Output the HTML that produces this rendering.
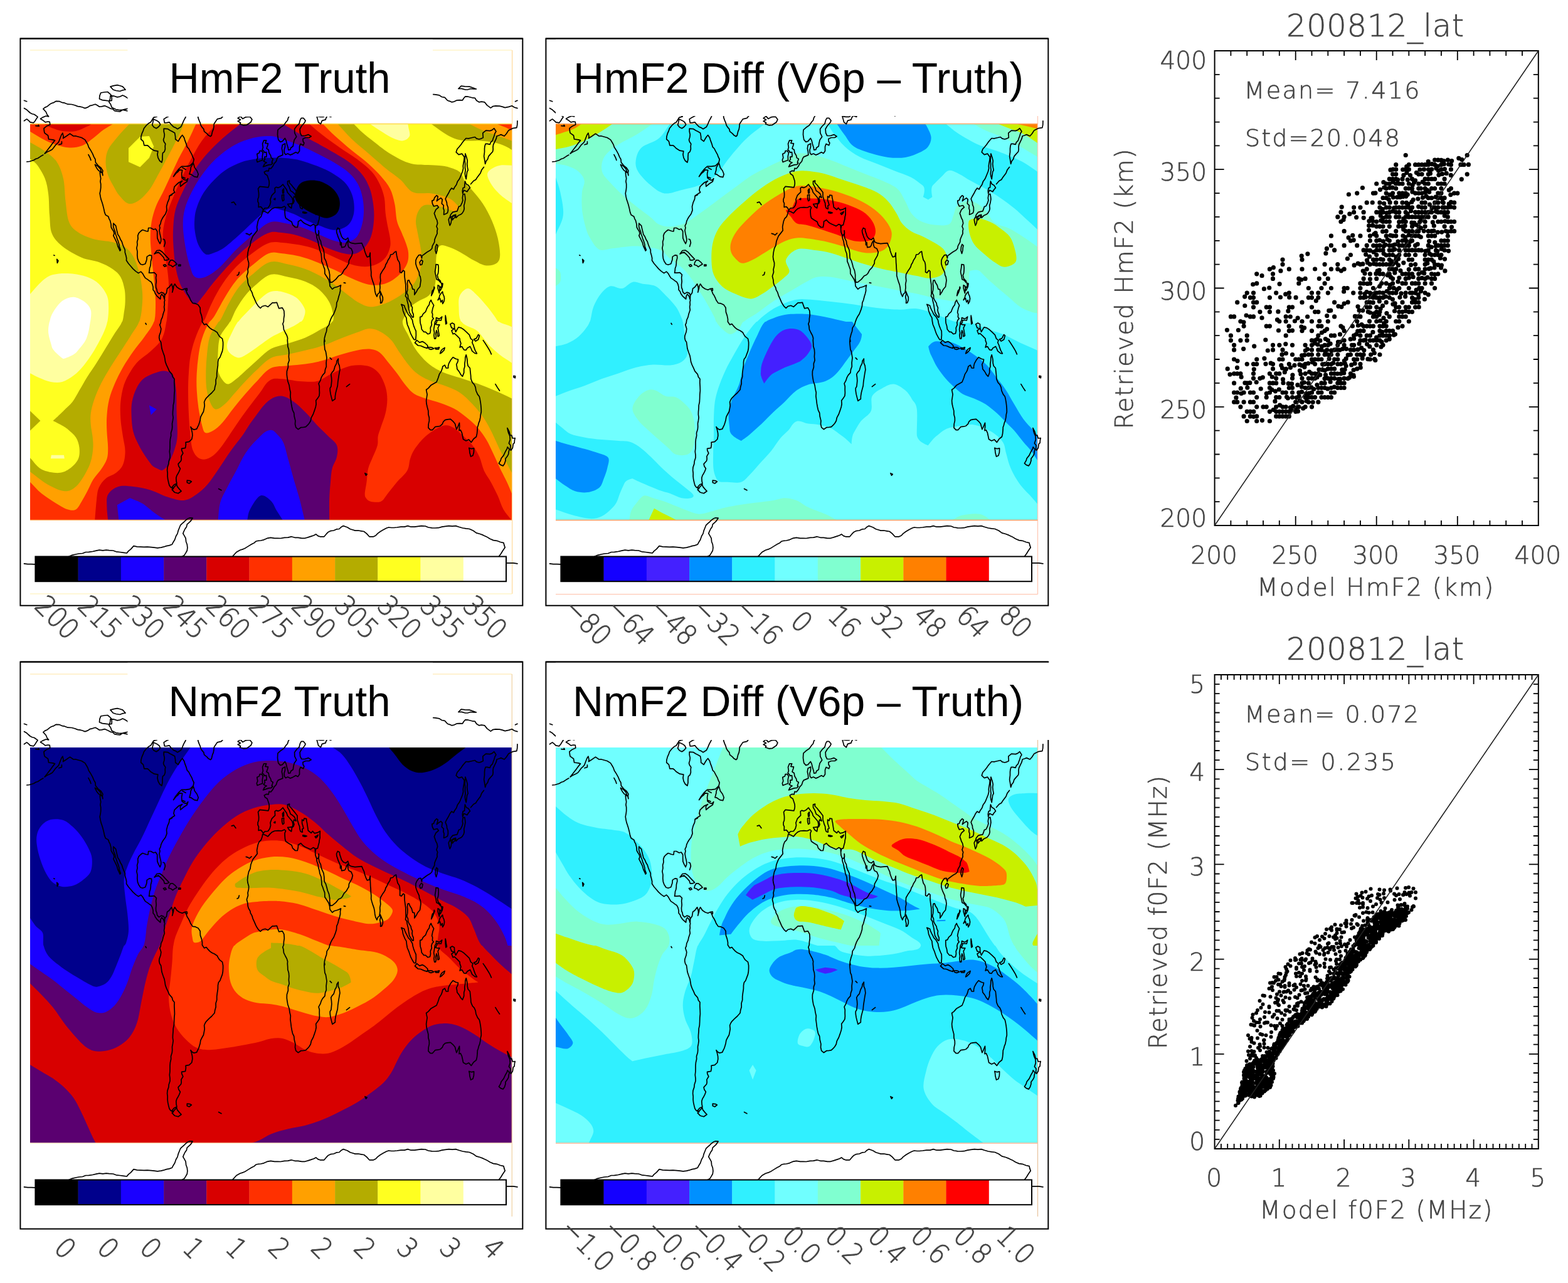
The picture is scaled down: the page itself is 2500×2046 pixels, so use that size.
<!DOCTYPE html>
<html lang="en"><head><meta charset="utf-8"><title>HmF2 / NmF2 retrieval comparison</title>
<style>
html,body{margin:0;padding:0;background:#fff}
body{width:2500px;height:2046px;overflow:hidden}
svg{display:block}
text{white-space:pre}
</style></head><body>
<svg width="2500" height="2046" viewBox="0 0 2500 2046">
<rect width="2500" height="2046" fill="#fff"/>
<g id="panel1">
<clipPath id="clip1"><rect x="48" y="197" width="768.3" height="632.5"/></clipPath>
<g clip-path="url(#clip1)">
<rect x="48" y="197" width="768.3" height="632.5" fill="#ffa000"/>
<clipPath id="q1TL"><rect x="48" y="197" width="384.3" height="317.3"/></clipPath>
<g clip-path="url(#q1TL)">
<rect x="48" y="197" width="384.3" height="317.3" fill="#ffa000"/>
<path d="M35.4 219.8C35.4 219.8 40.7 222.9 48 227.1C55.3 231.4 62.9 234.9 69.9 239.9C76.9 244.9 84.8 249.8 90 257.3C95.2 264.7 98.5 274 101 284.7C103.4 295.3 103.1 309.6 104.6 321.2C106.1 332.7 106.7 345.8 110.1 354C113.4 362.3 118 365.9 124.7 370.5C131.4 375 141.1 378.9 150.3 381.4C159.4 384 171.3 383.9 179.5 386C187.7 388.1 194.1 390.4 199.6 394.2C205 398 208.7 402.4 212.4 408.8C216 415.2 219.2 424.7 221.5 432.6C223.8 440.5 225.1 448.1 226 456.3C227 464.5 227.7 472.3 227 481.9C226.3 491.5 225.6 503.8 221.8 514C218.1 524.2 219.6 528.4 219.6 528.4L11.5 551.3L35.4 219.8Z" fill="#b4ac00"/>
<path d="M36.8 244.3C36.8 244.3 44.3 250.6 48 253.6C51.7 256.7 55 257.6 59 262.7C62.9 267.9 68.7 276.7 71.7 284.7C74.8 292.6 76 300.5 77.2 310.2C78.4 320 78.1 332.7 79 343.1C80 353.4 79.3 364.1 82.7 372.3C86 380.5 91.2 386 99.1 392.4C107 398.8 120.4 406.4 130.2 410.7C139.9 414.9 149.4 414.9 157.6 418C165.8 421 173.7 425 179.5 428.9C185.3 432.9 189.1 436.2 192.3 441.7C195.5 447.2 197.4 455.1 198.7 461.8C199.9 468.5 199.7 475.8 199.6 481.9C199.4 488 198.6 493 197.7 498.3C196.9 503.7 196.6 509.1 194.6 514C192.7 519 191.8 528.4 191.8 528.4L11.5 551.3L36.8 244.3Z" fill="#ffff20"/>
<path d="M38.2 479.9C38.2 479.9 41.9 475.8 48 469.1C54.1 462.4 60.2 454.2 66.3 449C72.3 443.8 76.9 440.2 84.5 438.1C92.1 435.9 102.8 435.6 111.9 436.2C121 436.8 131.7 439 139.3 441.7C146.9 444.4 152.4 447.8 157.6 452.7C162.7 457.5 167.8 464.8 170.4 470.9C172.9 477 173 482 173.1 489.2C173.2 496.4 172.8 505.9 171.1 514C169.4 522.2 169.9 528.6 169.9 528.6L11.5 551.3L38.2 479.9Z" fill="#ffffa0"/>
<path d="M73.9 527.8C73.9 527.8 77.7 519.5 78.9 514C80.1 508.6 81.1 504 84.5 498.3C87.9 492.7 93.7 484.2 99.1 480.1C104.6 475.9 111.3 473.4 117.4 473.7C123.5 474 131.1 478.4 135.7 481.9C140.2 485.4 143.4 489.3 144.8 494.7C146.2 500 144.8 507.6 143.9 514C143 520.4 143.2 528.6 143.2 528.6L73.9 527.8Z" fill="#ffffff"/>
<path d="M216.7 186.2C216.7 186.2 213.6 189.7 206.9 197C200.2 204.3 192.6 211.9 186.8 218.9C181 225.9 175.2 232.3 172.2 239C169.1 245.7 168.5 252.4 168.5 259.1C168.5 265.8 170 272.8 172.2 279.2C174.3 285.6 178.3 292 181.3 297.4C184.4 302.9 186.5 307.5 190.4 312C194.4 316.6 199.9 323.6 205 324.8C210.2 326 216 323 221.5 319.4C227 315.7 233.4 308.7 237.9 302.9C242.5 297.1 244.9 291.7 248.9 284.7C252.8 277.7 257.4 268.8 261.7 260.9C265.9 253 270.5 244.8 274.4 237.2C278.4 229.6 282.2 222 285.4 215.3C288.6 208.6 290.9 203.1 293.6 197C296.4 190.9 299.6 183.7 299.6 183.7L216.7 186.2Z" fill="#b4ac00"/>
<path d="M205 236.3L223.3 218L237.9 217.1L245.2 233.5L237.9 251.8L223.3 266.4L205 258.2Z" fill="#ffff20"/>
<path d="M35.5 202.3C35.5 202.3 41.9 206.1 48 209.8C54.1 213.4 60.2 217.5 66.3 220.7C72.3 223.9 77.5 226.5 84.5 229C91.5 231.4 100.7 234.7 108.3 235.3C115.9 236 123.2 235.3 130.2 232.6C137.2 229.9 144.5 223.2 150.3 218.9C156 214.7 159.7 210.7 164.9 207C170 203.4 175.8 200.3 181.3 197C186.8 193.7 193.8 189.4 193.8 189.4L11.5 160.5L35.5 202.3Z" fill="#ff3000"/>
<path d="M57.4 189.5C57.4 189.5 66.9 195.2 69.9 197C73 198.8 74.2 200.5 79 202.5C83.9 204.5 92.1 207.8 99.1 208.9C106.1 209.9 114.4 210.1 121 208.9C127.7 207.7 134.9 203.5 139.3 201.6C143.7 199.6 144.8 198.5 147.5 197C150.3 195.5 160.3 189.7 160.3 189.7L57.4 189.5Z" fill="#d80000"/>
<path d="M319 183.8C319 183.8 317.1 187.9 312.8 197C308.5 206.1 304.6 215.3 300 224.4C295.4 233.5 290 242.7 285.4 251.8C280.8 260.9 276.9 270 272.6 279.2C268.4 288.3 263.8 298.4 259.8 306.6C255.9 314.8 251.9 320.6 248.9 328.5C245.8 336.4 243.1 345.5 241.6 354C240.1 362.6 239.7 370.8 239.7 379.6C239.7 388.4 240.8 397.9 241.6 407C242.3 416.1 243.4 425.3 244.3 434.4C245.2 443.5 246.4 452.7 247.1 461.8C247.7 470.9 248.2 480.5 248 489.2C247.7 497.9 248.1 506.1 245.4 514C242.7 521.9 243.9 528.6 243.9 528.6L324.9 525.5C324.9 525.5 331.7 517.7 334 514C336.2 510.3 337.9 510.4 342 503.8C346.1 497.2 352.7 484 358.4 474.6C364.2 465.1 369.1 456 376.7 447.2C384.3 438.4 394.9 429 404.1 421.6C413.3 414.3 421.2 405.9 432 403C442.9 400.1 444.2 394.9 444.2 394.9L468 160.5L319 183.8Z" fill="#ff3000"/>
<path d="M355.2 186C355.2 186 353.6 187.9 345.7 197C337.7 206.1 328.9 214.7 321.9 224.4C314.9 234.1 309.1 245.4 303.7 255.4C298.2 265.5 293.6 274.9 289.1 284.7C284.5 294.4 280.2 304.1 276.3 313.9C272.3 323.6 268.1 333.7 265.3 343.1C262.6 352.5 260.4 361.4 259.8 370.5C259.2 379.6 260.6 388.7 261.7 397.9C262.7 407 265 416.1 266.2 425.3C267.4 434.4 268.7 443.5 269 452.7C269.3 461.8 268.7 469.8 268.1 480.1C267.4 490.3 267.2 502.8 265.3 514C263.4 525.2 264.1 528.6 264.1 528.6L315.3 526.3C315.3 526.3 322 516.3 323.2 514C324.4 511.7 324.9 512.8 327.4 507.4C329.9 502.1 333.8 491 338.4 481.9C342.9 472.7 348.4 462.1 354.8 452.7C361.2 443.2 368.5 433.6 376.7 425.3C384.9 416.9 394.9 408.9 404.1 402.4C413.3 396 421.7 389.2 432 386.6C442.4 383.9 444.7 379.3 444.7 379.3L468 160.5L355.2 186Z" fill="#d80000"/>
<path d="M395.4 187.8C395.4 187.8 393.8 189.1 384 197C374.3 204.9 363.9 212.5 354.8 220.7C345.7 229 337.1 237.2 329.2 246.3C321.3 255.4 313.7 265.5 307.3 275.5C300.9 285.6 295.4 296.8 290.9 306.6C286.3 316.3 282.4 324.8 279.9 334C277.5 343.1 276.9 352.2 276.3 361.4C275.7 370.5 275.7 378.1 276.3 388.7C276.9 399.4 278.1 414.6 279.9 425.3C281.7 435.9 283.9 444.4 287.2 452.7C290.6 460.9 296.1 469.1 300 474.6C304 480.1 307.3 485.5 311 485.5C314.6 485.5 317.1 480.4 321.9 474.6C326.8 468.8 332.6 460 340.2 450.8C347.8 441.7 358.4 429.4 367.6 419.8C376.7 410.2 384.2 401.6 395 393.3C405.7 385.1 418 374 432 370.3C446.1 366.6 444.5 362.6 444.5 362.6L468 160.5L395.4 187.8Z" fill="#5a0070"/>
<path d="M446.6 215.7C446.6 215.7 441.4 217.8 432 217.1C422.7 216.4 413.9 217.4 404.1 219.8C394.3 222.3 383.1 226.1 373.1 231.7C363 237.3 352.4 245.7 343.8 253.6C335.3 261.5 328.3 270.4 321.9 279.2C315.5 288 310.1 297.4 305.5 306.6C300.9 315.7 296.8 324.8 294.5 334C292.2 343.1 291.5 350.7 291.8 361.4C292.1 372 294.4 386.9 296.4 397.9C298.3 408.8 301.2 419.8 303.7 427.1C306.1 434.4 307 439.3 311 441.7C314.9 444.1 321 444.1 327.4 441.7C333.8 439.3 341.1 434.4 349.3 427.1C357.5 419.8 367.6 406.7 376.7 397.9C385.8 389.1 394.9 381.5 404.1 374.1C413.3 366.8 420.9 356.9 432 353.9C443.1 350.9 443.9 345.3 443.9 345.3L446.6 215.7Z" fill="#1a00ff"/>
<path d="M446.6 251.1C446.6 251.1 438.3 251.6 432 251.8C425.8 251.9 420.9 251.6 413.2 252.7C405.5 253.8 395 255 385.8 258.2C376.7 261.4 366.7 266.2 358.4 271.9C350.2 277.5 342.6 285.3 336.5 292C330.4 298.7 325.9 305 321.9 312C318 319 314.8 327.3 312.8 334C310.8 340.7 310.4 346.1 310.1 352.2C309.7 358.3 309.9 364.1 311 370.5C312 376.9 313.7 384.8 316.4 390.6C319.2 396.4 323.4 403.1 327.4 405.2C331.4 407.3 335 405.2 340.2 403.4C345.4 401.5 350.8 399.7 358.4 394.2C366.1 388.7 376.7 378.7 385.8 370.5C395 362.3 405.5 351.3 413.2 344.9C420.9 338.5 424.6 333.6 432 332C439.5 330.3 444.1 323.7 444.1 323.7L446.6 251.1Z" fill="#00008c"/>
<path d="M444.2 409.5C444.2 409.5 443 415.1 432 417.6C421.1 420.1 412.4 429.8 404.1 436.2C395.8 442.7 388.6 448.7 382.2 456.3C375.8 463.9 370.6 473.4 365.8 481.9C360.9 490.4 355.8 502.1 353 507.4C350.1 512.8 350 511.8 348.6 514C347.2 516.3 340.5 526.2 340.5 526.2L468 551.3L444.2 409.5Z" fill="#b4ac00"/>
<path d="M444.2 429.6C444.2 429.6 440.8 435.7 432 437.7C423.3 439.7 416.4 447.1 409.6 452.7C402.8 458.2 396.8 464.2 391.3 470.9C385.8 477.6 380.8 485.7 376.7 492.8C372.6 500 370.5 507.2 366.7 514C362.8 520.8 360.4 527.2 360.4 527.2L468 551.3L444.2 429.6Z" fill="#ffff20"/>
<path d="M444 456.7C444 456.7 439.4 462.9 432 465.1C424.7 467.3 419.4 473 413.2 478.2C407.1 483.5 400.6 490.5 395 496.5C389.3 502.5 383.8 507.6 379.3 514C374.8 520.4 369.5 524.9 369.5 524.9L468 551.3L444 456.7Z" fill="#ffffa0"/>
</g>
<clipPath id="q1TR"><rect x="432" y="197" width="385" height="317.3"/></clipPath>
<g clip-path="url(#q1TR)">
<rect x="432" y="197" width="385" height="317.3" fill="#b4ac00"/>
<path d="M553.2 186.7C553.2 186.7 558.6 192.1 563.5 197C568.4 201.9 572.6 206.7 578.1 211.6C583.6 216.5 588.7 220.4 596.4 226.2C604 232 614 240.5 623.9 246.3C633.8 252.1 643.6 258 655.7 260.9C667.8 263.8 686.9 262.7 696.8 263.7C706.7 264.6 709 264.6 715.1 266.4C721.1 268.2 728.7 270.2 733.3 274.6C737.9 279 739.4 288.3 742.4 292.9C745.5 297.4 747 296.7 751.6 302C756.1 307.3 764.4 316.5 769.8 324.8C775.3 333.2 780.5 343.1 784.4 352.2C788.4 361.4 791.4 370.5 793.6 379.6C795.7 388.7 797.5 400.3 797.2 407C796.9 413.7 795.4 417.1 791.8 419.8C788.1 422.5 781.1 424.1 775.3 423.4C769.5 422.8 763.1 419.2 757.1 416.1C751 413.1 745.2 408.7 738.8 405.2C732.4 401.7 724.8 397.4 718.7 395.1C712.6 392.9 706.1 389.5 702.3 391.5C698.5 393.5 697.1 399.9 695.9 407C694.7 414.2 695.4 426.2 695 434.4C694.5 442.6 695 450.2 693.1 456.3C691.3 462.4 688 467.1 684 470.9C680.1 474.7 674.3 476.1 669.4 479.1C664.5 482.2 658.7 485.1 654.8 489.2C650.8 493.3 647.8 499.7 645.7 503.8C643.5 507.9 641.7 510.4 641.8 514C641.9 517.7 636.7 527.7 636.7 527.7L852 551.3L852 238.1L828.8 246.2C828.8 246.2 819.3 240.8 816 239C812.8 237.2 811 235.5 806.4 233.5C801.7 231.5 794.9 228.7 788.1 227.1C781.3 225.6 772.9 224.8 765.3 224.4C757.7 223.9 749.3 225 742.4 224.4C735.6 223.8 730.3 223 724.2 220.7C718.1 218.5 712.2 214.7 705.9 210.7C699.7 206.7 693.1 201.6 686.7 197C680.4 192.4 674.9 188.5 674.9 188.5L553.2 186.7Z" fill="#ffff20"/>
<path d="M576.9 188.9C576.9 188.9 583.6 193.3 589 197C594.5 200.7 599.7 204.3 605.5 208C611.3 211.6 617.7 216.2 623.7 218.9C629.8 221.7 637.1 224.7 642 224.4C646.9 224.1 651.4 220.7 653 217.1C654.5 213.4 651.6 205.8 651.1 202.5C650.7 199.1 650.5 198.8 650.2 197C649.9 195.2 647.8 182.6 647.8 182.6L576.9 188.9Z" fill="#ffffa0"/>
<path d="M830.6 263.7C830.6 263.7 822.3 263.7 816 263.7C809.8 263.7 802.8 262.6 797.2 263.7C791.7 264.7 786 267.5 782.6 270C779.3 272.6 776.8 274.9 777.1 279.2C777.4 283.4 781.1 290.4 784.4 295.6C787.8 300.8 792.7 306 797.2 310.2C801.8 314.5 808.7 318.9 811.8 321.2C815 323.5 814.6 323 816 323.9C817.4 324.8 828.3 331.9 828.3 331.9L830.6 263.7Z" fill="#ffffa0"/>
<path d="M738.4 528.4C738.4 528.4 740.7 520.9 735.9 514C731.1 507.1 731.9 496.4 731.5 489.2C731.1 482 730.9 475.8 733.3 470.9C735.7 466.1 741.5 460 746.1 460C750.7 460 755.5 466.1 760.7 470.9C765.9 475.8 772.6 483.7 777.1 489.2C781.7 494.7 785 499.7 788.1 503.8C791.2 507.9 792.3 511.4 795.6 514C798.9 516.6 804.2 525.8 804.2 525.8L738.4 528.4Z" fill="#ffffa0"/>
<path d="M417.5 435.6C417.5 435.6 423 439.7 432 437.7C441 435.7 450.3 439.8 459.4 441.7C468.5 443.6 478.6 445.7 486.8 449C495 452.4 502.3 456.3 508.7 461.8C515.1 467.3 521.3 474.9 525.1 481.9C528.9 488.9 530.8 498.4 531.5 503.8C532.3 509.1 531.4 511.1 529.5 514C527.6 516.9 526.7 528.4 526.7 528.4L395.5 551.3L417.5 435.6Z" fill="#ffff20"/>
<path d="M417.4 464.8C417.4 464.8 426.2 466.8 432 465.1C437.8 463.3 443.6 463.9 450.3 465.4C457 467 466.2 470 472.2 474.6C478.1 479.1 483.9 487.4 485.9 492.8C487.8 498.3 485.2 503.9 484 507.4C482.9 511 481.1 512.2 478.9 514C476.8 515.8 470 525.6 470 525.6L395.5 551.3L417.4 464.8Z" fill="#ffffa0"/>
<path d="M733.8 189.7C733.8 189.7 739.4 193.3 747 197C754.6 200.7 762.2 204.8 769.8 208C777.4 211.2 785 213.4 792.7 216.2C800.4 218.9 808.2 221.7 816 224.4C823.8 227.1 829.8 229.2 829.8 229.2L852 160.5L733.8 189.7Z" fill="#ffa000"/>
<path d="M776.2 189.7C776.2 189.7 785.1 195.2 789.9 197C794.8 198.8 800.2 200.7 804.5 202.5C808.9 204.3 812.2 206.1 816 208C819.9 209.8 829.2 214.2 829.2 214.2L852 160.5L776.2 189.7Z" fill="#ff3000"/>
<path d="M808.2 189.7L822.8 200.7L852 160.5L808.2 189.7Z" fill="#d80000"/>
<path d="M528 186.3C528 186.3 530.6 189.1 537.9 197C545.2 204.9 551.6 212.8 559.8 220.7C568 228.7 578.1 236.6 587.2 244.5C596.4 252.4 606.1 261.2 614.6 268.2C623.1 275.2 631.1 280.1 638.4 286.5C645.7 292.9 650.2 302.9 658.4 306.6C666.7 310.2 678.2 306.9 687.7 308.4C697.1 309.9 708.2 312.7 715.1 315.7C721.9 318.7 726 323.6 728.7 326.7C731.5 329.7 732.2 332.3 731.5 334C730.7 335.6 729.2 337.5 724.2 336.7C719.2 335.9 709 331.1 701.4 329.4C693.7 327.7 684.2 325.6 678.5 326.7C672.9 327.7 670.2 331.5 667.6 335.8C665 340 663.3 346.4 663 352.2C662.7 358 664.7 364.4 665.7 370.5C666.8 376.6 668.3 382.7 669.4 388.7C670.5 394.8 671.8 400.9 672.1 407C672.4 413.1 672.3 419.5 671.2 425.3C670.2 431.1 668.2 436.5 665.7 441.7C663.3 446.9 661.2 451.4 656.6 456.3C652.1 461.2 645.4 466.4 638.4 470.9C631.4 475.5 622.5 480.7 614.6 483.7C606.7 486.7 598.2 489.5 590.9 489.2C583.6 488.9 577.5 485.5 570.8 481.9C564.1 478.2 556.8 471.8 550.7 467.3C544.6 462.7 541 459.1 534.3 454.5C527.6 449.9 518.4 444.1 510.5 439.9C502.6 435.6 495.3 432 486.8 428.9C478.3 425.9 468.5 423.5 459.4 421.6C450.3 419.7 441 415.6 432 417.6C423 419.6 417.5 415.5 417.5 415.5L395.5 160.5L528 186.3Z" fill="#ffa000"/>
<path d="M503.8 186.7C503.8 186.7 507.5 190.3 514.2 197C520.9 203.7 526.7 210.1 534.3 217.1C541.9 224.1 551 231.7 559.8 239C568.7 246.3 579.3 253.9 587.2 260.9C595.1 267.9 601.5 274.3 607.3 281C613.1 287.7 618.3 293.8 621.9 301.1C625.6 308.4 627.4 316.3 629.2 324.8C631.1 333.4 631.1 344.6 632.9 352.2C634.7 359.8 637.7 364.4 640.2 370.5C642.6 376.6 645.7 383.3 647.5 388.7C649.3 394.2 650.8 398.2 651.1 403.4C651.4 408.5 651.4 414.3 649.3 419.8C647.2 425.3 642.9 431.4 638.4 436.2C633.8 441.1 627.7 446 621.9 449C616.1 452.1 610 453.9 603.7 454.5C597.3 455.1 590.9 454.5 583.6 452.7C576.3 450.8 568 447.2 559.8 443.5C551.6 439.9 543.4 435 534.3 430.7C525.1 426.5 514.5 421.6 505 418C495.6 414.3 486.8 411.1 477.7 408.8C468.5 406.6 457.9 405.2 450.3 404.3C442.7 403.3 437.9 401.4 432 403C426.1 404.6 417.4 402 417.4 402L395.5 160.5L503.8 186.7Z" fill="#ff3000"/>
<path d="M481 187.6C481 187.6 485 190.9 492.3 197C499.6 203.1 506 208.9 514.2 215.3C522.4 221.7 532.4 229 541.6 235.3C550.7 241.7 560.4 247.2 569 253.6C577.5 260 586.6 267 592.7 273.7C598.8 280.4 602.1 286.8 605.5 293.8C608.8 300.8 611.3 308.1 612.8 315.7C614.3 323.3 613.7 331.8 614.6 339.4C615.5 347 617 354.7 618.3 361.4C619.5 368 621.3 374.1 621.9 379.6C622.5 385.1 623.1 389.1 621.9 394.2C620.7 399.4 618.3 406.1 614.6 410.7C611 415.2 605.5 419.2 600 421.6C594.5 424.1 588.4 425.3 581.7 425.3C575 425.3 567.7 424.1 559.8 421.6C551.9 419.2 543.4 414.6 534.3 410.7C525.1 406.7 514.5 401.2 505 397.9C495.6 394.5 486.8 392.4 477.7 390.6C468.5 388.7 457.9 387.6 450.3 386.9C442.7 386.3 437.9 385.1 432 386.6C426.1 388.1 417.4 386.3 417.4 386.3L395.5 160.5L481 187.6Z" fill="#d80000"/>
<path d="M437.7 189.5C437.7 189.5 441.1 191.5 450.3 197C459.4 202.5 468.5 208.3 477.7 213.4C486.8 218.6 495.6 222.9 505 228C514.5 233.2 525.1 239 534.3 244.5C543.4 250 552.5 255.1 559.8 260.9C567.1 266.7 573.2 272.8 578.1 279.2C583 285.6 586.3 292.3 589 299.3C591.8 306.3 593.3 313.9 594.5 321.2C595.7 328.5 596.4 335.8 596.4 343.1C596.4 350.4 595.7 358.3 594.5 365C593.3 371.7 591.8 377.8 589 383.3C586.3 388.7 582.4 394.2 578.1 397.9C573.8 401.5 569 404.3 563.5 405.2C558 406.1 551.9 404.9 545.2 403.4C538.5 401.8 531.5 399.4 523.3 396.1C515.1 392.7 505 386.9 495.9 383.3C486.8 379.6 476.7 376.2 468.5 374.1C460.3 372.1 452.7 371.5 446.6 370.8C440.5 370.2 436.7 369.1 432 370.3C427.3 371.5 417.4 369.8 417.4 369.8L395.5 160.5L437.7 189.5Z" fill="#5a0070"/>
<path d="M417.8 213.5C417.8 213.5 425.7 216.6 432 217.1C438.3 217.5 442.7 219.2 450.3 221.7C457.9 224.1 468.5 227.9 477.7 231.7C486.8 235.5 495.9 239.9 505 244.5C514.2 249 523.9 253.9 532.4 259.1C541 264.3 549.8 269.7 556.2 275.5C562.6 281.3 567.1 287.1 570.8 293.8C574.4 300.5 576.6 308.1 578.1 315.7C579.6 323.3 580.2 331.8 579.9 339.4C579.6 347 578.4 354.7 576.3 361.4C574.1 368 571.4 375.4 567.1 379.6C562.9 383.9 556.8 386.3 550.7 386.9C544.6 387.5 537.6 385.4 530.6 383.3C523.6 381.1 516.6 377.5 508.7 374.1C500.8 370.8 492 366.2 483.1 363.2C474.3 360.2 464.3 357.8 455.7 356.2C447.2 354.7 439.7 351.8 432 353.9C424.3 355.9 417.5 352.4 417.5 352.4L417.8 213.5Z" fill="#1a00ff"/>
<path d="M417.4 251.8C417.4 251.8 425.9 251.9 432 251.8C438.1 251.6 442.7 251.2 450.3 251.8C457.9 252.4 468.5 253.3 477.7 255.4C486.8 257.6 496.5 261.2 505 264.6C513.6 267.9 521.5 271.3 528.8 275.5C536.1 279.8 543.7 285 548.9 290.1C554 295.3 557.2 300.8 559.8 306.6C562.4 312.4 563.8 318.7 564.4 324.8C565 330.9 564.9 337.6 563.5 343.1C562.1 348.6 559.8 353.9 556.2 357.7C552.5 361.5 546.4 364.5 541.6 365.9C536.7 367.3 532.4 367 527 365.9C521.5 364.9 514.8 361.8 508.7 359.5C502.6 357.2 497.1 355.3 490.4 352.2C483.7 349.2 475.2 344.1 468.5 341.3C461.8 338.4 456.3 336.8 450.3 335.2C444.2 333.7 438 330.6 432 332C426 333.3 417.6 329.4 417.6 329.4L417.4 251.8Z" fill="#00008c"/>
<path d="M470.3 310.2C471 305.4 474 297.5 477.7 293.8C481.3 290 486.8 288.5 492.3 287.8C497.7 287 504.4 287.3 510.5 289.2C516.6 291.1 523.9 295.2 528.8 299.3C533.7 303.4 537.6 309 539.7 313.9C541.9 318.7 542.2 323.9 541.6 328.5C541 333 539.4 338.1 536.1 341.3C532.7 344.5 526.7 347.4 521.5 347.7C516.3 348 510.8 345.4 505 343.1C499.3 340.8 492 337.3 486.8 334C481.6 330.6 476.7 327 474 323C471.3 319 469.7 315.1 470.3 310.2Z" fill="#000000"/>
</g>
<clipPath id="q1BL"><rect x="48" y="513" width="384.3" height="318"/></clipPath>
<g clip-path="url(#q1BL)">
<rect x="48" y="513" width="384.3" height="318" fill="#d80000"/>
<path d="M269.1 498.9C269.1 498.9 266.9 503.7 265.3 513C263.7 522.3 262.3 532.5 258 540.4C253.7 548.3 245.8 554.7 239.7 560.5C233.7 566.3 226.7 569.9 221.5 575.1C216.3 580.3 212.7 585.1 208.7 591.5C204.7 597.9 200.5 605.2 197.7 613.4C195 621.7 193.2 631.7 192.3 640.8C191.4 650 191.7 659.1 192.3 668.2C192.9 677.4 194.7 687.1 195.9 695.6C197.1 704.1 199.6 711.7 199.6 719.4C199.6 727 198.4 735.5 195.9 741.3C193.5 747.1 189.5 750.4 185 754.1C180.4 757.7 173.1 759.2 168.5 763.2C164 767.1 160 772 157.6 777.8C155.1 783.6 155 789.2 153.9 797.9C152.9 806.6 152.1 819.3 151.2 830C150.3 840.7 149.9 844.6 149.9 844.6L11.5 867.3L11.5 476.5L269.1 498.9Z" fill="#ff3000"/>
<path d="M253.1 500.6C253.1 500.6 248.4 504.2 245.4 513C242.4 521.8 236.1 528.8 230.6 536.7C225.1 544.7 218.1 552.3 212.4 560.5C206.6 568.7 200.8 577.5 195.9 586C191 594.6 186.8 603.1 183.1 611.6C179.5 620.1 176.1 628.7 174 637.2C171.9 645.7 171 654.2 170.4 662.7C169.7 671.3 170 679.8 170.4 688.3C170.7 696.8 172.2 706.6 172.2 713.9C172.2 721.2 172.2 726.4 170.4 732.1C168.5 737.9 164.9 743.1 161.2 748.6C157.6 754.1 152.1 759.2 148.4 765C144.8 770.8 142.4 777.5 139.3 783.3C136.3 789.1 133.2 794.8 130.2 799.7C127.1 804.6 124.7 810.4 121 812.5C117.4 814.6 112.8 813.7 108.3 812.5C103.7 811.3 100.7 809.4 93.7 805.2C86.7 800.9 73.9 793 66.3 786.9C58.7 780.8 54.1 774.7 48 768.7C41.9 762.6 37.7 758.3 37.7 758.3L11.5 476.5L253.1 500.6Z" fill="#ffa000"/>
<path d="M229.4 500.5C229.4 500.5 224.8 505 221.8 513C218.9 521 213.6 527 208.7 534.9C203.8 542.8 197.7 552 192.3 560.5C186.8 569 181 577.5 175.8 586C170.7 594.6 165.5 603.1 161.2 611.6C157 620.1 153 629.3 150.3 637.2C147.5 645.1 145.7 652.4 144.8 659.1C143.9 665.8 144.3 671.3 144.8 677.4C145.2 683.4 146.9 689.5 147.5 695.6C148.1 701.7 148.9 707.2 148.4 713.9C148 720.6 146.9 728.8 144.8 735.8C142.7 742.8 139.6 749.2 135.7 755.9C131.7 762.6 126.5 771.4 121 776C115.6 780.5 110.4 783.9 102.8 783.3C95.2 782.7 84.5 777.5 75.4 772.3C66.3 767.1 57.1 758.9 48 752.2C38.9 745.5 36.2 743.6 36.2 743.6L11.5 476.5L229.4 500.5Z" fill="#b4ac00"/>
<path d="M202.4 500.6C202.4 500.6 197.3 506.3 194.6 513C192 519.7 187.5 524.3 183.1 531.3C178.8 538.3 173.4 547.1 168.5 555C163.7 562.9 158.8 571.1 153.9 578.7C149 586.4 143.9 593.4 139.3 600.7C134.7 608 130.5 615.9 126.5 622.6C122.6 629.3 119.8 635.4 115.6 640.8C111.3 646.3 105.8 650.6 101 655.4C96.1 660.3 84.5 671 84.5 671C84.5 671 104 680.4 108.3 684.7C112.5 688.9 118 692.6 121 697.4C124.1 702.3 125.9 708.1 126.5 713.9C127.1 719.7 127.1 726.7 124.7 732.1C122.3 737.6 117.1 743.1 111.9 746.7C106.7 750.4 101.3 753.7 93.7 754.1C86 754.4 73.9 752.5 66.3 748.6C58.7 744.6 54.1 736.4 48 730.3C41.9 724.2 37.7 720 37.7 720L11.5 476.5L202.4 500.6Z" fill="#ffff20"/>
<path d="M40.7 648.1L64.4 671L40.7 693.8Z" fill="#b4ac00"/>
<path d="M81.8 725.7L101.9 725.7L102.8 731.2L80.9 731.2Z" fill="#ffffa0"/>
<path d="M175.8 499.2C175.8 499.2 172.4 506.7 171.1 513C169.8 519.3 168.3 523.7 164.9 531.3C161.4 538.9 155.4 550.1 150.3 558.7C145.1 567.2 139.3 575.7 133.8 582.4C128.4 589.1 123.2 594.4 117.4 598.8C111.6 603.2 105.2 607.2 99.1 608.9C93 610.5 87 609.9 80.9 608.9C74.8 607.8 68.1 604.8 62.6 602.5C57.1 600.2 52.9 597.6 48 595.2C43.1 592.7 34.9 588.6 34.9 588.6L11.5 476.5L175.8 499.2Z" fill="#ffffa0"/>
<path d="M80.2 498.4C80.2 498.4 80.2 507 78.9 513C77.5 519 76.6 524.6 77.2 531.3C77.9 538 80.9 545.9 82.7 553.2C84.5 560.5 101 572.3 101 572.3C101 572.3 118 567.2 122.9 560.5C127.7 553.8 134 548.3 137.5 540.4C141 532.5 142.6 522.3 143.9 513C145.2 503.7 147.2 498.8 147.2 498.8L80.2 498.4Z" fill="#ffffff"/>
<path d="M254.4 592.4C248.3 594.1 236.7 598.1 230.6 602.5C224.5 606.9 221.2 612.5 217.8 618.9C214.5 625.3 211.9 633.5 210.5 640.8C209.2 648.1 209.3 654.8 209.6 662.7C209.9 670.7 210.4 680.4 212.4 688.3C214.3 696.2 218.1 703.5 221.5 710.2C224.8 716.9 229.1 723.3 232.4 728.5C235.8 733.7 238.5 737 241.6 741.3C244.6 745.5 258 750.4 258 750.4C258 750.4 265.9 746.7 269 739.4C272 732.1 275.8 724.8 278.1 717.5C280.4 710.2 282.1 705.4 282.7 695.6C283.3 685.9 282.1 671.3 281.7 659.1C281.4 646.9 281.7 632.6 280.8 622.6C279.9 612.5 278.6 603.9 276.3 598.8C274 593.8 270.8 593.5 267.1 592.4C263.5 591.4 260.4 590.8 254.4 592.4Z" fill="#5a0070"/>
<path d="M237.9 646.3L249.8 652.7L240.7 661.8Z" fill="#1a00ff"/>
<path d="M329.2 499.7C329.2 499.7 327.9 504.2 323.2 513C318.5 521.8 314.2 531.3 311 540.4C307.7 549.5 305.3 558.7 303.7 567.8C302 576.9 301.5 586 300.9 595.2C300.3 604.3 300 611.9 300 622.6C300 633.2 300.3 646.9 300.9 659.1C301.5 671.3 302.6 685.9 303.7 695.6C304.7 705.4 305.2 711.7 307.3 717.5C309.4 723.3 312.8 727.9 316.4 730.3C320.1 732.7 324.7 733.4 329.2 732.1C333.8 730.9 339 727.6 343.8 723C348.7 718.4 353 712.4 358.4 704.7C363.9 697.1 370.6 686.2 376.7 677.4C382.8 668.5 388.9 660 395 651.8C401.1 643.6 407.1 635.8 413.2 628C419.4 620.3 423.3 609.8 432 605.4C440.8 601 441.4 594.2 441.4 594.2L468 476.5L329.2 499.7Z" fill="#ff3000"/>
<path d="M339.9 499.6C339.9 499.6 339.1 504.4 334 513C328.8 521.6 324.8 531.3 321.9 540.4C319 549.5 317.8 558.7 316.4 567.8C315.1 576.9 314.2 586 313.7 595.2C313.2 604.3 313.2 613.4 313.7 622.6C314.2 631.7 315.1 640.8 316.4 650C317.8 659.1 320.1 670.7 321.9 677.4C323.7 684 324.4 688.6 327.4 690.1C330.4 691.7 335.6 689.2 340.2 686.5C344.7 683.7 349.3 679.8 354.8 673.7C360.3 667.6 367 657.6 373.1 650C379.1 642.4 385.2 635 391.3 628C397.4 621 402.8 614.8 409.6 608C416.4 601.1 422.8 591.5 432 587.1C441.3 582.8 442.8 577.2 442.8 577.2L468 476.5L339.9 499.6Z" fill="#ffa000"/>
<path d="M356 500.4C356 500.4 353.4 505.2 348.6 513C343.7 520.8 337.8 528.2 334.7 536.7C331.6 545.3 331.2 555 330.1 564.1C329.1 573.3 328.5 582.4 328.3 591.5C328.2 600.7 328.2 610.7 329.2 618.9C330.3 627.1 332.3 635.2 334.7 640.8C337.1 646.5 339.9 652.1 343.8 652.7C347.8 653.3 353.3 648.9 358.4 644.5C363.6 640.1 369.4 632.3 374.9 626.2C380.4 620.1 385.5 614 391.3 608C397.1 601.9 402.8 595.9 409.6 589.7C416.4 583.5 423.3 575.2 432 570.9C440.8 566.6 443.2 561.5 443.2 561.5L468 476.5L356 500.4Z" fill="#b4ac00"/>
<path d="M374.7 500.8C374.7 500.8 371.3 504.8 366.7 513C362 521.2 354.3 528.2 351.1 536.7C347.9 545.3 348.1 555.3 347.5 564.1C346.9 573 346.3 582.7 347.5 589.7C348.7 596.7 352.1 602.3 354.8 606.1C357.5 609.9 360.3 612.8 363.9 612.5C367.6 612.2 371.5 608.4 376.7 604.3C381.9 600.2 388.9 593.4 395 587.9C401.1 582.4 407.1 576.7 413.2 571.4C419.4 566.2 424.9 560.1 432 556.3C439.1 552.5 443.4 547.1 443.4 547.1L468 476.5L374.7 500.8Z" fill="#ffff20"/>
<path d="M386.2 500.1C386.2 500.1 383.2 507.3 379.3 513C375.3 518.7 372.3 525.2 369.4 531.3C366.5 537.3 362.7 544.3 362.1 549.5C361.5 554.7 362.7 558.8 365.8 562.3C368.8 565.8 375.5 570.2 380.4 570.5C385.2 570.8 389.5 567.3 395 564.1C400.4 560.9 407.1 555.7 413.2 551.3C419.4 547 425.5 542 432 538C438.6 534 444 529.6 444 529.6L468 476.5L386.2 500.1Z" fill="#ffffa0"/>
<path d="M441.7 625.5C441.7 625.5 444 629.1 432 636.4C420 643.8 411.8 658.4 404.1 668.2C396.4 678.1 391.9 687.1 385.8 695.6C379.8 704.1 373.7 710.8 367.6 719.4C361.5 727.9 355.4 737.9 349.3 746.7C343.2 755.6 337.1 765.3 331.1 772.3C325 779.3 319.2 784.5 312.8 788.7C306.4 793 300.3 797.3 292.7 797.9C285.1 798.5 276 795.1 267.1 792.4C258.3 789.7 248.9 784.2 239.7 781.4C230.6 778.7 220.9 776.9 212.4 776C203.8 775.1 195.3 773.8 188.6 776C181.9 778.1 175.2 783.3 172.2 788.7C169.1 794.2 170.4 802 170.4 808.8C170.4 815.7 171.6 823 172.2 830C172.8 837.1 173.4 844.6 173.4 844.6L468 867.3L441.7 625.5Z" fill="#5a0070"/>
<path d="M444.1 677.5C444.1 677.5 441.1 685.9 432 685.8C423 685.6 416.4 694.9 409.6 701.1C402.8 707.3 396.8 714.8 391.3 723C385.8 731.2 381.6 741.3 376.7 750.4C371.8 759.5 366.4 769.3 362.1 777.8C357.8 786.3 353.6 792.8 351.1 801.5C348.7 810.2 348.7 820.5 347.5 830C346.3 839.5 345.6 844.5 345.6 844.5L468 867.3L444.1 677.5Z" fill="#1a00ff"/>
<path d="M390.4 844.2C390.4 844.2 392.5 835.9 394.1 830C395.6 824.2 395.1 819.1 398.6 812.5C402.1 805.9 409.5 792.9 415.1 790.6C420.6 788.3 427.4 794.5 432 798.8C436.7 803.1 445.2 805.2 445.2 805.2L468 867.3L390.4 844.2Z" fill="#00008c"/>
<path d="M190.4 838.1L186.8 805.2L206.9 794.2C206.9 794.2 224.5 800.3 230.6 805.2C236.7 810.1 243.1 815.7 248.9 819.8C254.7 823.9 259.8 826.6 265.3 830C270.8 833.4 277.7 837.7 277.7 837.7L190.4 838.1Z" fill="#1a00ff"/>
</g>
<clipPath id="q1BR"><rect x="432" y="513" width="385" height="318"/></clipPath>
<g clip-path="url(#q1BR)">
<rect x="432" y="513" width="385" height="318" fill="#d80000"/>
<path d="M417.9 640.1C417.9 640.1 426.6 639.7 432 636.4C437.4 633.1 444.2 631 450.3 631.7C456.3 632.4 462.4 636.6 468.5 640.8C474.6 645.1 480.7 651.2 486.8 657.3C492.9 663.4 499 671 505 677.4C511.1 683.7 518 690.1 523.3 695.6C528.6 701.1 534.7 704.7 537 710.2C539.3 715.7 538.2 722.4 537 728.5C535.8 734.6 531.4 740.1 529.7 746.7C528 753.4 527.7 760.4 527 768.7C526.2 776.9 525.4 785.8 525.1 796.1C524.8 806.3 525.1 818.7 525.1 830C525.1 841.3 525.1 844.6 525.1 844.6L395.5 867.3L417.9 640.1Z" fill="#5a0070"/>
<path d="M420.2 677.1C420.2 677.1 427.5 685.7 432 685.8C436.5 685.8 439.6 690.3 443 693.8C446.3 697.3 449.3 700.2 452.1 706.6C454.8 713 456.7 722.4 459.4 732.1C462.1 741.9 465.5 754.4 468.5 765C471.6 775.7 474.8 785.2 477.7 796.1C480.5 806.9 483.1 818.7 485.9 830C488.6 841.3 489.3 844.2 489.3 844.2L395.5 867.3L420.2 677.1Z" fill="#1a00ff"/>
<path d="M424.6 786.2C424.6 786.2 427.6 794.7 432 798.8C436.4 802.9 437.9 809.1 441.1 814.3C444.3 819.5 447.8 824.8 451.2 830C454.5 835.3 459 842.3 459 842.3L395.5 867.3L424.6 786.2Z" fill="#00008c"/>
<path d="M417.4 606.3C417.4 606.3 426.6 608.2 432 605.4C437.4 602.6 442.7 603.9 450.3 604.3C457.9 604.7 468.5 607.4 477.7 608C486.8 608.6 497.4 609.5 505 608C512.7 606.4 517.2 601.9 523.3 598.8C529.4 595.8 535.5 592.3 541.6 589.7C547.7 587.1 553.7 584.5 559.8 583.3C565.9 582.1 572.6 581.9 578.1 582.4C583.6 582.9 588.1 583.6 592.7 586C597.3 588.5 601.8 591.8 605.5 597C609.1 602.2 612.6 610.4 614.6 617.1C616.6 623.8 617.4 630.2 617.4 637.2C617.4 644.2 616.3 651.8 614.6 659.1C612.9 666.4 609.3 674.9 607.3 681C605.3 687.1 603.7 690.7 602.7 695.6C601.8 700.5 603.2 704.7 601.8 710.2C600.5 715.7 597 722.4 594.5 728.5C592.1 734.6 588.9 740.1 587.2 746.7C585.5 753.4 585.4 762 584.5 768.7C583.6 775.4 581.9 782.7 581.7 786.9C581.6 791.2 582 792.1 583.6 794.2C585.1 796.4 586.9 798.8 590.9 799.7C594.8 800.6 602.7 801.8 607.3 799.7C611.9 797.6 614 792.1 618.3 786.9C622.5 781.7 627.7 774.7 632.9 768.7C638.1 762.6 645.8 756.5 649.3 750.4C652.8 744.3 652.1 737.6 653.9 732.1C655.7 726.7 656.8 723 660.3 717.5C663.8 712.1 669.7 704.4 674.9 699.3C680.1 694.1 685.5 690 691.3 686.5C697.1 683 704.1 678.9 709.6 678.3C715.1 677.7 719.3 679.9 724.2 682.8C729.1 685.7 733.9 691 738.8 695.6C743.7 700.2 749.1 704.7 753.4 710.2C757.7 715.7 761.3 721.8 764.4 728.5C767.4 735.2 768.6 743.7 771.7 750.4C774.7 757.1 779 762 782.6 768.7C786.3 775.4 790.2 783.3 793.6 790.6C796.9 797.9 799 805.9 802.7 812.5C806.5 819.1 811.6 824.2 816 830C820.5 835.9 824.9 841.6 824.9 841.6L852 476.5L395.5 476.5L417.4 606.3Z" fill="#ff3000"/>
<path d="M417.5 589.2C417.5 589.2 423.7 591.1 432 587.1C440.3 583.2 450.3 584.4 459.4 583.3C468.5 582.2 477.7 581.9 486.8 580.6C495.9 579.2 505 577.5 514.2 575.1C523.3 572.7 532.4 568.7 541.6 566C550.7 563.2 560.7 560.2 569 558.7C577.2 557.1 584.8 556.2 590.9 556.8C597 557.4 600.9 559 605.5 562.3C610 565.7 613.7 571.4 618.3 576.9C622.8 582.4 628 588.8 632.9 595.2C637.7 601.6 642.9 609.8 647.5 615.3C652.1 620.7 655.1 624.7 660.3 628C665.4 631.4 671.5 632.9 678.5 635.4C685.5 637.8 694.7 639.9 702.3 642.7C709.9 645.4 717.5 648.1 724.2 651.8C730.9 655.4 736.4 659.7 742.4 664.6C748.5 669.4 755.2 674.9 760.7 681C766.2 687.1 771.1 694.1 775.3 701.1C779.6 708.1 782.6 715.4 786.3 723C789.9 730.6 793.6 739.1 797.2 746.7C800.9 754.4 805.1 762 808.2 768.7C811.3 775.4 813.4 780.8 816 786.9C818.7 793 823.3 800.3 823.3 800.3L852 476.5L395.5 476.5L417.5 589.2Z" fill="#ffa000"/>
<path d="M417.7 573.9C417.7 573.9 423.6 575 432 570.9C440.4 566.8 450.3 567.1 459.4 565C468.5 563 477.7 560.9 486.8 558.7C495.9 556.4 505 554.4 514.2 551.3C523.3 548.3 532.4 543.9 541.6 540.4C550.7 536.9 561 533.1 569 530.3C576.9 527.6 582.7 524.1 589 524C595.4 523.8 601.5 526.4 607.3 529.4C613.1 532.5 618.6 536.4 623.7 542.2C628.9 548 633.2 556.8 638.4 564.1C643.5 571.4 649.6 580.3 654.8 586C660 591.8 663.9 595.2 669.4 598.8C674.9 602.5 681 605.2 687.7 608C694.4 610.7 702 612.2 709.6 615.3C717.2 618.3 726 621.4 733.3 626.2C740.6 631.1 747.3 638.1 753.4 644.5C759.5 650.9 765 657.6 769.8 664.6C774.7 671.6 778.4 678.3 782.6 686.5C786.9 694.7 791.8 706.3 795.4 713.9C799.1 721.5 801.1 725.4 804.5 732.1C808 738.8 812.2 746.7 816 754.1C819.9 761.4 823.3 767 823.3 767L852 476.5L395.5 476.5L417.7 573.9Z" fill="#b4ac00"/>
<path d="M418.1 560.6C418.1 560.6 423.6 560.8 432 556.3C440.4 551.8 450.3 550.6 459.4 547.7C468.5 544.7 478.3 542.2 486.8 538.6C495.3 534.9 503.4 530 510.5 525.8C517.6 521.5 525.3 519.4 529.5 513C533.7 506.6 541.6 504.8 541.6 504.8L395.5 476.5L418.1 560.6Z" fill="#ffff20"/>
<path d="M419 544.8C419 544.8 426.1 541.6 432 538C437.9 534.4 442.4 532.7 450.3 528.5C458.1 524.4 470.6 520 478.9 513C487.2 506 491.8 505.7 491.8 505.7L395.5 476.5L419 544.8Z" fill="#ffffa0"/>
<path d="M636.1 499.6C636.1 499.6 641.7 505.1 641.8 513C642 520.9 647.5 527.3 651.1 534.9C654.8 542.5 658.4 551 663.9 558.7C669.4 566.3 677 574.8 684 580.6C691 586.4 697.7 589.7 705.9 593.4C714.1 597 724.2 599.4 733.3 602.5C742.4 605.5 751.6 608.3 760.7 611.6C769.8 615 778.9 618.6 788.1 622.6C797.3 626.5 806.7 631.1 816 635.4C825.4 639.6 829.3 641.4 829.3 641.4L852 476.5L636.1 499.6Z" fill="#ffff20"/>
<path d="M723.3 505.6C723.3 505.6 730.4 505.1 735.9 513C741.3 520.9 753.5 521.5 760.7 527.6C767.9 533.7 772.9 543.1 779 549.5C785.1 555.9 791.1 561.1 797.2 566C803.4 570.8 809.8 574.5 816 578.7C822.3 583 828.1 587 828.1 587L829.7 526.4C829.7 526.4 819.3 522.4 816 521.2C812.8 520 809.8 518.9 806.4 517.6C803 516.2 798.6 515.4 795.6 513C792.5 510.6 782.1 505.7 782.1 505.7L723.3 505.6Z" fill="#ffffa0"/>
</g>
</g>
<path d="M48 80H816" stroke="#fff4c8" stroke-width="1.3" fill="none"/><path d="M816.6 80V947" stroke="#ffdca0" stroke-width="1.3" fill="none"/><path d="M48 947H816.3" stroke="#fff4c8" stroke-width="1.3" fill="none"/><path d="M48 197.5H816.3" stroke="#ffd84a" stroke-width="1.3" fill="none"/><path d="M48 829.3H816.3" stroke="#ffb060" stroke-width="1.3" fill="none"/>
<clipPath id="cclip1"><rect x="37.5" y="69" width="789" height="888"/></clipPath>
<g clip-path="url(#cclip1)"><g transform="translate(0 0)" fill="none" stroke="#000" stroke-width="1.7" stroke-linejoin="round" stroke-linecap="round"><path d="M418.7 336.4L422.7 337.5L427.2 339.9L430.8 335.6L433.8 332.9L438.2 331L443.7 330.7L449.1 331L453.5 329L455.6 331L454.1 334.4L454.1 337.9L454.5 343.8L455.6 347.7L460 350.7L465 353.7L466.6 358.6L470.9 362.5L474.2 362.5L475.3 357.6L475.5 353.2L479.7 350.7L482.9 354.2L486.2 356.6L490.6 358.6L495 360.6L499.3 357.6L502.2 359.1L502.6 365L502.9 369.8L504.8 374.9L505.1 379.1L507 384.7L507.9 390.3L509.2 394.6L509.9 399L512 404.5L512.7 411.4L512.9 416.8L514.4 420.3L515.7 424.2L517.7 429.6L517.9 436.5L521.2 441.5L524 446L525.6 451.3L526 456.3L529.9 461.2L532.6 458.8L536.5 457.8L539.6 456.8L543.5 454.8L542.5 459.4L542.6 463.7L541.5 468.4L540.1 472.7L538.7 478.5L536.8 482.9L536.5 488.3L534.6 494.4L532.1 500.7L529.6 504.5L527.7 508.1L526 512.6L524.5 517.9L521.2 522.9L520.6 528.2L519 532.7L517.4 539L516.8 545.1L517.4 551.9L517.9 557.4L519.4 560.7L520.1 564.8L521 570.7L520.1 578.4L520.3 584.5L518.5 589.4L517.9 594.4L514.3 598.4L512.4 601.8L510.7 606.9L508.1 611.7L509.3 616.3L509.2 621.5L509.4 626.6L508.9 631.4L506.5 635L503.7 638.8L504.1 644.5L503.3 648.7L501.3 654.9L499.3 660.5L496.4 665.8L495.2 671.3L492.8 675.3L490.7 677.6L487.5 680.7L483.4 681.5L479.7 681.7L475.3 684.7L471.8 681.7L470.5 676.2L470.9 670.9L469.2 664L468.7 658.5L466.5 654.1L465.2 648.2L464.4 643.7L463.8 638.5L462.9 631.8L463.3 626L462 620.6L461.1 614.5L458.8 607.7L457.8 601.8L457.3 597.6L457.4 591.9L459.4 585.5L459.3 579.9L461.1 574.7L460.4 568.9L460.8 562.7L460.4 557.4L458.8 552.3L458.7 547.7L458.3 542.6L458.6 539.2L457.4 535.2L454.9 530.5L452.4 525.3L451.9 520.1L450.8 516.5L452.3 512.8L452.4 508.1L453.3 502.4L452.8 495.7L450.2 490.8L446.9 491.3L444.7 491.8L442.9 486.9L441.4 482.4L437.1 482.9L434.2 482.9L429.4 487.3L427.2 489.3L422.9 487.3L418.2 488.5L415.2 491.3L411.9 488.3L409.4 484.5L408 481.9L405.3 475.7L403.2 471.1L401.7 466.1L399.3 461.8L398.8 458.7L396.4 454.8L395.3 451.3L394.9 446.4L393.4 440.5L395.5 434.1L395.1 429.8L396.5 423.6L396.6 419.3L395.1 414.1L394.5 409.4L395.3 402.1L396.6 396.1L398.9 391.3L399.9 384.7L401.5 380.5L403.2 376.4L407.6 370.9L410.2 367.5L409.6 361.8L410.4 357.6L411.4 352.7L413 348.7L416.3 345.3L418.1 340.2L418.7 336.4M539.3 572.2L539.3 578.8L541.1 583.1L541.9 589.5L540.9 594.8L539.8 601.8L538.7 609.2L538.2 615.3L536.5 621.5L535.3 626.2L534.4 631.9L534.3 636.3L529.9 639.3L528.6 634.4L527.1 628.4L526.3 623.2L526.2 619.1L527.9 616.2L528.4 611.7L528.8 607.3L528.5 602.2L527.7 596.9L529.4 593.9L532.1 590.9L534 584.4L536.5 579.6L537.1 575.5L539.3 572.2M419.8 334.9L422 332L427.2 331.5L430.1 327.5L431.6 322.1L430.9 318.1L433.3 311.7L435.5 309.4L438.6 306.3L438.2 299.9L440.3 298.4L443.4 299.4L447.6 297.4L451 294L454.1 298.4L457 302.5L458.3 306.8L462.6 311.7L465.9 315.7L467 320.3L466.6 323.1L465.7 325.5L467.7 324.1L469 320.6L467.9 317.2L468.7 313.2L472 315.2L470.9 312.2L469.6 309L466.6 306.3L463.3 304.3L461.1 297.9L458.5 293.5L458.5 289L461.5 288.1L461.3 291.5L464.8 295L467.4 298.4L471.1 302.9L474 306.8L474 313.2L475.3 317.2L476 320.1L477.7 324.1L477.8 327.2L479 331.5L480.8 332.9L482.3 332.9L481.9 328L484 327L482.9 323.1L481.6 319.1L481.6 313.2L484 314.7L484.9 311.2L488.4 311.7L488.8 315.2L489.5 318.1L490.2 323.1L490.9 327.5L491.3 330.5L493.2 332L496.1 334.4L498.5 331.5L501.5 334.9L505.9 333.9L510.3 331.5L510 337.9L510.2 341.8L509.2 345.8L508.8 349.8L507.9 352.7L506.5 358.6L503.7 359.6L502.6 365L503 370.2L504.8 374.9L507 374.9L508.3 371.7L508.1 367.5L508.5 371.1L508.1 374.9L509.1 380.3L511.4 384.7L512.1 389.5L513.5 393.1L516 398.6L516.8 404.5L516.9 409L517.3 411.9L519.6 416.2L521.2 421.7L522.2 426L524.5 431.6L525.7 438.3L525.6 443.9L526.6 450.4L529.9 449.9L532 448.2L535.4 445.4L539.8 440L543.6 438.3L545.7 436L548.5 430.6L552.4 426.7L554 423.6L556.1 420.3L556.4 415.7L557.9 412.9L560.9 407.7L562.3 402L560.1 396.6L556.1 394.6L554.8 390.7L554.6 383.8L552.4 387.2L551.1 391.2L549.6 393.6L544.8 394.6L544.3 391.3L544.1 386.7L542.6 390.7L542.4 385.9L541.1 382.3L539.2 378.2L538.2 374.9L536.9 371.3L536.5 367.5L538.4 363.5L541.3 365L541.7 368.6L543 372.4L544.6 377.3L547.4 380.8L551.3 382.3L554.6 379.3L556.6 385.7L560.5 387.7L566 388.7L571.4 388.2L576.9 387.7L578.7 392.1L580.6 396.1L581.2 399.5L582.4 403L584 407.2L585.4 409.9L588.9 408.9L590.2 403L590.2 409.2L590.5 413.9L590.7 419.3L591.1 423.3L591.3 428.6L591.8 434.1L591.7 439.5L592.9 443.9L594.4 448.9L596.2 453.9L597.2 458.7L597.7 463.7L598.8 468.6L600.9 473L602.5 468.6L604.7 467.1L605.4 463.4L606 458.7L605.7 453.4L606.8 447.9L606.3 442.3L606.6 437.5L609.7 432.1L611.9 429.1L614 425.5L615.1 421.7L616.9 419L618.4 415.3L621.5 410.4L622.8 406L626.1 405.5L629.3 402L631.5 401L632.6 407.9L634.1 414.3L636.5 417.9L637.4 421.7L637.7 427.9L637.6 434.1L639.8 435.1L643.1 431.1L644.9 432.6L645 437.4L645.1 441.5L645.9 447.7L646.8 453.8L646.9 459.5L647 463.7L647.1 468.5L646.4 472.1L648.6 475.3L649.2 479.5L650.8 485.9L651.8 492.8L652.7 498.2L655.6 503.1L657.7 506.1L659.3 505.6L659.1 501.2L657.7 498.2L657 494.4L657.5 490.8L655.6 486.6L655.1 483.4L652.3 479L650.6 475.3L650.5 471.1L648.6 467.1L649.7 462.4L649.9 456.3L649.4 452.2L650.1 447.4L652.1 446.9L653.6 450.8L656.2 454.8L658 461.2L660.6 461.7L661 465.2L660.8 470.1L664.3 464.7L666.1 461.2L669.5 457.3L670.4 451.3L671 447.2L670.2 441.5L668.7 438.6L668.2 434.1L665.4 428.2L663.9 424.2L662.8 420.3L663 414.8L664.7 410.9L667.6 406.9L670.9 406.4L672.4 411.9L673 407.9L676.3 405.5L679.6 403L681.8 401.5L686.2 399L688.7 396.2L689.4 392.1L692.7 386.2L692.9 382.4L694.2 378.8L695.7 375.3L697.1 372.4L696.9 368.4L697.7 365L696 361.1L697.7 356.1L696.7 351.1L694.9 347.7L693.7 343.9L692.3 340.3L694.9 334.4L699.3 330.5L697.1 327.5L691.6 329L689.4 324.6L688.8 320.1L691.6 319.1L692.9 315.1L696 311.7L698.2 313.2L697.5 316.9L696.4 320.6L699.3 318.1L703 315.7L705.2 318.1L704.3 324.6L707.3 327.5L706.9 332.3L708 335.4L707.6 342.3L710.2 341.3L713.5 339.4L714.4 335.8L714.3 330.5L712.6 326.4L712.4 323.1L710.2 317.2L712.4 312.7L715 308.3L717.2 303.8L720 299.9L723.3 301.9L724.7 298.7L727.7 294.5L729.4 289.6L732 286.1L733.5 283.1L735.3 278.7L737.5 273.3L738.6 268.8L738.3 264.6L739.2 259L739.9 255.1L740.3 250.6L736.4 245.1L731.4 246.6L727.2 242.7L728.9 237.7L732 234.3L735.1 230.5L737.5 226.9L739.5 224.5L743 220.5L747 220.8L750.6 220L757.2 218.5L759.7 220.9L763.7 222L766.2 221.4L770.3 219.5L770 215.5L769.8 212.1L774.6 208.1L781.2 208.6L784.6 207.4L787.8 204.7L791 209.6L789 212.7L787.8 217L786.5 220.2L785.1 224.4L782.5 226.8L781.2 230.3L776.9 229.3L774.2 229.4L773 232.7L772.5 236.8L772.5 242.5L771.6 249.1L772.6 254.7L773.6 261.4L775.2 256.8L777.5 254L778.9 249.4L781.2 246.6L785.6 241.7L786.2 238.1L786 234.3L786.6 230.5L788.4 226.9L791.1 221.2L792.1 217L796 215.7L798.7 214.6L804.1 217L807.4 213.2L810.7 208.1L813.8 206.4L817.3 204.7L823.8 203.7L824.7 199.1L824.9 192.8M824.9 172.6L820.2 171.2L816.2 168.7L811.1 170.4L805.2 171.6L800.7 170.1L796.5 169.2L790.2 168.8L785.6 169.7L782.3 172.1L776.6 167.9L772.5 162.8L767.7 162.2L763.7 162.8L759.7 160.2L757.2 156.3L752.7 155.8L746.6 154.2L741.9 153.9L739.3 156.8L737.5 159.8L732.5 159.7L728.8 159.8L724 162.1L720 162.8L717.6 161.6L713.5 160.3L709.1 155.4L704.3 154.5L700.4 151.9L694.5 150.9L689.4 150.4L683.6 149.5L679.6 148.9L679 143.5L678.5 138.1L672.5 136.1L667.6 134.1L662.9 131.5L659.9 129.7L654.3 132.5L650.1 135.6L642.7 136.5L637 139.1L630.1 139.6L623.9 141.1L622.4 145.1L620.6 148.9L616.1 149.5L610.8 149.4L609.5 153.8L607.5 156.8L603.5 156.5L599.8 156.8L594.4 152.9L593.4 156.5L590.7 161.3L591.9 168.4L592.4 175.1L589.8 180.6L588.9 185L588 180L585.6 174.6L580.6 173.6L579.5 168.7L577.6 162.8L579.2 158.4L582.1 153.9L584.1 151.4L581.9 158.1L580.3 164.2L577.6 169.7L572.5 171.6L568.4 171.1L564 169.2L558.3 173.1L554.8 174.9L550.7 176.1L547.4 173.1L542.5 174.5L538.7 177.6L532.8 176.1L529.8 178.5L528.2 181.5L527.7 186.4L522.1 184.5L519.8 188.3L519 190.9L513.5 192.4L511.4 197.8L507.6 194.8L506.4 190.4L505 185.4L510.6 186.3L515.7 186.4L521.2 182.5L520.1 177.6L515.7 173.9L511.4 172.1L508.1 171.6L503.7 170.2L498.2 168.7L495.5 165.8L492.8 162.8L487.3 162.3L484.3 163.7L480.8 166.7L477.4 167.5L473.1 169.2L469.1 172L466.6 175.6L463.3 181.5L461.8 184.2L459.6 187.9L458.4 192L456.3 194.3L452.4 199.8L448 202.7L443 207.2L442.7 210.6L442.5 214.6L443.1 219.1L443.8 222.9L446.9 226.4L450.2 225.4L454.3 220.5L456.1 223.9L457.4 229.4L459.3 235.8L459.8 239.2L462.8 238.7L463.7 235.8L467.2 233.3L467.9 228.4L469.2 222.9L472.7 218L469.8 212.1L469.6 205.7L472.9 201.2L477 197.3L478.6 191.4L480.3 188.4L484 188.4L487.1 192.4L485.4 195.8L481 200.7L478.1 205.7L478.6 212.1L480.8 216.5L486.2 216.5L491.7 214.6L496.1 217.5L492.8 219.5L487.3 219.5L482.9 221.5L483.2 225.4L484.9 227.9L483.6 231.8L479.2 229.4L477.5 233.8L477.5 240.7L474.9 244.6L471.6 242.7L466.6 245.6L462.6 247.1L458.9 245.1L455.6 246.6L453.5 244.2L453 239.2L454.5 234.3L454.5 228.9L450.2 231.3L449.3 236.8L450.4 241.7L450.8 247.1L447.3 248.6L443.6 250.1L441.9 252.5L440.3 257.5L437.1 260.9L435.1 264.9L432 268.8L429 268.3L428.1 272.8L425 272.3L421.3 274.2L422.4 277.2L426.1 279.7L427.7 284.6L429 288.5L429.3 292.5L428.8 295.9L427.7 298.9L423.3 298.4L418.9 297.9L414.1 297.4L411.5 300.9L412.4 306.8L412.6 309.7L412.4 314.2L411.1 317.5L411.1 321.6L412.4 324.1L412.2 330.5L415.4 329.5L417.6 331.5L419.8 334.9M419.6 265.9L424 264.4L428.3 262.9L432.7 262.4L434.7 259.9L433.3 259L435.3 253.5L432.3 251.6L431.6 248.1L429 243.7L428.1 238.7L425 236.8L426.8 231.8L427.4 228.9L422.9 228.4L424.6 223.9L420.7 223.9L418.5 229.4L419.4 235.3L418.1 238.7L421.1 241.7L421.5 243.2L424.6 242.7L425 247.6L424.8 250.1L421.8 250.1L422.4 254L420.2 257L422.9 258.5L425 259.4L421.8 261.4L419.6 265.9M418.5 255.5L415.2 256.5L410.2 258.5L409.3 255L410.8 251.6L409.8 245.6L413.5 243.7L414.1 240.7L417.4 240.7L419.4 243.7L418.3 249.1L418.5 255.5M382.4 197.8L387.9 199.8L393.4 199.3L397.1 196.7L399.9 194.8L401.9 190.4L398.8 186.4L394.5 186.4L391.2 186.9L386.8 189.4L383.5 185.4L379.2 188.4L383.5 190.9L379.2 193.3L383.5 195.8L382.4 197.8M455.6 120.8L459 124.9L462.2 130.7L464.7 132.2L468.7 134.6L471.2 130.5L473.1 125.8L479.7 127.2L477.5 121.3L484.4 119.2L490.6 117.9L485.5 117.1L480.3 115.9L475.3 115.9L470.5 117.1L464.4 119.3L460.9 120.9L455.6 120.8M544.1 162.8L548.5 163.7L552 164.2L557.2 164.7L555.6 162.1L552.9 157.8L553.3 153.7L554 150.4L556.7 147.5L560.5 143L565.5 140.7L571.4 138.1L575.7 136.2L581.3 134.1L575.8 133.2L572.3 134.1L567.6 136.5L562.7 138.1L559 140.9L554 143L550.7 147.4L548.5 150.4L546.3 154.5L544.1 160.3L544.1 162.8M639.2 123.3L643.7 125.7L650.1 128.2L655.5 126.6L661 125.8L654.9 121.8L650.1 118.4L645.4 116.5L641.4 113.4L637.2 116.3L634.8 118.4L639.2 123.3M606.4 464.7L609 471.1L610.3 474.1L610.3 478.5L608.6 482.9L606.6 483.4L606.9 478.9L605.7 473.5L606.8 468.7L606.4 464.7M669.1 418.3L671.9 414.3L674.1 416.3L672.8 421.7L670.2 422.7L669.1 418.3M696 389.7L698 391.6L697.2 395.4L696.9 399.5L695.5 404.5L694 399.5L694.5 393.6L696 389.7M741.9 245.1L744.1 251.6L745.3 256.6L744.7 261.4L745.2 266.2L746.2 271.3L744.7 274.2L744.1 278.7L743.2 285.6L741.9 281.1L741.3 276.8L742.1 271.3L741.5 267.1L741.7 261.4L741.1 256.1L741.4 251.6L741.9 245.1M737.7 308.3L739.7 303.3L744.7 305.8L747.1 302L749.5 299.4L746.9 295.5L743.4 293.5L741.4 289L740.8 294.8L740.6 298.9L738.2 299.9L737.3 304.3L737.7 308.3M717.6 345.3L720 345.8L723.3 343.3L726.6 342.3L727 347.3L730.5 343.8L734.9 341.8L737.1 339.9L739.2 336.4L740.2 332.8L739.7 328L741 323.1L741.9 317.7L741.6 314.2L740.8 309.3L738.2 309.8L737.3 315.7L737.9 319.5L736.8 323.1L734.2 328.5L731.4 329.5L730.3 332.9L728.8 336.9L725.5 337.4L721.8 338.4L718.5 342.3L717.6 345.3M717.6 345.8L719.6 348.7L719.7 351.6L718.9 356.1L717.2 359.6L716.1 355.1L715.2 350.2L716.5 347.3L717.6 345.8M721.1 345.8L724.8 343.8L725.7 346.3L722.9 348.7L721.5 350.7L721.1 345.8M695.1 421.7L698.6 422.2L699.2 426.8L699 431.6L698.6 435.6L697.3 439L698.6 444.4L702.5 448.4L702.5 450.8L699.3 446.9L696 445.4L695.1 440L694 435.7L693.6 433.1L694.7 426.7L695.1 421.7M698.2 478.5L700.4 474.1L701 471.1L703.3 467.8L705.6 465.1L706.3 469L707.8 472.1L708.6 476.1L707.8 480.9L705.8 484.4L705.2 478.5L703 481.9L701.4 475.5L698.2 478.5M698.2 454.8L700.6 456.3L701.1 459.6L701 463.7L702.5 462.7L705.2 457.3L706 452.3L703.9 451.3L704.3 454.8L704.5 458.7L702.5 457.3L700.8 461.8L700.4 467.6L699.3 463.7L698.2 460L698.2 454.8M687.7 471.6L690.5 466.1L691.7 462.2L692.9 459.2L692.3 457.3L691.6 461.4L689.4 463.7L688.5 467L687.7 471.6M639.8 485.4L644.6 487.3L645.4 490.1L647.3 494.3L648.8 497.2L651 501.7L654 504.6L657.5 510.5L658.3 515L659.9 520.4L661.7 524.8L663.2 527.8L663.4 534.5L662.8 541.6L660.2 541.6L657.5 537.2L655.1 532.7L653.4 528L652.1 523.9L649.4 517.5L648.4 512L647.9 506.9L645.7 503.1L644.1 499.4L642.5 495.2L641.8 489.8L639.8 485.4M661.5 546.5L664.7 542.6L668.9 546.1L673.5 544.6L677.6 547L681.8 551L681.3 555.4L676.3 553.9L670.9 551.5L666.5 551L661.5 546.5M682.9 553.5L686.2 553.9L689.4 554.4L691.6 555.9L687.2 557.4L684 556.4L682.9 553.5M693.4 554.9L697.1 554.9L700.4 553.9L699.3 556.9L694.9 556.9L693.4 554.9M701.7 563.8L702.8 560.2L704.7 557.4L709.1 554.4L708 558.4L703.6 562.8L701.7 563.8M669.8 505.6L672.6 504.6L674.6 500.7L678.5 497.2L680 493.2L681.8 489.3L684.2 486.2L685.1 481.9L687.2 478.5L688.6 481.9L691.6 486.9L689.9 491.8L688.6 498.2L689.7 501L689.4 505.6L691.2 508.1L689 510.5L687.8 514.6L688.3 517.9L686.2 522.9L686.5 527.3L685.5 531.7L682 532.7L678.5 529.3L675.7 529.3L672.4 525.3L671.5 519.5L670.2 515.5L669.8 511.3L669.8 505.6M695.5 506.6L700.4 508.6L704.7 505.1L703.2 511L697.1 510.5L696.1 514.4L694 516.9L697.1 517.9L700.8 517.9L698.2 522.9L699.3 529.3L700.4 535.2L698.2 536.7L697.1 530.3L695.8 526.8L694.7 532.7L695.4 536L694.5 540.1L692.7 540.1L691.9 534.6L692.5 530.3L691.6 525.3L692.5 520L693.4 514L695.3 510.7L695.5 506.6M710.2 503.1L711 507.3L711.3 510.5L712.4 515.5L710.8 516.9L710.2 510.5L710.1 506.9L710.2 503.1M717.8 516.9L721.1 515L724.4 516.9L724.7 523.6L726.6 529.3L728.3 526.3L730.9 521.9L735.3 522.9L739.7 525.8L744.1 529.8L748.4 534.2L750.6 540.1L753.9 542.6L752.8 546.5L754.7 550.4L756.1 554.9L757.6 558.9L760.4 563.8L757.2 563.3L752.8 559.9L751.4 556.5L749.5 552.5L745.1 554.9L743 558.4L739.7 557.9L736.4 552.5L733.1 553.9L734.9 547.5L733.3 543.1L733.1 540.1L728.8 535.7L724.4 531.7L722.2 532.7L720 527.3L724 524.3L720 522.9L717.8 516.9M755.6 541.1L759.4 539.6L762.6 533.7L764.4 535.2L762.6 541.6L758.3 544.1L755.6 541.1M770.3 542.6L773.6 547.5L776.8 552.5L779.1 556.3L781.2 559.9L783.4 564.8M789.9 612.6L793.2 618.1L796.5 623M819 599.3L821.6 599.8L821.4 602.8L819 601.8L819 599.3M679.6 621.5L680.2 624.7L681.1 628.9L680.5 633L679.6 638.8L680 643.7L681.1 648.7L682.8 655.1L682.9 661L684.3 665.9L684.4 670.9L683.2 676.1L682.9 682.2L686.2 685.7L689.4 685.7L693.8 680.7L698.2 680.2L702.1 679.2L705.3 676.2L706.9 672.3L709.8 669.7L713.5 668.9L718.3 668.4L722.2 671.8L725.5 675.8L726.7 680.5L727.9 684.7L729.9 680.7L732.5 674.3L732.7 679.7L732 686.6L734.2 685.7L736.4 690.1L737.4 694.8L738.6 700.5L743 702.9L747.3 700.9L751.3 705.4L755 700L759.4 696.5L760.5 691.8L761.1 685.7L761.3 681.1L762.4 678.3L763.3 674.4L764.8 670.9L765.9 665.4L766.3 661L767.3 657L767.2 652.1L766.7 646.2L766.1 641.3L765.2 636.3L764.2 632.3L761.5 628.9L758.9 623L758.1 617.6L756.1 613.1L753.4 610.4L751.7 606.7L750.8 603.8L750.6 599.3L749.9 592.6L749.3 587L746.2 583.5L745.2 579L745.1 574.7L744.5 571L743.2 565.8L741.8 570L741.7 574.7L740.8 580.4L741 584.5L739.7 588.7L739.7 594.4L737.5 600.3L734.5 597.2L733.1 594.4L731.7 592.1L728.8 588.5L728.6 585.7L727.7 581.1L729.9 576.8L730.5 573.2L726.6 572.2L722.2 569.7L718.9 573.7L715.6 579.6L714.5 584.1L714.6 587L711.3 587L709.1 582.1L705.8 584.5L705.2 587.4L703.6 591.9L700.4 596.9L698.6 602.8L696 609.2L691.6 611.7L686.8 614.6L682.9 619.1L679.6 621.5M747.8 714.3L751.7 715.7L755.6 714.8L755.4 721.2L753.9 726.6L750.6 728.1L748.9 721.7L748.6 717.7L747.8 714.3M808.9 682.7L811.8 688.1L813.5 694.5L815.7 694L817.3 699L821.2 698.5L820.4 702.1L820.1 706.4L818.3 707.9L817.3 714.3L814.6 718.2L813.5 716.2L814 710.3L811.4 706.9L813.3 701.4L812.9 695.5L810.9 690.9L810 688.1L808.9 682.7M809.2 712.8L812.2 716.7L811.1 720.2L810.7 724.1L808.9 727.6L805.9 731.5L805.9 734.8L804.4 739.4L802 742.9L798.2 741.4L795.4 738.9L798.1 734.5L799.1 731L803 726.1L804.4 723.2L806.3 719.2L808.3 715.9L809.2 712.8M64.5 189.4L68.1 187.1L73.3 185L77.6 185.9L75.2 183L73.3 178.5L68.9 173.6L71.6 171.4L75.4 169.7L79.4 166.4L82 164.7L85.7 163.6L89.6 161.3L95 161.7L99.5 163.7L103 164.2L108.2 166.2L114.4 166.5L119.1 167.7L124 169.6L127.9 170.2L131.4 171L135.5 172.6L140.2 170.9L143.2 168.7L147.1 167.8L151.9 166.2L154.9 167.8L158.5 170.2L162 169.9L167.2 168.7L172.3 171.1L176 173.1L180 174L182.5 176.6L186.4 177.3L191.2 178L195.6 175.1L202.2 176.6L208.7 178.5L213.9 178.4L217.5 176.6L221.8 177.6L222.2 173.4L222.9 170.2L224.4 165.2L226.2 160.3L229.2 163.9L230.6 168.7L233.9 174.1L239.3 173.6L242 177.2L243.7 180L247.5 183.5L250.2 185.9L244.8 187.4L242.8 190.8L240.4 194.8L236.8 196.8L233.9 199.3L229.5 204.7L228.4 208.1L226.2 213.1L224.9 218L224.7 222L228.4 225.4L229.9 231.8L234.9 231.8L237.2 233.5L240.4 236.8L245.9 240.2L251.8 241.2L251 246.5L252 251.6L254.6 256.5L257.9 259L259 254L258.9 249.9L259.4 244.2L262.1 241.8L263.4 237.7L263.2 232.8L263.8 229.4L261.4 226.1L260.5 222.9L261.8 218.7L262.3 214.6L261.2 209.7L261.2 205.2L267.7 205.7L271.2 208L274.3 209.6L278.6 212.1L279.6 217.6L279.7 222L284.1 225.4L286.6 221L288.5 218L290.7 215.5L293.5 219.6L295 224.4L296.8 229.1L298.3 234.3L300.9 237L302.7 240.7L306 246.6L307.1 249.9L309.2 254L308.1 259L304.8 262.4L302.7 264.4L296.1 265.4L289.6 265.4L285.2 269.3L282.6 272.5L279.7 276.2L276.5 281.6L280.8 276.2L283.4 274.4L286.3 270.8L290.7 271.3L289.6 277.2L290 283.6L292.9 286.1L297.2 287.6L299.8 284.6L298.3 289.5L292.9 293L287.8 297.4L287.4 292L290.7 288.5L285.2 291L280.8 295L278 297.9L276.9 303.3L278.6 306.8L275.4 308.8L270.3 312.2L269.5 317.7L267.1 323.1L265.5 329.5L266 335.4L263.8 341.3L260.1 346.3L258.5 349L256.8 352.7L256 356.7L254.2 360.1L255 363.1L254 367.5L254.8 372.2L255.7 375.9L256.8 381L256.6 384.7L255.1 388.7L252.9 384.7L250.9 379.9L250.7 375.9L250.7 369L248.1 365L244.8 366L240.4 363.5L236.7 363.5L236 369L232.8 368.5L227.3 366.5L224 369L221.2 371.9L219.7 375.9L220 380.9L218.6 385.7L219 390.4L217.9 395.6L219 401.2L218.8 406.9L219.4 412.4L221 416.8L224 421.2L227.3 422.2L231.7 420.8L233.9 414.3L234.3 409.4L238.2 406.9L241.5 407.4L241.8 411.4L240.4 416.8L240.3 420.7L239.8 424.2L238.5 427.7L238.2 431.6L237.6 435.1L241.5 435.1L245.9 434.6L249.4 438L248.6 442.9L249.2 448.9L248.5 454L248.7 458.7L250 461.7L250.7 465.6L253.5 468.6L257.2 466.1L261.2 467.6L262.7 471.1L262.3 477L260.5 472.1L257.9 469.1L256.1 472.1L255.7 477L253.5 475L250.2 472.1L247.4 468L246.3 464.7L244.1 462.2L244.1 457.8L242.8 453L240.8 449.4L238.2 447.9L234.9 445.4L231.7 443.4L229.1 439.2L227.3 436L224.5 433.1L220.7 435.6L216.4 432.6L212 428.6L208.7 424.7L204.8 420.3L201.5 415.3L201.7 411.7L200.9 407.9L199.3 402.5L199.3 398.6L197.3 394.2L195.6 389.7L194.2 385.2L192.3 382.3L190.2 377.3L187.9 374L186.9 369.9L185.6 364.6L184.7 360.1L180.8 356.1L180.6 360.6L181.2 363.5L183.6 369.9L184.4 373.8L185.8 377.3L186.8 380.9L188.4 384.7L189.9 389.8L190.2 393.1L192.3 398.6L191.2 400L189.4 396L188 393.1L186.4 387.2L183.6 381.3L180.8 375.9L182.1 372.4L181.1 368.7L179.2 366L177.3 362.5L177 357.6L175.5 351.7L174 349.1L172.7 345.3L168.3 342.8L166.7 338.6L165.5 332.9L163.9 326.5L162.4 321.7L161.1 318.1L160 313.2L159.2 308.4L160.2 303.3L160.7 299.2L160.7 293.5L159.9 289.3L160.7 284.6L159.8 279.7L159.3 274.7L162.8 275.2L163.9 279.7L163.3 275.6L163.9 272.3L160.7 267.3L156.3 263.9L152.4 259L151.9 254L149.8 250.3L147.6 245.1L144.3 239.2L141.4 234.8L139.9 230.3L138.3 227.5L135.5 222.9L130.1 219.5L124.6 218L120.2 216.8L117 217L111.5 213.1L106 217L100.6 220.5L101 217.1L99.9 212.1L98 215L96.2 219.5L94 225.4L92.3 227.9L89 230.8L85.3 235.8L83.3 238.2L79.8 240.2L74.4 242.7L71.1 245.1L74.9 240.3L77.6 236.8L80.9 232.6L83.1 229.4L87.5 223.9L84.2 222.9L77.6 222L76.5 216L71.1 212.1L70.4 209L70 204.7L74.4 201.2L79.8 198.8L79.2 194.3L76.3 194L72.2 194.8L67.8 191.4L64.5 189.4M161.8 274.2L157.4 272.3L154.4 268.4L152.4 264.9L151.5 262.4L156.3 265.4L159.6 268.8L161.8 274.2M302 277.7L304.9 278.2L309.7 281.6L314.7 282.6L316.2 277.7L314 272.3L310.3 267.3L309.3 263.4L308.1 259.9L306 263.9L304.2 267.1L303.8 271.3L302 277.7M246.1 405L250.2 399.5L254.6 399L259 402L263.4 406.9L267.7 411.4L269.5 413.4L266.3 414.8L262.3 414.8L261.2 410.9L256.8 406L252.4 402L249.2 403.5L246.1 405M269 422.2L269.7 418.6L272.1 414.8L275.4 414.8L279.1 417.8L282.1 421.2L278.6 423.2L275.4 425.7L272.5 423.2L269 422.2M260.5 422.7L263.4 421.7L265.1 424.2L262.3 425.2L260.5 422.7M284.8 422.2L288 422.2L287.8 424.2L284.8 424.2L284.8 422.2M260.1 381.3L262.3 382.3L263.4 387.2L261.6 393.1M90.7 413.4L92.9 415.8L91.4 419.3L90.7 413.4M85.9 406.9L87 407.4M68.9 247.1L64.5 249.6L60.1 252.5L57.3 253.2L53.6 255.5L47 257.5L42.7 258M232.1 515.5L233.2 517.4M297.2 184L295.6 187.5L292.9 192.4L290.8 197.4L288.5 202.2L283 205.7L280 203.6L276.5 202.2L273 198.7L269.9 194.8L266 195.6L262.3 195.8L261.2 189.9L265.4 187.3L269.9 185L270.1 181.5L272.1 177.6L268.3 174.6L264.4 172.6L262.2 170.7L259 167.7L252.4 167.7L249.1 165.9L245.9 165.2L242.5 163.3L239.3 162.8L237 157.7L236 152.9L240.2 151.3L245.9 149.9L250.3 148.9L254.6 149.4L259.2 150.9L263.4 153.9L268.1 157.3L272.1 159.8L275.4 161.5L278.6 164.7L281.4 167.7L284.1 171.1L288.2 174.2L290.7 178.5L294.6 182.1L297.2 184M255.7 198.8L252.8 202.3L249.2 204.7L245.3 202.8L242.6 199.3L243.7 195.4L244.8 189.9L250.2 192.4L253.7 195L255.7 198.8M202.2 173.6L195.6 175.1L190.7 175.6L184.7 174.6L180.6 172.6L178.1 171.1L176.4 166.3L173.8 162.8L175.6 157.4L176 152.9L182 153.2L186.9 154.9L191.3 154.1L195.6 151.9L198.4 153.2L202.2 155.4L205.5 158.7L208.7 162.8L207.9 165.9L208.7 170.2L204.8 172.7L202.2 173.6M178.1 160.3L174.1 161L169.4 160.3L163.3 159.6L158.5 157.8L158.9 152.9L160.7 148L166.4 147L171.6 146.5L175.5 149.8L178.1 152.9L178.3 157.3L178.1 160.3M296.1 106L290 110.6L285.2 113.4L281.1 115.7L277 117.9L272.1 120.8L269.7 124.7L265.5 128.2L260.9 132.9L256.8 136.6L251.2 135.5L245.9 135.6L241.9 133.6L237.1 133.2L238.8 129L239.3 125.8L235.2 122.9L230.6 118.4L235.1 116.2L239.3 113.4L235.7 110.1L232.8 108.5L238.5 106.2L246.1 105.1L252.4 103.6L257.9 104.1L262.7 102.8L269.1 102.3L274.3 103.1L278.8 103.5L284.5 104.3L290.2 105.4L296.1 106M256.8 140.6L251.5 142.2L245.9 145L239.5 144.7L232.8 144.5L226.6 143.3L221.8 140.6L224.7 136.7L228.4 134.1L233.1 135.4L239.3 136.1L245.5 137.9L250.2 138.6L256.8 140.6M200 143L195.4 143.8L191.2 145.5L184.9 144.5L180.3 143L176 138.1L181.5 136.6L186.9 135.6L191.5 136.8L195.6 138.1L200 143M243.7 123.3L239 125.4L232.8 126.7L226.8 125.7L221.8 123.3L222.1 118.9L224 114.4L229.3 114.7L234.9 115.9L238.5 120.1L243.7 123.3M335.5 217.5L331.9 215.4L330 213.1L325.6 209.6L324.8 205.8L322.4 203.2L320.2 199.7L319.1 195.8L317.4 191.9L315.8 187.4L315.5 183.1L314 180L315.7 176L318 172.6L314.4 169.6L312.5 165.2L313 160.7L312.5 155.4L310 152.3L309.2 148L307.5 143.7L304.9 139.6L299.8 138.3L293.9 137.1L288 136.9L283 138.1L279.3 134.1L276.5 131.7L279.4 128.4L283 124.3L286.6 121.9L289.6 118.4L293.2 114.2L296.1 111L301.3 109.5L306.8 108.4L311.4 107L317.6 106.4L325.4 104.9L331.1 104.5L337.6 102.5L342.3 101.8L348.6 101.1L354.8 102.1L360.7 101.1L366.1 101.6L373.3 103.5L379.2 106L383.1 108.7L387.9 110L393.6 110.8L398.8 111L396.9 115.5L394.5 118.4L392.2 122.7L390.1 125.8L389.3 131.3L387.9 135.6L388.3 139.7L389 143L387.5 146.4L385.7 150.4L381.3 155.4L381.9 159.3L383.5 162.8L380.3 166.7L376.8 170.4L374.8 172.6L369.8 173.7L366.1 176.6L362.1 180.3L359.5 182.5L355.9 184.8L352.9 188.4L346.4 189.9L343.1 194.8L341.2 197.7L340.9 202.2L340.2 206.2L338.7 209.6L337.2 216L335.5 217.5M262.7 471.1L265.5 467.1L266.6 460.2L269.9 457.8L273.6 452.8L275.4 458.7L275.4 462.9L274.7 466.1L276.5 459.7L276.8 456.4L278.6 452.8L281.9 457.8L286.3 460.7L290.7 462.2L295 460.2L297.2 464.7L298.6 468.4L300.5 471.1L302.7 475.5L303.8 478.5L307.1 483.4L311.4 483.9L315.8 485.9L319.1 490.8L319.4 497.6L321.3 503.1L322.5 508.9L322.4 513L325.6 517.9L328.9 516.5L330.9 519.1L334.4 522.9L337.6 525.3L342 527.3L346.4 530.3L347.5 532.6L350.1 536.7L354.5 540.1L355.6 545.6L355.6 550L355.3 555.5L354.5 559.9L352.8 564.4L350.8 569.7L348.4 572.7L347.5 577.1L347.4 582.8L346.4 589.5L345.7 595L345.7 600.8L344.1 605.8L344.2 611.7L342.7 617L342 621.5L337.6 626.5L333.3 630.4L328.9 634.8L327 637.7L325.6 641.3L326.2 646.9L325.2 652.6L324.4 656.5L322.4 660L319.9 664.8L319.1 669.9L317.9 674.1L316.9 677.3L315 681.1L313.6 684.2L309.2 685.2L306 683.2L304 680.7L305.4 685.1L306.6 690.6L306.8 694.8L305.7 700.5L301.6 704.4L296.1 705.4L296.4 709.2L295.5 714.3L289.6 715.3L289.8 718.4L291.8 722.7L288.9 727.6L289.2 732.1L288.5 735L284.1 739.9L284.9 743.6L287.4 747.3L285.7 751.6L284.1 754.7L281.9 758.4L280.8 762.1L281.1 767.2L281.9 771L277.6 773L274.3 776.9L276.5 779.4L272.1 776.9L270 774L268.8 769.5L267.6 764.1L267.1 759.6L267.2 754.7L266.6 749.8L267 745.1L268.8 739.9L269.2 735.5L271 730.1L271 725.6L270.3 720.2L270.9 715L271 710.3L271 705.2L271.4 700.5L272.7 694.8L272.5 690.6L274.3 684.8L274.7 680.7L274.5 675.4L275.4 670.9L276.1 665.9L275.4 661L275.5 656.7L276 651.1L276.2 646.1L277.3 641.3L277.6 635.5L277.8 628.9L278.4 623L278.2 616.6L277.8 610.1L278 604.3L275.5 601.2L274.3 596.9L269.9 591.9L268 587.4L265.5 582.1L263.6 577L262.9 572.2L262 567.4L260.1 562.3L258 556.1L257.2 550L256.6 545.8L254.6 542.6L253.7 538.5L254 535.2L256.1 529.3L256.8 524.3L254.8 517.9L256.2 514.9L256.8 510.5L259 505.6L260.1 500.7L262.3 494.3L261.6 489.4L262.3 485.9L262 481.9L262.7 478.5L261.6 476L262.7 471.1M281.7 772.5L277.6 776.9L274.3 780.9L278.6 785.3L284.1 786.8L289.1 783.3L286.3 780.4L282.6 775.9L281.7 772.5M298.3 766.1L302.7 766.6L305.3 768L301.6 771L298.3 769.5L298.3 766.1M348.6 779.4L352.9 781.8M581.9 754.7L585.2 756.2L583.5 758.2L581.9 754.7M296.6 460.2L298.3 460.2L298.3 463.2L296.6 463.2M502.2 340.3L504.8 338.9L507.2 337.4L505.9 340.3L503.7 342.3L502.2 340.3M482.9 337.9L486.2 338.4L489.1 339.4L486.2 340.3L482.9 339.4L482.9 337.9M458.7 325.5L462.2 325.1L465.7 324.6L465.2 327.6L464.6 332L461.1 329.5L458.7 325.5M449.5 311.2L452.6 310.3L452.4 314.1L452.8 319.1L450.8 320.6L449.7 316.7L449.5 311.2M450.4 303.3L452.4 300.9L452.4 307.8L450.8 308.3L450.4 303.3M436.8 317.7L438.8 316.2L438.6 318.6L436.8 317.7M392.3 372.4L395.5 373.4L397.7 374.9L401 371.9M378.1 439L380.3 438L381.3 434.1M369.3 323.1L372.6 322.1L375.9 326.5M548.3 450.8L550.7 451.3M552.4 616.6L557.5 612.6M526.2 570.7L528.6 573.2M517.5 541.6L517.9 544.6M750.6 293.5L755 288.5L758.6 286.5L760.4 283.6L762.5 280.7L765.9 276.2L767.9 271.1L771.4 266.4M821.6 161.8L824.9 160.3M38.3 160.3L42.7 161.8M38.3 192.8L42.7 189.9L46.3 192.9L48.1 194.8L53.6 195.8L56.2 192.5L58 189.4L60.1 186.4L54.7 182.5L50.9 181.5L48.1 180L44.7 177L42.7 175.1L38.3 172.6M730.9 141.5L736.2 141.4L741.9 143L746.1 142.8L750.6 141.5L755.3 141.8L759.4 142L754.1 140L748.4 138.1L741.2 137.8L735.3 137.1L730.9 141.5M540.9 115.9L546.1 117.1L551.8 117.4L558 115.8L562.7 114.4L558.5 113.6L554 111.9L547.3 113.4L540.9 115.9M56.9 200.7L62.3 201.2L61.2 199.3M94 230.8L98.4 229.4L98.4 225.9M141 246.6L143.6 251.6L144.9 255.5M290.7 267.3L296.1 270.3M291.3 282.6L295 284.1M269.9 312.7L274.3 310.7M38.3 898.8L44.2 899.7L49.7 899.6L55.3 899.8L60.1 899.7L65.9 899.4L70.7 899.5L75.8 898.9L82 898.8L88 896.7L92.9 893.8L98.6 891.7L103.8 890.4L109.2 887.8L114.8 885.4L120.5 884L125.7 883L131.5 882.5L136.6 880.5L141.5 880.3L147.6 879.5L153.5 878.1L158.5 877.1L163.9 877.9L169.4 877.1L174 877.6L180.3 878L185.2 879.8L191.2 880.5L197.5 881.3L202.2 882L204.7 878.9L208.7 875.6L213.1 870.6L218.6 871.8L224 872.1L229.5 872.4L234.9 872.1L241 872.7L245.9 873.1L251.2 873.9L256.8 873.1L260.6 872.2L265.5 870.6L269.7 869.9L274.3 868.2L275.8 865.3L278.6 860.8L280.6 855L283 850.9L284.3 845.8L286.3 841L287.6 837.7L290.7 834.6L293.3 832.5L296.1 829.7L299.1 827.3L302.7 825.8L307.1 826.2L303.8 831.2L300.6 834.1L298.3 836.1L297.5 839.9L295 843.5L292.9 847.8L291.8 850.9L293.8 854.1L296.1 858.3L296.6 863.7L298.3 868.2L298.9 873.4L298.3 878L296.1 881.9L293.9 885.4L288 888.7L283 890.4L277.7 892.3L273.4 894.2L267.7 895.3L264.4 896.2L261.2 897.8L267.1 897.9L273.4 899.2L278.6 900.2L284.7 899.2L289.4 898.6L294.9 897.8L300.5 897.8L305.1 898.2L311 897.3L316.5 897.7L322.4 897.8L328 898L334.3 897.5L339.8 897.8L347.2 897.2L352.9 895.3L356.5 893.4L361.7 890.4L366.8 889.7L370.4 887.9L373.1 884.8L377 880.5L382.7 877.2L387.9 875.6L391.4 873.9L396.6 870.6L401.3 867.7L405.4 865.7L407.9 863.3L411.9 862.3L415.8 862L420.7 860.8L425.9 858.4L431.6 857.3L437.8 858.3L442.5 858.3L447.4 858.5L453.5 857.3L459.1 857.1L464.4 855.8L470.1 857.3L475.3 857.3L481.3 858.4L486.2 858.3L491.1 856.9L497.2 854.9L500.5 853.8L503.7 851.9L506.9 854.6L510.3 855.8L516.8 855.8L520.2 851.7L523.4 848.4L527.3 846.6L532.1 846L536.5 843.9L540.9 843.5L544.1 840.4L547.4 838.6L550.7 839.8L554 841L558.4 843.7L562.7 845L566.2 846.1L571.4 846L575.8 846.8L580.2 847.5L584.5 850.9L588.9 855.8L595.5 855.8L599.1 854L602 850.9L606.2 847.8L610.8 845L616 842.3L619.5 841L624.1 841.5L628.2 841.5L632.9 841L639.2 840.1L645 840.1L650.1 838.6L655.3 840.2L661 840.1L666.5 839.3L671.9 838.6L678.1 839L682.9 841L688.7 841.8L693.8 842L699 841.7L704.7 840.1L709.9 839.3L715.6 838.6L721.2 839.1L726.6 838.6L731.5 840.2L737.5 842L742.8 842.9L748.4 843.5L754.5 846.3L759.4 849.9L765.4 851.5L770.3 853.4L775.7 855.9L781.2 859.3L786.7 861.6L792.1 862.3L797.9 864.5L803 865.7L803.8 869.1L805.2 873.1L801.6 878.2L798.7 883L794.6 888.4L789.9 892.8L794.3 897.8L797.9 898.2L803 897.8L809.2 897.9L814 897.8L818.6 897.9L824.9 898.8"/></g></g>
<rect x="56.4" y="887.5" width="750.6" height="39.7" fill="#fff"/>
<rect x="56.4" y="887.5" width="68.5" height="39.7" fill="#000000"/>
<rect x="124.6" y="887.5" width="68.5" height="39.7" fill="#00008c"/>
<rect x="192.9" y="887.5" width="68.5" height="39.7" fill="#1a00ff"/>
<rect x="261.1" y="887.5" width="68.5" height="39.7" fill="#5a0070"/>
<rect x="329.3" y="887.5" width="68.5" height="39.7" fill="#d80000"/>
<rect x="397.6" y="887.5" width="68.5" height="39.7" fill="#ff3000"/>
<rect x="465.8" y="887.5" width="68.5" height="39.7" fill="#ffa000"/>
<rect x="534.1" y="887.5" width="68.5" height="39.7" fill="#b4ac00"/>
<rect x="602.3" y="887.5" width="68.5" height="39.7" fill="#ffff20"/>
<rect x="670.5" y="887.5" width="68.5" height="39.7" fill="#ffffa0"/>
<rect x="738.8" y="887.5" width="68.5" height="39.7" fill="#ffffff"/>
<rect x="56.4" y="887.5" width="750.6" height="39.7" fill="none" stroke="#000" stroke-width="2"/>
<rect x="32.4" y="61.5" width="800.9" height="904.2" fill="none" stroke="#000" stroke-width="2"/>
<rect x="203.4" y="62.5" width="486.6" height="123.5" fill="#fff"/>
<path d="M32.4 61.5H833.3" stroke="#000" stroke-width="2" fill="none"/>
<text x="269.5" y="148.3" style="font-family:'Liberation Sans',sans-serif;font-size:69px" textLength="353" lengthAdjust="spacingAndGlyphs" fill="#000">HmF2 Truth</text>
<text transform="translate(91.5 984) rotate(45) scale(1.0 1.12)" style="font-family:'DejaVu Sans','Liberation Sans',sans-serif;font-weight:200;font-size:40px" text-anchor="middle" dy="0.36em" fill="#444444" stroke="#444444" stroke-width="0.7">200</text>
<text transform="translate(159.8 984) rotate(45) scale(1.0 1.12)" style="font-family:'DejaVu Sans','Liberation Sans',sans-serif;font-weight:200;font-size:40px" text-anchor="middle" dy="0.36em" fill="#444444" stroke="#444444" stroke-width="0.7">215</text>
<text transform="translate(228 984) rotate(45) scale(1.0 1.12)" style="font-family:'DejaVu Sans','Liberation Sans',sans-serif;font-weight:200;font-size:40px" text-anchor="middle" dy="0.36em" fill="#444444" stroke="#444444" stroke-width="0.7">230</text>
<text transform="translate(296.2 984) rotate(45) scale(1.0 1.12)" style="font-family:'DejaVu Sans','Liberation Sans',sans-serif;font-weight:200;font-size:40px" text-anchor="middle" dy="0.36em" fill="#444444" stroke="#444444" stroke-width="0.7">245</text>
<text transform="translate(364.5 984) rotate(45) scale(1.0 1.12)" style="font-family:'DejaVu Sans','Liberation Sans',sans-serif;font-weight:200;font-size:40px" text-anchor="middle" dy="0.36em" fill="#444444" stroke="#444444" stroke-width="0.7">260</text>
<text transform="translate(432.7 984) rotate(45) scale(1.0 1.12)" style="font-family:'DejaVu Sans','Liberation Sans',sans-serif;font-weight:200;font-size:40px" text-anchor="middle" dy="0.36em" fill="#444444" stroke="#444444" stroke-width="0.7">275</text>
<text transform="translate(500.9 984) rotate(45) scale(1.0 1.12)" style="font-family:'DejaVu Sans','Liberation Sans',sans-serif;font-weight:200;font-size:40px" text-anchor="middle" dy="0.36em" fill="#444444" stroke="#444444" stroke-width="0.7">290</text>
<text transform="translate(569.2 984) rotate(45) scale(1.0 1.12)" style="font-family:'DejaVu Sans','Liberation Sans',sans-serif;font-weight:200;font-size:40px" text-anchor="middle" dy="0.36em" fill="#444444" stroke="#444444" stroke-width="0.7">305</text>
<text transform="translate(637.4 984) rotate(45) scale(1.0 1.12)" style="font-family:'DejaVu Sans','Liberation Sans',sans-serif;font-weight:200;font-size:40px" text-anchor="middle" dy="0.36em" fill="#444444" stroke="#444444" stroke-width="0.7">320</text>
<text transform="translate(705.6 984) rotate(45) scale(1.0 1.12)" style="font-family:'DejaVu Sans','Liberation Sans',sans-serif;font-weight:200;font-size:40px" text-anchor="middle" dy="0.36em" fill="#444444" stroke="#444444" stroke-width="0.7">335</text>
<text transform="translate(773.9 984) rotate(45) scale(1.0 1.12)" style="font-family:'DejaVu Sans','Liberation Sans',sans-serif;font-weight:200;font-size:40px" text-anchor="middle" dy="0.36em" fill="#444444" stroke="#444444" stroke-width="0.7">350</text>
</g>
<g id="panel2">
<clipPath id="clip2"><rect x="886" y="197" width="768.3" height="632.5"/></clipPath>
<g clip-path="url(#clip2)">
<rect x="886" y="197" width="768.3" height="632.5" fill="#70ffff"/>
<clipPath id="q2TL"><rect x="886" y="197" width="384.3" height="317.3"/></clipPath>
<g clip-path="url(#q2TL)">
<rect x="886" y="197" width="384.3" height="317.3" fill="#70ffff"/>
<path d="M871.7 258.1C871.7 258.1 879.9 259.7 886 260.9C892.1 262.1 898.2 262.4 904.3 264.6C910.3 266.7 918 269.7 922.5 273.7C927.1 277.7 930.7 282.8 931.7 288.3C932.6 293.8 928.6 299 928 306.6C927.4 314.2 927.1 324.8 928 334C928.9 343.1 931.3 353.7 933.5 361.4C935.6 369 937.1 373.5 940.8 379.6C944.4 385.7 949.3 395.1 955.4 397.9C961.5 400.6 967.6 397 977.3 396.1C987 395.1 1001.7 392.1 1013.8 392.4C1026 392.7 1041.2 394.5 1050.4 397.9C1059.5 401.2 1061.3 406.5 1068.6 412.5C1076 418.5 1085.9 424.4 1094.4 434C1102.8 443.7 1111.9 458.9 1119.2 470.6C1126.5 482.2 1134.2 496.5 1138 503.8C1141.8 511 1140.2 510.8 1142 514C1143.9 517.2 1147.4 527.6 1147.4 527.6L1172.9 522.1C1172.9 522.1 1179.2 520 1185.1 514C1191 508 1198 505.8 1206.1 500.1C1214.2 494.5 1223 487 1233.7 480.1C1244.4 473.1 1257.9 465.6 1270 458.5C1282.2 451.4 1282.6 451.1 1282.6 451.1L1283.2 238.4C1283.2 238.4 1276.9 243.5 1270 244.7C1263.2 245.9 1258.9 250 1251.2 253.6C1243.5 257.2 1233 261.8 1223.8 266.4C1214.7 271 1205.6 275.2 1196.4 281C1187.3 286.8 1178.2 294.4 1169.1 301.1C1159.9 307.8 1150.8 314.5 1141.7 321.2C1132.5 327.9 1122.5 335.5 1114.3 341.3C1106.1 347 1100 352.5 1092.4 355.9C1084.7 359.2 1075.6 361 1068.6 361.4C1061.6 361.7 1055.5 360.1 1050.4 357.7C1045.2 355.3 1043.7 351.6 1037.6 346.7C1031.5 341.9 1021.4 334.6 1013.8 328.5C1006.2 322.4 998.6 316.3 991.9 310.2C985.2 304.1 979 298 973.7 292C968.3 285.9 961.8 280.4 960 273.7C958.1 267 959.2 258.5 962.7 251.8C966.2 245.1 972.4 239.6 981 233.5C989.5 227.4 1003.8 221.3 1013.8 215.3C1023.9 209.2 1032.1 203.1 1041.2 197C1050.4 190.9 1053.4 188.9 1053.4 188.9L849.5 160.5L871.7 258.1Z" fill="#80ffd0"/>
<path d="M989.5 188.9C989.5 188.9 984.6 192.1 977.3 197C970 201.9 963 207 955.4 211.6C947.8 216.2 939.6 220.7 931.7 224.4C923.7 228 915.5 231.2 907.9 233.5C900.3 235.8 893.3 236.6 886 238.1C878.7 239.6 871.7 241.1 871.7 241.1L849.5 160.5L989.5 188.9Z" fill="#c8f000"/>
<path d="M940.4 189.3C940.4 189.3 932.9 194 928 197C923.1 200 920.4 203.1 913.4 206.1C906.4 209.2 895.1 212.2 886 215.3C876.9 218.3 872.1 219.9 872.1 219.9L849.5 160.5L940.4 189.3Z" fill="#ff8000"/>
<path d="M1077.5 185.4C1077.5 185.4 1074.7 189.1 1068.6 197C1062.5 204.9 1058 214.3 1050.4 220.7C1042.7 227.1 1029 229.6 1023 235.3C1016.9 241.1 1014.7 249 1013.8 255.4C1012.9 261.8 1013.5 267 1017.5 273.7C1021.4 280.4 1030.6 289.8 1037.6 295.6C1044.6 301.4 1051.3 307.2 1059.5 308.4C1067.7 309.6 1077.7 305 1086.9 302.9C1096 300.8 1105.1 299.6 1114.3 295.6C1123.4 291.7 1134.1 285.9 1141.7 279.2C1149.3 272.5 1153.8 263 1159.9 255.4C1166 247.8 1172.1 240.2 1178.2 233.5C1184.3 226.8 1189.4 221.3 1196.4 215.3C1203.4 209.2 1212.3 203.1 1220.2 197C1228.1 190.9 1231.8 188.1 1231.8 188.1L1077.5 185.4Z" fill="#30f0ff"/>
<path d="M878.7 268.9C878.7 268.9 883.6 274.9 886 282.8C888.4 290.7 891.3 296.5 893.3 306.6C895.3 316.6 899.1 331.8 897.9 343.1C896.7 354.4 890 363.8 886 374.1C882 384.5 878.7 387.8 878.7 387.8L878.7 268.9Z" fill="#30f0ff"/>
<path d="M875.7 416.8C875.7 416.8 883.6 424.7 886 427.1C888.4 429.5 892.1 430.7 893.3 434.4C894.5 438.1 894.5 445.4 893.3 449C892.1 452.7 888.4 453.9 886 456.3C883.6 458.7 875.7 466.6 875.7 466.6L875.7 416.8Z" fill="#80ffd0"/>
<path d="M936.8 528.2C936.8 528.2 937.2 522 940.2 514C943.3 506.1 943.1 497 946.3 489.2C949.4 481.4 954.5 472.7 959 467.3C963.6 461.8 968.2 457.5 973.7 456.3C979.1 455.1 986.1 461 991.9 460C997.7 458.9 1002.9 451.1 1008.4 449.9C1013.8 448.7 1018.7 451.6 1024.8 452.7C1030.9 453.7 1038.8 453.3 1044.9 456.3C1051 459.4 1055.8 465.4 1061.3 470.9C1066.8 476.4 1073.5 483.1 1077.7 489.2C1082 495.3 1085.1 503.3 1086.9 507.4C1088.7 511.6 1088.2 511.8 1088.7 514C1089.2 516.2 1092.6 528.1 1092.6 528.1L936.8 528.2Z" fill="#30f0ff"/>
<path d="M1283.8 268.1C1283.8 268.1 1279.8 271.3 1270 273C1260.3 274.7 1251.3 278.4 1242.1 282.8C1232.9 287.2 1223.8 292.9 1214.7 299.3C1205.6 305.7 1195.8 313.9 1187.3 321.2C1178.8 328.5 1170.6 335.8 1163.6 343.1C1156.6 350.4 1149.9 357.4 1145.3 365C1140.7 372.6 1138 380.2 1136.2 388.7C1134.4 397.3 1134.1 407.9 1134.4 416.1C1134.7 424.4 1135.3 431.4 1138 438.1C1140.7 444.7 1145.6 451.4 1150.8 456.3C1156 461.2 1161.4 463.9 1169.1 467.3C1176.7 470.6 1188.8 476.1 1196.4 476.4C1204.1 476.7 1208.6 472.4 1214.7 469.1C1220.8 465.7 1227.2 460.6 1233 456.3C1238.8 452.1 1245.1 447.5 1249.4 443.5C1253.7 439.6 1257.9 437.4 1258.5 432.6C1259.1 427.7 1251.1 420.1 1253.1 414.3C1255 408.6 1262.7 400.9 1270 398.1C1277.3 395.2 1280.6 388 1280.6 388L1283.8 268.1Z" fill="#c8f000"/>
<path d="M1283.2 290.6C1283.2 290.6 1280.1 294.5 1270 296.9C1260 299.3 1251.3 305 1242.1 310.2C1232.9 315.5 1222.9 322.1 1214.7 328.5C1206.5 334.9 1199.5 341.9 1192.8 348.6C1186.1 355.3 1179.1 362.3 1174.5 368.7C1170 375 1166.9 381.4 1165.4 386.9C1163.9 392.4 1164.2 397.3 1165.4 401.5C1166.6 405.8 1169.7 409.4 1172.7 412.5C1175.7 415.5 1179.1 419.5 1183.7 419.8C1188.2 420.1 1194.3 417.1 1200.1 414.3C1205.9 411.6 1212.3 407 1218.4 403.4C1224.4 399.7 1230.5 395.7 1236.6 392.4C1242.7 389.1 1249.3 385.4 1254.9 383.3C1260.5 381.1 1264.9 380.1 1270 379.6C1275.2 379.1 1284.2 376.2 1284.2 376.2L1283.2 290.6Z" fill="#ff8000"/>
<path d="M1277.5 306.2C1277.5 306.2 1274.4 316.1 1270 318.8C1265.7 321.5 1265 329.3 1262.2 332.1C1259.4 335 1253.4 333.7 1253.1 335.8C1252.8 337.9 1257.5 341.6 1260.4 344.9C1263.2 348.3 1265.8 353.5 1270 355.9C1274.3 358.3 1279.7 366.8 1279.7 366.8L1277.5 306.2Z" fill="#ff0000"/>
<path d="M1195 523.5C1195 523.5 1200.6 519.8 1206.1 514C1211.7 508.2 1218.3 502.8 1224.4 498.3C1230.5 493.9 1235.2 490.8 1242.8 487.4C1250.4 483.9 1260.5 479.2 1270 477.7C1279.5 476.1 1283.8 472.8 1283.8 472.8L1306 551.3L1195 523.5Z" fill="#30f0ff"/>
<path d="M1207 521.3C1207 521.3 1216.5 517.4 1220 514C1223.5 510.7 1227.8 509.5 1233 507.4C1238.2 505.4 1245.1 503.1 1251.2 502C1257.4 500.8 1263.8 500.7 1270 500.5C1276.3 500.4 1284.6 499.4 1284.6 499.4L1306 551.3L1207 521.3Z" fill="#0090ff"/>
</g>
<clipPath id="q2TR"><rect x="1270" y="197" width="385" height="317.3"/></clipPath>
<g clip-path="url(#q2TR)">
<rect x="1270" y="197" width="385" height="317.3" fill="#70ffff"/>
<path d="M1255.5 243.3C1255.5 243.3 1261 246.3 1270 244.7C1279 243.1 1288.3 245.4 1297.4 247.2C1306.5 249 1315.7 252.2 1324.8 255.4C1333.9 258.6 1343 262.7 1352.2 266.4C1361.3 270 1370.4 273.7 1379.6 277.4C1388.7 281 1398.4 284.4 1407 288.3C1415.5 292.3 1424.6 295.6 1430.7 301.1C1436.8 306.6 1439.8 314.8 1443.5 321.2C1447.1 327.6 1448.7 334.3 1452.6 339.4C1456.6 344.6 1461.1 349 1467.2 352.2C1473.3 355.4 1481.5 357.7 1489.1 358.6C1496.7 359.5 1507.7 360.3 1512.9 357.7C1518.1 355.1 1518.1 348 1520.2 343.1C1522.3 338.2 1522.6 332.1 1525.7 328.5C1528.7 324.8 1533.6 322.1 1538.4 321.2C1543.3 320.3 1549.4 320.6 1554.9 323C1560.4 325.4 1566.2 330.5 1571.3 335.8C1576.4 341.1 1579.4 350.2 1585.6 355C1591.7 359.7 1600.7 360.3 1608.4 364.1C1616 367.9 1623.8 372.9 1631.4 377.8C1639 382.7 1646.5 388.3 1654 393.5C1661.6 398.7 1666 401.8 1666 401.8L1668.4 502.5C1668.4 502.5 1657 500.2 1654 499.6C1651.1 499 1649.6 499.4 1645.1 497.8C1640.6 496.1 1632.9 493.5 1626.8 489.5C1620.7 485.6 1614.5 479.2 1608.4 474C1602.3 468.9 1595.5 463.1 1590.1 458.5C1584.8 453.9 1581 450.7 1576.4 446.5C1571.9 442.2 1567.3 437.3 1562.7 432.8C1558.2 428.2 1547 431.8 1547 431.8C1547 431.8 1545.5 431.2 1545.2 437.3C1544.9 443.5 1545.2 449.6 1544.3 455.8C1543.4 461.9 1542.8 469.9 1539.7 474C1536.7 478.1 1531.4 479.7 1526 480.4C1520.7 481.2 1514.6 479.7 1507.8 478.6C1500.9 477.5 1492.4 475.7 1484.8 474C1477.1 472.4 1470.3 470.3 1461.9 468.5C1453.5 466.8 1443.5 465.4 1434.4 463.6C1425.2 461.9 1416.1 460 1407 458.1C1397.8 456.3 1388.7 454.5 1379.6 452.7C1370.4 450.8 1361.3 449 1352.2 447.2C1343 445.4 1333.2 442.6 1324.8 441.7C1316.4 440.8 1308.3 440.7 1302 441.9C1295.6 443.1 1291.8 446.2 1286.4 449C1281.1 451.8 1275.5 455.3 1270 458.5C1264.5 461.7 1257.4 465.8 1257.4 465.8L1255.5 243.3Z" fill="#80ffd0"/>
<path d="M1255.4 273.1C1255.4 273.1 1264 274 1270 273C1276 271.9 1280.7 272.1 1288.3 272.8C1295.9 273.5 1306.5 275.1 1315.7 277.4C1324.8 279.6 1333.9 283.4 1343 286.5C1352.2 289.5 1361.3 292.3 1370.4 295.6C1379.6 299 1390.2 302.3 1397.8 306.6C1405.4 310.8 1410.9 315.7 1416.1 321.2C1421.3 326.7 1425.2 333.7 1428.9 339.4C1432.5 345.2 1434 351 1438 355.9C1442 360.7 1447.1 365.2 1452.6 368.7C1458.1 372.2 1465.5 374.3 1470.9 376.9C1476.2 379.5 1479.4 381 1484.8 384.2C1490.1 387.4 1499.1 391.9 1503.2 396.2C1507.3 400.5 1508.8 404.6 1509.6 409.9C1510.4 415.3 1509.6 423.2 1507.8 428.2C1505.9 433.2 1503.2 437.5 1498.6 440.1C1494 442.6 1486.3 443.7 1480.2 443.7C1474.1 443.7 1469.6 441.6 1461.9 440.1C1454.3 438.5 1443.5 436.3 1434.4 434.4C1425.2 432.5 1416.1 431.1 1407 428.9C1397.8 426.8 1388.7 424.4 1379.6 421.6C1370.4 418.9 1361.3 415.5 1352.2 412.5C1343 409.4 1333.9 405.6 1324.8 403.4C1315.7 401.1 1306.5 399.7 1297.4 398.8C1288.3 397.9 1278.5 394.8 1270 398.1C1261.5 401.3 1255.4 397.7 1255.4 397.7L1255.4 273.1Z" fill="#c8f000"/>
<path d="M1255.4 297.2C1255.4 297.2 1264.1 298.3 1270 296.9C1275.9 295.5 1280.7 295.8 1288.3 296.5C1295.9 297.2 1306.5 299.1 1315.7 301.1C1324.8 303.1 1333.9 305.4 1343 308.4C1352.2 311.4 1361.9 315.1 1370.4 319.4C1379 323.6 1387.2 328.5 1394.2 334C1401.2 339.4 1407.9 346.1 1412.4 352.2C1417 358.3 1420.7 364.4 1421.6 370.5C1422.5 376.6 1420.4 383.9 1417.9 388.7C1415.5 393.6 1411.8 397.3 1407 399.7C1402.1 402.1 1394.8 403.1 1388.7 403.4C1382.6 403.7 1378 403.4 1370.4 401.5C1362.8 399.7 1352.2 395.1 1343 392.4C1333.9 389.7 1324.8 387.1 1315.7 385.1C1306.5 383.1 1295.9 381.4 1288.3 380.5C1280.7 379.6 1276.1 379 1270 379.6C1263.9 380.2 1255.4 378.9 1255.4 378.9L1255.4 297.2Z" fill="#ff8000"/>
<path d="M1255.4 320C1255.4 320 1262.2 323.7 1270 318.8C1277.8 313.9 1288.3 316.5 1297.4 316.6C1306.5 316.7 1315.7 317.7 1324.8 319.4C1333.9 321 1343.7 323.6 1352.2 326.7C1360.7 329.7 1369.5 333.4 1375.9 337.6C1382.3 341.9 1387.2 347 1390.5 352.2C1393.9 357.4 1396 363.8 1396 368.7C1396 373.5 1393.9 378.7 1390.5 381.4C1387.2 384.2 1381.4 384.8 1375.9 385.1C1370.4 385.4 1364.7 385.1 1357.7 383.3C1350.7 381.4 1342.4 377.2 1333.9 374.1C1325.4 371.1 1314.7 367.6 1306.5 365C1298.3 362.4 1290.7 360.1 1284.6 358.6C1278.5 357.1 1274.3 358.3 1270 355.9C1265.7 353.4 1255.6 353.2 1255.6 353.2L1255.4 320Z" fill="#ff0000"/>
<path d="M1544.3 355C1543.7 358.9 1544.6 367.4 1546.1 373.2C1547.6 379 1549.9 384.8 1553.4 389.8C1556.9 394.9 1561.9 398.8 1567.3 403.5C1572.7 408.3 1580.2 414.5 1585.6 418.1C1590.9 421.8 1594.7 424.7 1599.3 425.5C1603.8 426.2 1609.4 424.5 1613 422.7C1616.5 420.9 1619.6 418.9 1620.4 414.5C1621.2 410.1 1619.4 402.4 1617.7 396.2C1616 390.1 1614 383.1 1610.2 377.8C1606.4 372.4 1599.6 367.9 1594.7 364.1C1589.8 360.3 1586.4 357.5 1581 355C1575.6 352.4 1567.4 349.5 1562.2 348.6C1556.9 347.7 1552.4 348.4 1549.4 349.5C1546.4 350.5 1544.8 351 1544.3 355Z" fill="#c8f000"/>
<path d="M1311.6 184.6C1311.6 184.6 1316.3 192.1 1319.3 197C1322.3 201.9 1323.9 205.5 1328.4 211.6C1333 217.7 1339.7 227.1 1346.7 233.5C1353.7 239.9 1361.9 245.4 1370.4 250C1379 254.5 1388.7 257.3 1397.8 260.9C1407 264.6 1416.1 268.2 1425.2 271.9C1434.4 275.5 1445 278.9 1452.6 282.8C1460.2 286.8 1464.8 291.4 1470.9 295.6C1477 299.9 1471.8 313.9 1471.8 313.9C1471.8 313.9 1480 318.4 1480 318.4C1480 318.4 1486.4 313.9 1486.4 313.9C1486.4 313.9 1483.1 299.9 1487.3 295.6C1491.6 291.4 1495.8 286.8 1500.1 282.8C1504.4 278.9 1508 272.8 1512.9 271.9C1517.7 271 1523.5 274.6 1529.3 277.4C1535.1 280.1 1540.6 284.4 1547.6 288.3C1554.6 292.3 1563.4 296.5 1571.3 301.1C1579.2 305.7 1587.4 310.5 1595.1 315.7C1602.7 320.9 1610.3 326.7 1617 332.1C1623.7 337.6 1629.1 342.9 1635.2 348.6C1641.4 354.2 1647.8 360.1 1654 365.9C1660.3 371.7 1664.8 375.8 1664.8 375.8L1666.1 281.9C1666.1 281.9 1660.3 278 1654 273.7C1647.8 269.4 1641.4 264.6 1635.2 260.9C1629.1 257.3 1624.6 255.1 1617 251.8C1609.4 248.4 1598.7 244.2 1589.6 240.8C1580.4 237.5 1569.8 234.7 1562.2 231.7C1554.6 228.7 1550 225.9 1543.9 222.6C1537.8 219.2 1531.7 215.9 1525.7 211.6C1519.6 207.3 1513.5 201.9 1507.4 197C1501.3 192.1 1496 187.9 1496 187.9L1311.6 184.6Z" fill="#30f0ff"/>
<path d="M1325.5 185C1325.5 185 1329.7 190.9 1333.9 197C1338.2 203.1 1342.1 209.2 1346.7 215.3C1351.3 221.3 1354.3 228.7 1361.3 233.5C1368.3 238.4 1379.6 241.6 1388.7 244.5C1397.8 247.4 1407 249.8 1416.1 250.9C1425.2 251.9 1435 252.2 1443.5 250.9C1452 249.5 1461.1 245.5 1467.2 242.7C1473.3 239.8 1477.1 237.5 1480 233.5C1482.9 229.6 1484.9 224.1 1484.6 218.9C1484.3 213.7 1479.9 206.1 1478.2 202.5C1476.5 198.8 1475.7 198.8 1474.5 197C1473.3 195.2 1466.4 184.8 1466.4 184.8L1325.5 185Z" fill="#0090ff"/>
<path d="M1538.4 189.7C1538.4 189.7 1544.5 193.3 1551.2 197C1557.9 200.7 1563.4 204.3 1571.3 208C1579.2 211.6 1589.6 214.7 1598.7 218.9C1607.8 223.2 1616.9 228.3 1626.1 233.5C1635.3 238.7 1644.7 244.5 1654 250C1663.4 255.4 1666.6 257.4 1666.6 257.4L1690 160.5L1538.4 189.7Z" fill="#80ffd0"/>
<path d="M1576 189.7C1576 189.7 1583.5 194.6 1589.6 197C1595.7 199.4 1600.8 201.6 1607.8 204.3C1614.8 207 1623.9 209.5 1631.6 213.4C1639.3 217.4 1646.6 223.2 1654 228C1661.5 232.9 1666.3 236 1666.3 236L1690 160.5L1576 189.7Z" fill="#c8f000"/>
<path d="M1602.6 189.7C1602.6 189.7 1610.9 195.8 1617 197C1623.1 198.2 1629.1 199.3 1635.2 200.7C1641.4 202 1647.8 203.7 1654 205.2C1660.3 206.7 1668.2 208.7 1668.2 208.7L1690 160.5L1602.6 189.7Z" fill="#ff8000"/>
<path d="M1255.4 477.4C1255.4 477.4 1261 479.1 1270 477.7C1279 476.2 1288.3 477.7 1297.4 478.2C1306.5 478.8 1314.1 479.7 1324.8 481C1335.4 482.2 1349.1 483.9 1361.3 485.5C1373.5 487.2 1385.7 489.6 1397.8 491C1410 492.4 1423.7 493.5 1434.4 493.7C1445 494 1452.8 491.2 1461.9 492.3C1471.1 493.4 1478.6 496.5 1489.3 500.1C1500 503.8 1513.3 510.8 1526 514C1538.7 517.2 1539.7 521.3 1539.7 521.3L1233.5 551.3L1255.4 477.4Z" fill="#30f0ff"/>
<path d="M1255.4 500.1C1255.4 500.1 1263.9 500.7 1270 500.5C1276.1 500.4 1280.7 500.2 1288.3 501.1C1295.9 501.9 1304.8 503.5 1315.7 505.6C1326.5 507.8 1340.6 511.2 1353.1 514C1365.6 516.8 1367.3 521.3 1367.3 521.3L1233.5 551.3L1255.4 500.1Z" fill="#0090ff"/>
</g>
<clipPath id="q2BL"><rect x="886" y="513" width="384.3" height="318"/></clipPath>
<g clip-path="url(#q2BL)">
<rect x="886" y="513" width="384.3" height="318" fill="#70ffff"/>
<path d="M947.2 500.1C947.2 500.1 941.5 509.8 940.2 513C939 516.2 938.3 518.2 935.3 522.1C932.4 526.1 927.7 532.5 922.5 536.7C917.3 541 910.3 545.1 904.3 547.7C898.2 550.3 892.1 550.7 886 552.3C879.9 553.8 871.8 555.8 871.8 555.8L872.4 637.1C872.4 637.1 879.9 634.1 886 631.7C892.1 629.3 896.7 627.1 904.3 624.4C911.9 621.7 922.5 618.6 931.7 615.3C940.8 611.9 949.9 607.7 959 604.3C968.2 601 977.3 598.2 986.4 595.2C995.6 592.1 1004.7 588.3 1013.8 586C1023 583.8 1032.1 582.1 1041.2 581.5C1050.4 580.9 1061 583.2 1068.6 582.4C1076.2 581.6 1082.3 580 1086.9 576.9C1091.4 573.9 1095.1 570.2 1096 564.1C1096.9 558 1093.6 548.9 1092.4 540.4C1091.1 531.9 1090.5 522 1088.7 513C1086.9 504 1086.8 498.5 1086.8 498.5L947.2 500.1Z" fill="#30f0ff"/>
<path d="M1008.4 651.8C1008.4 645.7 1013.5 638.4 1017.5 633.5C1021.4 628.7 1027.5 624.4 1032.1 622.6C1036.7 620.7 1040 621 1044.9 622.6C1049.7 624.1 1055.8 629.9 1061.3 631.7C1066.8 633.5 1072.9 631.7 1077.7 633.5C1082.6 635.4 1086.6 639 1090.5 642.7C1094.5 646.3 1098.7 650.3 1101.5 655.4C1104.2 660.6 1105.9 667 1107 673.7C1108 680.4 1108.2 688.9 1107.9 695.6C1107.6 702.3 1107.1 709 1105.1 713.9C1103.2 718.7 1100.6 723 1096 724.8C1091.4 726.7 1082.9 726.7 1077.7 724.8C1072.6 723 1069.5 717.8 1065 713.9C1060.4 709.9 1055.8 706 1050.4 701.1C1044.9 696.2 1037.6 689.8 1032.1 684.7C1026.6 679.5 1021.4 675.5 1017.5 670C1013.5 664.6 1008.4 657.9 1008.4 651.8Z" fill="#80ffd0"/>
<path d="M1132.9 501.6C1132.9 501.6 1139.7 509 1142 513C1144.4 517 1147 520.6 1150.8 524C1154.6 527.3 1160.3 532.9 1164.9 532.9C1169.4 532.9 1174.8 527.3 1178.2 524C1181.6 520.6 1182.1 516.1 1185.1 513C1188.2 509.9 1192.9 500.7 1192.9 500.7L1132.9 501.6Z" fill="#80ffd0"/>
<path d="M874.8 664.3C874.8 664.3 882.3 670.7 886 673.7C889.7 676.7 893 679.8 897 682.8C900.9 685.9 904 689.5 909.7 692C915.5 694.4 923.4 695.9 931.7 697.4C939.9 699 949.9 700.2 959 701.1C968.2 702 978.8 702.3 986.4 702.9C994 703.5 998.9 702.9 1004.7 704.7C1010.5 706.6 1015.7 709.9 1021.1 713.9C1026.6 717.8 1032.1 723.3 1037.6 728.5C1043 733.7 1048.2 739.4 1054 744.9C1059.8 750.4 1066.2 756.2 1072.3 761.4C1078.4 766.5 1085.1 771.4 1090.5 776C1096 780.5 1103.3 785.7 1105.1 788.7C1107 791.8 1104.5 793.3 1101.5 794.2C1098.4 795.1 1092.4 795.4 1086.9 794.2C1081.4 793 1074.7 789.1 1068.6 786.9C1062.5 784.8 1057 783.9 1050.4 781.4C1043.7 779 1035.7 775.4 1028.4 772.3C1021.1 769.3 1008.4 763.2 1008.4 763.2C1008.4 763.2 998 765 995.6 770.5C993.1 776 990.4 781.7 988.3 786.9C986.1 792.1 985.2 797.3 982.8 801.5C980.4 805.8 977.6 808.8 973.7 812.5C969.7 816.1 964.5 821 959 823.4C953.6 825.9 948.4 827.4 940.8 827.1C933.2 826.8 922.5 824.1 913.4 821.6C904.3 819.2 895.1 815.5 886 812.5C876.9 809.4 872.1 807.9 872.1 807.9L874.8 664.3Z" fill="#30f0ff"/>
<path d="M872 698.7C872 698.7 879.9 701.1 886 702.9C892.1 704.7 896.7 706.3 904.3 708.4C911.9 710.5 923.1 713.3 931.7 715.7C940.2 718.1 949 720.6 955.4 723C961.8 725.4 967.9 726.4 970 730.3C972.1 734.3 969.4 741.3 968.2 746.7C967 752.2 964.8 758 962.7 763.2C960.6 768.4 959.7 774.1 955.4 777.8C951.1 781.4 943.5 784.2 937.1 785.1C930.7 786 923.1 785.1 917 783.3C911 781.4 905.8 777.5 900.6 774.1C895.4 770.8 890.9 766.8 886 763.2C881.1 759.5 874.3 754.4 874.3 754.4L872 698.7Z" fill="#0090ff"/>
<path d="M1215.2 501.5C1215.2 501.5 1213.1 505.7 1206.1 513C1199.1 520.3 1193.2 528.2 1187.3 536.7C1181.4 545.3 1176.1 555 1170.9 564.1C1165.7 573.3 1160.5 582.4 1156.3 591.5C1152 600.7 1148.1 610.7 1145.3 618.9C1142.6 627.1 1141.1 632.6 1139.8 640.8C1138.6 649 1138.3 659.1 1138 668.2C1137.7 677.4 1138.2 686.5 1138 695.6C1137.9 704.7 1137.1 713.9 1137.1 723C1137.1 732.1 1136.6 743.1 1138 750.4C1139.4 757.7 1141.7 763.8 1145.3 766.8C1149 769.9 1153.8 768.4 1159.9 768.7C1166 769 1175.7 770.8 1181.8 768.7C1187.9 766.5 1191.6 760.7 1196.4 755.9C1201.3 751 1205.6 745.5 1211.1 739.4C1216.5 733.4 1223.8 726.1 1229.3 719.4C1234.8 712.7 1239.4 704.7 1243.9 699.3C1248.5 693.8 1252.4 691 1256.7 686.5C1261.1 681.9 1263.8 673.9 1270 671.9C1276.3 669.8 1279.9 661.1 1279.9 661.1L1306 476.5L1215.2 501.5Z" fill="#30f0ff"/>
<path d="M1227.3 500.3C1227.3 500.3 1226.1 507.2 1220 513C1213.9 518.8 1211.3 527.3 1207.4 534.9C1203.5 542.5 1200.1 550.1 1196.4 558.7C1192.8 567.2 1188.5 576.9 1185.5 586C1182.4 595.2 1181.2 604.9 1178.2 613.4C1175.1 622 1170 629.6 1167.2 637.2C1164.5 644.8 1162.4 650.9 1161.7 659.1C1161.1 667.3 1163 677.4 1163.6 686.5C1164.2 695.6 1181.8 702.9 1181.8 702.9C1181.8 702.9 1190.4 697.4 1196.4 692C1202.5 686.5 1208.6 681.3 1214.7 675.5C1220.8 669.7 1226.9 663 1233 657.3C1239.1 651.5 1245.1 646.6 1251.2 640.8C1257.4 635 1262.9 627.6 1270 622.6C1277.2 617.5 1280.5 612.4 1280.5 612.4L1306 476.5L1227.3 500.3Z" fill="#0090ff"/>
<path d="M1284.6 524.2C1284.6 524.2 1276.1 526.4 1270 524.9C1263.9 523.4 1256.8 523.8 1251.2 525.8C1245.7 527.8 1241.2 531.3 1236.6 536.7C1232.1 542.2 1227.5 551.3 1223.8 558.7C1220.2 566 1216.5 574.5 1214.7 580.6C1212.9 586.7 1213.5 590.3 1212.9 595.2C1212.3 600 1218.4 611.6 1218.4 611.6C1218.4 611.6 1226.9 598.2 1233 595.2C1239.1 592.1 1245.1 588.8 1251.2 586C1257.4 583.3 1263.9 581.5 1270 578.7C1276.2 576 1283.7 573.5 1283.7 573.5L1284.6 524.2Z" fill="#4420ff"/>
<path d="M999.6 844.2C999.6 844.2 1001.7 835.3 1002.9 830C1004.1 824.8 1004.7 818.8 1006.5 814.3C1008.4 809.9 1010.5 807.3 1013.8 803.4C1017.2 799.4 1022 792.1 1026.6 790.6C1031.2 789.1 1035.7 792.7 1041.2 794.2C1046.7 795.7 1053.4 797.6 1059.5 799.7C1065.6 801.8 1071.7 804.6 1077.7 807C1083.8 809.4 1089.9 812.2 1096 814.3C1102.1 816.4 1108.2 819.5 1114.3 819.8C1120.4 820.1 1126.4 817.7 1132.5 816.1C1138.6 814.6 1143.2 812.5 1150.8 810.7C1158.4 808.8 1169.1 806.7 1178.2 805.2C1187.3 803.7 1196.4 802.7 1205.6 801.5C1214.7 800.3 1225.4 799.1 1233 797.9C1240.6 796.7 1245.1 794.2 1251.2 794.2C1257.4 794.2 1264.1 795.6 1270 797.9C1276 800.2 1284.4 800.7 1284.4 800.7L1306 867.3L999.6 844.2Z" fill="#80ffd0"/>
<path d="M1030.3 838.1L1043 810.7C1043 810.7 1052.8 816.4 1059.5 819.8C1066.2 823.2 1072.9 826.6 1079.6 830C1086.3 833.4 1092.6 837.3 1092.6 837.3L1030.3 838.1Z" fill="#c8f000"/>
</g>
<clipPath id="q2BR"><rect x="1270" y="513" width="385" height="318"/></clipPath>
<g clip-path="url(#q2BR)">
<rect x="1270" y="513" width="385" height="318" fill="#70ffff"/>
<path d="M1511.5 505.7C1511.5 505.7 1517 510.7 1526 513C1535 515.3 1546 514.8 1553.6 516.7C1561.2 518.5 1564.3 521.2 1571.9 524C1579.5 526.7 1590.1 529.3 1599.3 533.1C1608.4 536.9 1617.7 542.5 1626.8 546.8C1636 551 1645 554.7 1654 558.7C1663.1 562.6 1667.4 564.5 1667.4 564.5L1663.7 814.3C1663.7 814.3 1657.3 807 1654 803.4C1650.8 799.7 1649 797.6 1644.4 792.4C1639.7 787.2 1631.6 779.9 1626.1 772.3C1620.6 764.7 1615.1 755 1611.5 746.7C1607.8 738.5 1606.3 730 1604.2 723C1602.1 716 1602.7 710.5 1598.7 704.7C1594.8 699 1588.1 692.9 1580.4 688.3C1572.8 683.7 1562.2 678.7 1553.1 677.4C1543.9 676 1533.3 678.9 1525.7 680.1C1518.1 681.3 1512.9 682.1 1507.4 684.7C1501.9 687.2 1497.7 692 1492.8 695.6C1487.9 699.3 1480 710.2 1480 710.2C1480 710.2 1461.7 705.4 1461.7 692C1461.7 678.6 1463 660.9 1461.7 651.8C1460.5 642.7 1457.5 642 1454.4 637.2C1451.4 632.3 1448.4 626.7 1443.5 622.6C1438.6 618.5 1431.3 613.1 1425.2 612.5C1419.1 611.9 1412.7 615.7 1407 618.9C1401.2 622.1 1393.6 625.6 1390.5 631.7C1387.5 637.8 1391.7 648.7 1388.7 655.4C1385.7 662.1 1376.8 666.1 1372.3 671.9C1367.7 677.7 1365 684 1361.3 690.1C1357.7 696.2 1357.7 708.4 1357.7 708.4C1357.7 708.4 1349.1 699.9 1343 695.6C1337 691.4 1330.9 685.9 1324.8 682.8C1318.7 679.8 1312.6 678.6 1306.5 677.4C1300.4 676.1 1294.3 676.4 1288.3 675.5C1282.2 674.6 1275.9 669.9 1270 671.9C1264.1 673.8 1255.7 669 1255.7 669L1233.5 476.5L1511.5 505.7Z" fill="#30f0ff"/>
<path d="M1256.9 629.1C1256.9 629.1 1264.4 626.5 1270 622.6C1275.6 618.6 1280.7 615.9 1288.3 613.4C1295.9 611 1308 611 1315.7 608C1323.3 604.9 1327.8 601.3 1333.9 595.2C1340 589.1 1346.4 579 1352.2 571.4C1358 563.8 1363.1 556.8 1368.6 549.5C1374.1 542.2 1374.1 533.1 1374.1 533.1L1353.1 505.7L1233.5 476.5L1256.9 629.1Z" fill="#0090ff"/>
<path d="M1257.4 517.5C1257.4 517.5 1265.9 523.9 1270 524.9C1274.1 525.9 1277 527.2 1281 531.3C1284.9 535.4 1292.5 544 1293.7 549.5C1295 555 1291 559.9 1288.3 564.1C1285.5 568.4 1280.3 572.7 1277.3 575.1C1274.3 577.5 1272.5 577.6 1270 578.7C1267.5 579.8 1256.9 585.3 1256.9 585.3L1257.4 517.5Z" fill="#4420ff"/>
<path d="M1480.2 552.4C1480.2 552.4 1486.5 543.6 1494.1 544.2C1501.7 544.8 1508.5 543.5 1516.9 546.1C1525.3 548.6 1535.1 554 1544.3 559.7C1553.4 565.5 1564.2 573.4 1571.9 580.8C1579.5 588.1 1584.8 596.9 1590.1 603.8C1595.5 610.6 1599.3 615.2 1603.8 622C1608.3 628.8 1612.3 636.8 1617 644.5C1621.6 652.2 1626.7 661.5 1631.6 668.2C1636.4 674.9 1642.4 680.4 1646.2 684.7C1649.9 688.9 1651.4 690.7 1654 693.8C1656.7 696.8 1663.6 704.9 1663.6 704.9L1662.1 746.1C1662.1 746.1 1657.3 738.8 1654 734C1650.8 729.1 1648.1 724.2 1644.4 719.4C1640.6 714.5 1636.1 710.2 1631.6 704.7C1627 699.3 1621.5 691.7 1617 686.5C1612.4 681.3 1608.8 678.3 1604.2 673.7C1599.6 669.1 1595.1 664 1589.6 659.1C1584.1 654.2 1577.3 648.4 1571.3 644.5C1565.3 640.6 1559.6 638.4 1553.6 635.7C1547.6 633 1540.5 631.5 1535.2 628.4C1529.8 625.4 1526 621.6 1521.5 617.5C1516.9 613.3 1512.3 609.1 1507.8 603.8C1503.2 598.4 1497.9 591.4 1494.1 585.3C1490.2 579.2 1487.9 573.1 1484.8 567.1C1481.7 561 1480.2 552.4 1480.2 552.4Z" fill="#0090ff"/>
<path d="M1257.5 790.4C1257.5 790.4 1263.4 795.3 1270 797.9C1276.6 800.4 1280.7 805.2 1288.3 808.8C1295.9 812.5 1307.7 816.3 1315.7 819.8C1323.6 823.3 1329 826.6 1335.7 830C1342.4 833.4 1348.8 837.3 1348.8 837.3L1233.5 867.3L1257.5 790.4Z" fill="#80ffd0"/>
<path d="M1503.3 837.3C1503.3 837.3 1510.4 832.8 1516.5 830C1522.6 827.2 1527.2 823.3 1534.8 821.6C1542.4 819.9 1554.6 818.4 1562.2 819.8C1569.8 821.2 1574.4 826.6 1580.4 830C1586.5 833.4 1593.2 837.3 1593.2 837.3L1503.3 837.3Z" fill="#80ffd0"/>
</g>
</g>
<path d="M1654.5 185V947.7" stroke="#ffc8b4" stroke-width="1.3" fill="none"/><path d="M886 947.7H1654.5" stroke="#ffc8b4" stroke-width="1.3" fill="none"/><path d="M886 197.5H1654.3" stroke="#ffa868" stroke-width="1.3" fill="none"/><path d="M886 829.5H1654.3" stroke="#ff9a60" stroke-width="1.3" fill="none"/>
<clipPath id="cclip2"><rect x="875.5" y="69" width="789" height="888"/></clipPath>
<g clip-path="url(#cclip2)"><g transform="translate(838 0)" fill="none" stroke="#000" stroke-width="1.7" stroke-linejoin="round" stroke-linecap="round"><path d="M418.7 336.4L422.7 337.5L427.2 339.9L430.8 335.6L433.8 332.9L438.2 331L443.7 330.7L449.1 331L453.5 329L455.6 331L454.1 334.4L454.1 337.9L454.5 343.8L455.6 347.7L460 350.7L465 353.7L466.6 358.6L470.9 362.5L474.2 362.5L475.3 357.6L475.5 353.2L479.7 350.7L482.9 354.2L486.2 356.6L490.6 358.6L495 360.6L499.3 357.6L502.2 359.1L502.6 365L502.9 369.8L504.8 374.9L505.1 379.1L507 384.7L507.9 390.3L509.2 394.6L509.9 399L512 404.5L512.7 411.4L512.9 416.8L514.4 420.3L515.7 424.2L517.7 429.6L517.9 436.5L521.2 441.5L524 446L525.6 451.3L526 456.3L529.9 461.2L532.6 458.8L536.5 457.8L539.6 456.8L543.5 454.8L542.5 459.4L542.6 463.7L541.5 468.4L540.1 472.7L538.7 478.5L536.8 482.9L536.5 488.3L534.6 494.4L532.1 500.7L529.6 504.5L527.7 508.1L526 512.6L524.5 517.9L521.2 522.9L520.6 528.2L519 532.7L517.4 539L516.8 545.1L517.4 551.9L517.9 557.4L519.4 560.7L520.1 564.8L521 570.7L520.1 578.4L520.3 584.5L518.5 589.4L517.9 594.4L514.3 598.4L512.4 601.8L510.7 606.9L508.1 611.7L509.3 616.3L509.2 621.5L509.4 626.6L508.9 631.4L506.5 635L503.7 638.8L504.1 644.5L503.3 648.7L501.3 654.9L499.3 660.5L496.4 665.8L495.2 671.3L492.8 675.3L490.7 677.6L487.5 680.7L483.4 681.5L479.7 681.7L475.3 684.7L471.8 681.7L470.5 676.2L470.9 670.9L469.2 664L468.7 658.5L466.5 654.1L465.2 648.2L464.4 643.7L463.8 638.5L462.9 631.8L463.3 626L462 620.6L461.1 614.5L458.8 607.7L457.8 601.8L457.3 597.6L457.4 591.9L459.4 585.5L459.3 579.9L461.1 574.7L460.4 568.9L460.8 562.7L460.4 557.4L458.8 552.3L458.7 547.7L458.3 542.6L458.6 539.2L457.4 535.2L454.9 530.5L452.4 525.3L451.9 520.1L450.8 516.5L452.3 512.8L452.4 508.1L453.3 502.4L452.8 495.7L450.2 490.8L446.9 491.3L444.7 491.8L442.9 486.9L441.4 482.4L437.1 482.9L434.2 482.9L429.4 487.3L427.2 489.3L422.9 487.3L418.2 488.5L415.2 491.3L411.9 488.3L409.4 484.5L408 481.9L405.3 475.7L403.2 471.1L401.7 466.1L399.3 461.8L398.8 458.7L396.4 454.8L395.3 451.3L394.9 446.4L393.4 440.5L395.5 434.1L395.1 429.8L396.5 423.6L396.6 419.3L395.1 414.1L394.5 409.4L395.3 402.1L396.6 396.1L398.9 391.3L399.9 384.7L401.5 380.5L403.2 376.4L407.6 370.9L410.2 367.5L409.6 361.8L410.4 357.6L411.4 352.7L413 348.7L416.3 345.3L418.1 340.2L418.7 336.4M539.3 572.2L539.3 578.8L541.1 583.1L541.9 589.5L540.9 594.8L539.8 601.8L538.7 609.2L538.2 615.3L536.5 621.5L535.3 626.2L534.4 631.9L534.3 636.3L529.9 639.3L528.6 634.4L527.1 628.4L526.3 623.2L526.2 619.1L527.9 616.2L528.4 611.7L528.8 607.3L528.5 602.2L527.7 596.9L529.4 593.9L532.1 590.9L534 584.4L536.5 579.6L537.1 575.5L539.3 572.2M419.8 334.9L422 332L427.2 331.5L430.1 327.5L431.6 322.1L430.9 318.1L433.3 311.7L435.5 309.4L438.6 306.3L438.2 299.9L440.3 298.4L443.4 299.4L447.6 297.4L451 294L454.1 298.4L457 302.5L458.3 306.8L462.6 311.7L465.9 315.7L467 320.3L466.6 323.1L465.7 325.5L467.7 324.1L469 320.6L467.9 317.2L468.7 313.2L472 315.2L470.9 312.2L469.6 309L466.6 306.3L463.3 304.3L461.1 297.9L458.5 293.5L458.5 289L461.5 288.1L461.3 291.5L464.8 295L467.4 298.4L471.1 302.9L474 306.8L474 313.2L475.3 317.2L476 320.1L477.7 324.1L477.8 327.2L479 331.5L480.8 332.9L482.3 332.9L481.9 328L484 327L482.9 323.1L481.6 319.1L481.6 313.2L484 314.7L484.9 311.2L488.4 311.7L488.8 315.2L489.5 318.1L490.2 323.1L490.9 327.5L491.3 330.5L493.2 332L496.1 334.4L498.5 331.5L501.5 334.9L505.9 333.9L510.3 331.5L510 337.9L510.2 341.8L509.2 345.8L508.8 349.8L507.9 352.7L506.5 358.6L503.7 359.6L502.6 365L503 370.2L504.8 374.9L507 374.9L508.3 371.7L508.1 367.5L508.5 371.1L508.1 374.9L509.1 380.3L511.4 384.7L512.1 389.5L513.5 393.1L516 398.6L516.8 404.5L516.9 409L517.3 411.9L519.6 416.2L521.2 421.7L522.2 426L524.5 431.6L525.7 438.3L525.6 443.9L526.6 450.4L529.9 449.9L532 448.2L535.4 445.4L539.8 440L543.6 438.3L545.7 436L548.5 430.6L552.4 426.7L554 423.6L556.1 420.3L556.4 415.7L557.9 412.9L560.9 407.7L562.3 402L560.1 396.6L556.1 394.6L554.8 390.7L554.6 383.8L552.4 387.2L551.1 391.2L549.6 393.6L544.8 394.6L544.3 391.3L544.1 386.7L542.6 390.7L542.4 385.9L541.1 382.3L539.2 378.2L538.2 374.9L536.9 371.3L536.5 367.5L538.4 363.5L541.3 365L541.7 368.6L543 372.4L544.6 377.3L547.4 380.8L551.3 382.3L554.6 379.3L556.6 385.7L560.5 387.7L566 388.7L571.4 388.2L576.9 387.7L578.7 392.1L580.6 396.1L581.2 399.5L582.4 403L584 407.2L585.4 409.9L588.9 408.9L590.2 403L590.2 409.2L590.5 413.9L590.7 419.3L591.1 423.3L591.3 428.6L591.8 434.1L591.7 439.5L592.9 443.9L594.4 448.9L596.2 453.9L597.2 458.7L597.7 463.7L598.8 468.6L600.9 473L602.5 468.6L604.7 467.1L605.4 463.4L606 458.7L605.7 453.4L606.8 447.9L606.3 442.3L606.6 437.5L609.7 432.1L611.9 429.1L614 425.5L615.1 421.7L616.9 419L618.4 415.3L621.5 410.4L622.8 406L626.1 405.5L629.3 402L631.5 401L632.6 407.9L634.1 414.3L636.5 417.9L637.4 421.7L637.7 427.9L637.6 434.1L639.8 435.1L643.1 431.1L644.9 432.6L645 437.4L645.1 441.5L645.9 447.7L646.8 453.8L646.9 459.5L647 463.7L647.1 468.5L646.4 472.1L648.6 475.3L649.2 479.5L650.8 485.9L651.8 492.8L652.7 498.2L655.6 503.1L657.7 506.1L659.3 505.6L659.1 501.2L657.7 498.2L657 494.4L657.5 490.8L655.6 486.6L655.1 483.4L652.3 479L650.6 475.3L650.5 471.1L648.6 467.1L649.7 462.4L649.9 456.3L649.4 452.2L650.1 447.4L652.1 446.9L653.6 450.8L656.2 454.8L658 461.2L660.6 461.7L661 465.2L660.8 470.1L664.3 464.7L666.1 461.2L669.5 457.3L670.4 451.3L671 447.2L670.2 441.5L668.7 438.6L668.2 434.1L665.4 428.2L663.9 424.2L662.8 420.3L663 414.8L664.7 410.9L667.6 406.9L670.9 406.4L672.4 411.9L673 407.9L676.3 405.5L679.6 403L681.8 401.5L686.2 399L688.7 396.2L689.4 392.1L692.7 386.2L692.9 382.4L694.2 378.8L695.7 375.3L697.1 372.4L696.9 368.4L697.7 365L696 361.1L697.7 356.1L696.7 351.1L694.9 347.7L693.7 343.9L692.3 340.3L694.9 334.4L699.3 330.5L697.1 327.5L691.6 329L689.4 324.6L688.8 320.1L691.6 319.1L692.9 315.1L696 311.7L698.2 313.2L697.5 316.9L696.4 320.6L699.3 318.1L703 315.7L705.2 318.1L704.3 324.6L707.3 327.5L706.9 332.3L708 335.4L707.6 342.3L710.2 341.3L713.5 339.4L714.4 335.8L714.3 330.5L712.6 326.4L712.4 323.1L710.2 317.2L712.4 312.7L715 308.3L717.2 303.8L720 299.9L723.3 301.9L724.7 298.7L727.7 294.5L729.4 289.6L732 286.1L733.5 283.1L735.3 278.7L737.5 273.3L738.6 268.8L738.3 264.6L739.2 259L739.9 255.1L740.3 250.6L736.4 245.1L731.4 246.6L727.2 242.7L728.9 237.7L732 234.3L735.1 230.5L737.5 226.9L739.5 224.5L743 220.5L747 220.8L750.6 220L757.2 218.5L759.7 220.9L763.7 222L766.2 221.4L770.3 219.5L770 215.5L769.8 212.1L774.6 208.1L781.2 208.6L784.6 207.4L787.8 204.7L791 209.6L789 212.7L787.8 217L786.5 220.2L785.1 224.4L782.5 226.8L781.2 230.3L776.9 229.3L774.2 229.4L773 232.7L772.5 236.8L772.5 242.5L771.6 249.1L772.6 254.7L773.6 261.4L775.2 256.8L777.5 254L778.9 249.4L781.2 246.6L785.6 241.7L786.2 238.1L786 234.3L786.6 230.5L788.4 226.9L791.1 221.2L792.1 217L796 215.7L798.7 214.6L804.1 217L807.4 213.2L810.7 208.1L813.8 206.4L817.3 204.7L823.8 203.7L824.7 199.1L824.9 192.8M824.9 172.6L820.2 171.2L816.2 168.7L811.1 170.4L805.2 171.6L800.7 170.1L796.5 169.2L790.2 168.8L785.6 169.7L782.3 172.1L776.6 167.9L772.5 162.8L767.7 162.2L763.7 162.8L759.7 160.2L757.2 156.3L752.7 155.8L746.6 154.2L741.9 153.9L739.3 156.8L737.5 159.8L732.5 159.7L728.8 159.8L724 162.1L720 162.8L717.6 161.6L713.5 160.3L709.1 155.4L704.3 154.5L700.4 151.9L694.5 150.9L689.4 150.4L683.6 149.5L679.6 148.9L679 143.5L678.5 138.1L672.5 136.1L667.6 134.1L662.9 131.5L659.9 129.7L654.3 132.5L650.1 135.6L642.7 136.5L637 139.1L630.1 139.6L623.9 141.1L622.4 145.1L620.6 148.9L616.1 149.5L610.8 149.4L609.5 153.8L607.5 156.8L603.5 156.5L599.8 156.8L594.4 152.9L593.4 156.5L590.7 161.3L591.9 168.4L592.4 175.1L589.8 180.6L588.9 185L588 180L585.6 174.6L580.6 173.6L579.5 168.7L577.6 162.8L579.2 158.4L582.1 153.9L584.1 151.4L581.9 158.1L580.3 164.2L577.6 169.7L572.5 171.6L568.4 171.1L564 169.2L558.3 173.1L554.8 174.9L550.7 176.1L547.4 173.1L542.5 174.5L538.7 177.6L532.8 176.1L529.8 178.5L528.2 181.5L527.7 186.4L522.1 184.5L519.8 188.3L519 190.9L513.5 192.4L511.4 197.8L507.6 194.8L506.4 190.4L505 185.4L510.6 186.3L515.7 186.4L521.2 182.5L520.1 177.6L515.7 173.9L511.4 172.1L508.1 171.6L503.7 170.2L498.2 168.7L495.5 165.8L492.8 162.8L487.3 162.3L484.3 163.7L480.8 166.7L477.4 167.5L473.1 169.2L469.1 172L466.6 175.6L463.3 181.5L461.8 184.2L459.6 187.9L458.4 192L456.3 194.3L452.4 199.8L448 202.7L443 207.2L442.7 210.6L442.5 214.6L443.1 219.1L443.8 222.9L446.9 226.4L450.2 225.4L454.3 220.5L456.1 223.9L457.4 229.4L459.3 235.8L459.8 239.2L462.8 238.7L463.7 235.8L467.2 233.3L467.9 228.4L469.2 222.9L472.7 218L469.8 212.1L469.6 205.7L472.9 201.2L477 197.3L478.6 191.4L480.3 188.4L484 188.4L487.1 192.4L485.4 195.8L481 200.7L478.1 205.7L478.6 212.1L480.8 216.5L486.2 216.5L491.7 214.6L496.1 217.5L492.8 219.5L487.3 219.5L482.9 221.5L483.2 225.4L484.9 227.9L483.6 231.8L479.2 229.4L477.5 233.8L477.5 240.7L474.9 244.6L471.6 242.7L466.6 245.6L462.6 247.1L458.9 245.1L455.6 246.6L453.5 244.2L453 239.2L454.5 234.3L454.5 228.9L450.2 231.3L449.3 236.8L450.4 241.7L450.8 247.1L447.3 248.6L443.6 250.1L441.9 252.5L440.3 257.5L437.1 260.9L435.1 264.9L432 268.8L429 268.3L428.1 272.8L425 272.3L421.3 274.2L422.4 277.2L426.1 279.7L427.7 284.6L429 288.5L429.3 292.5L428.8 295.9L427.7 298.9L423.3 298.4L418.9 297.9L414.1 297.4L411.5 300.9L412.4 306.8L412.6 309.7L412.4 314.2L411.1 317.5L411.1 321.6L412.4 324.1L412.2 330.5L415.4 329.5L417.6 331.5L419.8 334.9M419.6 265.9L424 264.4L428.3 262.9L432.7 262.4L434.7 259.9L433.3 259L435.3 253.5L432.3 251.6L431.6 248.1L429 243.7L428.1 238.7L425 236.8L426.8 231.8L427.4 228.9L422.9 228.4L424.6 223.9L420.7 223.9L418.5 229.4L419.4 235.3L418.1 238.7L421.1 241.7L421.5 243.2L424.6 242.7L425 247.6L424.8 250.1L421.8 250.1L422.4 254L420.2 257L422.9 258.5L425 259.4L421.8 261.4L419.6 265.9M418.5 255.5L415.2 256.5L410.2 258.5L409.3 255L410.8 251.6L409.8 245.6L413.5 243.7L414.1 240.7L417.4 240.7L419.4 243.7L418.3 249.1L418.5 255.5M382.4 197.8L387.9 199.8L393.4 199.3L397.1 196.7L399.9 194.8L401.9 190.4L398.8 186.4L394.5 186.4L391.2 186.9L386.8 189.4L383.5 185.4L379.2 188.4L383.5 190.9L379.2 193.3L383.5 195.8L382.4 197.8M455.6 120.8L459 124.9L462.2 130.7L464.7 132.2L468.7 134.6L471.2 130.5L473.1 125.8L479.7 127.2L477.5 121.3L484.4 119.2L490.6 117.9L485.5 117.1L480.3 115.9L475.3 115.9L470.5 117.1L464.4 119.3L460.9 120.9L455.6 120.8M544.1 162.8L548.5 163.7L552 164.2L557.2 164.7L555.6 162.1L552.9 157.8L553.3 153.7L554 150.4L556.7 147.5L560.5 143L565.5 140.7L571.4 138.1L575.7 136.2L581.3 134.1L575.8 133.2L572.3 134.1L567.6 136.5L562.7 138.1L559 140.9L554 143L550.7 147.4L548.5 150.4L546.3 154.5L544.1 160.3L544.1 162.8M639.2 123.3L643.7 125.7L650.1 128.2L655.5 126.6L661 125.8L654.9 121.8L650.1 118.4L645.4 116.5L641.4 113.4L637.2 116.3L634.8 118.4L639.2 123.3M606.4 464.7L609 471.1L610.3 474.1L610.3 478.5L608.6 482.9L606.6 483.4L606.9 478.9L605.7 473.5L606.8 468.7L606.4 464.7M669.1 418.3L671.9 414.3L674.1 416.3L672.8 421.7L670.2 422.7L669.1 418.3M696 389.7L698 391.6L697.2 395.4L696.9 399.5L695.5 404.5L694 399.5L694.5 393.6L696 389.7M741.9 245.1L744.1 251.6L745.3 256.6L744.7 261.4L745.2 266.2L746.2 271.3L744.7 274.2L744.1 278.7L743.2 285.6L741.9 281.1L741.3 276.8L742.1 271.3L741.5 267.1L741.7 261.4L741.1 256.1L741.4 251.6L741.9 245.1M737.7 308.3L739.7 303.3L744.7 305.8L747.1 302L749.5 299.4L746.9 295.5L743.4 293.5L741.4 289L740.8 294.8L740.6 298.9L738.2 299.9L737.3 304.3L737.7 308.3M717.6 345.3L720 345.8L723.3 343.3L726.6 342.3L727 347.3L730.5 343.8L734.9 341.8L737.1 339.9L739.2 336.4L740.2 332.8L739.7 328L741 323.1L741.9 317.7L741.6 314.2L740.8 309.3L738.2 309.8L737.3 315.7L737.9 319.5L736.8 323.1L734.2 328.5L731.4 329.5L730.3 332.9L728.8 336.9L725.5 337.4L721.8 338.4L718.5 342.3L717.6 345.3M717.6 345.8L719.6 348.7L719.7 351.6L718.9 356.1L717.2 359.6L716.1 355.1L715.2 350.2L716.5 347.3L717.6 345.8M721.1 345.8L724.8 343.8L725.7 346.3L722.9 348.7L721.5 350.7L721.1 345.8M695.1 421.7L698.6 422.2L699.2 426.8L699 431.6L698.6 435.6L697.3 439L698.6 444.4L702.5 448.4L702.5 450.8L699.3 446.9L696 445.4L695.1 440L694 435.7L693.6 433.1L694.7 426.7L695.1 421.7M698.2 478.5L700.4 474.1L701 471.1L703.3 467.8L705.6 465.1L706.3 469L707.8 472.1L708.6 476.1L707.8 480.9L705.8 484.4L705.2 478.5L703 481.9L701.4 475.5L698.2 478.5M698.2 454.8L700.6 456.3L701.1 459.6L701 463.7L702.5 462.7L705.2 457.3L706 452.3L703.9 451.3L704.3 454.8L704.5 458.7L702.5 457.3L700.8 461.8L700.4 467.6L699.3 463.7L698.2 460L698.2 454.8M687.7 471.6L690.5 466.1L691.7 462.2L692.9 459.2L692.3 457.3L691.6 461.4L689.4 463.7L688.5 467L687.7 471.6M639.8 485.4L644.6 487.3L645.4 490.1L647.3 494.3L648.8 497.2L651 501.7L654 504.6L657.5 510.5L658.3 515L659.9 520.4L661.7 524.8L663.2 527.8L663.4 534.5L662.8 541.6L660.2 541.6L657.5 537.2L655.1 532.7L653.4 528L652.1 523.9L649.4 517.5L648.4 512L647.9 506.9L645.7 503.1L644.1 499.4L642.5 495.2L641.8 489.8L639.8 485.4M661.5 546.5L664.7 542.6L668.9 546.1L673.5 544.6L677.6 547L681.8 551L681.3 555.4L676.3 553.9L670.9 551.5L666.5 551L661.5 546.5M682.9 553.5L686.2 553.9L689.4 554.4L691.6 555.9L687.2 557.4L684 556.4L682.9 553.5M693.4 554.9L697.1 554.9L700.4 553.9L699.3 556.9L694.9 556.9L693.4 554.9M701.7 563.8L702.8 560.2L704.7 557.4L709.1 554.4L708 558.4L703.6 562.8L701.7 563.8M669.8 505.6L672.6 504.6L674.6 500.7L678.5 497.2L680 493.2L681.8 489.3L684.2 486.2L685.1 481.9L687.2 478.5L688.6 481.9L691.6 486.9L689.9 491.8L688.6 498.2L689.7 501L689.4 505.6L691.2 508.1L689 510.5L687.8 514.6L688.3 517.9L686.2 522.9L686.5 527.3L685.5 531.7L682 532.7L678.5 529.3L675.7 529.3L672.4 525.3L671.5 519.5L670.2 515.5L669.8 511.3L669.8 505.6M695.5 506.6L700.4 508.6L704.7 505.1L703.2 511L697.1 510.5L696.1 514.4L694 516.9L697.1 517.9L700.8 517.9L698.2 522.9L699.3 529.3L700.4 535.2L698.2 536.7L697.1 530.3L695.8 526.8L694.7 532.7L695.4 536L694.5 540.1L692.7 540.1L691.9 534.6L692.5 530.3L691.6 525.3L692.5 520L693.4 514L695.3 510.7L695.5 506.6M710.2 503.1L711 507.3L711.3 510.5L712.4 515.5L710.8 516.9L710.2 510.5L710.1 506.9L710.2 503.1M717.8 516.9L721.1 515L724.4 516.9L724.7 523.6L726.6 529.3L728.3 526.3L730.9 521.9L735.3 522.9L739.7 525.8L744.1 529.8L748.4 534.2L750.6 540.1L753.9 542.6L752.8 546.5L754.7 550.4L756.1 554.9L757.6 558.9L760.4 563.8L757.2 563.3L752.8 559.9L751.4 556.5L749.5 552.5L745.1 554.9L743 558.4L739.7 557.9L736.4 552.5L733.1 553.9L734.9 547.5L733.3 543.1L733.1 540.1L728.8 535.7L724.4 531.7L722.2 532.7L720 527.3L724 524.3L720 522.9L717.8 516.9M755.6 541.1L759.4 539.6L762.6 533.7L764.4 535.2L762.6 541.6L758.3 544.1L755.6 541.1M770.3 542.6L773.6 547.5L776.8 552.5L779.1 556.3L781.2 559.9L783.4 564.8M789.9 612.6L793.2 618.1L796.5 623M819 599.3L821.6 599.8L821.4 602.8L819 601.8L819 599.3M679.6 621.5L680.2 624.7L681.1 628.9L680.5 633L679.6 638.8L680 643.7L681.1 648.7L682.8 655.1L682.9 661L684.3 665.9L684.4 670.9L683.2 676.1L682.9 682.2L686.2 685.7L689.4 685.7L693.8 680.7L698.2 680.2L702.1 679.2L705.3 676.2L706.9 672.3L709.8 669.7L713.5 668.9L718.3 668.4L722.2 671.8L725.5 675.8L726.7 680.5L727.9 684.7L729.9 680.7L732.5 674.3L732.7 679.7L732 686.6L734.2 685.7L736.4 690.1L737.4 694.8L738.6 700.5L743 702.9L747.3 700.9L751.3 705.4L755 700L759.4 696.5L760.5 691.8L761.1 685.7L761.3 681.1L762.4 678.3L763.3 674.4L764.8 670.9L765.9 665.4L766.3 661L767.3 657L767.2 652.1L766.7 646.2L766.1 641.3L765.2 636.3L764.2 632.3L761.5 628.9L758.9 623L758.1 617.6L756.1 613.1L753.4 610.4L751.7 606.7L750.8 603.8L750.6 599.3L749.9 592.6L749.3 587L746.2 583.5L745.2 579L745.1 574.7L744.5 571L743.2 565.8L741.8 570L741.7 574.7L740.8 580.4L741 584.5L739.7 588.7L739.7 594.4L737.5 600.3L734.5 597.2L733.1 594.4L731.7 592.1L728.8 588.5L728.6 585.7L727.7 581.1L729.9 576.8L730.5 573.2L726.6 572.2L722.2 569.7L718.9 573.7L715.6 579.6L714.5 584.1L714.6 587L711.3 587L709.1 582.1L705.8 584.5L705.2 587.4L703.6 591.9L700.4 596.9L698.6 602.8L696 609.2L691.6 611.7L686.8 614.6L682.9 619.1L679.6 621.5M747.8 714.3L751.7 715.7L755.6 714.8L755.4 721.2L753.9 726.6L750.6 728.1L748.9 721.7L748.6 717.7L747.8 714.3M808.9 682.7L811.8 688.1L813.5 694.5L815.7 694L817.3 699L821.2 698.5L820.4 702.1L820.1 706.4L818.3 707.9L817.3 714.3L814.6 718.2L813.5 716.2L814 710.3L811.4 706.9L813.3 701.4L812.9 695.5L810.9 690.9L810 688.1L808.9 682.7M809.2 712.8L812.2 716.7L811.1 720.2L810.7 724.1L808.9 727.6L805.9 731.5L805.9 734.8L804.4 739.4L802 742.9L798.2 741.4L795.4 738.9L798.1 734.5L799.1 731L803 726.1L804.4 723.2L806.3 719.2L808.3 715.9L809.2 712.8M64.5 189.4L68.1 187.1L73.3 185L77.6 185.9L75.2 183L73.3 178.5L68.9 173.6L71.6 171.4L75.4 169.7L79.4 166.4L82 164.7L85.7 163.6L89.6 161.3L95 161.7L99.5 163.7L103 164.2L108.2 166.2L114.4 166.5L119.1 167.7L124 169.6L127.9 170.2L131.4 171L135.5 172.6L140.2 170.9L143.2 168.7L147.1 167.8L151.9 166.2L154.9 167.8L158.5 170.2L162 169.9L167.2 168.7L172.3 171.1L176 173.1L180 174L182.5 176.6L186.4 177.3L191.2 178L195.6 175.1L202.2 176.6L208.7 178.5L213.9 178.4L217.5 176.6L221.8 177.6L222.2 173.4L222.9 170.2L224.4 165.2L226.2 160.3L229.2 163.9L230.6 168.7L233.9 174.1L239.3 173.6L242 177.2L243.7 180L247.5 183.5L250.2 185.9L244.8 187.4L242.8 190.8L240.4 194.8L236.8 196.8L233.9 199.3L229.5 204.7L228.4 208.1L226.2 213.1L224.9 218L224.7 222L228.4 225.4L229.9 231.8L234.9 231.8L237.2 233.5L240.4 236.8L245.9 240.2L251.8 241.2L251 246.5L252 251.6L254.6 256.5L257.9 259L259 254L258.9 249.9L259.4 244.2L262.1 241.8L263.4 237.7L263.2 232.8L263.8 229.4L261.4 226.1L260.5 222.9L261.8 218.7L262.3 214.6L261.2 209.7L261.2 205.2L267.7 205.7L271.2 208L274.3 209.6L278.6 212.1L279.6 217.6L279.7 222L284.1 225.4L286.6 221L288.5 218L290.7 215.5L293.5 219.6L295 224.4L296.8 229.1L298.3 234.3L300.9 237L302.7 240.7L306 246.6L307.1 249.9L309.2 254L308.1 259L304.8 262.4L302.7 264.4L296.1 265.4L289.6 265.4L285.2 269.3L282.6 272.5L279.7 276.2L276.5 281.6L280.8 276.2L283.4 274.4L286.3 270.8L290.7 271.3L289.6 277.2L290 283.6L292.9 286.1L297.2 287.6L299.8 284.6L298.3 289.5L292.9 293L287.8 297.4L287.4 292L290.7 288.5L285.2 291L280.8 295L278 297.9L276.9 303.3L278.6 306.8L275.4 308.8L270.3 312.2L269.5 317.7L267.1 323.1L265.5 329.5L266 335.4L263.8 341.3L260.1 346.3L258.5 349L256.8 352.7L256 356.7L254.2 360.1L255 363.1L254 367.5L254.8 372.2L255.7 375.9L256.8 381L256.6 384.7L255.1 388.7L252.9 384.7L250.9 379.9L250.7 375.9L250.7 369L248.1 365L244.8 366L240.4 363.5L236.7 363.5L236 369L232.8 368.5L227.3 366.5L224 369L221.2 371.9L219.7 375.9L220 380.9L218.6 385.7L219 390.4L217.9 395.6L219 401.2L218.8 406.9L219.4 412.4L221 416.8L224 421.2L227.3 422.2L231.7 420.8L233.9 414.3L234.3 409.4L238.2 406.9L241.5 407.4L241.8 411.4L240.4 416.8L240.3 420.7L239.8 424.2L238.5 427.7L238.2 431.6L237.6 435.1L241.5 435.1L245.9 434.6L249.4 438L248.6 442.9L249.2 448.9L248.5 454L248.7 458.7L250 461.7L250.7 465.6L253.5 468.6L257.2 466.1L261.2 467.6L262.7 471.1L262.3 477L260.5 472.1L257.9 469.1L256.1 472.1L255.7 477L253.5 475L250.2 472.1L247.4 468L246.3 464.7L244.1 462.2L244.1 457.8L242.8 453L240.8 449.4L238.2 447.9L234.9 445.4L231.7 443.4L229.1 439.2L227.3 436L224.5 433.1L220.7 435.6L216.4 432.6L212 428.6L208.7 424.7L204.8 420.3L201.5 415.3L201.7 411.7L200.9 407.9L199.3 402.5L199.3 398.6L197.3 394.2L195.6 389.7L194.2 385.2L192.3 382.3L190.2 377.3L187.9 374L186.9 369.9L185.6 364.6L184.7 360.1L180.8 356.1L180.6 360.6L181.2 363.5L183.6 369.9L184.4 373.8L185.8 377.3L186.8 380.9L188.4 384.7L189.9 389.8L190.2 393.1L192.3 398.6L191.2 400L189.4 396L188 393.1L186.4 387.2L183.6 381.3L180.8 375.9L182.1 372.4L181.1 368.7L179.2 366L177.3 362.5L177 357.6L175.5 351.7L174 349.1L172.7 345.3L168.3 342.8L166.7 338.6L165.5 332.9L163.9 326.5L162.4 321.7L161.1 318.1L160 313.2L159.2 308.4L160.2 303.3L160.7 299.2L160.7 293.5L159.9 289.3L160.7 284.6L159.8 279.7L159.3 274.7L162.8 275.2L163.9 279.7L163.3 275.6L163.9 272.3L160.7 267.3L156.3 263.9L152.4 259L151.9 254L149.8 250.3L147.6 245.1L144.3 239.2L141.4 234.8L139.9 230.3L138.3 227.5L135.5 222.9L130.1 219.5L124.6 218L120.2 216.8L117 217L111.5 213.1L106 217L100.6 220.5L101 217.1L99.9 212.1L98 215L96.2 219.5L94 225.4L92.3 227.9L89 230.8L85.3 235.8L83.3 238.2L79.8 240.2L74.4 242.7L71.1 245.1L74.9 240.3L77.6 236.8L80.9 232.6L83.1 229.4L87.5 223.9L84.2 222.9L77.6 222L76.5 216L71.1 212.1L70.4 209L70 204.7L74.4 201.2L79.8 198.8L79.2 194.3L76.3 194L72.2 194.8L67.8 191.4L64.5 189.4M161.8 274.2L157.4 272.3L154.4 268.4L152.4 264.9L151.5 262.4L156.3 265.4L159.6 268.8L161.8 274.2M302 277.7L304.9 278.2L309.7 281.6L314.7 282.6L316.2 277.7L314 272.3L310.3 267.3L309.3 263.4L308.1 259.9L306 263.9L304.2 267.1L303.8 271.3L302 277.7M246.1 405L250.2 399.5L254.6 399L259 402L263.4 406.9L267.7 411.4L269.5 413.4L266.3 414.8L262.3 414.8L261.2 410.9L256.8 406L252.4 402L249.2 403.5L246.1 405M269 422.2L269.7 418.6L272.1 414.8L275.4 414.8L279.1 417.8L282.1 421.2L278.6 423.2L275.4 425.7L272.5 423.2L269 422.2M260.5 422.7L263.4 421.7L265.1 424.2L262.3 425.2L260.5 422.7M284.8 422.2L288 422.2L287.8 424.2L284.8 424.2L284.8 422.2M260.1 381.3L262.3 382.3L263.4 387.2L261.6 393.1M90.7 413.4L92.9 415.8L91.4 419.3L90.7 413.4M85.9 406.9L87 407.4M68.9 247.1L64.5 249.6L60.1 252.5L57.3 253.2L53.6 255.5L47 257.5L42.7 258M232.1 515.5L233.2 517.4M297.2 184L295.6 187.5L292.9 192.4L290.8 197.4L288.5 202.2L283 205.7L280 203.6L276.5 202.2L273 198.7L269.9 194.8L266 195.6L262.3 195.8L261.2 189.9L265.4 187.3L269.9 185L270.1 181.5L272.1 177.6L268.3 174.6L264.4 172.6L262.2 170.7L259 167.7L252.4 167.7L249.1 165.9L245.9 165.2L242.5 163.3L239.3 162.8L237 157.7L236 152.9L240.2 151.3L245.9 149.9L250.3 148.9L254.6 149.4L259.2 150.9L263.4 153.9L268.1 157.3L272.1 159.8L275.4 161.5L278.6 164.7L281.4 167.7L284.1 171.1L288.2 174.2L290.7 178.5L294.6 182.1L297.2 184M255.7 198.8L252.8 202.3L249.2 204.7L245.3 202.8L242.6 199.3L243.7 195.4L244.8 189.9L250.2 192.4L253.7 195L255.7 198.8M202.2 173.6L195.6 175.1L190.7 175.6L184.7 174.6L180.6 172.6L178.1 171.1L176.4 166.3L173.8 162.8L175.6 157.4L176 152.9L182 153.2L186.9 154.9L191.3 154.1L195.6 151.9L198.4 153.2L202.2 155.4L205.5 158.7L208.7 162.8L207.9 165.9L208.7 170.2L204.8 172.7L202.2 173.6M178.1 160.3L174.1 161L169.4 160.3L163.3 159.6L158.5 157.8L158.9 152.9L160.7 148L166.4 147L171.6 146.5L175.5 149.8L178.1 152.9L178.3 157.3L178.1 160.3M296.1 106L290 110.6L285.2 113.4L281.1 115.7L277 117.9L272.1 120.8L269.7 124.7L265.5 128.2L260.9 132.9L256.8 136.6L251.2 135.5L245.9 135.6L241.9 133.6L237.1 133.2L238.8 129L239.3 125.8L235.2 122.9L230.6 118.4L235.1 116.2L239.3 113.4L235.7 110.1L232.8 108.5L238.5 106.2L246.1 105.1L252.4 103.6L257.9 104.1L262.7 102.8L269.1 102.3L274.3 103.1L278.8 103.5L284.5 104.3L290.2 105.4L296.1 106M256.8 140.6L251.5 142.2L245.9 145L239.5 144.7L232.8 144.5L226.6 143.3L221.8 140.6L224.7 136.7L228.4 134.1L233.1 135.4L239.3 136.1L245.5 137.9L250.2 138.6L256.8 140.6M200 143L195.4 143.8L191.2 145.5L184.9 144.5L180.3 143L176 138.1L181.5 136.6L186.9 135.6L191.5 136.8L195.6 138.1L200 143M243.7 123.3L239 125.4L232.8 126.7L226.8 125.7L221.8 123.3L222.1 118.9L224 114.4L229.3 114.7L234.9 115.9L238.5 120.1L243.7 123.3M335.5 217.5L331.9 215.4L330 213.1L325.6 209.6L324.8 205.8L322.4 203.2L320.2 199.7L319.1 195.8L317.4 191.9L315.8 187.4L315.5 183.1L314 180L315.7 176L318 172.6L314.4 169.6L312.5 165.2L313 160.7L312.5 155.4L310 152.3L309.2 148L307.5 143.7L304.9 139.6L299.8 138.3L293.9 137.1L288 136.9L283 138.1L279.3 134.1L276.5 131.7L279.4 128.4L283 124.3L286.6 121.9L289.6 118.4L293.2 114.2L296.1 111L301.3 109.5L306.8 108.4L311.4 107L317.6 106.4L325.4 104.9L331.1 104.5L337.6 102.5L342.3 101.8L348.6 101.1L354.8 102.1L360.7 101.1L366.1 101.6L373.3 103.5L379.2 106L383.1 108.7L387.9 110L393.6 110.8L398.8 111L396.9 115.5L394.5 118.4L392.2 122.7L390.1 125.8L389.3 131.3L387.9 135.6L388.3 139.7L389 143L387.5 146.4L385.7 150.4L381.3 155.4L381.9 159.3L383.5 162.8L380.3 166.7L376.8 170.4L374.8 172.6L369.8 173.7L366.1 176.6L362.1 180.3L359.5 182.5L355.9 184.8L352.9 188.4L346.4 189.9L343.1 194.8L341.2 197.7L340.9 202.2L340.2 206.2L338.7 209.6L337.2 216L335.5 217.5M262.7 471.1L265.5 467.1L266.6 460.2L269.9 457.8L273.6 452.8L275.4 458.7L275.4 462.9L274.7 466.1L276.5 459.7L276.8 456.4L278.6 452.8L281.9 457.8L286.3 460.7L290.7 462.2L295 460.2L297.2 464.7L298.6 468.4L300.5 471.1L302.7 475.5L303.8 478.5L307.1 483.4L311.4 483.9L315.8 485.9L319.1 490.8L319.4 497.6L321.3 503.1L322.5 508.9L322.4 513L325.6 517.9L328.9 516.5L330.9 519.1L334.4 522.9L337.6 525.3L342 527.3L346.4 530.3L347.5 532.6L350.1 536.7L354.5 540.1L355.6 545.6L355.6 550L355.3 555.5L354.5 559.9L352.8 564.4L350.8 569.7L348.4 572.7L347.5 577.1L347.4 582.8L346.4 589.5L345.7 595L345.7 600.8L344.1 605.8L344.2 611.7L342.7 617L342 621.5L337.6 626.5L333.3 630.4L328.9 634.8L327 637.7L325.6 641.3L326.2 646.9L325.2 652.6L324.4 656.5L322.4 660L319.9 664.8L319.1 669.9L317.9 674.1L316.9 677.3L315 681.1L313.6 684.2L309.2 685.2L306 683.2L304 680.7L305.4 685.1L306.6 690.6L306.8 694.8L305.7 700.5L301.6 704.4L296.1 705.4L296.4 709.2L295.5 714.3L289.6 715.3L289.8 718.4L291.8 722.7L288.9 727.6L289.2 732.1L288.5 735L284.1 739.9L284.9 743.6L287.4 747.3L285.7 751.6L284.1 754.7L281.9 758.4L280.8 762.1L281.1 767.2L281.9 771L277.6 773L274.3 776.9L276.5 779.4L272.1 776.9L270 774L268.8 769.5L267.6 764.1L267.1 759.6L267.2 754.7L266.6 749.8L267 745.1L268.8 739.9L269.2 735.5L271 730.1L271 725.6L270.3 720.2L270.9 715L271 710.3L271 705.2L271.4 700.5L272.7 694.8L272.5 690.6L274.3 684.8L274.7 680.7L274.5 675.4L275.4 670.9L276.1 665.9L275.4 661L275.5 656.7L276 651.1L276.2 646.1L277.3 641.3L277.6 635.5L277.8 628.9L278.4 623L278.2 616.6L277.8 610.1L278 604.3L275.5 601.2L274.3 596.9L269.9 591.9L268 587.4L265.5 582.1L263.6 577L262.9 572.2L262 567.4L260.1 562.3L258 556.1L257.2 550L256.6 545.8L254.6 542.6L253.7 538.5L254 535.2L256.1 529.3L256.8 524.3L254.8 517.9L256.2 514.9L256.8 510.5L259 505.6L260.1 500.7L262.3 494.3L261.6 489.4L262.3 485.9L262 481.9L262.7 478.5L261.6 476L262.7 471.1M281.7 772.5L277.6 776.9L274.3 780.9L278.6 785.3L284.1 786.8L289.1 783.3L286.3 780.4L282.6 775.9L281.7 772.5M298.3 766.1L302.7 766.6L305.3 768L301.6 771L298.3 769.5L298.3 766.1M348.6 779.4L352.9 781.8M581.9 754.7L585.2 756.2L583.5 758.2L581.9 754.7M296.6 460.2L298.3 460.2L298.3 463.2L296.6 463.2M502.2 340.3L504.8 338.9L507.2 337.4L505.9 340.3L503.7 342.3L502.2 340.3M482.9 337.9L486.2 338.4L489.1 339.4L486.2 340.3L482.9 339.4L482.9 337.9M458.7 325.5L462.2 325.1L465.7 324.6L465.2 327.6L464.6 332L461.1 329.5L458.7 325.5M449.5 311.2L452.6 310.3L452.4 314.1L452.8 319.1L450.8 320.6L449.7 316.7L449.5 311.2M450.4 303.3L452.4 300.9L452.4 307.8L450.8 308.3L450.4 303.3M436.8 317.7L438.8 316.2L438.6 318.6L436.8 317.7M392.3 372.4L395.5 373.4L397.7 374.9L401 371.9M378.1 439L380.3 438L381.3 434.1M369.3 323.1L372.6 322.1L375.9 326.5M548.3 450.8L550.7 451.3M552.4 616.6L557.5 612.6M526.2 570.7L528.6 573.2M517.5 541.6L517.9 544.6M750.6 293.5L755 288.5L758.6 286.5L760.4 283.6L762.5 280.7L765.9 276.2L767.9 271.1L771.4 266.4M821.6 161.8L824.9 160.3M38.3 160.3L42.7 161.8M38.3 192.8L42.7 189.9L46.3 192.9L48.1 194.8L53.6 195.8L56.2 192.5L58 189.4L60.1 186.4L54.7 182.5L50.9 181.5L48.1 180L44.7 177L42.7 175.1L38.3 172.6M730.9 141.5L736.2 141.4L741.9 143L746.1 142.8L750.6 141.5L755.3 141.8L759.4 142L754.1 140L748.4 138.1L741.2 137.8L735.3 137.1L730.9 141.5M540.9 115.9L546.1 117.1L551.8 117.4L558 115.8L562.7 114.4L558.5 113.6L554 111.9L547.3 113.4L540.9 115.9M56.9 200.7L62.3 201.2L61.2 199.3M94 230.8L98.4 229.4L98.4 225.9M141 246.6L143.6 251.6L144.9 255.5M290.7 267.3L296.1 270.3M291.3 282.6L295 284.1M269.9 312.7L274.3 310.7M38.3 898.8L44.2 899.7L49.7 899.6L55.3 899.8L60.1 899.7L65.9 899.4L70.7 899.5L75.8 898.9L82 898.8L88 896.7L92.9 893.8L98.6 891.7L103.8 890.4L109.2 887.8L114.8 885.4L120.5 884L125.7 883L131.5 882.5L136.6 880.5L141.5 880.3L147.6 879.5L153.5 878.1L158.5 877.1L163.9 877.9L169.4 877.1L174 877.6L180.3 878L185.2 879.8L191.2 880.5L197.5 881.3L202.2 882L204.7 878.9L208.7 875.6L213.1 870.6L218.6 871.8L224 872.1L229.5 872.4L234.9 872.1L241 872.7L245.9 873.1L251.2 873.9L256.8 873.1L260.6 872.2L265.5 870.6L269.7 869.9L274.3 868.2L275.8 865.3L278.6 860.8L280.6 855L283 850.9L284.3 845.8L286.3 841L287.6 837.7L290.7 834.6L293.3 832.5L296.1 829.7L299.1 827.3L302.7 825.8L307.1 826.2L303.8 831.2L300.6 834.1L298.3 836.1L297.5 839.9L295 843.5L292.9 847.8L291.8 850.9L293.8 854.1L296.1 858.3L296.6 863.7L298.3 868.2L298.9 873.4L298.3 878L296.1 881.9L293.9 885.4L288 888.7L283 890.4L277.7 892.3L273.4 894.2L267.7 895.3L264.4 896.2L261.2 897.8L267.1 897.9L273.4 899.2L278.6 900.2L284.7 899.2L289.4 898.6L294.9 897.8L300.5 897.8L305.1 898.2L311 897.3L316.5 897.7L322.4 897.8L328 898L334.3 897.5L339.8 897.8L347.2 897.2L352.9 895.3L356.5 893.4L361.7 890.4L366.8 889.7L370.4 887.9L373.1 884.8L377 880.5L382.7 877.2L387.9 875.6L391.4 873.9L396.6 870.6L401.3 867.7L405.4 865.7L407.9 863.3L411.9 862.3L415.8 862L420.7 860.8L425.9 858.4L431.6 857.3L437.8 858.3L442.5 858.3L447.4 858.5L453.5 857.3L459.1 857.1L464.4 855.8L470.1 857.3L475.3 857.3L481.3 858.4L486.2 858.3L491.1 856.9L497.2 854.9L500.5 853.8L503.7 851.9L506.9 854.6L510.3 855.8L516.8 855.8L520.2 851.7L523.4 848.4L527.3 846.6L532.1 846L536.5 843.9L540.9 843.5L544.1 840.4L547.4 838.6L550.7 839.8L554 841L558.4 843.7L562.7 845L566.2 846.1L571.4 846L575.8 846.8L580.2 847.5L584.5 850.9L588.9 855.8L595.5 855.8L599.1 854L602 850.9L606.2 847.8L610.8 845L616 842.3L619.5 841L624.1 841.5L628.2 841.5L632.9 841L639.2 840.1L645 840.1L650.1 838.6L655.3 840.2L661 840.1L666.5 839.3L671.9 838.6L678.1 839L682.9 841L688.7 841.8L693.8 842L699 841.7L704.7 840.1L709.9 839.3L715.6 838.6L721.2 839.1L726.6 838.6L731.5 840.2L737.5 842L742.8 842.9L748.4 843.5L754.5 846.3L759.4 849.9L765.4 851.5L770.3 853.4L775.7 855.9L781.2 859.3L786.7 861.6L792.1 862.3L797.9 864.5L803 865.7L803.8 869.1L805.2 873.1L801.6 878.2L798.7 883L794.6 888.4L789.9 892.8L794.3 897.8L797.9 898.2L803 897.8L809.2 897.9L814 897.8L818.6 897.9L824.9 898.8"/></g></g>
<rect x="894.4" y="887.5" width="750.6" height="39.7" fill="#fff"/>
<rect x="894.4" y="887.5" width="68.5" height="39.7" fill="#000000"/>
<rect x="962.6" y="887.5" width="68.5" height="39.7" fill="#1400ff"/>
<rect x="1030.9" y="887.5" width="68.5" height="39.7" fill="#4420ff"/>
<rect x="1099.1" y="887.5" width="68.5" height="39.7" fill="#0090ff"/>
<rect x="1167.3" y="887.5" width="68.5" height="39.7" fill="#30f0ff"/>
<rect x="1235.6" y="887.5" width="68.5" height="39.7" fill="#70ffff"/>
<rect x="1303.8" y="887.5" width="68.5" height="39.7" fill="#80ffd0"/>
<rect x="1372.1" y="887.5" width="68.5" height="39.7" fill="#c8f000"/>
<rect x="1440.3" y="887.5" width="68.5" height="39.7" fill="#ff8000"/>
<rect x="1508.5" y="887.5" width="68.5" height="39.7" fill="#ff0000"/>
<rect x="1576.8" y="887.5" width="68.5" height="39.7" fill="#ffffff"/>
<rect x="894.4" y="887.5" width="750.6" height="39.7" fill="none" stroke="#000" stroke-width="2"/>
<rect x="870.4" y="61.5" width="800.9" height="904.2" fill="none" stroke="#000" stroke-width="2"/>
<rect x="886" y="62.5" width="784" height="122.5" fill="#fff"/>
<path d="M870.4 61.5H1671.3" stroke="#000" stroke-width="2" fill="none"/>
<text x="914" y="148.3" style="font-family:'Liberation Sans',sans-serif;font-size:69px" textLength="718" lengthAdjust="spacingAndGlyphs" fill="#000">HmF2 Diff (V6p – Truth)</text>
<text transform="translate(937.5 991) rotate(45) scale(1.0 1.12)" style="font-family:'DejaVu Sans','Liberation Sans',sans-serif;font-weight:200;font-size:40px" text-anchor="middle" dy="0.36em" fill="#444444" stroke="#444444" stroke-width="0.7">−80</text>
<text transform="translate(1005.8 991) rotate(45) scale(1.0 1.12)" style="font-family:'DejaVu Sans','Liberation Sans',sans-serif;font-weight:200;font-size:40px" text-anchor="middle" dy="0.36em" fill="#444444" stroke="#444444" stroke-width="0.7">−64</text>
<text transform="translate(1074 991) rotate(45) scale(1.0 1.12)" style="font-family:'DejaVu Sans','Liberation Sans',sans-serif;font-weight:200;font-size:40px" text-anchor="middle" dy="0.36em" fill="#444444" stroke="#444444" stroke-width="0.7">−48</text>
<text transform="translate(1142.2 991) rotate(45) scale(1.0 1.12)" style="font-family:'DejaVu Sans','Liberation Sans',sans-serif;font-weight:200;font-size:40px" text-anchor="middle" dy="0.36em" fill="#444444" stroke="#444444" stroke-width="0.7">−32</text>
<text transform="translate(1210.5 991) rotate(45) scale(1.0 1.12)" style="font-family:'DejaVu Sans','Liberation Sans',sans-serif;font-weight:200;font-size:40px" text-anchor="middle" dy="0.36em" fill="#444444" stroke="#444444" stroke-width="0.7">−16</text>
<text transform="translate(1278.7 991) rotate(45) scale(1.0 1.12)" style="font-family:'DejaVu Sans','Liberation Sans',sans-serif;font-weight:200;font-size:40px" text-anchor="middle" dy="0.36em" fill="#444444" stroke="#444444" stroke-width="0.7">0</text>
<text transform="translate(1346.9 991) rotate(45) scale(1.0 1.12)" style="font-family:'DejaVu Sans','Liberation Sans',sans-serif;font-weight:200;font-size:40px" text-anchor="middle" dy="0.36em" fill="#444444" stroke="#444444" stroke-width="0.7">16</text>
<text transform="translate(1415.2 991) rotate(45) scale(1.0 1.12)" style="font-family:'DejaVu Sans','Liberation Sans',sans-serif;font-weight:200;font-size:40px" text-anchor="middle" dy="0.36em" fill="#444444" stroke="#444444" stroke-width="0.7">32</text>
<text transform="translate(1483.4 991) rotate(45) scale(1.0 1.12)" style="font-family:'DejaVu Sans','Liberation Sans',sans-serif;font-weight:200;font-size:40px" text-anchor="middle" dy="0.36em" fill="#444444" stroke="#444444" stroke-width="0.7">48</text>
<text transform="translate(1551.6 991) rotate(45) scale(1.0 1.12)" style="font-family:'DejaVu Sans','Liberation Sans',sans-serif;font-weight:200;font-size:40px" text-anchor="middle" dy="0.36em" fill="#444444" stroke="#444444" stroke-width="0.7">64</text>
<text transform="translate(1619.9 991) rotate(45) scale(1.0 1.12)" style="font-family:'DejaVu Sans','Liberation Sans',sans-serif;font-weight:200;font-size:40px" text-anchor="middle" dy="0.36em" fill="#444444" stroke="#444444" stroke-width="0.7">80</text>
</g>
<g id="panel3">
<clipPath id="clip3"><rect x="48" y="1192" width="768.3" height="631"/></clipPath>
<g clip-path="url(#clip3)">
<rect x="48" y="1192" width="768.3" height="631" fill="#d80000"/>
<clipPath id="q3TL"><rect x="48" y="1192" width="384.3" height="317.3"/></clipPath>
<g clip-path="url(#q3TL)">
<rect x="48" y="1192" width="384.3" height="317.3" fill="#00008c"/>
<path d="M59 1330.8C60.2 1325.3 62.6 1320.1 66.3 1316.2C69.9 1312.2 75.1 1308.4 80.9 1307C86.7 1305.7 94.9 1305.8 101 1308C107 1310.1 112.5 1315.4 117.4 1319.8C122.3 1324.2 126.2 1329 130.2 1334.4C134.1 1339.9 138.4 1346.9 141.1 1352.7C143.9 1358.5 146 1363 146.6 1369.1C147.2 1375.2 146.9 1383.7 144.8 1389.2C142.7 1394.7 138.4 1398.2 133.8 1402C129.3 1405.8 123.2 1410.1 117.4 1412.1C111.6 1414 104.6 1414.6 99.1 1413.9C93.7 1413.1 88.8 1411 84.5 1407.5C80.3 1404 76.9 1399 73.6 1392.9C70.2 1386.8 66.9 1378.3 64.4 1371C62 1363.7 59.9 1355.7 59 1349C58 1342.4 57.7 1336.3 59 1330.8Z" fill="#1a00ff"/>
<path d="M39.5 1452.2C39.5 1452.2 45 1459.8 48 1464.1C51 1468.4 53.8 1472.9 57.1 1476.9C60.5 1480.8 66 1482.5 68.1 1487.8C70.2 1493.2 67.8 1502.2 69.5 1509C71.3 1515.9 70.6 1523.6 70.6 1523.6L11.5 1546.3L39.5 1452.2Z" fill="#1a00ff"/>
<path d="M312 1180C312 1180 307.9 1185.9 303.7 1192C299.4 1198.1 295.4 1203.6 290.9 1210.3C286.3 1217 280.8 1224.6 276.3 1232.2C271.7 1239.8 267.7 1247.4 263.5 1255.9C259.2 1264.4 255 1274.2 250.7 1283.3C246.4 1292.4 242.2 1301.6 237.9 1310.7C233.7 1319.8 229.4 1329.6 225.1 1338.1C220.9 1346.6 216 1354.5 212.4 1361.8C208.7 1369.1 205.7 1375.2 203.2 1381.9C200.8 1388.6 198.4 1394.1 197.7 1402C197.1 1409.9 198.7 1420.3 199.6 1429.4C200.5 1438.5 202.3 1447.7 203.2 1456.8C204.1 1465.9 205.4 1476.6 205 1484.2C204.7 1491.8 202.6 1498.3 201.4 1502.4C200.2 1506.6 198.8 1506.7 197.7 1509C196.7 1511.3 190.6 1521.8 190.6 1521.8L468 1546.3L468 1155.5L312 1180Z" fill="#1a00ff"/>
<path d="M446.6 1211.6C446.6 1211.6 441.4 1213 432 1213C422.7 1213 413.3 1213.5 404.1 1215.7C394.9 1218 385.8 1221.5 376.7 1226.7C367.6 1231.9 357.8 1238.9 349.3 1246.8C340.8 1254.7 333.2 1264.4 325.6 1274.2C318 1283.9 310.4 1294.9 303.7 1305.2C297 1315.6 291.2 1325.9 285.4 1336.3C279.6 1346.6 273.5 1357.9 269 1367.3C264.4 1376.7 261.7 1384.1 258 1392.9C254.4 1401.7 250.1 1411.1 247.1 1420.3C244 1429.4 241.9 1438.5 239.7 1447.7C237.6 1456.8 236.1 1464.8 234.3 1475.1C232.4 1485.3 232.8 1498.3 228.8 1509C224.8 1519.8 226.5 1523.4 226.5 1523.4L468 1546.3L446.6 1211.6Z" fill="#5a0070"/>
<path d="M446.4 1280.5C446.4 1280.5 441.5 1282.4 432 1283.3C422.6 1284.2 413.3 1285.7 404.1 1288.8C394.9 1291.8 385.8 1295.8 376.7 1301.6C367.6 1307.4 357.8 1315.6 349.3 1323.5C340.8 1331.4 332.6 1340.5 325.6 1349C318.6 1357.6 312.8 1365.8 307.3 1374.6C301.8 1383.4 297.3 1392.9 292.7 1402C288.1 1411.1 283.6 1420.3 279.9 1429.4C276.3 1438.5 273.8 1447.7 270.8 1456.8C267.7 1465.9 264.4 1475.5 261.7 1484.2C258.9 1492.9 257.5 1501 254.4 1509C251.2 1517 250.2 1523 250.2 1523L468 1546.3L446.4 1280.5Z" fill="#d80000"/>
<path d="M446.4 1337.7C446.4 1337.7 441.5 1339.7 432 1340.3C422.6 1340.8 413.3 1342.4 404.1 1345.4C394.9 1348.4 384.9 1353.3 376.7 1358.2C368.5 1363 362.1 1367.9 354.8 1374.6C347.5 1381.3 339.6 1390.1 332.9 1398.4C326.2 1406.6 320.1 1415.7 314.6 1423.9C309.1 1432.1 304.3 1439.7 300 1447.7C295.7 1455.6 292.4 1463.8 289.1 1471.4C285.7 1479 282.1 1487 279.9 1493.3C277.8 1499.6 277.1 1503.7 276.3 1509C275.5 1514.3 273 1523.2 273 1523.2L468 1546.3L446.4 1337.7Z" fill="#ff3000"/>
<path d="M446.3 1363.1C446.3 1363.1 441.5 1365.5 432 1366.4C422.5 1367.3 413.3 1369.3 404.1 1372.8C394.9 1376.3 384.3 1382.5 376.7 1387.4C369.1 1392.3 364.5 1396.2 358.4 1402C352.4 1407.8 346.3 1414.8 340.2 1422.1C334.1 1429.4 327.1 1437.9 321.9 1445.8C316.7 1453.7 311.9 1463.2 309.1 1469.6C306.4 1476 305.8 1479.3 305.5 1484.2C305.2 1489.1 306.7 1493.9 307.3 1498.8C307.9 1503.7 311 1503.4 311 1503.4C311 1503.4 318.3 1503.7 321.9 1498.8C325.6 1493.9 328.3 1489.7 332.9 1484.2C337.4 1478.7 343.5 1471.4 349.3 1465.9C355.1 1460.4 361.5 1455.3 367.6 1451.3C373.7 1447.4 379.8 1444.3 385.8 1442.2C391.9 1440.1 396.4 1439.4 404.1 1438.5C411.8 1437.6 422.7 1436.8 432 1436.7C441.4 1436.6 446.6 1435.8 446.6 1435.8L446.3 1363.1Z" fill="#ffa000"/>
<path d="M446.5 1385C446.5 1385 439.6 1386.7 432 1387C424.5 1387.4 416.4 1388.3 409.6 1390.1C402.8 1392 397.4 1395.6 391.3 1398.4C385.2 1401.1 374.9 1409.3 374.9 1409.3C374.9 1409.3 373.1 1415.5 378.5 1415.7C384 1415.9 389.2 1416.3 395 1416.3C400.8 1416.3 407.1 1415.8 413.2 1415.7C419.4 1415.6 425.8 1415.4 432 1415.7C438.3 1416 446.6 1415.7 446.6 1415.7L446.5 1385Z" fill="#b4ac00"/>
<path d="M361.6 1518.1C361.6 1518.1 369.9 1513.5 373.1 1509C376.2 1504.6 380.7 1502.3 385.8 1498.8C391 1495.3 398 1490.3 404.1 1487.8C410.2 1485.4 417.7 1485.1 422.4 1484.2C427 1483.3 428.8 1482.7 432 1482.4C435.3 1482.1 446.4 1479.6 446.4 1479.6L468 1546.3L361.6 1518.1Z" fill="#ffa000"/>
</g>
<clipPath id="q3TR"><rect x="432" y="1192" width="385" height="317.3"/></clipPath>
<g clip-path="url(#q3TR)">
<rect x="432" y="1192" width="385" height="317.3" fill="#00008c"/>
<path d="M610.7 1180.8C610.7 1180.8 617 1188.3 620.1 1192C623.1 1195.7 625.6 1198.4 629.2 1203C632.9 1207.5 637.4 1215 642 1219.4C646.6 1223.8 651.4 1227.3 656.6 1229.4C661.8 1231.6 667.3 1232.5 673.1 1232.2C678.8 1231.9 685.2 1230 691.3 1227.6C697.4 1225.2 703.5 1221.7 709.6 1217.6C715.7 1213.5 722.4 1207.2 727.8 1203C733.3 1198.7 737.6 1195.7 742.4 1192C747.3 1188.3 754.1 1183.2 754.1 1183.2L610.7 1180.8Z" fill="#000000"/>
<path d="M518.9 1183.2C518.9 1183.2 525.7 1188.3 530.6 1192C535.5 1195.7 540.4 1197.8 545.2 1203C550.1 1208.1 555 1215.4 559.8 1223C564.7 1230.7 569.9 1240.1 574.4 1248.6C579 1257.1 583 1265.4 587.2 1274.2C591.5 1283 595.4 1292.7 600 1301.6C604.6 1310.4 609.1 1319.2 614.6 1327.1C620.1 1335 626.2 1342.4 632.9 1349C639.6 1355.7 647.2 1361.8 654.8 1367.3C662.4 1372.8 670 1377.7 678.5 1381.9C687.1 1386.2 696.8 1389.5 705.9 1392.9C715.1 1396.2 724.2 1398.4 733.3 1402C742.4 1405.7 751.6 1409.9 760.7 1414.8C769.8 1419.7 778.9 1425.4 788.1 1431.2C797.3 1437 806.7 1443.4 816 1449.5C825.4 1455.6 828.3 1457.5 828.3 1457.5L852 1546.3L395.5 1546.3L395.5 1155.5L518.9 1183.2Z" fill="#1a00ff"/>
<path d="M417.5 1211.5C417.5 1211.5 422.8 1213 432 1213C441.2 1213 450.3 1213.8 459.4 1215.7C468.5 1217.7 478.3 1220.6 486.8 1224.9C495.3 1229.1 503.2 1234.6 510.5 1241.3C517.8 1248 524.5 1256.8 530.6 1265C536.7 1273.3 541.9 1282.1 547 1290.6C552.2 1299.1 556.5 1307.7 561.7 1316.2C566.8 1324.7 571.7 1333.8 578.1 1341.7C584.5 1349.7 592.4 1357.3 600 1363.7C607.6 1370 615.2 1374.9 623.7 1380.1C632.3 1385.3 642 1390.1 651.1 1394.7C660.3 1399.3 669.4 1403.5 678.5 1407.5C687.7 1411.4 696.8 1415.1 705.9 1418.4C715.1 1421.8 724.2 1423.9 733.3 1427.6C742.4 1431.2 753.1 1435.8 760.7 1440.4C768.3 1444.9 773.5 1449.5 779 1455C784.4 1460.4 789.3 1466.8 793.6 1473.2C797.8 1479.6 801.8 1487.3 804.5 1493.3C807.3 1499.3 808.2 1503.8 810 1509C811.8 1514.3 814.8 1522.8 814.8 1522.8L395.5 1546.3L417.5 1211.5Z" fill="#5a0070"/>
<path d="M417.4 1283.3C417.4 1283.3 424.7 1284 432 1283.3C439.3 1282.6 446.3 1281.5 453.9 1283.3C461.5 1285.1 469.7 1289.7 477.7 1294.3C485.6 1298.8 493.8 1304.6 501.4 1310.7C509 1316.8 516 1324.4 523.3 1330.8C530.6 1337.2 537.6 1343 545.2 1349C552.8 1355.1 560.4 1361.8 569 1367.3C577.5 1372.8 587.2 1377.4 596.4 1381.9C605.5 1386.5 614.6 1390.4 623.7 1394.7C632.9 1399 642 1402.9 651.1 1407.5C660.3 1412.1 669.4 1417.2 678.5 1422.1C687.7 1427 697.7 1432.4 705.9 1436.7C714.1 1441 721.1 1443.4 727.8 1447.7C734.5 1451.9 741.5 1456.8 746.1 1462.3C750.7 1467.7 752.5 1474.4 755.2 1480.5C758 1486.6 760.3 1494 762.5 1498.8C764.8 1503.5 766.5 1505.8 768.9 1509C771.4 1512.2 776.7 1521.4 776.7 1521.4L395.5 1546.3L417.4 1283.3Z" fill="#d80000"/>
<path d="M417.4 1339.3C417.4 1339.3 424.7 1340.7 432 1340.3C439.3 1339.9 446.3 1340.3 453.9 1341.7C461.5 1343.2 469.1 1345.7 477.7 1349C486.2 1352.4 495.9 1357.6 505 1361.8C514.2 1366.1 523.3 1370.7 532.4 1374.6C541.6 1378.6 550.7 1381.9 559.8 1385.6C569 1389.2 578.1 1392.6 587.2 1396.5C596.4 1400.5 605.5 1405.1 614.6 1409.3C623.7 1413.6 633.5 1417.8 642 1422.1C650.5 1426.4 658.7 1430.6 665.7 1434.9C672.7 1439.1 679.1 1443.4 684 1447.7C688.9 1451.9 692.2 1455.6 695 1460.4C697.7 1465.3 699.8 1471.4 700.4 1476.9C701.1 1482.4 699.1 1488 698.6 1493.3C698.2 1498.7 695.9 1504.1 697.7 1509C699.5 1513.9 696.9 1523.6 696.9 1523.6L395.5 1546.3L417.4 1339.3Z" fill="#ff3000"/>
<path d="M417.4 1365.9C417.4 1365.9 422.9 1367.3 432 1366.4C441.1 1365.5 450.3 1365.9 459.4 1367.3C468.5 1368.7 477.7 1371.6 486.8 1374.6C495.9 1377.7 505 1381.6 514.2 1385.6C523.3 1389.5 532.4 1394.1 541.6 1398.4C550.7 1402.6 560.4 1406.9 569 1411.1C577.5 1415.4 585.7 1419.7 592.7 1423.9C599.7 1428.2 605.8 1432.7 611 1436.7C616.1 1440.7 621.3 1444.6 623.7 1447.7C626.2 1450.7 626.5 1451.9 625.6 1455C624.7 1458 621.9 1463.2 618.3 1465.9C614.6 1468.7 608.8 1470.2 603.7 1471.4C598.5 1472.6 594.5 1473.8 587.2 1473.2C579.9 1472.6 569 1469.9 559.8 1467.7C550.7 1465.6 541.6 1463.2 532.4 1460.4C523.3 1457.7 514.2 1454.4 505 1451.3C495.9 1448.3 486.8 1444.5 477.7 1442.2C468.5 1439.9 457.9 1438.5 450.3 1437.6C442.7 1436.7 438.1 1436.7 432 1436.7C425.9 1436.8 417.4 1436 417.4 1436L417.4 1365.9Z" fill="#ffa000"/>
<path d="M417.4 1386.4C417.4 1386.4 422.9 1387.4 432 1387C441.1 1386.6 450.3 1387.3 459.4 1388.3C468.5 1389.3 477.7 1390.3 486.8 1392.9C495.9 1395.5 505.7 1399.9 514.2 1403.8C522.7 1407.8 531.2 1413 537.9 1416.6C544.6 1420.3 548.9 1422.7 554.4 1425.7C559.8 1428.8 559.8 1429.4 559.8 1429.4C559.8 1429.4 556.8 1432.4 550.7 1433.1C544.6 1433.7 540 1435.5 532.4 1434.9C524.8 1434.3 514.2 1431.5 505 1429.4C495.9 1427.3 486.8 1424.1 477.7 1422.1C468.5 1420.1 457.9 1418.6 450.3 1417.5C442.7 1416.5 438.1 1416 432 1415.7C425.9 1415.4 417.5 1414.2 417.5 1414.2L417.4 1386.4Z" fill="#b4ac00"/>
<path d="M417.4 1482.4C417.4 1482.4 425.9 1482.9 432 1482.4C438.1 1481.8 442.7 1481.1 450.3 1482.4C457.9 1483.6 468.5 1486.6 477.7 1489.7C486.8 1492.7 496.7 1497.4 505 1500.6C513.4 1503.8 520 1507.1 527.9 1509C535.7 1511 541.6 1516.3 541.6 1516.3L395.5 1546.3L417.4 1482.4Z" fill="#ffa000"/>
<path d="M417.4 1502.6C417.4 1502.6 425.9 1503.1 432 1503.4C438.1 1503.7 442.7 1503.3 450.3 1504.3C457.9 1505.2 468.9 1506.1 477.7 1509C486.5 1511.9 492 1516.3 492 1516.3L395.5 1546.3L417.4 1502.6Z" fill="#b4ac00"/>
</g>
<clipPath id="q3BL"><rect x="48" y="1508" width="384.3" height="318"/></clipPath>
<g clip-path="url(#q3BL)">
<rect x="48" y="1508" width="384.3" height="318" fill="#d80000"/>
<path d="M37.7 1557.9C37.7 1557.9 41.9 1562.2 48 1568.3C54.1 1574.4 60.2 1580.1 66.3 1586.5C72.3 1592.9 78.4 1599 84.5 1606.6C90.6 1614.2 96.7 1624.3 102.8 1632.2C108.9 1640.1 115.6 1648 121 1654.1C126.5 1660.2 130.8 1665 135.7 1668.7C140.5 1672.4 145.1 1674.8 150.3 1676C155.4 1677.2 160.9 1676.9 166.7 1676C172.5 1675.1 179.2 1673.3 185 1670.5C190.7 1667.8 196.8 1663.8 201.4 1659.6C206 1655.3 209.3 1650.4 212.4 1645C215.4 1639.5 217.5 1634.3 219.7 1626.7C221.8 1619.1 223.3 1608.4 225.1 1599.3C227 1590.2 228.5 1581 230.6 1571.9C232.7 1562.8 235.2 1552.7 237.9 1544.5C240.7 1536.3 244.3 1528.7 247.1 1522.6C249.8 1516.5 252.4 1513.1 254.4 1508C256.3 1502.9 260.9 1494.9 260.9 1494.9L11.5 1471.5L37.7 1557.9Z" fill="#5a0070"/>
<path d="M36 1528.8C36 1528.8 41.9 1533 48 1537.2C54.1 1541.5 60.2 1545.7 66.3 1550C72.3 1554.3 78.4 1558.2 84.5 1562.8C90.6 1567.3 96.7 1572.5 102.8 1577.4C108.9 1582.3 115 1587.1 121 1592C127.1 1596.9 133.8 1602.8 139.3 1606.6C144.8 1610.4 149 1613.6 153.9 1614.8C158.8 1616 163.7 1615.9 168.5 1613.9C173.4 1611.9 178.9 1607.5 183.1 1603C187.4 1598.4 190.7 1592.6 194.1 1586.5C197.4 1580.4 200.5 1573.4 203.2 1566.4C206 1559.4 207.8 1551.8 210.5 1544.5C213.3 1537.2 216.6 1528.7 219.7 1522.6C222.7 1516.5 226.8 1513.4 228.8 1508C230.8 1502.6 236.5 1495.6 236.5 1495.6L11.5 1471.5L36 1528.8Z" fill="#1a00ff"/>
<path d="M63.4 1494.8C63.4 1494.8 68 1502.1 69.5 1508C71.1 1513.9 73.2 1519.3 77.2 1524.4C81.2 1529.6 87.9 1534.5 93.7 1539C99.4 1543.6 105.8 1547.9 111.9 1551.8C118 1555.8 125 1559.7 130.2 1562.8C135.4 1565.8 139 1568.3 143 1570.1C146.9 1571.9 149.7 1574 153.9 1573.7C158.2 1573.4 164.6 1571 168.5 1568.3C172.5 1565.5 174.9 1561.9 177.7 1557.3C180.4 1552.7 182.5 1546.7 185 1540.9C187.4 1535.1 190.1 1528.1 192.3 1522.6C194.4 1517.1 195.6 1512.7 197.7 1508C199.9 1503.3 202.9 1494.3 202.9 1494.3L63.4 1494.8Z" fill="#00008c"/>
<path d="M35.5 1690.4C35.5 1690.4 41.9 1694.3 48 1697.9C54.1 1701.6 60.2 1705.2 66.3 1708.9C72.3 1712.5 78.4 1715.6 84.5 1719.8C90.6 1724.1 97.3 1729.3 102.8 1734.4C108.3 1739.6 113.1 1744.8 117.4 1750.9C121.7 1757 124.7 1763.7 128.4 1771C132 1778.3 136 1787.4 139.3 1794.7C142.7 1802 146 1809.7 148.4 1814.8C150.9 1819.8 152.1 1821.6 153.9 1825C155.7 1828.4 160.8 1837.9 160.8 1837.9L11.5 1862.3L35.5 1690.4Z" fill="#5a0070"/>
<path d="M381.2 1832.3C381.2 1832.3 388.9 1827.2 395 1825C401.1 1822.8 407.1 1821.2 413.2 1818.4C419.4 1815.7 425.5 1811.1 432 1808.4C438.6 1805.7 444.9 1801.5 444.9 1801.5L468 1862.3L381.2 1832.3Z" fill="#5a0070"/>
<path d="M277.2 1493.4C277.2 1493.4 277.6 1498.9 276.3 1508C274.9 1517.1 275.2 1526.3 274.4 1535.4C273.7 1544.5 272.6 1553.7 271.7 1562.8C270.8 1571.9 268.8 1581 269 1590.2C269.1 1599.3 270.5 1609.4 272.6 1617.6C274.7 1625.8 277.8 1632.8 281.7 1639.5C285.7 1646.2 291.2 1652.6 296.4 1657.7C301.5 1662.9 307 1667.8 312.8 1670.5C318.6 1673.3 323.4 1674 331.1 1674.2C338.7 1674.3 349.3 1672.7 358.4 1671.4C367.6 1670.2 376.7 1668.5 385.8 1666.9C395 1665.2 405.5 1663.2 413.2 1661.4C420.9 1659.6 425.6 1657.2 432 1656.3C438.5 1655.4 446.1 1652.5 446.1 1652.5L468 1471.5L277.2 1493.4Z" fill="#ff3000"/>
<path d="M377.9 1494.2C377.9 1494.2 376.8 1502.7 373.1 1508C369.3 1513.3 368 1520.2 366.7 1526.3C365.3 1532.3 364.7 1537.8 364.8 1544.5C365 1551.2 365.6 1560 367.6 1566.4C369.6 1572.8 372.8 1578.3 376.7 1582.9C380.7 1587.4 385.8 1591.1 391.3 1593.8C396.8 1596.6 402.8 1598.1 409.6 1599.3C416.4 1600.6 424.6 1600.3 432 1601.3C439.5 1602.4 446.6 1602.6 446.6 1602.6L468 1471.5L377.9 1494.2Z" fill="#ffa000"/>
<path d="M444.8 1504.5C444.8 1504.5 435.3 1509.8 432 1511.7C428.8 1513.5 425.8 1514.7 422.4 1517.1C418.9 1519.6 413.7 1522.9 411.4 1526.3C409.1 1529.6 408.7 1533.6 408.7 1537.2C408.7 1540.9 409.1 1544.8 411.4 1548.2C413.7 1551.5 418.9 1554.7 422.4 1557.3C425.8 1560 428.5 1562.3 432 1564.1C435.6 1565.8 444 1572.4 444 1572.4L444.8 1504.5Z" fill="#b4ac00"/>
</g>
<clipPath id="q3BR"><rect x="432" y="1508" width="385" height="318"/></clipPath>
<g clip-path="url(#q3BR)">
<rect x="432" y="1508" width="385" height="318" fill="#d80000"/>
<path d="M417.4 1656.6C417.4 1656.6 426 1657.1 432 1656.3C438 1655.4 444.2 1654.8 450.3 1655.9C456.3 1657.1 462.4 1660.2 468.5 1663.2C474.6 1666.3 480.7 1671.4 486.8 1674.2C492.9 1676.9 499 1678.7 505 1679.7C511.1 1680.6 517.2 1680.9 523.3 1679.7C529.4 1678.4 535.5 1675.4 541.6 1672.4C547.7 1669.3 553.7 1665.4 559.8 1661.4C565.9 1657.4 572 1652.9 578.1 1648.6C584.2 1644.4 590.3 1640.4 596.4 1635.8C602.4 1631.3 608.5 1626.1 614.6 1621.2C620.7 1616.4 626.8 1611.2 632.9 1606.6C639 1602 645.1 1597.8 651.1 1593.8C657.2 1589.9 663.3 1585.9 669.4 1582.9C675.5 1579.8 681.6 1577.4 687.7 1575.6C693.7 1573.7 698.3 1573 705.9 1571.9C713.5 1570.9 724.2 1570.1 733.3 1569.2C742.4 1568.3 762.5 1566.4 762.5 1566.4C762.5 1566.4 757.7 1564 751.6 1559.1C745.5 1554.3 739.4 1550 733.3 1544.5C727.2 1539 721 1532.3 715.1 1526.3C709.1 1520.2 700.6 1515.9 697.7 1508C694.8 1500.1 687.6 1497.4 687.6 1497.4L395.5 1471.5L417.4 1656.6Z" fill="#ff3000"/>
<path d="M417.6 1598.6C417.6 1598.6 425.9 1600.5 432 1601.3C438.1 1602.2 444.2 1603.3 450.3 1604.8C456.3 1606.3 462.4 1608.4 468.5 1610.3C474.6 1612.1 480.7 1614.1 486.8 1615.7C492.9 1617.4 499 1619.2 505 1620.3C511.1 1621.4 517.2 1622.6 523.3 1622.1C529.4 1621.7 535.5 1619.5 541.6 1617.6C547.7 1615.6 553.7 1613 559.8 1610.3C565.9 1607.5 572 1604.5 578.1 1601.1C584.2 1597.8 590.3 1594.4 596.4 1590.2C602.4 1585.9 609.4 1580.1 614.6 1575.6C619.8 1571 624.2 1567.3 627.4 1562.8C630.6 1558.2 633.5 1552.7 633.8 1548.2C634.1 1543.6 632.4 1539.3 629.2 1535.4C626 1531.4 620.1 1527.3 614.6 1524.4C609.1 1521.5 604 1519.7 596.4 1518C588.7 1516.4 578.1 1515.8 569 1514.4C559.8 1513 548.4 1510.9 541.6 1509.8C534.7 1508.8 532.3 1509.1 527.9 1508C523.4 1506.9 513.4 1500.7 513.4 1500.7L395.5 1471.5L417.6 1598.6Z" fill="#ffa000"/>
<path d="M418.1 1559.5C418.1 1559.5 426.3 1561.2 432 1564.1C437.7 1566.9 444.2 1568 450.3 1570.1C456.3 1572.2 462.4 1574.7 468.5 1576.5C474.6 1578.3 480.7 1579.8 486.8 1581C492.9 1582.3 499 1583.8 505 1583.8C511.1 1583.8 517.2 1582.4 523.3 1581C529.4 1579.7 535.5 1577.4 541.6 1575.6C547.7 1573.7 559.8 1566.4 559.8 1566.4C559.8 1566.4 558.6 1553.7 552.5 1550C546.4 1546.3 540.7 1542.7 534.3 1539C527.9 1535.4 520.6 1531.7 514.2 1528.1C507.8 1524.4 502 1520.5 495.9 1517.1C489.8 1513.8 484.1 1510.1 477.7 1508C471.2 1505.9 464.6 1500.7 464.6 1500.7L395.5 1471.5L418.1 1559.5Z" fill="#b4ac00"/>
<path d="M418 1812.6C418 1812.6 423.2 1812 432 1808.4C440.8 1804.8 450.3 1802.5 459.4 1800.2C468.5 1797.9 477.7 1797.1 486.8 1794.7C495.9 1792.3 505 1789.2 514.2 1785.6C523.3 1781.9 532.4 1777.4 541.6 1772.8C550.7 1768.2 560.4 1763.4 569 1758.2C577.5 1753 585.7 1746.9 592.7 1741.7C599.7 1736.6 605.8 1732.3 611 1727.1C616.1 1722 620.1 1716.5 623.7 1710.7C627.4 1704.9 629.8 1698.2 632.9 1692.4C635.9 1686.7 638.4 1681.5 642 1676C645.7 1670.5 650.2 1664.4 654.8 1659.6C659.4 1654.7 663.9 1650.7 669.4 1646.8C674.9 1642.8 681.6 1638.3 687.7 1635.8C693.7 1633.4 699.8 1632.5 705.9 1632.2C712 1631.9 718.1 1632.5 724.2 1634C730.3 1635.5 736.4 1638.3 742.4 1641.3C748.5 1644.4 754.6 1648.3 760.7 1652.3C766.8 1656.2 772.9 1661.1 779 1665C785.1 1669 791.1 1672.5 797.2 1676C803.4 1679.5 809.8 1682.7 816 1686C822.3 1689.4 828.9 1692.9 828.9 1692.9L852 1862.3L395.5 1862.3L418 1812.6Z" fill="#5a0070"/>
<path d="M758.9 1497.3C758.9 1497.3 764.9 1502.7 768.9 1508C773 1513.3 777.9 1517.7 782.6 1522.6C787.3 1527.5 791.7 1532 797.2 1537.2C802.8 1542.4 809.8 1548.2 816 1553.7C822.3 1559.1 827 1563.3 827 1563.3L852 1471.5L758.9 1497.3Z" fill="#5a0070"/>
<path d="M810 1500.7L822.8 1519L852 1471.5L810 1500.7Z" fill="#1a00ff"/>
</g>
</g>
<path d="M48 1075H816" stroke="#ffeec0" stroke-width="1.3" fill="none"/><path d="M816.3 1075V1940" stroke="#f0d4a8" stroke-width="1.3" fill="none"/><path d="M48 1823H816.3" stroke="#fff0c8" stroke-width="1.3" fill="none"/>
<clipPath id="cclip3"><rect x="37.5" y="1063" width="789" height="888"/></clipPath>
<g clip-path="url(#cclip3)"><g transform="translate(0 994)" fill="none" stroke="#000" stroke-width="1.7" stroke-linejoin="round" stroke-linecap="round"><path d="M418.7 336.4L422.7 337.5L427.2 339.9L430.8 335.6L433.8 332.9L438.2 331L443.7 330.7L449.1 331L453.5 329L455.6 331L454.1 334.4L454.1 337.9L454.5 343.8L455.6 347.7L460 350.7L465 353.7L466.6 358.6L470.9 362.5L474.2 362.5L475.3 357.6L475.5 353.2L479.7 350.7L482.9 354.2L486.2 356.6L490.6 358.6L495 360.6L499.3 357.6L502.2 359.1L502.6 365L502.9 369.8L504.8 374.9L505.1 379.1L507 384.7L507.9 390.3L509.2 394.6L509.9 399L512 404.5L512.7 411.4L512.9 416.8L514.4 420.3L515.7 424.2L517.7 429.6L517.9 436.5L521.2 441.5L524 446L525.6 451.3L526 456.3L529.9 461.2L532.6 458.8L536.5 457.8L539.6 456.8L543.5 454.8L542.5 459.4L542.6 463.7L541.5 468.4L540.1 472.7L538.7 478.5L536.8 482.9L536.5 488.3L534.6 494.4L532.1 500.7L529.6 504.5L527.7 508.1L526 512.6L524.5 517.9L521.2 522.9L520.6 528.2L519 532.7L517.4 539L516.8 545.1L517.4 551.9L517.9 557.4L519.4 560.7L520.1 564.8L521 570.7L520.1 578.4L520.3 584.5L518.5 589.4L517.9 594.4L514.3 598.4L512.4 601.8L510.7 606.9L508.1 611.7L509.3 616.3L509.2 621.5L509.4 626.6L508.9 631.4L506.5 635L503.7 638.8L504.1 644.5L503.3 648.7L501.3 654.9L499.3 660.5L496.4 665.8L495.2 671.3L492.8 675.3L490.7 677.6L487.5 680.7L483.4 681.5L479.7 681.7L475.3 684.7L471.8 681.7L470.5 676.2L470.9 670.9L469.2 664L468.7 658.5L466.5 654.1L465.2 648.2L464.4 643.7L463.8 638.5L462.9 631.8L463.3 626L462 620.6L461.1 614.5L458.8 607.7L457.8 601.8L457.3 597.6L457.4 591.9L459.4 585.5L459.3 579.9L461.1 574.7L460.4 568.9L460.8 562.7L460.4 557.4L458.8 552.3L458.7 547.7L458.3 542.6L458.6 539.2L457.4 535.2L454.9 530.5L452.4 525.3L451.9 520.1L450.8 516.5L452.3 512.8L452.4 508.1L453.3 502.4L452.8 495.7L450.2 490.8L446.9 491.3L444.7 491.8L442.9 486.9L441.4 482.4L437.1 482.9L434.2 482.9L429.4 487.3L427.2 489.3L422.9 487.3L418.2 488.5L415.2 491.3L411.9 488.3L409.4 484.5L408 481.9L405.3 475.7L403.2 471.1L401.7 466.1L399.3 461.8L398.8 458.7L396.4 454.8L395.3 451.3L394.9 446.4L393.4 440.5L395.5 434.1L395.1 429.8L396.5 423.6L396.6 419.3L395.1 414.1L394.5 409.4L395.3 402.1L396.6 396.1L398.9 391.3L399.9 384.7L401.5 380.5L403.2 376.4L407.6 370.9L410.2 367.5L409.6 361.8L410.4 357.6L411.4 352.7L413 348.7L416.3 345.3L418.1 340.2L418.7 336.4M539.3 572.2L539.3 578.8L541.1 583.1L541.9 589.5L540.9 594.8L539.8 601.8L538.7 609.2L538.2 615.3L536.5 621.5L535.3 626.2L534.4 631.9L534.3 636.3L529.9 639.3L528.6 634.4L527.1 628.4L526.3 623.2L526.2 619.1L527.9 616.2L528.4 611.7L528.8 607.3L528.5 602.2L527.7 596.9L529.4 593.9L532.1 590.9L534 584.4L536.5 579.6L537.1 575.5L539.3 572.2M419.8 334.9L422 332L427.2 331.5L430.1 327.5L431.6 322.1L430.9 318.1L433.3 311.7L435.5 309.4L438.6 306.3L438.2 299.9L440.3 298.4L443.4 299.4L447.6 297.4L451 294L454.1 298.4L457 302.5L458.3 306.8L462.6 311.7L465.9 315.7L467 320.3L466.6 323.1L465.7 325.5L467.7 324.1L469 320.6L467.9 317.2L468.7 313.2L472 315.2L470.9 312.2L469.6 309L466.6 306.3L463.3 304.3L461.1 297.9L458.5 293.5L458.5 289L461.5 288.1L461.3 291.5L464.8 295L467.4 298.4L471.1 302.9L474 306.8L474 313.2L475.3 317.2L476 320.1L477.7 324.1L477.8 327.2L479 331.5L480.8 332.9L482.3 332.9L481.9 328L484 327L482.9 323.1L481.6 319.1L481.6 313.2L484 314.7L484.9 311.2L488.4 311.7L488.8 315.2L489.5 318.1L490.2 323.1L490.9 327.5L491.3 330.5L493.2 332L496.1 334.4L498.5 331.5L501.5 334.9L505.9 333.9L510.3 331.5L510 337.9L510.2 341.8L509.2 345.8L508.8 349.8L507.9 352.7L506.5 358.6L503.7 359.6L502.6 365L503 370.2L504.8 374.9L507 374.9L508.3 371.7L508.1 367.5L508.5 371.1L508.1 374.9L509.1 380.3L511.4 384.7L512.1 389.5L513.5 393.1L516 398.6L516.8 404.5L516.9 409L517.3 411.9L519.6 416.2L521.2 421.7L522.2 426L524.5 431.6L525.7 438.3L525.6 443.9L526.6 450.4L529.9 449.9L532 448.2L535.4 445.4L539.8 440L543.6 438.3L545.7 436L548.5 430.6L552.4 426.7L554 423.6L556.1 420.3L556.4 415.7L557.9 412.9L560.9 407.7L562.3 402L560.1 396.6L556.1 394.6L554.8 390.7L554.6 383.8L552.4 387.2L551.1 391.2L549.6 393.6L544.8 394.6L544.3 391.3L544.1 386.7L542.6 390.7L542.4 385.9L541.1 382.3L539.2 378.2L538.2 374.9L536.9 371.3L536.5 367.5L538.4 363.5L541.3 365L541.7 368.6L543 372.4L544.6 377.3L547.4 380.8L551.3 382.3L554.6 379.3L556.6 385.7L560.5 387.7L566 388.7L571.4 388.2L576.9 387.7L578.7 392.1L580.6 396.1L581.2 399.5L582.4 403L584 407.2L585.4 409.9L588.9 408.9L590.2 403L590.2 409.2L590.5 413.9L590.7 419.3L591.1 423.3L591.3 428.6L591.8 434.1L591.7 439.5L592.9 443.9L594.4 448.9L596.2 453.9L597.2 458.7L597.7 463.7L598.8 468.6L600.9 473L602.5 468.6L604.7 467.1L605.4 463.4L606 458.7L605.7 453.4L606.8 447.9L606.3 442.3L606.6 437.5L609.7 432.1L611.9 429.1L614 425.5L615.1 421.7L616.9 419L618.4 415.3L621.5 410.4L622.8 406L626.1 405.5L629.3 402L631.5 401L632.6 407.9L634.1 414.3L636.5 417.9L637.4 421.7L637.7 427.9L637.6 434.1L639.8 435.1L643.1 431.1L644.9 432.6L645 437.4L645.1 441.5L645.9 447.7L646.8 453.8L646.9 459.5L647 463.7L647.1 468.5L646.4 472.1L648.6 475.3L649.2 479.5L650.8 485.9L651.8 492.8L652.7 498.2L655.6 503.1L657.7 506.1L659.3 505.6L659.1 501.2L657.7 498.2L657 494.4L657.5 490.8L655.6 486.6L655.1 483.4L652.3 479L650.6 475.3L650.5 471.1L648.6 467.1L649.7 462.4L649.9 456.3L649.4 452.2L650.1 447.4L652.1 446.9L653.6 450.8L656.2 454.8L658 461.2L660.6 461.7L661 465.2L660.8 470.1L664.3 464.7L666.1 461.2L669.5 457.3L670.4 451.3L671 447.2L670.2 441.5L668.7 438.6L668.2 434.1L665.4 428.2L663.9 424.2L662.8 420.3L663 414.8L664.7 410.9L667.6 406.9L670.9 406.4L672.4 411.9L673 407.9L676.3 405.5L679.6 403L681.8 401.5L686.2 399L688.7 396.2L689.4 392.1L692.7 386.2L692.9 382.4L694.2 378.8L695.7 375.3L697.1 372.4L696.9 368.4L697.7 365L696 361.1L697.7 356.1L696.7 351.1L694.9 347.7L693.7 343.9L692.3 340.3L694.9 334.4L699.3 330.5L697.1 327.5L691.6 329L689.4 324.6L688.8 320.1L691.6 319.1L692.9 315.1L696 311.7L698.2 313.2L697.5 316.9L696.4 320.6L699.3 318.1L703 315.7L705.2 318.1L704.3 324.6L707.3 327.5L706.9 332.3L708 335.4L707.6 342.3L710.2 341.3L713.5 339.4L714.4 335.8L714.3 330.5L712.6 326.4L712.4 323.1L710.2 317.2L712.4 312.7L715 308.3L717.2 303.8L720 299.9L723.3 301.9L724.7 298.7L727.7 294.5L729.4 289.6L732 286.1L733.5 283.1L735.3 278.7L737.5 273.3L738.6 268.8L738.3 264.6L739.2 259L739.9 255.1L740.3 250.6L736.4 245.1L731.4 246.6L727.2 242.7L728.9 237.7L732 234.3L735.1 230.5L737.5 226.9L739.5 224.5L743 220.5L747 220.8L750.6 220L757.2 218.5L759.7 220.9L763.7 222L766.2 221.4L770.3 219.5L770 215.5L769.8 212.1L774.6 208.1L781.2 208.6L784.6 207.4L787.8 204.7L791 209.6L789 212.7L787.8 217L786.5 220.2L785.1 224.4L782.5 226.8L781.2 230.3L776.9 229.3L774.2 229.4L773 232.7L772.5 236.8L772.5 242.5L771.6 249.1L772.6 254.7L773.6 261.4L775.2 256.8L777.5 254L778.9 249.4L781.2 246.6L785.6 241.7L786.2 238.1L786 234.3L786.6 230.5L788.4 226.9L791.1 221.2L792.1 217L796 215.7L798.7 214.6L804.1 217L807.4 213.2L810.7 208.1L813.8 206.4L817.3 204.7L823.8 203.7L824.7 199.1L824.9 192.8M824.9 172.6L820.2 171.2L816.2 168.7L811.1 170.4L805.2 171.6L800.7 170.1L796.5 169.2L790.2 168.8L785.6 169.7L782.3 172.1L776.6 167.9L772.5 162.8L767.7 162.2L763.7 162.8L759.7 160.2L757.2 156.3L752.7 155.8L746.6 154.2L741.9 153.9L739.3 156.8L737.5 159.8L732.5 159.7L728.8 159.8L724 162.1L720 162.8L717.6 161.6L713.5 160.3L709.1 155.4L704.3 154.5L700.4 151.9L694.5 150.9L689.4 150.4L683.6 149.5L679.6 148.9L679 143.5L678.5 138.1L672.5 136.1L667.6 134.1L662.9 131.5L659.9 129.7L654.3 132.5L650.1 135.6L642.7 136.5L637 139.1L630.1 139.6L623.9 141.1L622.4 145.1L620.6 148.9L616.1 149.5L610.8 149.4L609.5 153.8L607.5 156.8L603.5 156.5L599.8 156.8L594.4 152.9L593.4 156.5L590.7 161.3L591.9 168.4L592.4 175.1L589.8 180.6L588.9 185L588 180L585.6 174.6L580.6 173.6L579.5 168.7L577.6 162.8L579.2 158.4L582.1 153.9L584.1 151.4L581.9 158.1L580.3 164.2L577.6 169.7L572.5 171.6L568.4 171.1L564 169.2L558.3 173.1L554.8 174.9L550.7 176.1L547.4 173.1L542.5 174.5L538.7 177.6L532.8 176.1L529.8 178.5L528.2 181.5L527.7 186.4L522.1 184.5L519.8 188.3L519 190.9L513.5 192.4L511.4 197.8L507.6 194.8L506.4 190.4L505 185.4L510.6 186.3L515.7 186.4L521.2 182.5L520.1 177.6L515.7 173.9L511.4 172.1L508.1 171.6L503.7 170.2L498.2 168.7L495.5 165.8L492.8 162.8L487.3 162.3L484.3 163.7L480.8 166.7L477.4 167.5L473.1 169.2L469.1 172L466.6 175.6L463.3 181.5L461.8 184.2L459.6 187.9L458.4 192L456.3 194.3L452.4 199.8L448 202.7L443 207.2L442.7 210.6L442.5 214.6L443.1 219.1L443.8 222.9L446.9 226.4L450.2 225.4L454.3 220.5L456.1 223.9L457.4 229.4L459.3 235.8L459.8 239.2L462.8 238.7L463.7 235.8L467.2 233.3L467.9 228.4L469.2 222.9L472.7 218L469.8 212.1L469.6 205.7L472.9 201.2L477 197.3L478.6 191.4L480.3 188.4L484 188.4L487.1 192.4L485.4 195.8L481 200.7L478.1 205.7L478.6 212.1L480.8 216.5L486.2 216.5L491.7 214.6L496.1 217.5L492.8 219.5L487.3 219.5L482.9 221.5L483.2 225.4L484.9 227.9L483.6 231.8L479.2 229.4L477.5 233.8L477.5 240.7L474.9 244.6L471.6 242.7L466.6 245.6L462.6 247.1L458.9 245.1L455.6 246.6L453.5 244.2L453 239.2L454.5 234.3L454.5 228.9L450.2 231.3L449.3 236.8L450.4 241.7L450.8 247.1L447.3 248.6L443.6 250.1L441.9 252.5L440.3 257.5L437.1 260.9L435.1 264.9L432 268.8L429 268.3L428.1 272.8L425 272.3L421.3 274.2L422.4 277.2L426.1 279.7L427.7 284.6L429 288.5L429.3 292.5L428.8 295.9L427.7 298.9L423.3 298.4L418.9 297.9L414.1 297.4L411.5 300.9L412.4 306.8L412.6 309.7L412.4 314.2L411.1 317.5L411.1 321.6L412.4 324.1L412.2 330.5L415.4 329.5L417.6 331.5L419.8 334.9M419.6 265.9L424 264.4L428.3 262.9L432.7 262.4L434.7 259.9L433.3 259L435.3 253.5L432.3 251.6L431.6 248.1L429 243.7L428.1 238.7L425 236.8L426.8 231.8L427.4 228.9L422.9 228.4L424.6 223.9L420.7 223.9L418.5 229.4L419.4 235.3L418.1 238.7L421.1 241.7L421.5 243.2L424.6 242.7L425 247.6L424.8 250.1L421.8 250.1L422.4 254L420.2 257L422.9 258.5L425 259.4L421.8 261.4L419.6 265.9M418.5 255.5L415.2 256.5L410.2 258.5L409.3 255L410.8 251.6L409.8 245.6L413.5 243.7L414.1 240.7L417.4 240.7L419.4 243.7L418.3 249.1L418.5 255.5M382.4 197.8L387.9 199.8L393.4 199.3L397.1 196.7L399.9 194.8L401.9 190.4L398.8 186.4L394.5 186.4L391.2 186.9L386.8 189.4L383.5 185.4L379.2 188.4L383.5 190.9L379.2 193.3L383.5 195.8L382.4 197.8M455.6 120.8L459 124.9L462.2 130.7L464.7 132.2L468.7 134.6L471.2 130.5L473.1 125.8L479.7 127.2L477.5 121.3L484.4 119.2L490.6 117.9L485.5 117.1L480.3 115.9L475.3 115.9L470.5 117.1L464.4 119.3L460.9 120.9L455.6 120.8M544.1 162.8L548.5 163.7L552 164.2L557.2 164.7L555.6 162.1L552.9 157.8L553.3 153.7L554 150.4L556.7 147.5L560.5 143L565.5 140.7L571.4 138.1L575.7 136.2L581.3 134.1L575.8 133.2L572.3 134.1L567.6 136.5L562.7 138.1L559 140.9L554 143L550.7 147.4L548.5 150.4L546.3 154.5L544.1 160.3L544.1 162.8M639.2 123.3L643.7 125.7L650.1 128.2L655.5 126.6L661 125.8L654.9 121.8L650.1 118.4L645.4 116.5L641.4 113.4L637.2 116.3L634.8 118.4L639.2 123.3M606.4 464.7L609 471.1L610.3 474.1L610.3 478.5L608.6 482.9L606.6 483.4L606.9 478.9L605.7 473.5L606.8 468.7L606.4 464.7M669.1 418.3L671.9 414.3L674.1 416.3L672.8 421.7L670.2 422.7L669.1 418.3M696 389.7L698 391.6L697.2 395.4L696.9 399.5L695.5 404.5L694 399.5L694.5 393.6L696 389.7M741.9 245.1L744.1 251.6L745.3 256.6L744.7 261.4L745.2 266.2L746.2 271.3L744.7 274.2L744.1 278.7L743.2 285.6L741.9 281.1L741.3 276.8L742.1 271.3L741.5 267.1L741.7 261.4L741.1 256.1L741.4 251.6L741.9 245.1M737.7 308.3L739.7 303.3L744.7 305.8L747.1 302L749.5 299.4L746.9 295.5L743.4 293.5L741.4 289L740.8 294.8L740.6 298.9L738.2 299.9L737.3 304.3L737.7 308.3M717.6 345.3L720 345.8L723.3 343.3L726.6 342.3L727 347.3L730.5 343.8L734.9 341.8L737.1 339.9L739.2 336.4L740.2 332.8L739.7 328L741 323.1L741.9 317.7L741.6 314.2L740.8 309.3L738.2 309.8L737.3 315.7L737.9 319.5L736.8 323.1L734.2 328.5L731.4 329.5L730.3 332.9L728.8 336.9L725.5 337.4L721.8 338.4L718.5 342.3L717.6 345.3M717.6 345.8L719.6 348.7L719.7 351.6L718.9 356.1L717.2 359.6L716.1 355.1L715.2 350.2L716.5 347.3L717.6 345.8M721.1 345.8L724.8 343.8L725.7 346.3L722.9 348.7L721.5 350.7L721.1 345.8M695.1 421.7L698.6 422.2L699.2 426.8L699 431.6L698.6 435.6L697.3 439L698.6 444.4L702.5 448.4L702.5 450.8L699.3 446.9L696 445.4L695.1 440L694 435.7L693.6 433.1L694.7 426.7L695.1 421.7M698.2 478.5L700.4 474.1L701 471.1L703.3 467.8L705.6 465.1L706.3 469L707.8 472.1L708.6 476.1L707.8 480.9L705.8 484.4L705.2 478.5L703 481.9L701.4 475.5L698.2 478.5M698.2 454.8L700.6 456.3L701.1 459.6L701 463.7L702.5 462.7L705.2 457.3L706 452.3L703.9 451.3L704.3 454.8L704.5 458.7L702.5 457.3L700.8 461.8L700.4 467.6L699.3 463.7L698.2 460L698.2 454.8M687.7 471.6L690.5 466.1L691.7 462.2L692.9 459.2L692.3 457.3L691.6 461.4L689.4 463.7L688.5 467L687.7 471.6M639.8 485.4L644.6 487.3L645.4 490.1L647.3 494.3L648.8 497.2L651 501.7L654 504.6L657.5 510.5L658.3 515L659.9 520.4L661.7 524.8L663.2 527.8L663.4 534.5L662.8 541.6L660.2 541.6L657.5 537.2L655.1 532.7L653.4 528L652.1 523.9L649.4 517.5L648.4 512L647.9 506.9L645.7 503.1L644.1 499.4L642.5 495.2L641.8 489.8L639.8 485.4M661.5 546.5L664.7 542.6L668.9 546.1L673.5 544.6L677.6 547L681.8 551L681.3 555.4L676.3 553.9L670.9 551.5L666.5 551L661.5 546.5M682.9 553.5L686.2 553.9L689.4 554.4L691.6 555.9L687.2 557.4L684 556.4L682.9 553.5M693.4 554.9L697.1 554.9L700.4 553.9L699.3 556.9L694.9 556.9L693.4 554.9M701.7 563.8L702.8 560.2L704.7 557.4L709.1 554.4L708 558.4L703.6 562.8L701.7 563.8M669.8 505.6L672.6 504.6L674.6 500.7L678.5 497.2L680 493.2L681.8 489.3L684.2 486.2L685.1 481.9L687.2 478.5L688.6 481.9L691.6 486.9L689.9 491.8L688.6 498.2L689.7 501L689.4 505.6L691.2 508.1L689 510.5L687.8 514.6L688.3 517.9L686.2 522.9L686.5 527.3L685.5 531.7L682 532.7L678.5 529.3L675.7 529.3L672.4 525.3L671.5 519.5L670.2 515.5L669.8 511.3L669.8 505.6M695.5 506.6L700.4 508.6L704.7 505.1L703.2 511L697.1 510.5L696.1 514.4L694 516.9L697.1 517.9L700.8 517.9L698.2 522.9L699.3 529.3L700.4 535.2L698.2 536.7L697.1 530.3L695.8 526.8L694.7 532.7L695.4 536L694.5 540.1L692.7 540.1L691.9 534.6L692.5 530.3L691.6 525.3L692.5 520L693.4 514L695.3 510.7L695.5 506.6M710.2 503.1L711 507.3L711.3 510.5L712.4 515.5L710.8 516.9L710.2 510.5L710.1 506.9L710.2 503.1M717.8 516.9L721.1 515L724.4 516.9L724.7 523.6L726.6 529.3L728.3 526.3L730.9 521.9L735.3 522.9L739.7 525.8L744.1 529.8L748.4 534.2L750.6 540.1L753.9 542.6L752.8 546.5L754.7 550.4L756.1 554.9L757.6 558.9L760.4 563.8L757.2 563.3L752.8 559.9L751.4 556.5L749.5 552.5L745.1 554.9L743 558.4L739.7 557.9L736.4 552.5L733.1 553.9L734.9 547.5L733.3 543.1L733.1 540.1L728.8 535.7L724.4 531.7L722.2 532.7L720 527.3L724 524.3L720 522.9L717.8 516.9M755.6 541.1L759.4 539.6L762.6 533.7L764.4 535.2L762.6 541.6L758.3 544.1L755.6 541.1M770.3 542.6L773.6 547.5L776.8 552.5L779.1 556.3L781.2 559.9L783.4 564.8M789.9 612.6L793.2 618.1L796.5 623M819 599.3L821.6 599.8L821.4 602.8L819 601.8L819 599.3M679.6 621.5L680.2 624.7L681.1 628.9L680.5 633L679.6 638.8L680 643.7L681.1 648.7L682.8 655.1L682.9 661L684.3 665.9L684.4 670.9L683.2 676.1L682.9 682.2L686.2 685.7L689.4 685.7L693.8 680.7L698.2 680.2L702.1 679.2L705.3 676.2L706.9 672.3L709.8 669.7L713.5 668.9L718.3 668.4L722.2 671.8L725.5 675.8L726.7 680.5L727.9 684.7L729.9 680.7L732.5 674.3L732.7 679.7L732 686.6L734.2 685.7L736.4 690.1L737.4 694.8L738.6 700.5L743 702.9L747.3 700.9L751.3 705.4L755 700L759.4 696.5L760.5 691.8L761.1 685.7L761.3 681.1L762.4 678.3L763.3 674.4L764.8 670.9L765.9 665.4L766.3 661L767.3 657L767.2 652.1L766.7 646.2L766.1 641.3L765.2 636.3L764.2 632.3L761.5 628.9L758.9 623L758.1 617.6L756.1 613.1L753.4 610.4L751.7 606.7L750.8 603.8L750.6 599.3L749.9 592.6L749.3 587L746.2 583.5L745.2 579L745.1 574.7L744.5 571L743.2 565.8L741.8 570L741.7 574.7L740.8 580.4L741 584.5L739.7 588.7L739.7 594.4L737.5 600.3L734.5 597.2L733.1 594.4L731.7 592.1L728.8 588.5L728.6 585.7L727.7 581.1L729.9 576.8L730.5 573.2L726.6 572.2L722.2 569.7L718.9 573.7L715.6 579.6L714.5 584.1L714.6 587L711.3 587L709.1 582.1L705.8 584.5L705.2 587.4L703.6 591.9L700.4 596.9L698.6 602.8L696 609.2L691.6 611.7L686.8 614.6L682.9 619.1L679.6 621.5M747.8 714.3L751.7 715.7L755.6 714.8L755.4 721.2L753.9 726.6L750.6 728.1L748.9 721.7L748.6 717.7L747.8 714.3M808.9 682.7L811.8 688.1L813.5 694.5L815.7 694L817.3 699L821.2 698.5L820.4 702.1L820.1 706.4L818.3 707.9L817.3 714.3L814.6 718.2L813.5 716.2L814 710.3L811.4 706.9L813.3 701.4L812.9 695.5L810.9 690.9L810 688.1L808.9 682.7M809.2 712.8L812.2 716.7L811.1 720.2L810.7 724.1L808.9 727.6L805.9 731.5L805.9 734.8L804.4 739.4L802 742.9L798.2 741.4L795.4 738.9L798.1 734.5L799.1 731L803 726.1L804.4 723.2L806.3 719.2L808.3 715.9L809.2 712.8M64.5 189.4L68.1 187.1L73.3 185L77.6 185.9L75.2 183L73.3 178.5L68.9 173.6L71.6 171.4L75.4 169.7L79.4 166.4L82 164.7L85.7 163.6L89.6 161.3L95 161.7L99.5 163.7L103 164.2L108.2 166.2L114.4 166.5L119.1 167.7L124 169.6L127.9 170.2L131.4 171L135.5 172.6L140.2 170.9L143.2 168.7L147.1 167.8L151.9 166.2L154.9 167.8L158.5 170.2L162 169.9L167.2 168.7L172.3 171.1L176 173.1L180 174L182.5 176.6L186.4 177.3L191.2 178L195.6 175.1L202.2 176.6L208.7 178.5L213.9 178.4L217.5 176.6L221.8 177.6L222.2 173.4L222.9 170.2L224.4 165.2L226.2 160.3L229.2 163.9L230.6 168.7L233.9 174.1L239.3 173.6L242 177.2L243.7 180L247.5 183.5L250.2 185.9L244.8 187.4L242.8 190.8L240.4 194.8L236.8 196.8L233.9 199.3L229.5 204.7L228.4 208.1L226.2 213.1L224.9 218L224.7 222L228.4 225.4L229.9 231.8L234.9 231.8L237.2 233.5L240.4 236.8L245.9 240.2L251.8 241.2L251 246.5L252 251.6L254.6 256.5L257.9 259L259 254L258.9 249.9L259.4 244.2L262.1 241.8L263.4 237.7L263.2 232.8L263.8 229.4L261.4 226.1L260.5 222.9L261.8 218.7L262.3 214.6L261.2 209.7L261.2 205.2L267.7 205.7L271.2 208L274.3 209.6L278.6 212.1L279.6 217.6L279.7 222L284.1 225.4L286.6 221L288.5 218L290.7 215.5L293.5 219.6L295 224.4L296.8 229.1L298.3 234.3L300.9 237L302.7 240.7L306 246.6L307.1 249.9L309.2 254L308.1 259L304.8 262.4L302.7 264.4L296.1 265.4L289.6 265.4L285.2 269.3L282.6 272.5L279.7 276.2L276.5 281.6L280.8 276.2L283.4 274.4L286.3 270.8L290.7 271.3L289.6 277.2L290 283.6L292.9 286.1L297.2 287.6L299.8 284.6L298.3 289.5L292.9 293L287.8 297.4L287.4 292L290.7 288.5L285.2 291L280.8 295L278 297.9L276.9 303.3L278.6 306.8L275.4 308.8L270.3 312.2L269.5 317.7L267.1 323.1L265.5 329.5L266 335.4L263.8 341.3L260.1 346.3L258.5 349L256.8 352.7L256 356.7L254.2 360.1L255 363.1L254 367.5L254.8 372.2L255.7 375.9L256.8 381L256.6 384.7L255.1 388.7L252.9 384.7L250.9 379.9L250.7 375.9L250.7 369L248.1 365L244.8 366L240.4 363.5L236.7 363.5L236 369L232.8 368.5L227.3 366.5L224 369L221.2 371.9L219.7 375.9L220 380.9L218.6 385.7L219 390.4L217.9 395.6L219 401.2L218.8 406.9L219.4 412.4L221 416.8L224 421.2L227.3 422.2L231.7 420.8L233.9 414.3L234.3 409.4L238.2 406.9L241.5 407.4L241.8 411.4L240.4 416.8L240.3 420.7L239.8 424.2L238.5 427.7L238.2 431.6L237.6 435.1L241.5 435.1L245.9 434.6L249.4 438L248.6 442.9L249.2 448.9L248.5 454L248.7 458.7L250 461.7L250.7 465.6L253.5 468.6L257.2 466.1L261.2 467.6L262.7 471.1L262.3 477L260.5 472.1L257.9 469.1L256.1 472.1L255.7 477L253.5 475L250.2 472.1L247.4 468L246.3 464.7L244.1 462.2L244.1 457.8L242.8 453L240.8 449.4L238.2 447.9L234.9 445.4L231.7 443.4L229.1 439.2L227.3 436L224.5 433.1L220.7 435.6L216.4 432.6L212 428.6L208.7 424.7L204.8 420.3L201.5 415.3L201.7 411.7L200.9 407.9L199.3 402.5L199.3 398.6L197.3 394.2L195.6 389.7L194.2 385.2L192.3 382.3L190.2 377.3L187.9 374L186.9 369.9L185.6 364.6L184.7 360.1L180.8 356.1L180.6 360.6L181.2 363.5L183.6 369.9L184.4 373.8L185.8 377.3L186.8 380.9L188.4 384.7L189.9 389.8L190.2 393.1L192.3 398.6L191.2 400L189.4 396L188 393.1L186.4 387.2L183.6 381.3L180.8 375.9L182.1 372.4L181.1 368.7L179.2 366L177.3 362.5L177 357.6L175.5 351.7L174 349.1L172.7 345.3L168.3 342.8L166.7 338.6L165.5 332.9L163.9 326.5L162.4 321.7L161.1 318.1L160 313.2L159.2 308.4L160.2 303.3L160.7 299.2L160.7 293.5L159.9 289.3L160.7 284.6L159.8 279.7L159.3 274.7L162.8 275.2L163.9 279.7L163.3 275.6L163.9 272.3L160.7 267.3L156.3 263.9L152.4 259L151.9 254L149.8 250.3L147.6 245.1L144.3 239.2L141.4 234.8L139.9 230.3L138.3 227.5L135.5 222.9L130.1 219.5L124.6 218L120.2 216.8L117 217L111.5 213.1L106 217L100.6 220.5L101 217.1L99.9 212.1L98 215L96.2 219.5L94 225.4L92.3 227.9L89 230.8L85.3 235.8L83.3 238.2L79.8 240.2L74.4 242.7L71.1 245.1L74.9 240.3L77.6 236.8L80.9 232.6L83.1 229.4L87.5 223.9L84.2 222.9L77.6 222L76.5 216L71.1 212.1L70.4 209L70 204.7L74.4 201.2L79.8 198.8L79.2 194.3L76.3 194L72.2 194.8L67.8 191.4L64.5 189.4M161.8 274.2L157.4 272.3L154.4 268.4L152.4 264.9L151.5 262.4L156.3 265.4L159.6 268.8L161.8 274.2M302 277.7L304.9 278.2L309.7 281.6L314.7 282.6L316.2 277.7L314 272.3L310.3 267.3L309.3 263.4L308.1 259.9L306 263.9L304.2 267.1L303.8 271.3L302 277.7M246.1 405L250.2 399.5L254.6 399L259 402L263.4 406.9L267.7 411.4L269.5 413.4L266.3 414.8L262.3 414.8L261.2 410.9L256.8 406L252.4 402L249.2 403.5L246.1 405M269 422.2L269.7 418.6L272.1 414.8L275.4 414.8L279.1 417.8L282.1 421.2L278.6 423.2L275.4 425.7L272.5 423.2L269 422.2M260.5 422.7L263.4 421.7L265.1 424.2L262.3 425.2L260.5 422.7M284.8 422.2L288 422.2L287.8 424.2L284.8 424.2L284.8 422.2M260.1 381.3L262.3 382.3L263.4 387.2L261.6 393.1M90.7 413.4L92.9 415.8L91.4 419.3L90.7 413.4M85.9 406.9L87 407.4M68.9 247.1L64.5 249.6L60.1 252.5L57.3 253.2L53.6 255.5L47 257.5L42.7 258M232.1 515.5L233.2 517.4M297.2 184L295.6 187.5L292.9 192.4L290.8 197.4L288.5 202.2L283 205.7L280 203.6L276.5 202.2L273 198.7L269.9 194.8L266 195.6L262.3 195.8L261.2 189.9L265.4 187.3L269.9 185L270.1 181.5L272.1 177.6L268.3 174.6L264.4 172.6L262.2 170.7L259 167.7L252.4 167.7L249.1 165.9L245.9 165.2L242.5 163.3L239.3 162.8L237 157.7L236 152.9L240.2 151.3L245.9 149.9L250.3 148.9L254.6 149.4L259.2 150.9L263.4 153.9L268.1 157.3L272.1 159.8L275.4 161.5L278.6 164.7L281.4 167.7L284.1 171.1L288.2 174.2L290.7 178.5L294.6 182.1L297.2 184M255.7 198.8L252.8 202.3L249.2 204.7L245.3 202.8L242.6 199.3L243.7 195.4L244.8 189.9L250.2 192.4L253.7 195L255.7 198.8M202.2 173.6L195.6 175.1L190.7 175.6L184.7 174.6L180.6 172.6L178.1 171.1L176.4 166.3L173.8 162.8L175.6 157.4L176 152.9L182 153.2L186.9 154.9L191.3 154.1L195.6 151.9L198.4 153.2L202.2 155.4L205.5 158.7L208.7 162.8L207.9 165.9L208.7 170.2L204.8 172.7L202.2 173.6M178.1 160.3L174.1 161L169.4 160.3L163.3 159.6L158.5 157.8L158.9 152.9L160.7 148L166.4 147L171.6 146.5L175.5 149.8L178.1 152.9L178.3 157.3L178.1 160.3M296.1 106L290 110.6L285.2 113.4L281.1 115.7L277 117.9L272.1 120.8L269.7 124.7L265.5 128.2L260.9 132.9L256.8 136.6L251.2 135.5L245.9 135.6L241.9 133.6L237.1 133.2L238.8 129L239.3 125.8L235.2 122.9L230.6 118.4L235.1 116.2L239.3 113.4L235.7 110.1L232.8 108.5L238.5 106.2L246.1 105.1L252.4 103.6L257.9 104.1L262.7 102.8L269.1 102.3L274.3 103.1L278.8 103.5L284.5 104.3L290.2 105.4L296.1 106M256.8 140.6L251.5 142.2L245.9 145L239.5 144.7L232.8 144.5L226.6 143.3L221.8 140.6L224.7 136.7L228.4 134.1L233.1 135.4L239.3 136.1L245.5 137.9L250.2 138.6L256.8 140.6M200 143L195.4 143.8L191.2 145.5L184.9 144.5L180.3 143L176 138.1L181.5 136.6L186.9 135.6L191.5 136.8L195.6 138.1L200 143M243.7 123.3L239 125.4L232.8 126.7L226.8 125.7L221.8 123.3L222.1 118.9L224 114.4L229.3 114.7L234.9 115.9L238.5 120.1L243.7 123.3M335.5 217.5L331.9 215.4L330 213.1L325.6 209.6L324.8 205.8L322.4 203.2L320.2 199.7L319.1 195.8L317.4 191.9L315.8 187.4L315.5 183.1L314 180L315.7 176L318 172.6L314.4 169.6L312.5 165.2L313 160.7L312.5 155.4L310 152.3L309.2 148L307.5 143.7L304.9 139.6L299.8 138.3L293.9 137.1L288 136.9L283 138.1L279.3 134.1L276.5 131.7L279.4 128.4L283 124.3L286.6 121.9L289.6 118.4L293.2 114.2L296.1 111L301.3 109.5L306.8 108.4L311.4 107L317.6 106.4L325.4 104.9L331.1 104.5L337.6 102.5L342.3 101.8L348.6 101.1L354.8 102.1L360.7 101.1L366.1 101.6L373.3 103.5L379.2 106L383.1 108.7L387.9 110L393.6 110.8L398.8 111L396.9 115.5L394.5 118.4L392.2 122.7L390.1 125.8L389.3 131.3L387.9 135.6L388.3 139.7L389 143L387.5 146.4L385.7 150.4L381.3 155.4L381.9 159.3L383.5 162.8L380.3 166.7L376.8 170.4L374.8 172.6L369.8 173.7L366.1 176.6L362.1 180.3L359.5 182.5L355.9 184.8L352.9 188.4L346.4 189.9L343.1 194.8L341.2 197.7L340.9 202.2L340.2 206.2L338.7 209.6L337.2 216L335.5 217.5M262.7 471.1L265.5 467.1L266.6 460.2L269.9 457.8L273.6 452.8L275.4 458.7L275.4 462.9L274.7 466.1L276.5 459.7L276.8 456.4L278.6 452.8L281.9 457.8L286.3 460.7L290.7 462.2L295 460.2L297.2 464.7L298.6 468.4L300.5 471.1L302.7 475.5L303.8 478.5L307.1 483.4L311.4 483.9L315.8 485.9L319.1 490.8L319.4 497.6L321.3 503.1L322.5 508.9L322.4 513L325.6 517.9L328.9 516.5L330.9 519.1L334.4 522.9L337.6 525.3L342 527.3L346.4 530.3L347.5 532.6L350.1 536.7L354.5 540.1L355.6 545.6L355.6 550L355.3 555.5L354.5 559.9L352.8 564.4L350.8 569.7L348.4 572.7L347.5 577.1L347.4 582.8L346.4 589.5L345.7 595L345.7 600.8L344.1 605.8L344.2 611.7L342.7 617L342 621.5L337.6 626.5L333.3 630.4L328.9 634.8L327 637.7L325.6 641.3L326.2 646.9L325.2 652.6L324.4 656.5L322.4 660L319.9 664.8L319.1 669.9L317.9 674.1L316.9 677.3L315 681.1L313.6 684.2L309.2 685.2L306 683.2L304 680.7L305.4 685.1L306.6 690.6L306.8 694.8L305.7 700.5L301.6 704.4L296.1 705.4L296.4 709.2L295.5 714.3L289.6 715.3L289.8 718.4L291.8 722.7L288.9 727.6L289.2 732.1L288.5 735L284.1 739.9L284.9 743.6L287.4 747.3L285.7 751.6L284.1 754.7L281.9 758.4L280.8 762.1L281.1 767.2L281.9 771L277.6 773L274.3 776.9L276.5 779.4L272.1 776.9L270 774L268.8 769.5L267.6 764.1L267.1 759.6L267.2 754.7L266.6 749.8L267 745.1L268.8 739.9L269.2 735.5L271 730.1L271 725.6L270.3 720.2L270.9 715L271 710.3L271 705.2L271.4 700.5L272.7 694.8L272.5 690.6L274.3 684.8L274.7 680.7L274.5 675.4L275.4 670.9L276.1 665.9L275.4 661L275.5 656.7L276 651.1L276.2 646.1L277.3 641.3L277.6 635.5L277.8 628.9L278.4 623L278.2 616.6L277.8 610.1L278 604.3L275.5 601.2L274.3 596.9L269.9 591.9L268 587.4L265.5 582.1L263.6 577L262.9 572.2L262 567.4L260.1 562.3L258 556.1L257.2 550L256.6 545.8L254.6 542.6L253.7 538.5L254 535.2L256.1 529.3L256.8 524.3L254.8 517.9L256.2 514.9L256.8 510.5L259 505.6L260.1 500.7L262.3 494.3L261.6 489.4L262.3 485.9L262 481.9L262.7 478.5L261.6 476L262.7 471.1M281.7 772.5L277.6 776.9L274.3 780.9L278.6 785.3L284.1 786.8L289.1 783.3L286.3 780.4L282.6 775.9L281.7 772.5M298.3 766.1L302.7 766.6L305.3 768L301.6 771L298.3 769.5L298.3 766.1M348.6 779.4L352.9 781.8M581.9 754.7L585.2 756.2L583.5 758.2L581.9 754.7M296.6 460.2L298.3 460.2L298.3 463.2L296.6 463.2M502.2 340.3L504.8 338.9L507.2 337.4L505.9 340.3L503.7 342.3L502.2 340.3M482.9 337.9L486.2 338.4L489.1 339.4L486.2 340.3L482.9 339.4L482.9 337.9M458.7 325.5L462.2 325.1L465.7 324.6L465.2 327.6L464.6 332L461.1 329.5L458.7 325.5M449.5 311.2L452.6 310.3L452.4 314.1L452.8 319.1L450.8 320.6L449.7 316.7L449.5 311.2M450.4 303.3L452.4 300.9L452.4 307.8L450.8 308.3L450.4 303.3M436.8 317.7L438.8 316.2L438.6 318.6L436.8 317.7M392.3 372.4L395.5 373.4L397.7 374.9L401 371.9M378.1 439L380.3 438L381.3 434.1M369.3 323.1L372.6 322.1L375.9 326.5M548.3 450.8L550.7 451.3M552.4 616.6L557.5 612.6M526.2 570.7L528.6 573.2M517.5 541.6L517.9 544.6M750.6 293.5L755 288.5L758.6 286.5L760.4 283.6L762.5 280.7L765.9 276.2L767.9 271.1L771.4 266.4M821.6 161.8L824.9 160.3M38.3 160.3L42.7 161.8M38.3 192.8L42.7 189.9L46.3 192.9L48.1 194.8L53.6 195.8L56.2 192.5L58 189.4L60.1 186.4L54.7 182.5L50.9 181.5L48.1 180L44.7 177L42.7 175.1L38.3 172.6M730.9 141.5L736.2 141.4L741.9 143L746.1 142.8L750.6 141.5L755.3 141.8L759.4 142L754.1 140L748.4 138.1L741.2 137.8L735.3 137.1L730.9 141.5M540.9 115.9L546.1 117.1L551.8 117.4L558 115.8L562.7 114.4L558.5 113.6L554 111.9L547.3 113.4L540.9 115.9M56.9 200.7L62.3 201.2L61.2 199.3M94 230.8L98.4 229.4L98.4 225.9M141 246.6L143.6 251.6L144.9 255.5M290.7 267.3L296.1 270.3M291.3 282.6L295 284.1M269.9 312.7L274.3 310.7M38.3 898.8L44.2 899.7L49.7 899.6L55.3 899.8L60.1 899.7L65.9 899.4L70.7 899.5L75.8 898.9L82 898.8L88 896.7L92.9 893.8L98.6 891.7L103.8 890.4L109.2 887.8L114.8 885.4L120.5 884L125.7 883L131.5 882.5L136.6 880.5L141.5 880.3L147.6 879.5L153.5 878.1L158.5 877.1L163.9 877.9L169.4 877.1L174 877.6L180.3 878L185.2 879.8L191.2 880.5L197.5 881.3L202.2 882L204.7 878.9L208.7 875.6L213.1 870.6L218.6 871.8L224 872.1L229.5 872.4L234.9 872.1L241 872.7L245.9 873.1L251.2 873.9L256.8 873.1L260.6 872.2L265.5 870.6L269.7 869.9L274.3 868.2L275.8 865.3L278.6 860.8L280.6 855L283 850.9L284.3 845.8L286.3 841L287.6 837.7L290.7 834.6L293.3 832.5L296.1 829.7L299.1 827.3L302.7 825.8L307.1 826.2L303.8 831.2L300.6 834.1L298.3 836.1L297.5 839.9L295 843.5L292.9 847.8L291.8 850.9L293.8 854.1L296.1 858.3L296.6 863.7L298.3 868.2L298.9 873.4L298.3 878L296.1 881.9L293.9 885.4L288 888.7L283 890.4L277.7 892.3L273.4 894.2L267.7 895.3L264.4 896.2L261.2 897.8L267.1 897.9L273.4 899.2L278.6 900.2L284.7 899.2L289.4 898.6L294.9 897.8L300.5 897.8L305.1 898.2L311 897.3L316.5 897.7L322.4 897.8L328 898L334.3 897.5L339.8 897.8L347.2 897.2L352.9 895.3L356.5 893.4L361.7 890.4L366.8 889.7L370.4 887.9L373.1 884.8L377 880.5L382.7 877.2L387.9 875.6L391.4 873.9L396.6 870.6L401.3 867.7L405.4 865.7L407.9 863.3L411.9 862.3L415.8 862L420.7 860.8L425.9 858.4L431.6 857.3L437.8 858.3L442.5 858.3L447.4 858.5L453.5 857.3L459.1 857.1L464.4 855.8L470.1 857.3L475.3 857.3L481.3 858.4L486.2 858.3L491.1 856.9L497.2 854.9L500.5 853.8L503.7 851.9L506.9 854.6L510.3 855.8L516.8 855.8L520.2 851.7L523.4 848.4L527.3 846.6L532.1 846L536.5 843.9L540.9 843.5L544.1 840.4L547.4 838.6L550.7 839.8L554 841L558.4 843.7L562.7 845L566.2 846.1L571.4 846L575.8 846.8L580.2 847.5L584.5 850.9L588.9 855.8L595.5 855.8L599.1 854L602 850.9L606.2 847.8L610.8 845L616 842.3L619.5 841L624.1 841.5L628.2 841.5L632.9 841L639.2 840.1L645 840.1L650.1 838.6L655.3 840.2L661 840.1L666.5 839.3L671.9 838.6L678.1 839L682.9 841L688.7 841.8L693.8 842L699 841.7L704.7 840.1L709.9 839.3L715.6 838.6L721.2 839.1L726.6 838.6L731.5 840.2L737.5 842L742.8 842.9L748.4 843.5L754.5 846.3L759.4 849.9L765.4 851.5L770.3 853.4L775.7 855.9L781.2 859.3L786.7 861.6L792.1 862.3L797.9 864.5L803 865.7L803.8 869.1L805.2 873.1L801.6 878.2L798.7 883L794.6 888.4L789.9 892.8L794.3 897.8L797.9 898.2L803 897.8L809.2 897.9L814 897.8L818.6 897.9L824.9 898.8"/></g></g>
<rect x="56.4" y="1881.5" width="750.6" height="39.7" fill="#fff"/>
<rect x="56.4" y="1881.5" width="68.5" height="39.7" fill="#000000"/>
<rect x="124.6" y="1881.5" width="68.5" height="39.7" fill="#00008c"/>
<rect x="192.9" y="1881.5" width="68.5" height="39.7" fill="#1a00ff"/>
<rect x="261.1" y="1881.5" width="68.5" height="39.7" fill="#5a0070"/>
<rect x="329.3" y="1881.5" width="68.5" height="39.7" fill="#d80000"/>
<rect x="397.6" y="1881.5" width="68.5" height="39.7" fill="#ff3000"/>
<rect x="465.8" y="1881.5" width="68.5" height="39.7" fill="#ffa000"/>
<rect x="534.1" y="1881.5" width="68.5" height="39.7" fill="#b4ac00"/>
<rect x="602.3" y="1881.5" width="68.5" height="39.7" fill="#ffff20"/>
<rect x="670.5" y="1881.5" width="68.5" height="39.7" fill="#ffffa0"/>
<rect x="738.8" y="1881.5" width="68.5" height="39.7" fill="#ffffff"/>
<rect x="56.4" y="1881.5" width="750.6" height="39.7" fill="none" stroke="#000" stroke-width="2"/>
<rect x="32.4" y="1055.5" width="800.9" height="904.2" fill="none" stroke="#000" stroke-width="2"/>
<rect x="203.4" y="1056.5" width="486.6" height="123.5" fill="#fff"/>
<path d="M32.4 1055.5H833.3" stroke="#000" stroke-width="2" fill="none"/>
<text x="268.5" y="1142.3" style="font-family:'Liberation Sans',sans-serif;font-size:69px" textLength="354" lengthAdjust="spacingAndGlyphs" fill="#000">NmF2 Truth</text>
<text transform="translate(104.5 1990) rotate(45) scale(1.0 1.12)" style="font-family:'DejaVu Sans','Liberation Sans',sans-serif;font-weight:200;font-size:40px" text-anchor="middle" dy="0.36em" fill="#444444" stroke="#444444" stroke-width="0.7">0</text>
<text transform="translate(172.8 1990) rotate(45) scale(1.0 1.12)" style="font-family:'DejaVu Sans','Liberation Sans',sans-serif;font-weight:200;font-size:40px" text-anchor="middle" dy="0.36em" fill="#444444" stroke="#444444" stroke-width="0.7">0</text>
<text transform="translate(241 1990) rotate(45) scale(1.0 1.12)" style="font-family:'DejaVu Sans','Liberation Sans',sans-serif;font-weight:200;font-size:40px" text-anchor="middle" dy="0.36em" fill="#444444" stroke="#444444" stroke-width="0.7">0</text>
<text transform="translate(309.2 1990) rotate(45) scale(1.0 1.12)" style="font-family:'DejaVu Sans','Liberation Sans',sans-serif;font-weight:200;font-size:40px" text-anchor="middle" dy="0.36em" fill="#444444" stroke="#444444" stroke-width="0.7">1</text>
<text transform="translate(377.5 1990) rotate(45) scale(1.0 1.12)" style="font-family:'DejaVu Sans','Liberation Sans',sans-serif;font-weight:200;font-size:40px" text-anchor="middle" dy="0.36em" fill="#444444" stroke="#444444" stroke-width="0.7">1</text>
<text transform="translate(445.7 1990) rotate(45) scale(1.0 1.12)" style="font-family:'DejaVu Sans','Liberation Sans',sans-serif;font-weight:200;font-size:40px" text-anchor="middle" dy="0.36em" fill="#444444" stroke="#444444" stroke-width="0.7">2</text>
<text transform="translate(513.9 1990) rotate(45) scale(1.0 1.12)" style="font-family:'DejaVu Sans','Liberation Sans',sans-serif;font-weight:200;font-size:40px" text-anchor="middle" dy="0.36em" fill="#444444" stroke="#444444" stroke-width="0.7">2</text>
<text transform="translate(582.2 1990) rotate(45) scale(1.0 1.12)" style="font-family:'DejaVu Sans','Liberation Sans',sans-serif;font-weight:200;font-size:40px" text-anchor="middle" dy="0.36em" fill="#444444" stroke="#444444" stroke-width="0.7">2</text>
<text transform="translate(650.4 1990) rotate(45) scale(1.0 1.12)" style="font-family:'DejaVu Sans','Liberation Sans',sans-serif;font-weight:200;font-size:40px" text-anchor="middle" dy="0.36em" fill="#444444" stroke="#444444" stroke-width="0.7">3</text>
<text transform="translate(718.6 1990) rotate(45) scale(1.0 1.12)" style="font-family:'DejaVu Sans','Liberation Sans',sans-serif;font-weight:200;font-size:40px" text-anchor="middle" dy="0.36em" fill="#444444" stroke="#444444" stroke-width="0.7">3</text>
<text transform="translate(786.9 1990) rotate(45) scale(1.0 1.12)" style="font-family:'DejaVu Sans','Liberation Sans',sans-serif;font-weight:200;font-size:40px" text-anchor="middle" dy="0.36em" fill="#444444" stroke="#444444" stroke-width="0.7">4</text>
</g>
<g id="panel4">
<clipPath id="clip4"><rect x="886" y="1192" width="768.3" height="631"/></clipPath>
<g clip-path="url(#clip4)">
<rect x="886" y="1192" width="768.3" height="631" fill="#30f0ff"/>
<clipPath id="q4TL"><rect x="886" y="1192" width="384.3" height="317.3"/></clipPath>
<g clip-path="url(#q4TL)">
<rect x="886" y="1192" width="384.3" height="317.3" fill="#70ffff"/>
<path d="M874.9 1276.6C874.9 1276.6 879.9 1280.9 886 1286C892.1 1291.2 898.2 1297.2 904.3 1301.6C910.3 1306 914.9 1309.5 922.5 1312.5C930.1 1315.6 940.8 1318 949.9 1319.8C959 1321.7 969.7 1322.3 977.3 1323.5C984.9 1324.7 990.1 1324.7 995.6 1327.1C1001 1329.6 1005.3 1333.8 1010.2 1338.1C1015 1342.4 1020.5 1347.2 1024.8 1352.7C1029 1358.2 1033.3 1364.3 1035.7 1371C1038.2 1377.7 1039.1 1386.2 1039.4 1392.9C1039.7 1399.6 1039.4 1405.4 1037.6 1411.1C1035.7 1416.9 1033 1423.3 1028.4 1427.6C1023.9 1431.8 1017.2 1434.3 1010.2 1436.7C1003.2 1439.1 995 1441.6 986.4 1442.2C977.9 1442.8 966.7 1442.2 959 1440.4C951.4 1438.5 946.9 1435.5 940.8 1431.2C934.7 1427 928 1420.6 922.5 1414.8C917 1409 912.2 1402.6 907.9 1396.5C903.7 1390.4 900.6 1384.5 897 1378.3C893.3 1372 889.7 1365.5 886 1359.1C882.3 1352.7 878.7 1346.4 878.7 1346.4L874.9 1276.6Z" fill="#30f0ff"/>
<path d="M1158 1178.4C1158 1178.4 1155.1 1185.9 1152.6 1192C1150.2 1198.1 1148.1 1203.3 1145.3 1210.3C1142.6 1217.3 1139.5 1225.5 1136.2 1234C1132.8 1242.5 1128.6 1252.6 1125.2 1261.4C1121.9 1270.2 1118.8 1278.4 1116.1 1287C1113.4 1295.5 1110.9 1304 1108.8 1312.5C1106.7 1321 1104.5 1329.3 1103.3 1338.1C1102.1 1346.9 1101.5 1357 1101.5 1365.5C1101.5 1374 1101.8 1382.2 1103.3 1389.2C1104.8 1396.2 1107.6 1402.6 1110.6 1407.5C1113.7 1412.4 1117.9 1416.3 1121.6 1418.4C1125.2 1420.6 1128.6 1421.2 1132.5 1420.3C1136.5 1419.4 1140.7 1416.6 1145.3 1413C1149.9 1409.3 1154.4 1403.2 1159.9 1398.4C1165.4 1393.5 1172.1 1388.3 1178.2 1383.7C1184.3 1379.2 1190.4 1374.6 1196.4 1371C1202.5 1367.3 1208.6 1364.3 1214.7 1361.8C1220.8 1359.4 1226.9 1357.6 1233 1356.4C1239.1 1355.1 1245.1 1354.6 1251.2 1354.2C1257.4 1353.7 1263.8 1353.5 1270 1353.6C1276.3 1353.7 1284.6 1353.2 1284.6 1353.2L1306 1155.5L1158 1178.4Z" fill="#80ffd0"/>
<path d="M1284.4 1264.1C1284.4 1264.1 1276.4 1266 1270 1266.9C1263.7 1267.7 1257.4 1268.7 1251.2 1270.5C1245.1 1272.4 1239.1 1274.8 1233 1277.8C1226.9 1280.9 1220.8 1284.5 1214.7 1288.8C1208.6 1293 1201.6 1298.5 1196.4 1303.4C1191.3 1308.3 1187.9 1313.1 1183.7 1318C1179.4 1322.9 1176.4 1330.8 1176.4 1330.8L1180 1350C1180 1350 1190.4 1345.1 1196.4 1343.6C1202.5 1342 1208.6 1340.2 1214.7 1339C1220.8 1337.8 1226.9 1337 1233 1336.3C1239.1 1335.6 1245.1 1335.2 1251.2 1334.8C1257.4 1334.4 1263.8 1333.5 1270 1334.1C1276.3 1334.6 1284.6 1333.5 1284.6 1333.5L1284.4 1264.1Z" fill="#c8f000"/>
<path d="M876.6 1404.5C876.6 1404.5 881.1 1409.9 886 1415.7C890.9 1421.5 895.1 1427.1 900.6 1433.1C906.1 1439 912.2 1445.8 918.9 1451.3C925.6 1456.8 933.5 1462.1 940.8 1465.9C948.1 1469.7 955.1 1472.9 962.7 1474.1C970.3 1475.4 977.9 1474 986.4 1473.2C995 1472.5 1004.7 1469.6 1013.8 1469.6C1023 1469.6 1033.6 1471.4 1041.2 1473.2C1048.8 1475.1 1055.2 1477.2 1059.5 1480.5C1063.7 1483.9 1065.7 1488.6 1066.8 1493.3C1067.9 1498.1 1067.6 1504.1 1065.9 1509C1064.2 1514 1065 1523.6 1065 1523.6L849.5 1546.3L876.6 1404.5Z" fill="#80ffd0"/>
<path d="M872.2 1483.9C872.2 1483.9 879.9 1486.6 886 1488.7C892.1 1490.9 896.7 1492.6 904.3 1495.1C911.9 1497.7 924 1502 931.7 1504.3C939.3 1506.6 943.9 1507.1 949.9 1509C955.9 1510.9 964.1 1516.3 964.1 1516.3L849.5 1546.3L872.2 1483.9Z" fill="#c8f000"/>
<path d="M1284.6 1365.9C1284.6 1365.9 1276.3 1367.1 1270 1367.3C1263.7 1367.5 1257.4 1368.2 1251.2 1369.1C1245.1 1370 1239.1 1371 1233 1372.8C1226.9 1374.6 1220.8 1377 1214.7 1380.1C1208.6 1383.1 1202.5 1386.8 1196.4 1391.1C1190.4 1395.3 1184.3 1399.9 1178.2 1405.7C1172.1 1411.4 1165.4 1418.7 1159.9 1425.7C1154.4 1432.7 1149.9 1440.1 1145.3 1447.7C1140.7 1455.3 1136.5 1463.8 1132.5 1471.4C1128.6 1479 1124.9 1487 1121.6 1493.3C1118.2 1499.6 1114.7 1503.4 1112.4 1509C1110.2 1514.7 1105.1 1521.6 1105.1 1521.6L1306 1546.3L1284.6 1365.9Z" fill="#30f0ff"/>
<path d="M1284.6 1379.3C1284.6 1379.3 1276.3 1380.3 1270 1380.5C1263.8 1380.6 1257.4 1381.1 1251.2 1381.9C1245.1 1382.8 1239.1 1383.4 1233 1385.6C1226.9 1387.7 1220.8 1390.7 1214.7 1394.7C1208.6 1398.7 1202.5 1403.8 1196.4 1409.3C1190.4 1414.8 1183.7 1421.2 1178.2 1427.6C1172.7 1434 1167.8 1440.7 1163.6 1447.7C1159.3 1454.7 1156.3 1462.3 1152.6 1469.6C1149 1476.9 1147.1 1491.5 1147.1 1491.5L1165.4 1489.7C1165.4 1489.7 1173.3 1478.7 1178.2 1473.2C1183.1 1467.7 1187.3 1462 1192.8 1456.8C1198.3 1451.6 1205 1446.1 1211.1 1442.2C1217.1 1438.2 1222.6 1435.5 1229.3 1433.1C1236 1430.6 1244.4 1428.8 1251.2 1427.6C1258 1426.4 1263.7 1425.9 1270 1425.7C1276.3 1425.5 1284.6 1424.3 1284.6 1424.3L1284.6 1379.3Z" fill="#0090ff"/>
<path d="M1284.6 1391.3C1284.6 1391.3 1276.3 1391.9 1270 1392C1263.8 1392 1257.4 1392.1 1251.2 1392.9C1245.1 1393.6 1238.4 1394.7 1233 1396.5C1227.5 1398.4 1223.2 1401.4 1218.4 1403.8C1213.5 1406.3 1208.6 1408.7 1203.8 1411.1C1198.9 1413.6 1189.1 1427.6 1189.1 1427.6L1200.1 1434.9C1200.1 1434.9 1208.6 1430.6 1214.7 1427.6C1220.8 1424.5 1226.9 1420.5 1233 1418.4C1239.1 1416.4 1245.1 1415.9 1251.2 1415.2C1257.4 1414.5 1263.8 1414.3 1270 1414.2C1276.3 1414.2 1284.6 1413.5 1284.6 1413.5L1284.6 1391.3Z" fill="#4420ff"/>
<path d="M1284.6 1433.5C1284.6 1433.5 1276.3 1434.8 1270 1434.9C1263.7 1435 1257.4 1435.5 1251.2 1436.7C1245.1 1437.9 1239.1 1439.4 1233 1442.2C1226.9 1444.9 1220.2 1448.6 1214.7 1453.1C1209.2 1457.7 1203.4 1464.4 1200.1 1469.6C1196.7 1474.7 1194.6 1479.6 1194.6 1484.2C1194.6 1488.7 1196.7 1494.2 1200.1 1497C1203.4 1499.7 1209.2 1500 1214.7 1500.6C1220.2 1501.2 1226.9 1500.8 1233 1500.6C1239.1 1500.5 1245.1 1500 1251.2 1499.7C1257.4 1499.4 1263.8 1498.1 1270 1498.8C1276.3 1499.5 1284.6 1498.1 1284.6 1498.1L1284.6 1433.5Z" fill="#70ffff"/>
<path d="M1284.2 1441.5C1284.2 1441.5 1276.5 1444.4 1270 1444.9C1263.6 1445.5 1256.5 1447.5 1251.2 1449.5C1246 1451.5 1242.1 1453.7 1238.4 1456.8C1234.8 1459.8 1230.2 1464.7 1229.3 1467.7C1228.4 1470.8 1229.3 1472.9 1233 1475.1C1236.6 1477.2 1245.1 1479 1251.2 1480.5C1257.4 1482.1 1263.9 1482.6 1270 1484.2C1276.2 1485.8 1284.4 1487 1284.4 1487L1284.2 1441.5Z" fill="#80ffd0"/>
<path d="M1277.5 1434.7C1277.5 1434.7 1271.4 1446.5 1270 1447.3C1268.7 1448.1 1268.4 1449.1 1267.7 1451.3C1267 1453.5 1265.4 1457.7 1265.8 1460.4C1266.2 1463.2 1267.7 1466.2 1270 1467.7C1272.4 1469.3 1277.3 1480.4 1277.3 1480.4L1277.5 1434.7Z" fill="#c8f000"/>
</g>
<clipPath id="q4TR"><rect x="1270" y="1192" width="385" height="317.3"/></clipPath>
<g clip-path="url(#q4TR)">
<rect x="1270" y="1192" width="385" height="317.3" fill="#80ffd0"/>
<path d="M1394.8 1181.7C1394.8 1181.7 1398.4 1185.3 1405.1 1192C1411.8 1198.7 1418.8 1206 1425.2 1212.1C1431.6 1218.2 1437.4 1223 1443.5 1228.5C1449.6 1234 1455.7 1240.4 1461.7 1245C1467.8 1249.5 1473.9 1252.3 1480 1255.9C1486.1 1259.6 1492.2 1262.9 1498.3 1266.9C1504.4 1270.8 1510.4 1275.4 1516.5 1279.7C1522.6 1283.9 1528.7 1288.2 1534.8 1292.4C1540.9 1296.7 1547 1301.6 1553.1 1305.2C1559.1 1308.9 1565.2 1311.3 1571.3 1314.4C1577.4 1317.4 1583.5 1320.1 1589.6 1323.5C1595.7 1326.8 1601.8 1330.2 1607.8 1334.4C1613.9 1338.7 1620 1343.6 1626.1 1349C1632.2 1354.5 1639.7 1362.1 1644.4 1367.3C1649 1372.5 1650.8 1375.8 1654 1380.1C1657.3 1384.4 1662.9 1391.7 1662.9 1391.7L1690 1155.5L1394.8 1181.7Z" fill="#70ffff"/>
<path d="M1668.6 1265C1668.6 1265 1660.3 1265 1654 1265C1647.8 1265 1641.4 1264.7 1635.2 1265C1629.1 1265.4 1621.5 1265.4 1617 1266.9C1612.4 1268.4 1608.8 1270.8 1607.8 1274.2C1606.9 1277.5 1609.1 1282.4 1611.5 1287C1613.9 1291.5 1618.5 1296.7 1622.4 1301.6C1626.4 1306.4 1631.3 1311.9 1635.2 1316.2C1639.2 1320.4 1643.1 1324.4 1646.2 1327.1C1649.3 1329.9 1651.4 1330.8 1654 1332.6C1656.7 1334.4 1666 1341 1666 1341L1668.6 1265Z" fill="#30f0ff"/>
<path d="M1255.4 1352.9C1255.4 1352.9 1263.9 1353.6 1270 1353.6C1276.1 1353.7 1280.7 1353.8 1288.3 1354.5C1295.9 1355.3 1306.5 1356.4 1315.7 1358.2C1324.8 1360 1333.9 1362.4 1343 1365.5C1352.2 1368.5 1361.3 1372.5 1370.4 1376.4C1379.6 1380.4 1388.7 1385 1397.8 1389.2C1407 1393.5 1416.1 1398.1 1425.2 1402C1434.4 1406 1443.5 1409.6 1452.6 1413C1461.7 1416.3 1470.9 1419.1 1480 1422.1C1489.1 1425.1 1498.3 1428.5 1507.4 1431.2C1516.5 1434 1525.7 1436.4 1534.8 1438.5C1543.9 1440.7 1554.4 1442.2 1562.2 1444C1569.9 1445.8 1574.8 1445.7 1581.4 1449.5C1587.9 1453.3 1596.4 1459.6 1601.3 1467C1606.1 1474.5 1607.7 1487.2 1610.4 1494.2C1613.1 1501.2 1614.9 1504.2 1617.5 1509C1620.1 1513.8 1623.9 1522.2 1623.9 1522.2L1400.4 1517.1L1403.9 1488.7C1403.9 1488.7 1403.9 1486.9 1397.8 1483.3C1391.7 1479.6 1387.2 1476.1 1379.6 1472.3C1372 1468.5 1361.3 1463.8 1352.2 1460.4C1343 1457.1 1333.9 1454.5 1324.8 1452.2C1315.7 1449.9 1306.5 1448 1297.4 1446.7C1288.3 1445.5 1279.1 1444.1 1270 1444.9C1260.9 1445.7 1255.4 1444 1255.4 1444L1255.4 1352.9Z" fill="#70ffff"/>
<path d="M1255.4 1366.8C1255.4 1366.8 1260.9 1367.6 1270 1367.3C1279.1 1367 1288.3 1367.3 1297.4 1368.2C1306.5 1369.1 1315.7 1370.5 1324.8 1372.8C1333.9 1375.1 1343 1378.6 1352.2 1381.9C1361.3 1385.3 1370.4 1389.2 1379.6 1392.9C1388.7 1396.5 1397.8 1400.5 1407 1403.8C1416.1 1407.2 1425.2 1409.6 1434.4 1413C1443.5 1416.3 1452.6 1420.3 1461.7 1423.9C1470.9 1427.6 1480 1431.2 1489.1 1434.9C1498.3 1438.5 1508.9 1443.1 1516.5 1445.8C1524.1 1448.6 1529.6 1449.8 1534.8 1451.3C1540 1452.8 1543.4 1452.3 1547.6 1455C1551.7 1457.6 1554.6 1460.2 1559.6 1467C1564.6 1473.9 1573.2 1489.1 1577.7 1496.1C1582.2 1503.1 1583.8 1504.7 1586.8 1509C1589.9 1513.3 1595.2 1521 1595.2 1521L1478.7 1519.1C1478.7 1519.1 1466.7 1516 1468.1 1509C1469.6 1502 1458.2 1498.7 1452.6 1494.2C1447 1489.8 1442 1486.2 1434.4 1482.4C1426.7 1478.6 1416.1 1475.1 1407 1471.4C1397.8 1467.7 1388.7 1463.9 1379.6 1460.4C1370.4 1456.9 1361.3 1453.4 1352.2 1450.4C1343 1447.4 1333.9 1444.5 1324.8 1442.2C1315.7 1439.9 1306.5 1437.9 1297.4 1436.7C1288.3 1435.5 1279.1 1434.7 1270 1434.9C1260.9 1435 1255.4 1433.9 1255.4 1433.9L1255.4 1366.8Z" fill="#30f0ff"/>
<path d="M1255.4 1380.2C1255.4 1380.2 1260.9 1380.7 1270 1380.5C1279.1 1380.2 1288.3 1380.2 1297.4 1381C1306.5 1381.9 1315.7 1383.3 1324.8 1385.6C1333.9 1387.9 1343 1391.4 1352.2 1394.7C1361.3 1398.1 1370.4 1401.7 1379.6 1405.7C1388.7 1409.6 1397.8 1414.2 1407 1418.4C1416.1 1422.7 1426.7 1427.3 1434.4 1431.2C1442 1435.2 1446.5 1438.5 1452.6 1442.2C1458.7 1445.8 1467.2 1449.5 1467.2 1449.5C1467.2 1449.5 1452.6 1452.2 1443.5 1452.2C1434.4 1452.2 1425.2 1452.8 1416.1 1452.2C1407 1451.6 1397.8 1450.2 1388.7 1448.6C1379.6 1446.9 1368.9 1444.2 1361.3 1442.2C1353.7 1440.2 1349.1 1438.5 1343 1436.7C1337 1434.9 1332.4 1432.9 1324.8 1431.2C1317.2 1429.6 1306.5 1427.6 1297.4 1426.7C1288.3 1425.7 1279.1 1425.5 1270 1425.7C1260.9 1426 1255.4 1425.3 1255.4 1425.3L1255.4 1380.2Z" fill="#0090ff"/>
<path d="M1255.4 1391.5C1255.4 1391.5 1260.9 1392 1270 1392C1279.1 1391.9 1288.3 1391.8 1297.4 1392.9C1306.5 1393.9 1315.7 1395.9 1324.8 1398.4C1333.9 1400.8 1343.7 1403.8 1352.2 1407.5C1360.7 1411.1 1368 1416 1375.9 1420.3C1383.8 1424.5 1399.7 1429.4 1399.7 1429.4C1399.7 1429.4 1394.8 1432.7 1388.7 1433.1C1382.6 1433.4 1378 1434.9 1370.4 1434C1362.8 1433.1 1350.7 1429.9 1343 1427.6C1335.4 1425.3 1332.4 1422.3 1324.8 1420.3C1317.2 1418.2 1306.5 1416.2 1297.4 1415.2C1288.3 1414.2 1279.1 1414.2 1270 1414.2C1260.9 1414.3 1255.4 1413.8 1255.4 1413.8L1255.4 1391.5Z" fill="#4420ff"/>
<path d="M1493.7 1467.4L1507.4 1466.8L1507.4 1468.7L1493.7 1469.2Z" fill="#0090ff"/>
<path d="M1256.1 1479.7C1256.1 1479.7 1257.6 1481 1270 1484.2C1282.4 1487.4 1294.3 1492.6 1306.5 1496.1C1318.7 1499.5 1333.9 1502.8 1343 1505C1352.2 1507.2 1355.2 1507.7 1361.3 1509C1367.4 1510.4 1375.6 1516.3 1375.6 1516.3L1233.5 1546.3L1256.1 1479.7Z" fill="#70ffff"/>
<path d="M1255.9 1495C1255.9 1495 1257.5 1497.4 1270 1498.8C1282.5 1500.1 1296.5 1507 1306.5 1508.7C1316.6 1510.4 1322.8 1506.4 1330.3 1509C1337.7 1511.7 1344.9 1516.3 1344.9 1516.3L1233.5 1546.3L1255.9 1495Z" fill="#30f0ff"/>
<path d="M1255.4 1267.8C1255.4 1267.8 1260.9 1268.1 1270 1266.9C1279.1 1265.7 1288.3 1265 1297.4 1265C1306.5 1265 1315.7 1265.7 1324.8 1266.9C1333.9 1268.1 1343 1270.8 1352.2 1272.4C1361.3 1273.9 1370.4 1275.1 1379.6 1276C1388.7 1276.9 1397.8 1276.9 1407 1277.8C1416.1 1278.7 1425.2 1279.4 1434.4 1281.5C1443.5 1283.6 1452.6 1287.6 1461.7 1290.6C1470.9 1293.7 1480 1296.4 1489.1 1299.7C1498.3 1303.1 1507.4 1307 1516.5 1310.7C1525.7 1314.4 1534.8 1317.7 1543.9 1321.7C1553.1 1325.6 1562.2 1330.2 1571.3 1334.4C1580.4 1338.7 1591.1 1343 1598.7 1347.2C1606.3 1351.5 1611.5 1355.4 1617 1360C1622.4 1364.6 1627.3 1369.7 1631.6 1374.6C1635.8 1379.5 1639.2 1383.7 1642.5 1389.2C1645.9 1394.7 1649.7 1402.6 1651.7 1407.5C1653.6 1412.4 1653.2 1414.8 1654 1418.4C1654.8 1422.1 1661.3 1432.7 1661.3 1432.7L1660.8 1443.1L1635.2 1445.8C1635.2 1445.8 1626.1 1441 1617 1438.5C1607.8 1436.1 1598.7 1433.4 1589.6 1431.2C1580.4 1429.1 1571.3 1427.6 1562.2 1425.7C1553.1 1423.9 1543.9 1422.4 1534.8 1420.3C1525.7 1418.1 1516.5 1415.7 1507.4 1413C1498.3 1410.2 1489.1 1406.9 1480 1403.8C1470.9 1400.8 1461.7 1398.1 1452.6 1394.7C1443.5 1391.4 1434.4 1387.4 1425.2 1383.7C1416.1 1380.1 1405.4 1376.1 1397.8 1372.8C1390.2 1369.4 1385.7 1366.5 1379.6 1363.7C1373.5 1360.8 1366.8 1357 1361.3 1355.4C1355.8 1353.9 1351.3 1355 1346.7 1354.5C1342.1 1354.1 1339.1 1353.9 1333.9 1352.7C1328.7 1351.5 1321.7 1349.4 1315.7 1347.2C1309.6 1345.1 1305 1342.1 1297.4 1339.9C1289.8 1337.7 1279.3 1334.9 1270 1334.1C1260.7 1333.3 1255.7 1331 1255.7 1331L1255.4 1267.8Z" fill="#c8f000"/>
<path d="M1332.1 1308.9C1334.2 1306.9 1344.3 1306.6 1352.2 1306.1C1360.1 1305.7 1370.4 1306 1379.6 1306.1C1388.7 1306.3 1397.8 1306.3 1407 1307C1416.1 1307.8 1425.2 1308.9 1434.4 1310.7C1443.5 1312.5 1452.6 1315 1461.7 1318C1470.9 1321 1480 1325 1489.1 1329C1498.3 1332.9 1507.4 1337.8 1516.5 1341.7C1525.7 1345.7 1534.8 1348.7 1543.9 1352.7C1553.1 1356.7 1563.7 1361.5 1571.3 1365.5C1578.9 1369.4 1584.4 1372.8 1589.6 1376.4C1594.8 1380.1 1599.8 1384.1 1602.4 1387.4C1604.9 1390.7 1605.1 1392.9 1605.1 1396.5C1605.1 1400.2 1604.9 1406.7 1602.4 1409.3C1599.8 1411.9 1596.3 1411.4 1589.6 1412.1C1582.9 1412.7 1571.3 1413.4 1562.2 1413C1553.1 1412.5 1543.9 1410.8 1534.8 1409.3C1525.7 1407.8 1516.5 1406.3 1507.4 1403.8C1498.3 1401.4 1489.1 1398.1 1480 1394.7C1470.9 1391.4 1461.7 1387.4 1452.6 1383.7C1443.5 1380.1 1434.4 1376.7 1425.2 1372.8C1416.1 1368.8 1406.7 1364.6 1397.8 1360C1389 1355.4 1379.9 1350.6 1372.3 1345.4C1364.7 1340.2 1357.7 1333.5 1352.2 1329C1346.7 1324.4 1342.7 1321.4 1339.4 1318C1336 1314.7 1330 1310.9 1332.1 1308.9Z" fill="#ff8000"/>
<path d="M1421.6 1349C1421.3 1346.6 1427 1343.7 1430.7 1341.7C1434.4 1339.8 1438.3 1337.8 1443.5 1337.2C1448.7 1336.6 1455.7 1337 1461.7 1338.1C1467.8 1339.2 1473.9 1341.4 1480 1343.6C1486.1 1345.7 1492.2 1348.1 1498.3 1350.9C1504.4 1353.6 1511.1 1357.3 1516.5 1360C1522 1362.7 1527.2 1364.9 1531.1 1367.3C1535.1 1369.7 1537.2 1372.2 1540.3 1374.6C1543.3 1377 1545.7 1390.1 1545.7 1390.1C1545.7 1390.1 1540.9 1392.3 1534.8 1392C1528.7 1391.7 1522.6 1391.8 1516.5 1391.1C1510.4 1390.3 1504.4 1389.2 1498.3 1387.4C1492.2 1385.6 1486.1 1382.5 1480 1380.1C1473.9 1377.7 1467.8 1375.2 1461.7 1372.8C1455.7 1370.4 1448.4 1368.2 1443.5 1365.5C1438.6 1362.7 1436.2 1359.1 1432.5 1356.4C1428.9 1353.6 1421.9 1351.5 1421.6 1349Z" fill="#ff0000"/>
<path d="M1255.4 1447.1C1255.4 1447.1 1262 1451.8 1270 1447.3C1278 1442.8 1288.3 1446.1 1297.4 1447.7C1306.5 1449.2 1315.7 1453.7 1324.8 1456.8C1333.9 1459.8 1346 1468.8 1346 1468.8L1340.7 1482.4C1340.7 1482.4 1324.8 1479 1315.7 1476.9C1306.5 1474.7 1295.9 1472 1288.3 1470.5C1280.7 1469 1275.1 1471.2 1270 1467.7C1264.9 1464.3 1255.6 1465.6 1255.6 1465.6L1255.4 1447.1Z" fill="#c8f000"/>
<path d="M1651.6 1523.2C1651.6 1523.2 1648.5 1511 1648 1509C1647.5 1507.1 1645.5 1506.6 1646.6 1503.2C1647.6 1499.8 1651.5 1493.6 1654 1488.7C1656.5 1483.9 1661.3 1475.8 1661.3 1475.8L1690 1546.3L1651.6 1523.2Z" fill="#c8f000"/>
</g>
<clipPath id="q4BL"><rect x="886" y="1508" width="384.3" height="318"/></clipPath>
<g clip-path="url(#q4BL)">
<rect x="886" y="1508" width="384.3" height="318" fill="#30f0ff"/>
<path d="M1115.7 1493.8C1115.7 1493.8 1115.4 1500.4 1112.4 1508C1109.5 1515.6 1108.8 1523.5 1107 1531.7C1105.1 1540 1103.9 1549.1 1101.5 1557.3C1099.1 1565.5 1094.5 1573.4 1092.4 1581C1090.2 1588.7 1088.7 1595.7 1088.7 1603C1088.7 1610.3 1090.2 1617.6 1092.4 1624.9C1094.5 1632.2 1099.8 1639.8 1101.5 1646.8C1103.2 1653.8 1104.8 1662 1102.4 1666.9C1100 1671.7 1094 1673.6 1086.9 1676C1079.7 1678.4 1068.6 1679.7 1059.5 1681.5C1050.4 1683.3 1041.2 1685.1 1032.1 1687C1023 1688.8 1008.4 1692.4 1008.4 1692.4C1008.4 1692.4 1001.7 1687.6 995.6 1681.5C989.5 1675.4 983.4 1669.3 977.3 1663.2C971.2 1657.1 965.7 1651.4 959 1645C952.4 1638.6 944.7 1631.6 937.1 1624.9C929.5 1618.2 921.9 1612.2 913.4 1604.8C904.9 1597.3 895.1 1588.4 886 1580.1C876.9 1571.9 875.1 1570.4 875.1 1570.4L849.5 1471.5L1115.7 1493.8Z" fill="#70ffff"/>
<path d="M1074.2 1496C1074.2 1496 1067.8 1502.4 1065.9 1508C1064 1513.6 1058.7 1517.1 1055.8 1522.6C1052.9 1528.1 1050.7 1534.2 1048.5 1540.9C1046.4 1547.6 1044.6 1555.5 1043 1562.8C1041.5 1570.1 1041.2 1577.7 1039.4 1584.7C1037.6 1591.7 1035.1 1599.3 1032.1 1604.8C1029 1610.3 1025.7 1614.4 1021.1 1617.6C1016.6 1620.8 1010.5 1624 1004.7 1624C998.9 1624 994 1621.7 986.4 1617.6C978.8 1613.5 968.2 1605.1 959 1599.3C949.9 1593.5 940.8 1588 931.7 1582.9C922.5 1577.7 911.9 1572.5 904.3 1568.3C896.7 1564 892.1 1561 886 1557.3C879.9 1553.7 873.5 1549.8 873.5 1549.8L849.5 1471.5L1074.2 1496Z" fill="#80ffd0"/>
<path d="M874 1527C874 1527 879.9 1531.1 886 1535.4C892.1 1539.7 896.7 1543.6 904.3 1548.2C911.9 1552.7 922.5 1558.2 931.7 1562.8C940.8 1567.3 951.4 1572.4 959 1575.6C966.7 1578.8 971.8 1580.7 977.3 1582C982.8 1583.2 987.4 1584.2 991.9 1582.9C996.5 1581.5 1001.7 1577.1 1004.7 1573.7C1007.7 1570.4 1009.3 1567.3 1010.2 1562.8C1011.1 1558.2 1012 1551.8 1010.2 1546.3C1008.4 1540.9 1003.2 1534.2 999.2 1529.9C995.3 1525.7 992.2 1523.5 986.4 1520.8C980.7 1518 970.6 1515.6 964.5 1513.5C958.4 1511.3 954.9 1509.6 949.9 1508C945 1506.4 936.2 1500.7 936.2 1500.7L849.5 1471.5L874 1527Z" fill="#c8f000"/>
<path d="M877.5 1611.2C877.5 1611.2 883 1618.8 886 1623C889 1627.3 891.8 1631.3 895.1 1635.8C898.5 1640.4 903 1645.9 906.1 1650.4C909.1 1655 913.7 1659.6 913.4 1663.2C913.1 1666.9 908.8 1671.3 904.3 1672.4C899.7 1673.4 892.1 1670.5 886 1669.6C879.9 1668.7 871.6 1667.4 871.6 1667.4L877.5 1611.2Z" fill="#0090ff"/>
<path d="M1283.3 1508.2C1283.3 1508.2 1273.5 1513.7 1270 1514.4C1266.5 1515.1 1265 1517 1260.4 1519C1255.7 1520.9 1247 1523.2 1242.1 1526.3C1237.2 1529.3 1233.7 1533.6 1231.1 1537.2C1228.6 1540.9 1226.3 1544.5 1226.6 1548.2C1226.9 1551.8 1229.5 1556.1 1233 1559.1C1236.5 1562.2 1242.7 1564.5 1247.6 1566.4C1252.4 1568.4 1258.4 1569.9 1262.2 1571C1265.9 1572.1 1267.4 1572.3 1270 1572.8C1272.7 1573.4 1284.3 1576.1 1284.3 1576.1L1283.3 1508.2Z" fill="#0090ff"/>
<path d="M872.7 1753.1C872.7 1753.1 879.9 1756.4 886 1759.1C892.1 1761.8 897.6 1764.1 904.3 1767.3C911 1770.5 920.1 1774.3 926.2 1778.3C932.3 1782.2 937.4 1786.8 940.8 1791.1C944.1 1795.3 946.3 1799.3 946.3 1803.8C946.3 1808.4 942.3 1814.9 940.8 1818.4C939.3 1822 938.3 1822.8 937.1 1825C935.9 1827.2 930 1837.8 930 1837.8L849.5 1862.3L872.7 1753.1Z" fill="#70ffff"/>
<path d="M1200.1 1697.9L1205.6 1707.1L1200.1 1721.7L1194.6 1707.1Z" fill="#70ffff"/>
</g>
<clipPath id="q4BR"><rect x="1270" y="1508" width="385" height="318"/></clipPath>
<g clip-path="url(#q4BR)">
<rect x="1270" y="1508" width="385" height="318" fill="#30f0ff"/>
<path d="M1255.4 1513.7C1255.4 1513.7 1264 1515.6 1270 1514.4C1276 1513.2 1280.7 1513.9 1288.3 1515.3C1295.9 1516.7 1306.5 1519.6 1315.7 1522.6C1324.8 1525.7 1333.9 1530.5 1343 1533.6C1352.2 1536.6 1361.3 1539.2 1370.4 1540.9C1379.6 1542.5 1388.7 1543.3 1397.8 1543.6C1407 1543.9 1416.1 1543.3 1425.2 1542.7C1434.4 1542.1 1443.5 1540.9 1452.6 1540C1461.7 1539 1470.9 1538 1480 1537.2C1489.1 1536.5 1498.3 1536.3 1507.4 1535.4C1516.5 1534.5 1527.2 1532.5 1534.8 1531.7C1542.4 1531 1547 1530.2 1553.1 1530.8C1559.1 1531.4 1565.2 1533.1 1571.3 1535.4C1577.4 1537.7 1583.5 1540.9 1589.6 1544.5C1595.7 1548.2 1601.8 1552.7 1607.8 1557.3C1613.9 1561.9 1620 1566.4 1626.1 1571.9C1632.2 1577.4 1639.7 1585.3 1644.4 1590.2C1649 1595 1650.8 1597.5 1654 1601.1C1657.3 1604.8 1663.7 1612.1 1663.7 1612.1L1665 1669.2C1665 1669.2 1660.3 1665 1654 1659.6C1647.8 1654.1 1641.4 1648.3 1635.2 1643.1C1629.1 1638 1623.1 1633.1 1617 1628.5C1610.9 1624 1604.8 1619.7 1598.7 1615.7C1592.6 1611.8 1586.5 1608.1 1580.4 1604.8C1574.4 1601.4 1568.3 1598.1 1562.2 1595.7C1556.1 1593.2 1550 1591.5 1543.9 1590.2C1537.8 1588.8 1531.7 1588 1525.7 1587.4C1519.6 1586.8 1513.5 1586.4 1507.4 1586.5C1501.3 1586.7 1495.2 1587.1 1489.1 1588.4C1483.1 1589.6 1477 1591.7 1470.9 1593.8C1464.8 1596 1458.7 1598.7 1452.6 1601.1C1446.5 1603.6 1440.4 1606.5 1434.4 1608.4C1428.3 1610.4 1422.2 1612.1 1416.1 1613C1410 1613.9 1403.9 1614.1 1397.8 1613.9C1391.7 1613.8 1385.7 1613.3 1379.6 1612.1C1373.5 1610.9 1367.4 1609 1361.3 1606.6C1355.2 1604.2 1349.1 1600.5 1343 1597.5C1337 1594.4 1330.9 1591.1 1324.8 1588.4C1318.7 1585.6 1312.6 1583 1306.5 1581C1300.4 1579.1 1294.3 1577.9 1288.3 1576.5C1282.2 1575.1 1276.1 1574.1 1270 1572.8C1263.9 1571.5 1255.7 1570 1255.7 1570L1255.4 1513.7Z" fill="#0090ff"/>
<path d="M1300.1 1546.3L1315.7 1542.7L1330.3 1544.5L1335.7 1546.7L1324.8 1550.9L1315.7 1552.7L1304.7 1549.6Z" fill="#4420ff"/>
<path d="M1318.8 1499C1318.8 1499 1325.2 1506.2 1330.3 1508C1335.4 1509.8 1334.8 1515.3 1343 1518C1351.3 1520.8 1367.4 1523.7 1379.6 1524.4C1391.7 1525.2 1405.4 1523.8 1416.1 1522.6C1426.7 1521.4 1434.8 1519.6 1443.5 1517.1C1452.2 1514.7 1466.4 1516.6 1468.1 1508C1469.9 1499.4 1481.8 1500.7 1481.8 1500.7L1318.8 1499Z" fill="#70ffff"/>
<path d="M1578.5 1496C1578.5 1496 1583.8 1503.7 1586.8 1508C1589.8 1512.3 1591.3 1515.6 1595.8 1520.8C1600.3 1526 1607.8 1533.6 1613.9 1539C1619.9 1544.5 1625.2 1548.8 1631.9 1553.7C1638.6 1558.5 1646.7 1563.4 1654 1568.3C1661.4 1573.1 1666.2 1576.3 1666.2 1576.3L1690 1471.5L1578.5 1496Z" fill="#70ffff"/>
<path d="M1610 1495.5C1610 1495.5 1615.8 1504.9 1617.5 1508C1619.2 1511.1 1619.1 1512 1623 1517.1C1626.9 1522.3 1635.9 1533.4 1641.1 1539C1646.2 1544.7 1649.7 1547 1654 1550.9C1658.4 1554.9 1664.8 1560.8 1664.8 1560.8L1690 1471.5L1610 1495.5Z" fill="#80ffd0"/>
<path d="M1648 1500.7L1660.8 1515.3L1690 1471.5L1648 1500.7Z" fill="#c8f000"/>
<path d="M1472.7 1736.3C1471.2 1727.7 1474.5 1717.1 1476.4 1708.9C1478.2 1700.7 1480.6 1693.7 1483.7 1687C1486.7 1680.3 1490.1 1673.6 1494.6 1668.7C1499.2 1663.8 1505.3 1659.6 1511.1 1657.7C1516.8 1655.9 1523.2 1656.8 1529.3 1657.7C1535.4 1658.7 1541.5 1660.5 1547.6 1663.2C1553.7 1666 1559.7 1669.6 1565.8 1674.2C1571.9 1678.7 1578.6 1685.4 1584.1 1690.6C1589.6 1695.8 1593.2 1700.1 1598.7 1705.2C1604.2 1710.4 1610.9 1716.8 1617 1721.7C1623.1 1726.5 1629.1 1730.2 1635.2 1734.4C1641.4 1738.7 1647.8 1743 1654 1747.2C1660.3 1751.5 1666.1 1755.4 1666.1 1755.4L1690 1862.3L1583.2 1833.6C1583.2 1833.6 1574.4 1827.2 1571.3 1825C1568.3 1822.8 1566.1 1821.4 1562.2 1818.4C1558.2 1815.5 1553.1 1811.7 1547.6 1807.5C1542.1 1803.2 1536 1798.1 1529.3 1792.9C1522.6 1787.7 1514.7 1781.9 1507.4 1776.4C1500.1 1771 1491.3 1766.7 1485.5 1760C1479.7 1753.3 1474.2 1744.8 1472.7 1736.3Z" fill="#70ffff"/>
<path d="M1271.8 1663.2C1271.2 1660 1273 1652.4 1275.5 1648.6C1277.9 1644.8 1282.5 1641 1286.4 1640.4C1290.4 1639.8 1297.4 1642.1 1299.2 1645C1301 1647.9 1298.9 1653.8 1297.4 1657.7C1295.9 1661.7 1293.1 1667 1290.1 1668.7C1287 1670.4 1282.2 1668.7 1279.1 1667.8C1276.1 1666.9 1272.4 1666.4 1271.8 1663.2Z" fill="#70ffff"/>
</g>
</g>
<path d="M1654.5 1180V1940" stroke="#e8c4a0" stroke-width="1.3" fill="none"/><path d="M886 1823H1654.3" stroke="#ffb494" stroke-width="1.3" fill="none"/>
<clipPath id="cclip4"><rect x="875.5" y="1063" width="789" height="888"/></clipPath>
<g clip-path="url(#cclip4)"><g transform="translate(838 994)" fill="none" stroke="#000" stroke-width="1.7" stroke-linejoin="round" stroke-linecap="round"><path d="M418.7 336.4L422.7 337.5L427.2 339.9L430.8 335.6L433.8 332.9L438.2 331L443.7 330.7L449.1 331L453.5 329L455.6 331L454.1 334.4L454.1 337.9L454.5 343.8L455.6 347.7L460 350.7L465 353.7L466.6 358.6L470.9 362.5L474.2 362.5L475.3 357.6L475.5 353.2L479.7 350.7L482.9 354.2L486.2 356.6L490.6 358.6L495 360.6L499.3 357.6L502.2 359.1L502.6 365L502.9 369.8L504.8 374.9L505.1 379.1L507 384.7L507.9 390.3L509.2 394.6L509.9 399L512 404.5L512.7 411.4L512.9 416.8L514.4 420.3L515.7 424.2L517.7 429.6L517.9 436.5L521.2 441.5L524 446L525.6 451.3L526 456.3L529.9 461.2L532.6 458.8L536.5 457.8L539.6 456.8L543.5 454.8L542.5 459.4L542.6 463.7L541.5 468.4L540.1 472.7L538.7 478.5L536.8 482.9L536.5 488.3L534.6 494.4L532.1 500.7L529.6 504.5L527.7 508.1L526 512.6L524.5 517.9L521.2 522.9L520.6 528.2L519 532.7L517.4 539L516.8 545.1L517.4 551.9L517.9 557.4L519.4 560.7L520.1 564.8L521 570.7L520.1 578.4L520.3 584.5L518.5 589.4L517.9 594.4L514.3 598.4L512.4 601.8L510.7 606.9L508.1 611.7L509.3 616.3L509.2 621.5L509.4 626.6L508.9 631.4L506.5 635L503.7 638.8L504.1 644.5L503.3 648.7L501.3 654.9L499.3 660.5L496.4 665.8L495.2 671.3L492.8 675.3L490.7 677.6L487.5 680.7L483.4 681.5L479.7 681.7L475.3 684.7L471.8 681.7L470.5 676.2L470.9 670.9L469.2 664L468.7 658.5L466.5 654.1L465.2 648.2L464.4 643.7L463.8 638.5L462.9 631.8L463.3 626L462 620.6L461.1 614.5L458.8 607.7L457.8 601.8L457.3 597.6L457.4 591.9L459.4 585.5L459.3 579.9L461.1 574.7L460.4 568.9L460.8 562.7L460.4 557.4L458.8 552.3L458.7 547.7L458.3 542.6L458.6 539.2L457.4 535.2L454.9 530.5L452.4 525.3L451.9 520.1L450.8 516.5L452.3 512.8L452.4 508.1L453.3 502.4L452.8 495.7L450.2 490.8L446.9 491.3L444.7 491.8L442.9 486.9L441.4 482.4L437.1 482.9L434.2 482.9L429.4 487.3L427.2 489.3L422.9 487.3L418.2 488.5L415.2 491.3L411.9 488.3L409.4 484.5L408 481.9L405.3 475.7L403.2 471.1L401.7 466.1L399.3 461.8L398.8 458.7L396.4 454.8L395.3 451.3L394.9 446.4L393.4 440.5L395.5 434.1L395.1 429.8L396.5 423.6L396.6 419.3L395.1 414.1L394.5 409.4L395.3 402.1L396.6 396.1L398.9 391.3L399.9 384.7L401.5 380.5L403.2 376.4L407.6 370.9L410.2 367.5L409.6 361.8L410.4 357.6L411.4 352.7L413 348.7L416.3 345.3L418.1 340.2L418.7 336.4M539.3 572.2L539.3 578.8L541.1 583.1L541.9 589.5L540.9 594.8L539.8 601.8L538.7 609.2L538.2 615.3L536.5 621.5L535.3 626.2L534.4 631.9L534.3 636.3L529.9 639.3L528.6 634.4L527.1 628.4L526.3 623.2L526.2 619.1L527.9 616.2L528.4 611.7L528.8 607.3L528.5 602.2L527.7 596.9L529.4 593.9L532.1 590.9L534 584.4L536.5 579.6L537.1 575.5L539.3 572.2M419.8 334.9L422 332L427.2 331.5L430.1 327.5L431.6 322.1L430.9 318.1L433.3 311.7L435.5 309.4L438.6 306.3L438.2 299.9L440.3 298.4L443.4 299.4L447.6 297.4L451 294L454.1 298.4L457 302.5L458.3 306.8L462.6 311.7L465.9 315.7L467 320.3L466.6 323.1L465.7 325.5L467.7 324.1L469 320.6L467.9 317.2L468.7 313.2L472 315.2L470.9 312.2L469.6 309L466.6 306.3L463.3 304.3L461.1 297.9L458.5 293.5L458.5 289L461.5 288.1L461.3 291.5L464.8 295L467.4 298.4L471.1 302.9L474 306.8L474 313.2L475.3 317.2L476 320.1L477.7 324.1L477.8 327.2L479 331.5L480.8 332.9L482.3 332.9L481.9 328L484 327L482.9 323.1L481.6 319.1L481.6 313.2L484 314.7L484.9 311.2L488.4 311.7L488.8 315.2L489.5 318.1L490.2 323.1L490.9 327.5L491.3 330.5L493.2 332L496.1 334.4L498.5 331.5L501.5 334.9L505.9 333.9L510.3 331.5L510 337.9L510.2 341.8L509.2 345.8L508.8 349.8L507.9 352.7L506.5 358.6L503.7 359.6L502.6 365L503 370.2L504.8 374.9L507 374.9L508.3 371.7L508.1 367.5L508.5 371.1L508.1 374.9L509.1 380.3L511.4 384.7L512.1 389.5L513.5 393.1L516 398.6L516.8 404.5L516.9 409L517.3 411.9L519.6 416.2L521.2 421.7L522.2 426L524.5 431.6L525.7 438.3L525.6 443.9L526.6 450.4L529.9 449.9L532 448.2L535.4 445.4L539.8 440L543.6 438.3L545.7 436L548.5 430.6L552.4 426.7L554 423.6L556.1 420.3L556.4 415.7L557.9 412.9L560.9 407.7L562.3 402L560.1 396.6L556.1 394.6L554.8 390.7L554.6 383.8L552.4 387.2L551.1 391.2L549.6 393.6L544.8 394.6L544.3 391.3L544.1 386.7L542.6 390.7L542.4 385.9L541.1 382.3L539.2 378.2L538.2 374.9L536.9 371.3L536.5 367.5L538.4 363.5L541.3 365L541.7 368.6L543 372.4L544.6 377.3L547.4 380.8L551.3 382.3L554.6 379.3L556.6 385.7L560.5 387.7L566 388.7L571.4 388.2L576.9 387.7L578.7 392.1L580.6 396.1L581.2 399.5L582.4 403L584 407.2L585.4 409.9L588.9 408.9L590.2 403L590.2 409.2L590.5 413.9L590.7 419.3L591.1 423.3L591.3 428.6L591.8 434.1L591.7 439.5L592.9 443.9L594.4 448.9L596.2 453.9L597.2 458.7L597.7 463.7L598.8 468.6L600.9 473L602.5 468.6L604.7 467.1L605.4 463.4L606 458.7L605.7 453.4L606.8 447.9L606.3 442.3L606.6 437.5L609.7 432.1L611.9 429.1L614 425.5L615.1 421.7L616.9 419L618.4 415.3L621.5 410.4L622.8 406L626.1 405.5L629.3 402L631.5 401L632.6 407.9L634.1 414.3L636.5 417.9L637.4 421.7L637.7 427.9L637.6 434.1L639.8 435.1L643.1 431.1L644.9 432.6L645 437.4L645.1 441.5L645.9 447.7L646.8 453.8L646.9 459.5L647 463.7L647.1 468.5L646.4 472.1L648.6 475.3L649.2 479.5L650.8 485.9L651.8 492.8L652.7 498.2L655.6 503.1L657.7 506.1L659.3 505.6L659.1 501.2L657.7 498.2L657 494.4L657.5 490.8L655.6 486.6L655.1 483.4L652.3 479L650.6 475.3L650.5 471.1L648.6 467.1L649.7 462.4L649.9 456.3L649.4 452.2L650.1 447.4L652.1 446.9L653.6 450.8L656.2 454.8L658 461.2L660.6 461.7L661 465.2L660.8 470.1L664.3 464.7L666.1 461.2L669.5 457.3L670.4 451.3L671 447.2L670.2 441.5L668.7 438.6L668.2 434.1L665.4 428.2L663.9 424.2L662.8 420.3L663 414.8L664.7 410.9L667.6 406.9L670.9 406.4L672.4 411.9L673 407.9L676.3 405.5L679.6 403L681.8 401.5L686.2 399L688.7 396.2L689.4 392.1L692.7 386.2L692.9 382.4L694.2 378.8L695.7 375.3L697.1 372.4L696.9 368.4L697.7 365L696 361.1L697.7 356.1L696.7 351.1L694.9 347.7L693.7 343.9L692.3 340.3L694.9 334.4L699.3 330.5L697.1 327.5L691.6 329L689.4 324.6L688.8 320.1L691.6 319.1L692.9 315.1L696 311.7L698.2 313.2L697.5 316.9L696.4 320.6L699.3 318.1L703 315.7L705.2 318.1L704.3 324.6L707.3 327.5L706.9 332.3L708 335.4L707.6 342.3L710.2 341.3L713.5 339.4L714.4 335.8L714.3 330.5L712.6 326.4L712.4 323.1L710.2 317.2L712.4 312.7L715 308.3L717.2 303.8L720 299.9L723.3 301.9L724.7 298.7L727.7 294.5L729.4 289.6L732 286.1L733.5 283.1L735.3 278.7L737.5 273.3L738.6 268.8L738.3 264.6L739.2 259L739.9 255.1L740.3 250.6L736.4 245.1L731.4 246.6L727.2 242.7L728.9 237.7L732 234.3L735.1 230.5L737.5 226.9L739.5 224.5L743 220.5L747 220.8L750.6 220L757.2 218.5L759.7 220.9L763.7 222L766.2 221.4L770.3 219.5L770 215.5L769.8 212.1L774.6 208.1L781.2 208.6L784.6 207.4L787.8 204.7L791 209.6L789 212.7L787.8 217L786.5 220.2L785.1 224.4L782.5 226.8L781.2 230.3L776.9 229.3L774.2 229.4L773 232.7L772.5 236.8L772.5 242.5L771.6 249.1L772.6 254.7L773.6 261.4L775.2 256.8L777.5 254L778.9 249.4L781.2 246.6L785.6 241.7L786.2 238.1L786 234.3L786.6 230.5L788.4 226.9L791.1 221.2L792.1 217L796 215.7L798.7 214.6L804.1 217L807.4 213.2L810.7 208.1L813.8 206.4L817.3 204.7L823.8 203.7L824.7 199.1L824.9 192.8M824.9 172.6L820.2 171.2L816.2 168.7L811.1 170.4L805.2 171.6L800.7 170.1L796.5 169.2L790.2 168.8L785.6 169.7L782.3 172.1L776.6 167.9L772.5 162.8L767.7 162.2L763.7 162.8L759.7 160.2L757.2 156.3L752.7 155.8L746.6 154.2L741.9 153.9L739.3 156.8L737.5 159.8L732.5 159.7L728.8 159.8L724 162.1L720 162.8L717.6 161.6L713.5 160.3L709.1 155.4L704.3 154.5L700.4 151.9L694.5 150.9L689.4 150.4L683.6 149.5L679.6 148.9L679 143.5L678.5 138.1L672.5 136.1L667.6 134.1L662.9 131.5L659.9 129.7L654.3 132.5L650.1 135.6L642.7 136.5L637 139.1L630.1 139.6L623.9 141.1L622.4 145.1L620.6 148.9L616.1 149.5L610.8 149.4L609.5 153.8L607.5 156.8L603.5 156.5L599.8 156.8L594.4 152.9L593.4 156.5L590.7 161.3L591.9 168.4L592.4 175.1L589.8 180.6L588.9 185L588 180L585.6 174.6L580.6 173.6L579.5 168.7L577.6 162.8L579.2 158.4L582.1 153.9L584.1 151.4L581.9 158.1L580.3 164.2L577.6 169.7L572.5 171.6L568.4 171.1L564 169.2L558.3 173.1L554.8 174.9L550.7 176.1L547.4 173.1L542.5 174.5L538.7 177.6L532.8 176.1L529.8 178.5L528.2 181.5L527.7 186.4L522.1 184.5L519.8 188.3L519 190.9L513.5 192.4L511.4 197.8L507.6 194.8L506.4 190.4L505 185.4L510.6 186.3L515.7 186.4L521.2 182.5L520.1 177.6L515.7 173.9L511.4 172.1L508.1 171.6L503.7 170.2L498.2 168.7L495.5 165.8L492.8 162.8L487.3 162.3L484.3 163.7L480.8 166.7L477.4 167.5L473.1 169.2L469.1 172L466.6 175.6L463.3 181.5L461.8 184.2L459.6 187.9L458.4 192L456.3 194.3L452.4 199.8L448 202.7L443 207.2L442.7 210.6L442.5 214.6L443.1 219.1L443.8 222.9L446.9 226.4L450.2 225.4L454.3 220.5L456.1 223.9L457.4 229.4L459.3 235.8L459.8 239.2L462.8 238.7L463.7 235.8L467.2 233.3L467.9 228.4L469.2 222.9L472.7 218L469.8 212.1L469.6 205.7L472.9 201.2L477 197.3L478.6 191.4L480.3 188.4L484 188.4L487.1 192.4L485.4 195.8L481 200.7L478.1 205.7L478.6 212.1L480.8 216.5L486.2 216.5L491.7 214.6L496.1 217.5L492.8 219.5L487.3 219.5L482.9 221.5L483.2 225.4L484.9 227.9L483.6 231.8L479.2 229.4L477.5 233.8L477.5 240.7L474.9 244.6L471.6 242.7L466.6 245.6L462.6 247.1L458.9 245.1L455.6 246.6L453.5 244.2L453 239.2L454.5 234.3L454.5 228.9L450.2 231.3L449.3 236.8L450.4 241.7L450.8 247.1L447.3 248.6L443.6 250.1L441.9 252.5L440.3 257.5L437.1 260.9L435.1 264.9L432 268.8L429 268.3L428.1 272.8L425 272.3L421.3 274.2L422.4 277.2L426.1 279.7L427.7 284.6L429 288.5L429.3 292.5L428.8 295.9L427.7 298.9L423.3 298.4L418.9 297.9L414.1 297.4L411.5 300.9L412.4 306.8L412.6 309.7L412.4 314.2L411.1 317.5L411.1 321.6L412.4 324.1L412.2 330.5L415.4 329.5L417.6 331.5L419.8 334.9M419.6 265.9L424 264.4L428.3 262.9L432.7 262.4L434.7 259.9L433.3 259L435.3 253.5L432.3 251.6L431.6 248.1L429 243.7L428.1 238.7L425 236.8L426.8 231.8L427.4 228.9L422.9 228.4L424.6 223.9L420.7 223.9L418.5 229.4L419.4 235.3L418.1 238.7L421.1 241.7L421.5 243.2L424.6 242.7L425 247.6L424.8 250.1L421.8 250.1L422.4 254L420.2 257L422.9 258.5L425 259.4L421.8 261.4L419.6 265.9M418.5 255.5L415.2 256.5L410.2 258.5L409.3 255L410.8 251.6L409.8 245.6L413.5 243.7L414.1 240.7L417.4 240.7L419.4 243.7L418.3 249.1L418.5 255.5M382.4 197.8L387.9 199.8L393.4 199.3L397.1 196.7L399.9 194.8L401.9 190.4L398.8 186.4L394.5 186.4L391.2 186.9L386.8 189.4L383.5 185.4L379.2 188.4L383.5 190.9L379.2 193.3L383.5 195.8L382.4 197.8M455.6 120.8L459 124.9L462.2 130.7L464.7 132.2L468.7 134.6L471.2 130.5L473.1 125.8L479.7 127.2L477.5 121.3L484.4 119.2L490.6 117.9L485.5 117.1L480.3 115.9L475.3 115.9L470.5 117.1L464.4 119.3L460.9 120.9L455.6 120.8M544.1 162.8L548.5 163.7L552 164.2L557.2 164.7L555.6 162.1L552.9 157.8L553.3 153.7L554 150.4L556.7 147.5L560.5 143L565.5 140.7L571.4 138.1L575.7 136.2L581.3 134.1L575.8 133.2L572.3 134.1L567.6 136.5L562.7 138.1L559 140.9L554 143L550.7 147.4L548.5 150.4L546.3 154.5L544.1 160.3L544.1 162.8M639.2 123.3L643.7 125.7L650.1 128.2L655.5 126.6L661 125.8L654.9 121.8L650.1 118.4L645.4 116.5L641.4 113.4L637.2 116.3L634.8 118.4L639.2 123.3M606.4 464.7L609 471.1L610.3 474.1L610.3 478.5L608.6 482.9L606.6 483.4L606.9 478.9L605.7 473.5L606.8 468.7L606.4 464.7M669.1 418.3L671.9 414.3L674.1 416.3L672.8 421.7L670.2 422.7L669.1 418.3M696 389.7L698 391.6L697.2 395.4L696.9 399.5L695.5 404.5L694 399.5L694.5 393.6L696 389.7M741.9 245.1L744.1 251.6L745.3 256.6L744.7 261.4L745.2 266.2L746.2 271.3L744.7 274.2L744.1 278.7L743.2 285.6L741.9 281.1L741.3 276.8L742.1 271.3L741.5 267.1L741.7 261.4L741.1 256.1L741.4 251.6L741.9 245.1M737.7 308.3L739.7 303.3L744.7 305.8L747.1 302L749.5 299.4L746.9 295.5L743.4 293.5L741.4 289L740.8 294.8L740.6 298.9L738.2 299.9L737.3 304.3L737.7 308.3M717.6 345.3L720 345.8L723.3 343.3L726.6 342.3L727 347.3L730.5 343.8L734.9 341.8L737.1 339.9L739.2 336.4L740.2 332.8L739.7 328L741 323.1L741.9 317.7L741.6 314.2L740.8 309.3L738.2 309.8L737.3 315.7L737.9 319.5L736.8 323.1L734.2 328.5L731.4 329.5L730.3 332.9L728.8 336.9L725.5 337.4L721.8 338.4L718.5 342.3L717.6 345.3M717.6 345.8L719.6 348.7L719.7 351.6L718.9 356.1L717.2 359.6L716.1 355.1L715.2 350.2L716.5 347.3L717.6 345.8M721.1 345.8L724.8 343.8L725.7 346.3L722.9 348.7L721.5 350.7L721.1 345.8M695.1 421.7L698.6 422.2L699.2 426.8L699 431.6L698.6 435.6L697.3 439L698.6 444.4L702.5 448.4L702.5 450.8L699.3 446.9L696 445.4L695.1 440L694 435.7L693.6 433.1L694.7 426.7L695.1 421.7M698.2 478.5L700.4 474.1L701 471.1L703.3 467.8L705.6 465.1L706.3 469L707.8 472.1L708.6 476.1L707.8 480.9L705.8 484.4L705.2 478.5L703 481.9L701.4 475.5L698.2 478.5M698.2 454.8L700.6 456.3L701.1 459.6L701 463.7L702.5 462.7L705.2 457.3L706 452.3L703.9 451.3L704.3 454.8L704.5 458.7L702.5 457.3L700.8 461.8L700.4 467.6L699.3 463.7L698.2 460L698.2 454.8M687.7 471.6L690.5 466.1L691.7 462.2L692.9 459.2L692.3 457.3L691.6 461.4L689.4 463.7L688.5 467L687.7 471.6M639.8 485.4L644.6 487.3L645.4 490.1L647.3 494.3L648.8 497.2L651 501.7L654 504.6L657.5 510.5L658.3 515L659.9 520.4L661.7 524.8L663.2 527.8L663.4 534.5L662.8 541.6L660.2 541.6L657.5 537.2L655.1 532.7L653.4 528L652.1 523.9L649.4 517.5L648.4 512L647.9 506.9L645.7 503.1L644.1 499.4L642.5 495.2L641.8 489.8L639.8 485.4M661.5 546.5L664.7 542.6L668.9 546.1L673.5 544.6L677.6 547L681.8 551L681.3 555.4L676.3 553.9L670.9 551.5L666.5 551L661.5 546.5M682.9 553.5L686.2 553.9L689.4 554.4L691.6 555.9L687.2 557.4L684 556.4L682.9 553.5M693.4 554.9L697.1 554.9L700.4 553.9L699.3 556.9L694.9 556.9L693.4 554.9M701.7 563.8L702.8 560.2L704.7 557.4L709.1 554.4L708 558.4L703.6 562.8L701.7 563.8M669.8 505.6L672.6 504.6L674.6 500.7L678.5 497.2L680 493.2L681.8 489.3L684.2 486.2L685.1 481.9L687.2 478.5L688.6 481.9L691.6 486.9L689.9 491.8L688.6 498.2L689.7 501L689.4 505.6L691.2 508.1L689 510.5L687.8 514.6L688.3 517.9L686.2 522.9L686.5 527.3L685.5 531.7L682 532.7L678.5 529.3L675.7 529.3L672.4 525.3L671.5 519.5L670.2 515.5L669.8 511.3L669.8 505.6M695.5 506.6L700.4 508.6L704.7 505.1L703.2 511L697.1 510.5L696.1 514.4L694 516.9L697.1 517.9L700.8 517.9L698.2 522.9L699.3 529.3L700.4 535.2L698.2 536.7L697.1 530.3L695.8 526.8L694.7 532.7L695.4 536L694.5 540.1L692.7 540.1L691.9 534.6L692.5 530.3L691.6 525.3L692.5 520L693.4 514L695.3 510.7L695.5 506.6M710.2 503.1L711 507.3L711.3 510.5L712.4 515.5L710.8 516.9L710.2 510.5L710.1 506.9L710.2 503.1M717.8 516.9L721.1 515L724.4 516.9L724.7 523.6L726.6 529.3L728.3 526.3L730.9 521.9L735.3 522.9L739.7 525.8L744.1 529.8L748.4 534.2L750.6 540.1L753.9 542.6L752.8 546.5L754.7 550.4L756.1 554.9L757.6 558.9L760.4 563.8L757.2 563.3L752.8 559.9L751.4 556.5L749.5 552.5L745.1 554.9L743 558.4L739.7 557.9L736.4 552.5L733.1 553.9L734.9 547.5L733.3 543.1L733.1 540.1L728.8 535.7L724.4 531.7L722.2 532.7L720 527.3L724 524.3L720 522.9L717.8 516.9M755.6 541.1L759.4 539.6L762.6 533.7L764.4 535.2L762.6 541.6L758.3 544.1L755.6 541.1M770.3 542.6L773.6 547.5L776.8 552.5L779.1 556.3L781.2 559.9L783.4 564.8M789.9 612.6L793.2 618.1L796.5 623M819 599.3L821.6 599.8L821.4 602.8L819 601.8L819 599.3M679.6 621.5L680.2 624.7L681.1 628.9L680.5 633L679.6 638.8L680 643.7L681.1 648.7L682.8 655.1L682.9 661L684.3 665.9L684.4 670.9L683.2 676.1L682.9 682.2L686.2 685.7L689.4 685.7L693.8 680.7L698.2 680.2L702.1 679.2L705.3 676.2L706.9 672.3L709.8 669.7L713.5 668.9L718.3 668.4L722.2 671.8L725.5 675.8L726.7 680.5L727.9 684.7L729.9 680.7L732.5 674.3L732.7 679.7L732 686.6L734.2 685.7L736.4 690.1L737.4 694.8L738.6 700.5L743 702.9L747.3 700.9L751.3 705.4L755 700L759.4 696.5L760.5 691.8L761.1 685.7L761.3 681.1L762.4 678.3L763.3 674.4L764.8 670.9L765.9 665.4L766.3 661L767.3 657L767.2 652.1L766.7 646.2L766.1 641.3L765.2 636.3L764.2 632.3L761.5 628.9L758.9 623L758.1 617.6L756.1 613.1L753.4 610.4L751.7 606.7L750.8 603.8L750.6 599.3L749.9 592.6L749.3 587L746.2 583.5L745.2 579L745.1 574.7L744.5 571L743.2 565.8L741.8 570L741.7 574.7L740.8 580.4L741 584.5L739.7 588.7L739.7 594.4L737.5 600.3L734.5 597.2L733.1 594.4L731.7 592.1L728.8 588.5L728.6 585.7L727.7 581.1L729.9 576.8L730.5 573.2L726.6 572.2L722.2 569.7L718.9 573.7L715.6 579.6L714.5 584.1L714.6 587L711.3 587L709.1 582.1L705.8 584.5L705.2 587.4L703.6 591.9L700.4 596.9L698.6 602.8L696 609.2L691.6 611.7L686.8 614.6L682.9 619.1L679.6 621.5M747.8 714.3L751.7 715.7L755.6 714.8L755.4 721.2L753.9 726.6L750.6 728.1L748.9 721.7L748.6 717.7L747.8 714.3M808.9 682.7L811.8 688.1L813.5 694.5L815.7 694L817.3 699L821.2 698.5L820.4 702.1L820.1 706.4L818.3 707.9L817.3 714.3L814.6 718.2L813.5 716.2L814 710.3L811.4 706.9L813.3 701.4L812.9 695.5L810.9 690.9L810 688.1L808.9 682.7M809.2 712.8L812.2 716.7L811.1 720.2L810.7 724.1L808.9 727.6L805.9 731.5L805.9 734.8L804.4 739.4L802 742.9L798.2 741.4L795.4 738.9L798.1 734.5L799.1 731L803 726.1L804.4 723.2L806.3 719.2L808.3 715.9L809.2 712.8M64.5 189.4L68.1 187.1L73.3 185L77.6 185.9L75.2 183L73.3 178.5L68.9 173.6L71.6 171.4L75.4 169.7L79.4 166.4L82 164.7L85.7 163.6L89.6 161.3L95 161.7L99.5 163.7L103 164.2L108.2 166.2L114.4 166.5L119.1 167.7L124 169.6L127.9 170.2L131.4 171L135.5 172.6L140.2 170.9L143.2 168.7L147.1 167.8L151.9 166.2L154.9 167.8L158.5 170.2L162 169.9L167.2 168.7L172.3 171.1L176 173.1L180 174L182.5 176.6L186.4 177.3L191.2 178L195.6 175.1L202.2 176.6L208.7 178.5L213.9 178.4L217.5 176.6L221.8 177.6L222.2 173.4L222.9 170.2L224.4 165.2L226.2 160.3L229.2 163.9L230.6 168.7L233.9 174.1L239.3 173.6L242 177.2L243.7 180L247.5 183.5L250.2 185.9L244.8 187.4L242.8 190.8L240.4 194.8L236.8 196.8L233.9 199.3L229.5 204.7L228.4 208.1L226.2 213.1L224.9 218L224.7 222L228.4 225.4L229.9 231.8L234.9 231.8L237.2 233.5L240.4 236.8L245.9 240.2L251.8 241.2L251 246.5L252 251.6L254.6 256.5L257.9 259L259 254L258.9 249.9L259.4 244.2L262.1 241.8L263.4 237.7L263.2 232.8L263.8 229.4L261.4 226.1L260.5 222.9L261.8 218.7L262.3 214.6L261.2 209.7L261.2 205.2L267.7 205.7L271.2 208L274.3 209.6L278.6 212.1L279.6 217.6L279.7 222L284.1 225.4L286.6 221L288.5 218L290.7 215.5L293.5 219.6L295 224.4L296.8 229.1L298.3 234.3L300.9 237L302.7 240.7L306 246.6L307.1 249.9L309.2 254L308.1 259L304.8 262.4L302.7 264.4L296.1 265.4L289.6 265.4L285.2 269.3L282.6 272.5L279.7 276.2L276.5 281.6L280.8 276.2L283.4 274.4L286.3 270.8L290.7 271.3L289.6 277.2L290 283.6L292.9 286.1L297.2 287.6L299.8 284.6L298.3 289.5L292.9 293L287.8 297.4L287.4 292L290.7 288.5L285.2 291L280.8 295L278 297.9L276.9 303.3L278.6 306.8L275.4 308.8L270.3 312.2L269.5 317.7L267.1 323.1L265.5 329.5L266 335.4L263.8 341.3L260.1 346.3L258.5 349L256.8 352.7L256 356.7L254.2 360.1L255 363.1L254 367.5L254.8 372.2L255.7 375.9L256.8 381L256.6 384.7L255.1 388.7L252.9 384.7L250.9 379.9L250.7 375.9L250.7 369L248.1 365L244.8 366L240.4 363.5L236.7 363.5L236 369L232.8 368.5L227.3 366.5L224 369L221.2 371.9L219.7 375.9L220 380.9L218.6 385.7L219 390.4L217.9 395.6L219 401.2L218.8 406.9L219.4 412.4L221 416.8L224 421.2L227.3 422.2L231.7 420.8L233.9 414.3L234.3 409.4L238.2 406.9L241.5 407.4L241.8 411.4L240.4 416.8L240.3 420.7L239.8 424.2L238.5 427.7L238.2 431.6L237.6 435.1L241.5 435.1L245.9 434.6L249.4 438L248.6 442.9L249.2 448.9L248.5 454L248.7 458.7L250 461.7L250.7 465.6L253.5 468.6L257.2 466.1L261.2 467.6L262.7 471.1L262.3 477L260.5 472.1L257.9 469.1L256.1 472.1L255.7 477L253.5 475L250.2 472.1L247.4 468L246.3 464.7L244.1 462.2L244.1 457.8L242.8 453L240.8 449.4L238.2 447.9L234.9 445.4L231.7 443.4L229.1 439.2L227.3 436L224.5 433.1L220.7 435.6L216.4 432.6L212 428.6L208.7 424.7L204.8 420.3L201.5 415.3L201.7 411.7L200.9 407.9L199.3 402.5L199.3 398.6L197.3 394.2L195.6 389.7L194.2 385.2L192.3 382.3L190.2 377.3L187.9 374L186.9 369.9L185.6 364.6L184.7 360.1L180.8 356.1L180.6 360.6L181.2 363.5L183.6 369.9L184.4 373.8L185.8 377.3L186.8 380.9L188.4 384.7L189.9 389.8L190.2 393.1L192.3 398.6L191.2 400L189.4 396L188 393.1L186.4 387.2L183.6 381.3L180.8 375.9L182.1 372.4L181.1 368.7L179.2 366L177.3 362.5L177 357.6L175.5 351.7L174 349.1L172.7 345.3L168.3 342.8L166.7 338.6L165.5 332.9L163.9 326.5L162.4 321.7L161.1 318.1L160 313.2L159.2 308.4L160.2 303.3L160.7 299.2L160.7 293.5L159.9 289.3L160.7 284.6L159.8 279.7L159.3 274.7L162.8 275.2L163.9 279.7L163.3 275.6L163.9 272.3L160.7 267.3L156.3 263.9L152.4 259L151.9 254L149.8 250.3L147.6 245.1L144.3 239.2L141.4 234.8L139.9 230.3L138.3 227.5L135.5 222.9L130.1 219.5L124.6 218L120.2 216.8L117 217L111.5 213.1L106 217L100.6 220.5L101 217.1L99.9 212.1L98 215L96.2 219.5L94 225.4L92.3 227.9L89 230.8L85.3 235.8L83.3 238.2L79.8 240.2L74.4 242.7L71.1 245.1L74.9 240.3L77.6 236.8L80.9 232.6L83.1 229.4L87.5 223.9L84.2 222.9L77.6 222L76.5 216L71.1 212.1L70.4 209L70 204.7L74.4 201.2L79.8 198.8L79.2 194.3L76.3 194L72.2 194.8L67.8 191.4L64.5 189.4M161.8 274.2L157.4 272.3L154.4 268.4L152.4 264.9L151.5 262.4L156.3 265.4L159.6 268.8L161.8 274.2M302 277.7L304.9 278.2L309.7 281.6L314.7 282.6L316.2 277.7L314 272.3L310.3 267.3L309.3 263.4L308.1 259.9L306 263.9L304.2 267.1L303.8 271.3L302 277.7M246.1 405L250.2 399.5L254.6 399L259 402L263.4 406.9L267.7 411.4L269.5 413.4L266.3 414.8L262.3 414.8L261.2 410.9L256.8 406L252.4 402L249.2 403.5L246.1 405M269 422.2L269.7 418.6L272.1 414.8L275.4 414.8L279.1 417.8L282.1 421.2L278.6 423.2L275.4 425.7L272.5 423.2L269 422.2M260.5 422.7L263.4 421.7L265.1 424.2L262.3 425.2L260.5 422.7M284.8 422.2L288 422.2L287.8 424.2L284.8 424.2L284.8 422.2M260.1 381.3L262.3 382.3L263.4 387.2L261.6 393.1M90.7 413.4L92.9 415.8L91.4 419.3L90.7 413.4M85.9 406.9L87 407.4M68.9 247.1L64.5 249.6L60.1 252.5L57.3 253.2L53.6 255.5L47 257.5L42.7 258M232.1 515.5L233.2 517.4M297.2 184L295.6 187.5L292.9 192.4L290.8 197.4L288.5 202.2L283 205.7L280 203.6L276.5 202.2L273 198.7L269.9 194.8L266 195.6L262.3 195.8L261.2 189.9L265.4 187.3L269.9 185L270.1 181.5L272.1 177.6L268.3 174.6L264.4 172.6L262.2 170.7L259 167.7L252.4 167.7L249.1 165.9L245.9 165.2L242.5 163.3L239.3 162.8L237 157.7L236 152.9L240.2 151.3L245.9 149.9L250.3 148.9L254.6 149.4L259.2 150.9L263.4 153.9L268.1 157.3L272.1 159.8L275.4 161.5L278.6 164.7L281.4 167.7L284.1 171.1L288.2 174.2L290.7 178.5L294.6 182.1L297.2 184M255.7 198.8L252.8 202.3L249.2 204.7L245.3 202.8L242.6 199.3L243.7 195.4L244.8 189.9L250.2 192.4L253.7 195L255.7 198.8M202.2 173.6L195.6 175.1L190.7 175.6L184.7 174.6L180.6 172.6L178.1 171.1L176.4 166.3L173.8 162.8L175.6 157.4L176 152.9L182 153.2L186.9 154.9L191.3 154.1L195.6 151.9L198.4 153.2L202.2 155.4L205.5 158.7L208.7 162.8L207.9 165.9L208.7 170.2L204.8 172.7L202.2 173.6M178.1 160.3L174.1 161L169.4 160.3L163.3 159.6L158.5 157.8L158.9 152.9L160.7 148L166.4 147L171.6 146.5L175.5 149.8L178.1 152.9L178.3 157.3L178.1 160.3M296.1 106L290 110.6L285.2 113.4L281.1 115.7L277 117.9L272.1 120.8L269.7 124.7L265.5 128.2L260.9 132.9L256.8 136.6L251.2 135.5L245.9 135.6L241.9 133.6L237.1 133.2L238.8 129L239.3 125.8L235.2 122.9L230.6 118.4L235.1 116.2L239.3 113.4L235.7 110.1L232.8 108.5L238.5 106.2L246.1 105.1L252.4 103.6L257.9 104.1L262.7 102.8L269.1 102.3L274.3 103.1L278.8 103.5L284.5 104.3L290.2 105.4L296.1 106M256.8 140.6L251.5 142.2L245.9 145L239.5 144.7L232.8 144.5L226.6 143.3L221.8 140.6L224.7 136.7L228.4 134.1L233.1 135.4L239.3 136.1L245.5 137.9L250.2 138.6L256.8 140.6M200 143L195.4 143.8L191.2 145.5L184.9 144.5L180.3 143L176 138.1L181.5 136.6L186.9 135.6L191.5 136.8L195.6 138.1L200 143M243.7 123.3L239 125.4L232.8 126.7L226.8 125.7L221.8 123.3L222.1 118.9L224 114.4L229.3 114.7L234.9 115.9L238.5 120.1L243.7 123.3M335.5 217.5L331.9 215.4L330 213.1L325.6 209.6L324.8 205.8L322.4 203.2L320.2 199.7L319.1 195.8L317.4 191.9L315.8 187.4L315.5 183.1L314 180L315.7 176L318 172.6L314.4 169.6L312.5 165.2L313 160.7L312.5 155.4L310 152.3L309.2 148L307.5 143.7L304.9 139.6L299.8 138.3L293.9 137.1L288 136.9L283 138.1L279.3 134.1L276.5 131.7L279.4 128.4L283 124.3L286.6 121.9L289.6 118.4L293.2 114.2L296.1 111L301.3 109.5L306.8 108.4L311.4 107L317.6 106.4L325.4 104.9L331.1 104.5L337.6 102.5L342.3 101.8L348.6 101.1L354.8 102.1L360.7 101.1L366.1 101.6L373.3 103.5L379.2 106L383.1 108.7L387.9 110L393.6 110.8L398.8 111L396.9 115.5L394.5 118.4L392.2 122.7L390.1 125.8L389.3 131.3L387.9 135.6L388.3 139.7L389 143L387.5 146.4L385.7 150.4L381.3 155.4L381.9 159.3L383.5 162.8L380.3 166.7L376.8 170.4L374.8 172.6L369.8 173.7L366.1 176.6L362.1 180.3L359.5 182.5L355.9 184.8L352.9 188.4L346.4 189.9L343.1 194.8L341.2 197.7L340.9 202.2L340.2 206.2L338.7 209.6L337.2 216L335.5 217.5M262.7 471.1L265.5 467.1L266.6 460.2L269.9 457.8L273.6 452.8L275.4 458.7L275.4 462.9L274.7 466.1L276.5 459.7L276.8 456.4L278.6 452.8L281.9 457.8L286.3 460.7L290.7 462.2L295 460.2L297.2 464.7L298.6 468.4L300.5 471.1L302.7 475.5L303.8 478.5L307.1 483.4L311.4 483.9L315.8 485.9L319.1 490.8L319.4 497.6L321.3 503.1L322.5 508.9L322.4 513L325.6 517.9L328.9 516.5L330.9 519.1L334.4 522.9L337.6 525.3L342 527.3L346.4 530.3L347.5 532.6L350.1 536.7L354.5 540.1L355.6 545.6L355.6 550L355.3 555.5L354.5 559.9L352.8 564.4L350.8 569.7L348.4 572.7L347.5 577.1L347.4 582.8L346.4 589.5L345.7 595L345.7 600.8L344.1 605.8L344.2 611.7L342.7 617L342 621.5L337.6 626.5L333.3 630.4L328.9 634.8L327 637.7L325.6 641.3L326.2 646.9L325.2 652.6L324.4 656.5L322.4 660L319.9 664.8L319.1 669.9L317.9 674.1L316.9 677.3L315 681.1L313.6 684.2L309.2 685.2L306 683.2L304 680.7L305.4 685.1L306.6 690.6L306.8 694.8L305.7 700.5L301.6 704.4L296.1 705.4L296.4 709.2L295.5 714.3L289.6 715.3L289.8 718.4L291.8 722.7L288.9 727.6L289.2 732.1L288.5 735L284.1 739.9L284.9 743.6L287.4 747.3L285.7 751.6L284.1 754.7L281.9 758.4L280.8 762.1L281.1 767.2L281.9 771L277.6 773L274.3 776.9L276.5 779.4L272.1 776.9L270 774L268.8 769.5L267.6 764.1L267.1 759.6L267.2 754.7L266.6 749.8L267 745.1L268.8 739.9L269.2 735.5L271 730.1L271 725.6L270.3 720.2L270.9 715L271 710.3L271 705.2L271.4 700.5L272.7 694.8L272.5 690.6L274.3 684.8L274.7 680.7L274.5 675.4L275.4 670.9L276.1 665.9L275.4 661L275.5 656.7L276 651.1L276.2 646.1L277.3 641.3L277.6 635.5L277.8 628.9L278.4 623L278.2 616.6L277.8 610.1L278 604.3L275.5 601.2L274.3 596.9L269.9 591.9L268 587.4L265.5 582.1L263.6 577L262.9 572.2L262 567.4L260.1 562.3L258 556.1L257.2 550L256.6 545.8L254.6 542.6L253.7 538.5L254 535.2L256.1 529.3L256.8 524.3L254.8 517.9L256.2 514.9L256.8 510.5L259 505.6L260.1 500.7L262.3 494.3L261.6 489.4L262.3 485.9L262 481.9L262.7 478.5L261.6 476L262.7 471.1M281.7 772.5L277.6 776.9L274.3 780.9L278.6 785.3L284.1 786.8L289.1 783.3L286.3 780.4L282.6 775.9L281.7 772.5M298.3 766.1L302.7 766.6L305.3 768L301.6 771L298.3 769.5L298.3 766.1M348.6 779.4L352.9 781.8M581.9 754.7L585.2 756.2L583.5 758.2L581.9 754.7M296.6 460.2L298.3 460.2L298.3 463.2L296.6 463.2M502.2 340.3L504.8 338.9L507.2 337.4L505.9 340.3L503.7 342.3L502.2 340.3M482.9 337.9L486.2 338.4L489.1 339.4L486.2 340.3L482.9 339.4L482.9 337.9M458.7 325.5L462.2 325.1L465.7 324.6L465.2 327.6L464.6 332L461.1 329.5L458.7 325.5M449.5 311.2L452.6 310.3L452.4 314.1L452.8 319.1L450.8 320.6L449.7 316.7L449.5 311.2M450.4 303.3L452.4 300.9L452.4 307.8L450.8 308.3L450.4 303.3M436.8 317.7L438.8 316.2L438.6 318.6L436.8 317.7M392.3 372.4L395.5 373.4L397.7 374.9L401 371.9M378.1 439L380.3 438L381.3 434.1M369.3 323.1L372.6 322.1L375.9 326.5M548.3 450.8L550.7 451.3M552.4 616.6L557.5 612.6M526.2 570.7L528.6 573.2M517.5 541.6L517.9 544.6M750.6 293.5L755 288.5L758.6 286.5L760.4 283.6L762.5 280.7L765.9 276.2L767.9 271.1L771.4 266.4M821.6 161.8L824.9 160.3M38.3 160.3L42.7 161.8M38.3 192.8L42.7 189.9L46.3 192.9L48.1 194.8L53.6 195.8L56.2 192.5L58 189.4L60.1 186.4L54.7 182.5L50.9 181.5L48.1 180L44.7 177L42.7 175.1L38.3 172.6M730.9 141.5L736.2 141.4L741.9 143L746.1 142.8L750.6 141.5L755.3 141.8L759.4 142L754.1 140L748.4 138.1L741.2 137.8L735.3 137.1L730.9 141.5M540.9 115.9L546.1 117.1L551.8 117.4L558 115.8L562.7 114.4L558.5 113.6L554 111.9L547.3 113.4L540.9 115.9M56.9 200.7L62.3 201.2L61.2 199.3M94 230.8L98.4 229.4L98.4 225.9M141 246.6L143.6 251.6L144.9 255.5M290.7 267.3L296.1 270.3M291.3 282.6L295 284.1M269.9 312.7L274.3 310.7M38.3 898.8L44.2 899.7L49.7 899.6L55.3 899.8L60.1 899.7L65.9 899.4L70.7 899.5L75.8 898.9L82 898.8L88 896.7L92.9 893.8L98.6 891.7L103.8 890.4L109.2 887.8L114.8 885.4L120.5 884L125.7 883L131.5 882.5L136.6 880.5L141.5 880.3L147.6 879.5L153.5 878.1L158.5 877.1L163.9 877.9L169.4 877.1L174 877.6L180.3 878L185.2 879.8L191.2 880.5L197.5 881.3L202.2 882L204.7 878.9L208.7 875.6L213.1 870.6L218.6 871.8L224 872.1L229.5 872.4L234.9 872.1L241 872.7L245.9 873.1L251.2 873.9L256.8 873.1L260.6 872.2L265.5 870.6L269.7 869.9L274.3 868.2L275.8 865.3L278.6 860.8L280.6 855L283 850.9L284.3 845.8L286.3 841L287.6 837.7L290.7 834.6L293.3 832.5L296.1 829.7L299.1 827.3L302.7 825.8L307.1 826.2L303.8 831.2L300.6 834.1L298.3 836.1L297.5 839.9L295 843.5L292.9 847.8L291.8 850.9L293.8 854.1L296.1 858.3L296.6 863.7L298.3 868.2L298.9 873.4L298.3 878L296.1 881.9L293.9 885.4L288 888.7L283 890.4L277.7 892.3L273.4 894.2L267.7 895.3L264.4 896.2L261.2 897.8L267.1 897.9L273.4 899.2L278.6 900.2L284.7 899.2L289.4 898.6L294.9 897.8L300.5 897.8L305.1 898.2L311 897.3L316.5 897.7L322.4 897.8L328 898L334.3 897.5L339.8 897.8L347.2 897.2L352.9 895.3L356.5 893.4L361.7 890.4L366.8 889.7L370.4 887.9L373.1 884.8L377 880.5L382.7 877.2L387.9 875.6L391.4 873.9L396.6 870.6L401.3 867.7L405.4 865.7L407.9 863.3L411.9 862.3L415.8 862L420.7 860.8L425.9 858.4L431.6 857.3L437.8 858.3L442.5 858.3L447.4 858.5L453.5 857.3L459.1 857.1L464.4 855.8L470.1 857.3L475.3 857.3L481.3 858.4L486.2 858.3L491.1 856.9L497.2 854.9L500.5 853.8L503.7 851.9L506.9 854.6L510.3 855.8L516.8 855.8L520.2 851.7L523.4 848.4L527.3 846.6L532.1 846L536.5 843.9L540.9 843.5L544.1 840.4L547.4 838.6L550.7 839.8L554 841L558.4 843.7L562.7 845L566.2 846.1L571.4 846L575.8 846.8L580.2 847.5L584.5 850.9L588.9 855.8L595.5 855.8L599.1 854L602 850.9L606.2 847.8L610.8 845L616 842.3L619.5 841L624.1 841.5L628.2 841.5L632.9 841L639.2 840.1L645 840.1L650.1 838.6L655.3 840.2L661 840.1L666.5 839.3L671.9 838.6L678.1 839L682.9 841L688.7 841.8L693.8 842L699 841.7L704.7 840.1L709.9 839.3L715.6 838.6L721.2 839.1L726.6 838.6L731.5 840.2L737.5 842L742.8 842.9L748.4 843.5L754.5 846.3L759.4 849.9L765.4 851.5L770.3 853.4L775.7 855.9L781.2 859.3L786.7 861.6L792.1 862.3L797.9 864.5L803 865.7L803.8 869.1L805.2 873.1L801.6 878.2L798.7 883L794.6 888.4L789.9 892.8L794.3 897.8L797.9 898.2L803 897.8L809.2 897.9L814 897.8L818.6 897.9L824.9 898.8"/></g></g>
<rect x="894.4" y="1881.5" width="750.6" height="39.7" fill="#fff"/>
<rect x="894.4" y="1881.5" width="68.5" height="39.7" fill="#000000"/>
<rect x="962.6" y="1881.5" width="68.5" height="39.7" fill="#1400ff"/>
<rect x="1030.9" y="1881.5" width="68.5" height="39.7" fill="#4420ff"/>
<rect x="1099.1" y="1881.5" width="68.5" height="39.7" fill="#0090ff"/>
<rect x="1167.3" y="1881.5" width="68.5" height="39.7" fill="#30f0ff"/>
<rect x="1235.6" y="1881.5" width="68.5" height="39.7" fill="#70ffff"/>
<rect x="1303.8" y="1881.5" width="68.5" height="39.7" fill="#80ffd0"/>
<rect x="1372.1" y="1881.5" width="68.5" height="39.7" fill="#c8f000"/>
<rect x="1440.3" y="1881.5" width="68.5" height="39.7" fill="#ff8000"/>
<rect x="1508.5" y="1881.5" width="68.5" height="39.7" fill="#ff0000"/>
<rect x="1576.8" y="1881.5" width="68.5" height="39.7" fill="#ffffff"/>
<rect x="894.4" y="1881.5" width="750.6" height="39.7" fill="none" stroke="#000" stroke-width="2"/>
<rect x="870.4" y="1055.5" width="800.9" height="904.2" fill="none" stroke="#000" stroke-width="2"/>
<rect x="886" y="1056.5" width="788" height="123.5" fill="#fff"/>
<path d="M870.4 1055.5H1671.3" stroke="#000" stroke-width="2" fill="none"/>
<text x="913" y="1142.3" style="font-family:'Liberation Sans',sans-serif;font-size:69px" textLength="719" lengthAdjust="spacingAndGlyphs" fill="#000">NmF2 Diff (V6p – Truth)</text>
<text transform="translate(937.5 1985) rotate(45) scale(1.0 1.12)" style="font-family:'DejaVu Sans','Liberation Sans',sans-serif;font-weight:200;font-size:40px" text-anchor="middle" dy="0.36em" fill="#444444" stroke="#444444" stroke-width="0.7">−1.0</text>
<text transform="translate(1005.8 1985) rotate(45) scale(1.0 1.12)" style="font-family:'DejaVu Sans','Liberation Sans',sans-serif;font-weight:200;font-size:40px" text-anchor="middle" dy="0.36em" fill="#444444" stroke="#444444" stroke-width="0.7">−0.8</text>
<text transform="translate(1074 1985) rotate(45) scale(1.0 1.12)" style="font-family:'DejaVu Sans','Liberation Sans',sans-serif;font-weight:200;font-size:40px" text-anchor="middle" dy="0.36em" fill="#444444" stroke="#444444" stroke-width="0.7">−0.6</text>
<text transform="translate(1142.2 1985) rotate(45) scale(1.0 1.12)" style="font-family:'DejaVu Sans','Liberation Sans',sans-serif;font-weight:200;font-size:40px" text-anchor="middle" dy="0.36em" fill="#444444" stroke="#444444" stroke-width="0.7">−0.4</text>
<text transform="translate(1210.5 1985) rotate(45) scale(1.0 1.12)" style="font-family:'DejaVu Sans','Liberation Sans',sans-serif;font-weight:200;font-size:40px" text-anchor="middle" dy="0.36em" fill="#444444" stroke="#444444" stroke-width="0.7">−0.2</text>
<text transform="translate(1278.7 1985) rotate(45) scale(1.0 1.12)" style="font-family:'DejaVu Sans','Liberation Sans',sans-serif;font-weight:200;font-size:40px" text-anchor="middle" dy="0.36em" fill="#444444" stroke="#444444" stroke-width="0.7">0.0</text>
<text transform="translate(1346.9 1985) rotate(45) scale(1.0 1.12)" style="font-family:'DejaVu Sans','Liberation Sans',sans-serif;font-weight:200;font-size:40px" text-anchor="middle" dy="0.36em" fill="#444444" stroke="#444444" stroke-width="0.7">0.2</text>
<text transform="translate(1415.2 1985) rotate(45) scale(1.0 1.12)" style="font-family:'DejaVu Sans','Liberation Sans',sans-serif;font-weight:200;font-size:40px" text-anchor="middle" dy="0.36em" fill="#444444" stroke="#444444" stroke-width="0.7">0.4</text>
<text transform="translate(1483.4 1985) rotate(45) scale(1.0 1.12)" style="font-family:'DejaVu Sans','Liberation Sans',sans-serif;font-weight:200;font-size:40px" text-anchor="middle" dy="0.36em" fill="#444444" stroke="#444444" stroke-width="0.7">0.6</text>
<text transform="translate(1551.6 1985) rotate(45) scale(1.0 1.12)" style="font-family:'DejaVu Sans','Liberation Sans',sans-serif;font-weight:200;font-size:40px" text-anchor="middle" dy="0.36em" fill="#444444" stroke="#444444" stroke-width="0.7">0.8</text>
<text transform="translate(1619.9 1985) rotate(45) scale(1.0 1.12)" style="font-family:'DejaVu Sans','Liberation Sans',sans-serif;font-weight:200;font-size:40px" text-anchor="middle" dy="0.36em" fill="#444444" stroke="#444444" stroke-width="0.7">1.0</text>
</g>
<g id="scatter1">
<text x="2192.6" y="57.6" style="font-family:'DejaVu Sans','Liberation Sans',sans-serif;font-weight:200;font-size:49.5px" text-anchor="middle" fill="#444444" stroke="#444444" stroke-width="0.6" textLength="283" lengthAdjust="spacing">200812_lat</text>
<g fill="#000"><path d="M2261.8 277.8h0M2189.5 308.1h0M2212.4 438.8h0M2225.7 376.2h0M2246.3 293h0M1972.5 586.3h0M2236 293h0M2070.8 626h0M1988.2 671.5h0M2251.5 383.8h0M2184.3 399.4h0M2289 314.2h0M2184.4 421.6h0M2182.5 367h0M2055.3 429.2h0M2091.5 489.8h0M2205 535.2h0M2136 558.2h0M2293.1 422.4h0M2101.8 557.9h0M2277.3 277.8h0M2184.4 445h0M2308.3 345.9h0M2216.1 322.9h0M2297.9 383.8h0M2292.8 406.5h0M2277.3 338.4h0M2196.1 432h0M2132.8 550.3h0M2191.3 563h0M2202 553.2h0M2160.1 579.7h0M2163.7 573h0M2267 262.7h0M2081.1 580.6h0M2155.4 550.3h0M2168.9 451.9h0M2313.4 353.5h0M1998.5 580.6h0M2084.6 505h0M2289.4 337.3h0M2072.5 639h0M2254.5 291.2h0M2246.3 459.5h0M2313.3 279.4h0M2118.8 495.4h0M2127.6 557.9h0M2015.4 460.7h0M2051.5 633h0M2251.5 414.1h0M2081.1 444.4h0M2200.6 511.5h0M2210.2 482.2h0M2241.2 345.9h0M1967.6 641.2h0M2195 391.9h0M2199.9 565.5h0M2292.8 255.1h0M2117.3 512.5h0M2215.3 474.6h0M2251.5 330.8h0M2266.2 399.2h0M2115.4 396.4h0M2065.7 573h0M2091.5 550.3h0M2122.4 588.2h0M2169.2 586.2h0M2258.4 275.3h0M2205.1 347.5h0M2216.3 454.4h0M2113.5 597.8h0M2199.5 466.6h0M2246.2 374.8h0M2139.2 330.1h0M2230.8 504.9h0M2270.4 270.1h0M2063.9 582.6h0M2008.9 603.3h0M2220.5 285.4h0M2096.4 547.4h0M2167.1 548.2h0M2272.1 406.5h0M2076 641.2h0M1998.7 664.3h0M2024.4 474.6h0M2204.5 369.2h0M2079.6 522.8h0M2194.6 538.2h0M2236 497.3h0M2148.4 412.5h0M2112.4 590.6h0M1988.2 580.6h0M2305.2 368.5h0M2292 265.1h0M2225.7 323.2h0M2055.1 520.2h0M2182.6 359.8h0M2246.3 345.9h0M2199.9 391.4h0M2018 580.3h0M2261.8 338.4h0M2180.2 452.4h0M2292.8 315.7h0M2050.5 588.4h0M2053.9 495.9h0M2256.6 262.7h0M2034.7 656.3h0M2297.9 300.5h0M2106.9 520.1h0M2096.6 580.6h0M2287.6 330.8h0M2220.5 398.9h0M2101.8 641.2h0M2075.2 408.1h0M2229.6 412.8h0M2039.8 512.5h0M2210.2 345.9h0M2177.1 542.1h0M2096.6 633.6h0M2215.3 338.4h0M2087.2 627.2h0M2241.2 467.1h0M1988.2 542.8h0M2253.1 441.7h0M2101 549.3h0M2113.4 540.5h0M2220.5 421.6h0M1967.6 550.3h0M2100.2 540.8h0M1993.4 641.2h0M1972.7 626h0M2206.6 515.5h0M2122.4 603.3h0M2091.5 565.5h0M2158.1 590h0M2104.8 543.2h0M2060.5 633.6h0M2081.3 559h0M2027.8 621.4h0M2227.6 314.6h0M2199.9 398.9h0M2149.1 481.9h0M2210.2 421.6h0M2184.4 489.8h0M2240.7 378.4h0M2168.9 580.6h0M2261.8 300.5h0M2099.9 613.8h0M2236 323.2h0M2184.4 542.8h0M2220.5 444.4h0M2236 391.4h0M2272.1 414.1h0M2225.7 338.4h0M2220.5 527.6h0M1998.5 626h0M2177.4 473.8h0M2157.7 467.1h0M1998.5 482.2h0M2045 421.6h0M2230.8 308.1h0M2241.2 353.5h0M2277.3 262.7h0M2241.2 451.9h0M2246.3 262.7h0M2285.8 417h0M2278.6 384.7h0M1973 575.6h0M2237.8 419.1h0M2256.6 429.2h0M2122.4 429.2h0M2236.7 270.5h0M2069.5 655.8h0M2158.4 600.5h0M2220.5 406.5h0M2241.2 308.1h0M2220.8 336.9h0M2232.9 431.7h0M2244.3 286.6h0M2174.1 474.6h0M2267 277.8h0M2236 353.5h0M2189.5 474.6h0M2250.9 355.2h0M2040.5 646.2h0M2303.1 285.4h0M2256.6 467.1h0M2112.1 451.9h0M2325.8 252.3h0M2277.3 414.1h0M2179 465.5h0M2205 353.5h0M2137.9 595.8h0M2310.3 303.1h0M2083.1 639.3h0M2127.6 398.9h0M2172.2 571.4h0M2236 330.8h0M2261.8 451.9h0M2091.5 626h0M2230.8 338.4h0M2153.4 406.5h0M1974.4 526.5h0M1999.7 552.1h0M2061.7 647.7h0M2199.9 421.6h0M2303.2 344.1h0M2236.9 376h0M2297.9 262.7h0M2220.5 429.2h0M2174.8 558.6h0M2103.3 444.3h0M2203.8 529.3h0M2081.1 550.3h0M2309.7 262h0M2179.6 548.8h0M2224.1 483.9h0M2086.3 565.5h0M2091.5 474.6h0M2206.9 299h0M2081.1 618.5h0M2214.1 318h0M2292.8 338.4h0M2287.6 262.7h0M2221.4 314.6h0M2220.5 451.9h0M2215.3 535.2h0M2277.5 270.3h0M2068.9 613.9h0M2103.7 512.1h0M2246.3 497.3h0M2204.3 333.6h0M2274 312.9h0M2194.7 406.5h0M2101.8 467.1h0M2251.5 482.2h0M2133.9 604.7h0M1967.6 595.8h0M2308.3 255.1h0M2177.6 405.8h0M2223.7 397.6h0M2289.4 399.4h0M2241.2 436.8h0M2148.2 459.5h0M2261.8 361.1h0M2184.4 573h0M2121.7 495.2h0M2256.5 287.8h0M2261.7 329.6h0M2308.3 330.8h0M2190.8 373.5h0M2287.6 345.9h0M2236 436.8h0M2191.6 572.5h0M2205 398.9h0M2206.3 392.4h0M2282.5 406.5h0M2261.8 376.2h0M2184.4 376.2h0M2132.8 573h0M1983.1 626h0M2251.5 497.3h0M2050.2 535.2h0M2279.4 404.6h0M2318.6 330.8h0M2205 550.3h0M2249.6 336.5h0M2070.8 573h0M2012.4 670.3h0M2236 383.8h0M2215.3 383.8h0M2292.8 391.4h0M2256.6 482.2h0M2140.9 556.3h0M2257.7 358.5h0M2055.3 527.6h0M2272.1 338.4h0M2199 502h0M2230.9 443h0M2277.2 257.5h0M2215.3 527.6h0M2261.8 436.8h0M2189.5 557.9h0M2190.1 401.9h0M2220.5 277.8h0M2303.1 361.1h0M2055.3 467.1h0M2060.9 598h0M2242.7 265.6h0M2251.9 305.9h0M2055.3 663.9h0M2210.2 353.5h0M2048.3 593.4h0M2272.1 451.9h0M2076 573h0M2297.9 391.4h0M2272.1 467.1h0M2237.8 348.5h0M2091.5 633.6h0M1988.2 467.1h0M2200.5 302.3h0M2272.1 300.5h0M2267 330.8h0M2057.3 505h0M2003.7 482.2h0M2282.5 436.8h0M2003.7 436.8h0M2188 347.5h0M2194.7 489.8h0M2162.6 532.9h0M2183.5 512.3h0M2222.6 331.5h0M2122.6 558.9h0M2215.3 540.8h0M2297.9 315.7h0M1984.9 610.6h0M2199.9 436.8h0M2122.4 618.5h0M2287.6 255.1h0M2039.8 663.9h0M2055.3 618.5h0M2176 468.5h0M1983.1 663.9h0M2272.1 361.1h0M2143.1 603.3h0M2215.3 345.9h0M2055.3 489.8h0M1983.1 520.1h0M2256.6 345.9h0M2127.6 573h0M2220.5 376.2h0M2101.8 573h0M2117.3 580.6h0M1967.6 573h0M2184.4 467.1h0M2162.6 346.6h0M2163.7 504.9h0M2272.1 421.6h0M2293.5 272.2h0M2277.3 315.7h0M2179.2 489.8h0M2188.9 529.7h0M2045 648.8h0M2236 308.1h0M2246.3 270.2h0M2229 449.2h0M2153.4 565.5h0M2272.1 285.4h0M2246.4 443.1h0M2158.6 535.2h0M2189.5 414.1h0M2117.3 467.1h0M2101.8 565.5h0M2221 270.2h0M2050.2 648.8h0M2132.8 565.5h0M2241.8 313.1h0M2091.5 557.9h0M2112.1 610.9h0M2225.7 330.8h0M2184.5 473.5h0M2215.3 361.1h0M2242.5 323.4h0M2260.2 389.4h0M2292.3 370.3h0M2308.3 383.8h0M2058.8 653.9h0M2313 329.9h0M2086.3 641.2h0M2064.4 512h0M2186 347.8h0M2283 331.6h0M2256.6 391.4h0M2144.1 589.3h0M2209.3 472.8h0M2217.4 441.9h0M2189.5 504.9h0M2236 361.1h0M2125.6 578.8h0M2224 390h0M1993.4 504.9h0M2112 603.8h0M2297.9 293h0M2292.8 330.8h0M2282.5 285.4h0M2045 663.9h0M2030.2 653.5h0M2272.1 444.4h0M2251.5 368.7h0M2050.4 563.5h0M2085.8 579.5h0M2229 385.1h0M2303.1 398.9h0M2302.3 261.7h0M2084.5 556.8h0M2168.9 504.9h0M2194.7 338.4h0M2284.4 354.4h0M2194.7 383.8h0M2260.9 317.1h0M2184.4 520.1h0M2241.2 330.8h0M2226 418.8h0M2244.1 341h0M2117.3 603.3h0M2108.6 580.8h0M2278.7 306.2h0M2039.8 595.8h0M2091.5 573h0M2168.9 535.2h0M2057.4 649.9h0M2199.9 535.2h0M2172.8 420.9h0M2050.2 656.3h0M2287.6 459.5h0M2215.3 459.5h0M2241.2 504.9h0M2189.5 459.5h0M2222.2 459.4h0M2199.9 520.1h0M2189.7 391.6h0M2034.7 648.8h0M2286 368.2h0M2143.1 618.5h0M2143.1 610.9h0M2227.2 461.9h0M2039.8 573h0M2205 361.1h0M2086.3 618.5h0M2071.1 631.9h0M2185.6 565.5h0M1956.4 526.3h0M2236 520.1h0M2045 557.9h0M2215.3 293h0M2205 421.6h0M2094.8 620.5h0M2127.6 588.2h0M2229 522.2h0M2106.9 557.9h0M2251.5 451.9h0M2244.2 310.3h0M2225.7 489.8h0M2091.5 595.8h0M2318.6 308.1h0M2230.8 459.5h0M2282.5 315.7h0M2230.8 489.8h0M2127.6 595.8h0M2137.9 580.6h0M2280.8 427.9h0M2045 573h0M2122.4 459.5h0M2194.7 361.1h0M1993.4 626h0M2132.8 557.9h0M2230.7 353.9h0M2029.5 580.6h0M2258.7 369h0M2276 442.4h0M2261.8 474.6h0M2341.4 262.4h0M2220.5 308.1h0M2072 581.4h0M2287.6 300.5h0M2220.5 391.4h0M2201.8 351.7h0M2300 330.8h0M2090.9 617.9h0M2230.8 406.5h0M2174.1 542.8h0M2236 451.9h0M2220.4 477.3h0M2282.5 414.1h0M2210.2 527.6h0M2136.7 545.3h0M2272.1 323.2h0M2107.4 530.5h0M2171 517.7h0M2241.2 247.5h0M2101.8 520.1h0M2205.3 384.8h0M2103 589.3h0M2163.7 588.2h0M2199.9 497.3h0M2184.4 383.8h0M2225.7 345.9h0M1998.5 489.8h0M2225.7 293h0M2024.4 610.9h0M2081.1 633.6h0M2168.9 542.8h0M2277.3 469.8h0M2168.9 474.6h0M2050.2 663.9h0M2268.4 315.1h0M2194.7 376.2h0M2248.5 279.6h0M2246.3 414.1h0M1972.7 641.2h0M2024.4 671.5h0M2230.8 330.8h0M2318.6 353.5h0M2267 323.2h0M2133.9 488.3h0M2225.7 467.1h0M2256.6 376.2h0M2106.9 626h0M2164.7 528.2h0M2246.3 512.5h0M2067.2 634.1h0M2069.1 507.2h0M2030.4 426.6h0M2019.2 633.6h0M2286.9 427h0M2298.4 423.1h0M2199.9 361.1h0M2262.2 489.7h0M2253.2 318.6h0M2297.9 353.5h0M2093.2 641.3h0M2203 451.8h0M2049.8 548.6h0M2251.5 398.9h0M2076 610.9h0M2132.8 580.6h0M2272.2 306.9h0M2252.1 295.3h0M2156.7 375.3h0M2182.9 352.6h0M2303.1 383.8h0M2220.1 299.1h0M2050.2 504.9h0M2127.6 603.3h0M2279.4 326.2h0M2163.7 308.1h0M2143.1 527.6h0M2251.2 376.1h0M2168.9 565.5h0M2251.5 361.1h0M2194.7 398.9h0M2229.5 422.9h0M2312.8 310.6h0M1967.6 557.9h0M2225.7 277.8h0M2299.4 277.4h0M2115.7 503.6h0M2297.6 426.9h0M2261.8 345.9h0M2194.7 444.4h0M2298.7 370.1h0M2168.9 459.5h0M1992.8 610.4h0M2181.3 497.2h0M2303.4 269.6h0M2201.2 344.1h0M2106.9 610.9h0M2210.2 520.1h0M2283.1 261.6h0M2210.2 451.9h0M2241.2 489.8h0M2055.3 656.3h0M2287.6 376.2h0M2211.1 464.5h0M2179.2 391.4h0M2096.6 497.3h0M2215.3 436.8h0M2270.2 368.3h0M2251.5 300.5h0M2106.9 459.5h0M1977.9 542.8h0M2179.2 429.2h0M2230.8 497.3h0M2248.2 385.3h0M2117.3 444.4h0M2070.8 648.8h0M2188.6 359.4h0M2267.3 434.5h0M2029.5 550.3h0M2277.3 391.4h0M2143.1 484.1h0M2039.8 633.6h0M2277.3 293h0M2144.6 580h0M2039.3 621.1h0M2189.2 482.4h0M2003.7 648.8h0M2292.8 308.1h0M2060.5 550.3h0M1978.3 619.4h0M2032.9 639.9h0M2117.3 633.6h0M2072.4 591.1h0M2172.8 495.1h0M2287.6 406.5h0M1983.1 641.2h0M2122.4 535.2h0M2174.1 520.1h0M2194.7 504.9h0M2297.9 270.2h0M2179.2 520.1h0M2029.5 557.9h0M2246.3 398.9h0M2282.5 368.7h0M2104.8 597.8h0M2107.4 552.4h0M2143.1 459.5h0M2270.7 435.8h0M2289.2 392.5h0M2256.6 451.9h0M2158.6 330.8h0M2313.4 368.7h0M2133.5 545.3h0M2112.1 550.3h0M2287.8 386.6h0M2267 443.3h0M2228.6 286.6h0M2230.8 345.9h0M2076 527.6h0M2194.7 467.1h0M2096.6 429h0M2073.9 596.4h0M2115.7 558.2h0M2184.4 451.9h0M2158.6 557.9h0M2038.5 527h0M2330.3 285.8h0M2150.4 310h0M2210.2 308.1h0M2158.6 338.4h0M2075.4 617h0M2199.9 542.8h0M1982.9 513.8h0M2053.4 635h0M2065.9 650.3h0M2112.8 560.3h0M2287.6 421.6h0M2036.5 509.9h0M2070.8 451.9h0M2275.8 420h0M2158.6 539.9h0M2081.1 648.8h0M2174.1 398.9h0M2168.9 376.2h0M2261.8 444.4h0M2215.3 421.6h0M2149.2 566.2h0M2070.8 444.4h0M2309.5 400.1h0M2265.3 378h0M2045 626h0M2271.4 477.2h0M2240.6 472.8h0M2146.6 556.3h0M2297.9 338.4h0M2246.3 391.4h0M2210.9 499.6h0M2308.9 353.6h0M2012 439.7h0M2193.1 371.5h0M2096.6 542.8h0M2188.6 352.5h0M2301.3 323.3h0M2037.9 496.9h0M2163.7 512.5h0M2303.1 315.7h0M2339.2 247.5h0M2280.4 276.7h0M2003.7 451.9h0M2297.9 406.5h0M2272.1 345.9h0M2241.2 368.7h0M2215.3 429.2h0M2313.4 300.5h0M2334.1 262.7h0M2082.4 627.6h0M2040.1 452.8h0M2060.5 626h0M2003.2 609.5h0M2091.5 648.8h0M2184.4 436.8h0M2287.6 437.5h0M2313.4 270.2h0M2092.7 577.7h0M2146.1 583.5h0M2122.4 376.2h0M2137.9 520.1h0M2199.7 456.7h0M2256.6 398.9h0M1993.4 474.6h0M2127.6 626h0M2106.9 633.6h0M2024.4 595.8h0M2215.3 406.5h0M2261.4 469.8h0M2096.6 595.8h0M2044 565.4h0M2122.4 565.5h0M2023.7 459h0M2086.3 633.6h0M2287.6 285.4h0M2298.3 397h0M2075.5 582.9h0M2151.8 341.2h0M2292.8 353.5h0M2117.3 550.3h0M2232.3 314.4h0M2029.5 588.2h0M2241.2 444.4h0M2241.2 270.2h0M2003.7 580.6h0M2122.4 391.4h0M2091.5 603.3h0M1984.6 473.1h0M2086.3 610.9h0M2241.2 391.4h0M2117.3 588.2h0M2143.3 575.3h0M2212.1 382h0M2179.2 482.2h0M2223.5 496h0M1970.9 634.2h0M2246.3 300.5h0M2179.2 398.9h0M2132.8 429.2h0M2127.6 504.9h0M2074.8 446h0M2024.4 618.5h0M2122.4 595.8h0M2282.5 300.5h0M2291.8 400.5h0M2222.4 534.2h0M2019.3 627.6h0M2206 507.2h0M2215.7 310.7h0M2112.1 565.5h0M2165.4 519h0M1972.7 482.2h0M2106.9 618.5h0M2303.1 293h0M2251.6 474.9h0M2215.6 299.5h0M2091.5 467.1h0M2180.5 419h0M2205 315.7h0M2096.6 573h0M2277.3 285.4h0M2272.1 429.2h0M2215.3 414.1h0M2014 648.8h0M2220.5 467.1h0M2254.8 355.3h0M2142 350.5h0M2164.9 557.4h0M2180.9 572.6h0M2210.2 535.2h0M2190.4 500.2h0M2218.7 416.7h0M2210.2 293h0M2194.7 293h0M2117.3 565.5h0M2314.6 256.6h0M2225.7 270.2h0M2303.5 413.1h0M2127.4 617.2h0M2045 656.3h0M2246.3 489.8h0M2246.3 330.8h0M2301.8 256.7h0M2153.2 540.8h0M2024.4 489.8h0M2251.5 285.4h0M2076 512.5h0M2021.3 559h0M2234 467.9h0M2310.2 325.1h0M2112.1 580.6h0M1998.5 467.1h0M2045 414.1h0M2084.9 404.8h0M2261.8 308.1h0M2168.9 527.6h0M2272.9 400.4h0M2246.3 368.7h0M2091.5 512.5h0M2210.2 330.8h0M2098.3 479.6h0M2265.3 363.5h0M2184.4 535.2h0M2215.3 467.1h0M2249.5 422.4h0M2313.4 322.4h0M2121.1 548.2h0M2034.7 663.9h0M2055.7 474.2h0M2170.7 554.9h0M2300 322.2h0M2225.7 414.1h0M2143.1 345.9h0M2199.9 527.6h0M2278.3 428.6h0M2079.9 585.3h0M2199.9 330.8h0M2231.9 474.1h0M2176 436.1h0M1988.2 535.2h0M2261.8 262.7h0M2205.9 290.7h0M2304.1 352.8h0M2028.3 601h0M2091.5 527.6h0M2188.2 323h0M2251.5 467.1h0M2242.1 384.4h0M2289.8 268.5h0M2282.5 338.4h0M2205 467.1h0M2138.4 431.8h0M2194.7 414.1h0M2168.9 330.8h0M2272.1 353.5h0M2241.3 496.1h0M2241.2 338.4h0M2165 488.8h0M2210.2 542.8h0M2149 603.6h0M2215.3 353.5h0M2339.2 277.8h0M2210.1 407h0M1997.7 453.5h0M2060.5 618.5h0M2236 285.4h0M2158.6 573h0M2049.7 469.2h0M2167.1 494.9h0M2050.2 512.5h0M2127.6 535.2h0M1961 597.1h0M2050.2 626h0M2297.9 255.4h0M1988.8 618.2h0M2137.9 353.5h0M2143.1 391.4h0M2091.5 542.8h0M2240.1 360.2h0M2057.5 586.1h0M2308.3 391.4h0M2282.5 451.9h0M2076 429.2h0M2250.8 322.2h0M1967.6 626h0M1957.2 588.2h0M2184.4 498.5h0M2174.1 565.5h0M2199.9 323.2h0M2210.2 300.5h0M2205 414.1h0M2153.4 383.8h0M2194.7 421.6h0M2087.7 593.2h0M2225.7 285.4h0M2101.8 595.8h0M2101.8 626h0M2151.5 602.1h0M2143.1 550.3h0M2215.3 285.4h0M2292.8 323.2h0M2174.1 451.9h0M2287.6 444.4h0M2174.1 444.4h0M1979.1 627.5h0M2112.1 618.5h0M2265.4 464.3h0M2174.2 347.3h0M1998.8 656.4h0M2245.2 325.4h0M2210.2 512.5h0M2086.3 474.6h0M2201.1 492.3h0M2251.5 436.8h0M2303.1 391.4h0M2116.8 619.9h0M2079.8 566.2h0M2237.7 366h0M2194.7 550.3h0M2210.2 315.7h0M2277.3 345.9h0M2003.7 663.9h0M2223.8 434.9h0M2003.7 671.5h0M2277.3 398.9h0M2328.9 262.7h0M2265.1 352.1h0M2113.9 403.9h0M2168.9 467.1h0M2282.5 444.4h0M2267 308.1h0M2081.1 595.8h0M2203 545.3h0M2296.4 411.7h0M2153.4 595.8h0M2242.9 275.3h0M2237 313.6h0M2179.2 535.2h0M2065.7 656.3h0M2143.1 429.2h0M2046 610.7h0M1977.9 595.8h0M2183.5 409.2h0M2261.8 482.2h0M2323.8 308.1h0M2112.1 527.6h0M2163.7 565.5h0M2074.9 521h0M1979.1 601.2h0M2230.8 398.9h0M2183.8 552.7h0M2117.3 542.8h0M2282.5 376.2h0M2230.8 293h0M2034.7 467.1h0M2268.2 290.2h0M1998.5 603.3h0M2205 474.6h0M2112.1 421.6h0M2042.8 582.7h0M2076 414.1h0M1962.4 504.9h0M2132.8 345.9h0M1984.8 487.5h0M2308.3 376.2h0M2179.5 415.1h0M2101.8 474.6h0M2246.3 436.8h0M2026.2 579.2h0M1962.4 542.8h0M2267 338.4h0M2277.3 376.2h0M1962.4 535.2h0M2193.9 436.4h0M2122.4 633.6h0M2303.1 338.4h0M1988.2 610.9h0M2261.8 398.9h0M2237.9 279.4h0M2287.6 323.2h0M1987.1 503h0M2201.4 413.3h0M2112.1 436.8h0M2205 338.4h0M2251.5 345.9h0M2286.3 360h0M2013.3 601.8h0M2059.5 611.9h0M2034.7 595.8h0M2261.8 368.7h0M2189.5 542.8h0M2272.1 262.7h0M2225.7 262.7h0M1967.6 610.9h0M2153.4 557.9h0M2215.3 504.9h0M2192.8 574.5h0M2029.5 444.4h0M2099.9 601.7h0M2165.2 420.2h0M1982.6 556.3h0M2075.5 624.9h0M2308.3 338.4h0M2194.7 497.3h0M2256.6 338.4h0M2174.1 338.4h0M2054.2 611.7h0M2190.9 468.4h0M2075.6 566.8h0M2199.3 480.4h0M2024.4 429.2h0M2154.7 581.9h0M2041.9 431.9h0M2236 482.2h0M2179.2 323.2h0M2277.3 368.7h0M2008.9 497.3h0M2060.5 565.5h0M2265.2 300.5h0M2275.5 303.2h0M2199.9 474.6h0M2039.8 550.3h0M2136.5 533.2h0M2225.7 368.7h0M2221 290.2h0M2060.5 603.3h0M2086.3 603.3h0M2127.6 482.2h0M2215.3 330.8h0M2267 345.9h0M2160.4 504.4h0M2019.2 520.1h0M1998.5 641.2h0M2256.6 489.8h0M2330.9 254.6h0M2229.8 360.9h0M1967.6 504.9h0M2292.8 436.8h0M2308 369.4h0M2108.1 589.7h0M2206.1 404.3h0M2256.6 421.6h0M2293.9 279.1h0M2003.7 573h0M2122.4 580.6h0M2199.2 430.8h0M2158.6 550.3h0M2174.1 527.6h0M2194.7 512.5h0M2255.9 477.4h0M2258.1 462.3h0M2217 270.9h0M2318.6 323.2h0M2024.4 626h0M1988.2 656.3h0M2194.7 353.5h0M2034.7 610.9h0M2272.1 293h0M2313.4 262.7h0M2096.6 603.3h0M2210.2 376.2h0M2230.8 391.4h0M2019.2 489.8h0M2101.8 535.2h0M2205 520.1h0M2112.1 633.6h0M2065.7 641.2h0M2146.1 571.9h0M2225.7 300.5h0M2159.1 422.9h0M2106.9 573h0M2045.5 604.9h0M2115.7 524.8h0M2194.7 542.8h0M2205 436.8h0M2132.4 596h0M2184.4 482.2h0M2034.7 633.6h0M2256.6 308.1h0M2206.7 324.5h0M2303.9 431.9h0M2220.9 485.1h0M1998.5 504.9h0M2143.1 368.7h0M2263.5 354h0M2136.6 604.4h0M2297.9 308.1h0M2199.6 383h0M2143.1 542.8h0M2034.7 603.3h0M2224.4 533h0M2015.9 571.6h0M2029.5 610.9h0M2119.2 572.2h0M2282.3 394h0M2033.4 623.8h0M2076 482.2h0M2314.5 362h0M2199.9 338.4h0M2282.5 270.2h0M2210.2 368.7h0M2248.5 467h0M2256.6 406.5h0M2156.4 520h0M1999.3 588.8h0M2137.9 610.9h0M2101.8 618.5h0M1998.5 474.6h0M2225.7 429.2h0M2209 390.3h0M2060.5 527.1h0M2192.9 307.8h0M2019.2 648.8h0M2303.1 330.8h0M2076 603.3h0M2215.3 398.9h0M2158 598.4h0M1977.9 648.8h0M2168.9 421.6h0M2024.4 656.3h0M2132.8 421.6h0M2263.9 270.5h0M2172.4 299.5h0M2225.9 409.4h0M2230.8 512.5h0M2121.1 609h0M2246.3 429.7h0M2077.7 651.2h0M2137.9 338.4h0M2044.5 587h0M2217 375.3h0M2086.3 459.5h0M2163.7 391.4h0M2132.8 610.9h0M2261.8 429.2h0M2029.5 436.8h0M2122.4 626h0M2024.4 497.3h0M2236 504.9h0M2204.5 487.7h0M2173.2 432h0M2140.9 522.4h0M2241.2 406.5h0M2225.7 512.5h0M2132.8 618.5h0M2142.6 465h0M2262.9 459.4h0M1977.9 512.5h0M2137.9 618.5h0M2272.1 330.8h0M1993.4 656.3h0M2142.7 595h0M2267 459.5h0M2017.8 542h0M2101.8 497.3h0M2079.3 610h0M2060.5 489.8h0M2190.6 420.7h0M2292.8 293h0M2318.6 368.7h0M2138.9 489.3h0M2211 339.5h0M2024.4 520.1h0M2241.2 398.9h0M2055.3 580.6h0M2246.3 406.5h0M2039.8 656.3h0M2041.5 474h0M1993.4 663.9h0M2158.2 382.8h0M2012 506.9h0M2139.8 589.5h0M2010.2 620h0M2215.3 391.4h0M1998.5 595.8h0M2261.8 293h0M2194.7 474.6h0M1972.7 595.8h0M2066.1 474.4h0M2150.1 378.9h0M2306.2 276.4h0M2189.5 520.1h0M2003.7 633.6h0M2241.2 300.5h0" stroke="#000" stroke-width="7.2" stroke-linecap="round" fill="none"/></g>
<rect x="1936.6" y="81" width="516.2" height="757" fill="none" stroke="#000" stroke-width="2"/>
<path d="M2065.7 81v15M2065.7 838v-15M2194.7 81v15M2194.7 838v-15M2323.8 81v15M2323.8 838v-15M1962.4 81v8M1962.4 838v-8M1988.2 81v8M1988.2 838v-8M2014 81v8M2014 838v-8M2039.8 81v8M2039.8 838v-8M2091.5 81v8M2091.5 838v-8M2117.3 81v8M2117.3 838v-8M2143.1 81v8M2143.1 838v-8M2168.9 81v8M2168.9 838v-8M2220.5 81v8M2220.5 838v-8M2246.3 81v8M2246.3 838v-8M2272.1 81v8M2272.1 838v-8M2297.9 81v8M2297.9 838v-8M2349.6 81v8M2349.6 838v-8M2375.4 81v8M2375.4 838v-8M2401.2 81v8M2401.2 838v-8M2427 81v8M2427 838v-8M1936.6 648.8h15M2452.8 648.8h-15M1936.6 459.5h15M2452.8 459.5h-15M1936.6 270.2h15M2452.8 270.2h-15M1936.6 800.1h8M2452.8 800.1h-8M1936.6 762.3h8M2452.8 762.3h-8M1936.6 724.5h8M2452.8 724.5h-8M1936.6 686.6h8M2452.8 686.6h-8M1936.6 610.9h8M2452.8 610.9h-8M1936.6 573h8M2452.8 573h-8M1936.6 535.2h8M2452.8 535.2h-8M1936.6 497.3h8M2452.8 497.3h-8M1936.6 421.6h8M2452.8 421.6h-8M1936.6 383.8h8M2452.8 383.8h-8M1936.6 345.9h8M2452.8 345.9h-8M1936.6 308.1h8M2452.8 308.1h-8M1936.6 232.4h8M2452.8 232.4h-8M1936.6 194.6h8M2452.8 194.6h-8M1936.6 156.7h8M2452.8 156.7h-8M1936.6 118.9h8M2452.8 118.9h-8" stroke="#000" stroke-width="1.8" fill="none"/>
<path d="M1936.6 838L2452.8 81" stroke="#222" stroke-width="1.6" fill="none"/>
<text x="1935.6" y="899" style="font-family:'DejaVu Sans','Liberation Sans',sans-serif;font-weight:200;font-size:39px" text-anchor="middle" fill="#444444" stroke="#444444" stroke-width="0.6">200</text>
<text x="2064.7" y="899" style="font-family:'DejaVu Sans','Liberation Sans',sans-serif;font-weight:200;font-size:39px" text-anchor="middle" fill="#444444" stroke="#444444" stroke-width="0.6">250</text>
<text x="2193.7" y="899" style="font-family:'DejaVu Sans','Liberation Sans',sans-serif;font-weight:200;font-size:39px" text-anchor="middle" fill="#444444" stroke="#444444" stroke-width="0.6">300</text>
<text x="2322.8" y="899" style="font-family:'DejaVu Sans','Liberation Sans',sans-serif;font-weight:200;font-size:39px" text-anchor="middle" fill="#444444" stroke="#444444" stroke-width="0.6">350</text>
<text x="2451.8" y="899" style="font-family:'DejaVu Sans','Liberation Sans',sans-serif;font-weight:200;font-size:39px" text-anchor="middle" fill="#444444" stroke="#444444" stroke-width="0.6">400</text>
<text x="1924" y="839.5" style="font-family:'DejaVu Sans','Liberation Sans',sans-serif;font-weight:200;font-size:39px" text-anchor="end" fill="#444444" stroke="#444444" stroke-width="0.6">200</text>
<text x="1924" y="666.8" style="font-family:'DejaVu Sans','Liberation Sans',sans-serif;font-weight:200;font-size:39px" text-anchor="end" fill="#444444" stroke="#444444" stroke-width="0.6">250</text>
<text x="1924" y="477.5" style="font-family:'DejaVu Sans','Liberation Sans',sans-serif;font-weight:200;font-size:39px" text-anchor="end" fill="#444444" stroke="#444444" stroke-width="0.6">300</text>
<text x="1924" y="288.2" style="font-family:'DejaVu Sans','Liberation Sans',sans-serif;font-weight:200;font-size:39px" text-anchor="end" fill="#444444" stroke="#444444" stroke-width="0.6">350</text>
<text x="1924" y="109.5" style="font-family:'DejaVu Sans','Liberation Sans',sans-serif;font-weight:200;font-size:39px" text-anchor="end" fill="#444444" stroke="#444444" stroke-width="0.6">400</text>
<text x="2192.6" y="950.2" style="font-family:'DejaVu Sans','Liberation Sans',sans-serif;font-weight:200;font-size:39px" text-anchor="middle" fill="#444444" stroke="#444444" stroke-width="0.6" textLength="377" lengthAdjust="spacing">Model HmF2 (km)</text>
<text transform="translate(1806 461) rotate(-90)" style="font-family:'DejaVu Sans','Liberation Sans',sans-serif;font-weight:200;font-size:39px" text-anchor="middle" fill="#444444" stroke="#444444" stroke-width="0.6" textLength="447" lengthAdjust="spacing">Retrieved HmF2 (km)</text>
<text x="1983.5" y="157" style="font-family:'DejaVu Sans','Liberation Sans',sans-serif;font-weight:200;font-size:38px" text-anchor="start" fill="#444444" stroke="#444444" stroke-width="0.6" textLength="280" lengthAdjust="spacing">Mean= 7.416</text>
<text x="1985" y="233" style="font-family:'DejaVu Sans','Liberation Sans',sans-serif;font-weight:200;font-size:38px" text-anchor="start" fill="#444444" stroke="#444444" stroke-width="0.6" textLength="247" lengthAdjust="spacing">Std=20.048</text>
</g>
<g id="scatter2">
<text x="2192.6" y="1051.5" style="font-family:'DejaVu Sans','Liberation Sans',sans-serif;font-weight:200;font-size:49.5px" text-anchor="middle" fill="#444444" stroke="#444444" stroke-width="0.6" textLength="283" lengthAdjust="spacing">200812_lat</text>
<g fill="#000"><path d="M2231.5 1454.5h0M2192 1470.5h0M2007.5 1630.5h0M2055.5 1625.5h0M2166 1533h0M2074.5 1617h0M2100.5 1562h0M2213 1460.5h0M2010.5 1710h0M2100 1585.5h0M2174 1513h0M2040.5 1649.5h0M2017.5 1687.5h0M2078.5 1628.5h0M2048.5 1558h0M2066.5 1618h0M2145.5 1537.5h0M2051 1581.5h0M2092.5 1616h0M2234.5 1465h0M2128 1588.5h0M2236.5 1467h0M2225 1462h0M2059.5 1624.5h0M2183.5 1477.5h0M2208 1464h0M2065 1629h0M2149 1564.5h0M2244.5 1456h0M2052.5 1650.5h0M2253.5 1417h0M1988 1728.5h0M2086.5 1522h0M1978 1754h0M2136.5 1500.5h0M2172.5 1431.5h0M2051 1545.5h0M2135.5 1569.5h0M2044 1651h0M2073.5 1530.5h0M1997.5 1699h0M2148.5 1555h0M2025.5 1693h0M2120.5 1514h0M2177 1522h0M2047.5 1665h0M2126.5 1552.5h0M2250.5 1451h0M2126.5 1546h0M2142.5 1545.5h0M2179 1518.5h0M2229 1466.5h0M2051 1647.5h0M2242.5 1426h0M2173 1446.5h0M2156 1546h0M2016 1740.5h0M2028 1573.5h0M2150.5 1550.5h0M2230.5 1476.5h0M2168 1447.5h0M2214.5 1457h0M2235 1465.5h0M2112 1602h0M1997 1683.5h0M2015 1659h0M2165.5 1533.5h0M2013.5 1587.5h0M2115 1567h0M2214 1466.5h0M2107 1597h0M2169.5 1490.5h0M2145 1541.5h0M2238.5 1443h0M2105 1569.5h0M2048.5 1572h0M2165 1500h0M1995.5 1716h0M2134 1572.5h0M2147.5 1556.5h0M2074 1625.5h0M2182.5 1429.5h0M2101.5 1512h0M2066.5 1628.5h0M2047 1598.5h0M2198.5 1492h0M2079.5 1615h0M2138.5 1494.5h0M2103.5 1605.5h0M2106.5 1597h0M2159.5 1524h0M2131.5 1483h0M2107 1602.5h0M2161.5 1530.5h0M2075 1630h0M2173.5 1495.5h0M2188.5 1494h0M2233.5 1467h0M2129.5 1521.5h0M2092 1596.5h0M2038.5 1562.5h0M2120 1543h0M2165 1532.5h0M1980.5 1725.5h0M2006 1746h0M2017 1723.5h0M2176 1482.5h0M2169 1529.5h0M2007.5 1705.5h0M2004.5 1699.5h0M2034 1670h0M2151.5 1557.5h0M2023.5 1697h0M2167 1507.5h0M2026.5 1635h0M2042.5 1587.5h0M2208.5 1448.5h0M2229.5 1465h0M2171 1479.5h0M2103 1604h0M2102 1588h0M2057 1647h0M2131 1504.5h0M2009 1675h0M2016 1631.5h0M2181.5 1508.5h0M2080 1610.5h0M2155.5 1530h0M2163 1500h0M2238 1465.5h0M2248 1428.5h0M2024 1686h0M2174 1468.5h0M2009.5 1747.5h0M2093 1586.5h0M2020.5 1695.5h0M2171.5 1507.5h0M2147.5 1543.5h0M2073 1557h0M2009.5 1702h0M2005 1744.5h0M2025 1567.5h0M2111.5 1574h0M2178 1484h0M2071 1624h0M1983.5 1730.5h0M1973.5 1755h0M2215 1477h0M2081 1584h0M2086 1617.5h0M2199.5 1481h0M2007.5 1732h0M2105.5 1600.5h0M2237.5 1427h0M2006.5 1730.5h0M2080.5 1577.5h0M2067 1543h0M1991 1733h0M2005.5 1690h0M2008.5 1665.5h0M2126 1494.5h0M2065 1590h0M2052.5 1611h0M2012.5 1743.5h0M2177 1489.5h0M2155.5 1525.5h0M2067 1611h0M2136 1580.5h0M1992 1718h0M2059.5 1630.5h0M1970 1763h0M2172 1497.5h0M2152 1517.5h0M2114.5 1570h0M1978 1736.5h0M2042.5 1573h0M2102 1592.5h0M2198.5 1464h0M2147.5 1525h0M1987 1728.5h0M2026 1729h0M2079.5 1626.5h0M2012 1715.5h0M1988 1699h0M2206 1475h0M2133.5 1570.5h0M2021 1726h0M2145.5 1530.5h0M2109.5 1581.5h0M2084 1625h0M2014 1733h0M2006 1691h0M2063 1638h0M2088.5 1548.5h0M2156.5 1539h0M2074.5 1597.5h0M1998.5 1736h0M2196.5 1480.5h0M2012.5 1704.5h0M2177.5 1422h0M2161.5 1459h0M2105 1595.5h0M2016 1722h0M2016.5 1701h0M2230 1454.5h0M2215 1458.5h0M2195.5 1463.5h0M1984 1707h0M2215.5 1464h0M1980 1726.5h0M2186 1502h0M2182.5 1455.5h0M2090 1599.5h0M1989.5 1712h0M2133 1543h0M2101.5 1604h0M2176 1503h0M2152.5 1535.5h0M2072 1621.5h0M2192 1463h0M2113.5 1529.5h0M2097.5 1533.5h0M2186 1479h0M2141.5 1564h0M2029 1684h0M2177.5 1490.5h0M2065 1528h0M2191.5 1472.5h0M2034.5 1591.5h0M2072.5 1628h0M2173.5 1508h0M1992.5 1729h0M2200.5 1480.5h0M1987.5 1733.5h0M2067 1620h0M2207 1419.5h0M2152 1550.5h0M2084.5 1599.5h0M2113 1583.5h0M2030.5 1691.5h0M2101 1587.5h0M1991 1705.5h0M2179 1513.5h0M2105.5 1563.5h0M2030.5 1718h0M2027.5 1719.5h0M2027 1726h0M2133 1575.5h0M2132.5 1577h0M2021 1695.5h0M2044.5 1636h0M2140 1570.5h0M2189 1445.5h0M2068 1622.5h0M2116.5 1588h0M2114.5 1580h0M2148.5 1525h0M2125.5 1593h0M2179 1487h0M2220 1480.5h0M2239 1463.5h0M2051 1551h0M2072.5 1623h0M2051.5 1648.5h0M2160 1533h0M2040 1651h0M2183 1467.5h0M2165.5 1532.5h0M2154.5 1520h0M2232 1434h0M2073.5 1625h0M2030.5 1717h0M2167 1462.5h0M2020.5 1698.5h0M2107.5 1584h0M2203.5 1482.5h0M2086 1607h0M2116 1576.5h0M2121.5 1592.5h0M2147 1509.5h0M2055.5 1628h0M2126.5 1510h0M2069 1604h0M2086 1602h0M2004.5 1732h0M2006 1704h0M2207.5 1480h0M2002 1693.5h0M2229 1447.5h0M2185 1437h0M2099.5 1549h0M2058 1635h0M2222 1480.5h0M2158 1534.5h0M2086 1618.5h0M2113 1576.5h0M2065.5 1620h0M1984.5 1713.5h0M2017 1614h0M1996 1718.5h0M2253.5 1445h0M2017.5 1693h0M2130 1532.5h0M2018.5 1718h0M2044.5 1565.5h0M2071 1618h0M2155.5 1440h0M2077 1615h0M2236.5 1455.5h0M2191 1487.5h0M2235.5 1460.5h0M2116 1570h0M2089.5 1591.5h0M2216.5 1473.5h0M2094 1595h0M2093.5 1585h0M2210.5 1469.5h0M2020 1697h0M2082.5 1561h0M2176 1519h0M2033.5 1671.5h0M2055.5 1571.5h0M2090.5 1595h0M2010 1706h0M2222 1474.5h0M2030.5 1713h0M2011.5 1714.5h0M2197.5 1457.5h0M2067 1557h0M2194 1497h0M2013.5 1703.5h0M2071 1551h0M2170 1522h0M2029 1707h0M2172 1490h0M2115 1566.5h0M2173.5 1490.5h0M2116 1583h0M2026 1731.5h0M2011.5 1690h0M2214.5 1479h0M2109 1569.5h0M2028 1690h0M2039 1662.5h0M2257 1432.5h0M2039.5 1658.5h0M2204 1472.5h0M2032 1636h0M2018.5 1702.5h0M2025.5 1713h0M2003.5 1727h0M2001.5 1727h0M2163 1501h0M2136 1530h0M2246 1415h0M2122 1588.5h0M2089 1613h0M1997.5 1731.5h0M1979.5 1752.5h0M1998.5 1707.5h0M2176.5 1524h0M2096.5 1538.5h0M2152 1545.5h0M2135.5 1570h0M1991.5 1738h0M2150.5 1538.5h0M2179 1501.5h0M2231.5 1466.5h0M1976.5 1750.5h0M2196 1432h0M2146.5 1533.5h0M2139 1509h0M2123 1559.5h0M2199.5 1418.5h0M2106 1585h0M1981 1752h0M2030.5 1717h0M2055.5 1605h0M2113 1593h0M2104.5 1540h0M2089.5 1579.5h0M2048.5 1662h0M2010.5 1743.5h0M2089.5 1535h0M2219 1451h0M2044 1670.5h0M2013 1715h0M2088 1612.5h0M2184.5 1498.5h0M2031 1567.5h0M2195 1464h0M2084.5 1515.5h0M2154 1473.5h0M2137 1562h0M2113.5 1569.5h0M2158.5 1532h0M2218.5 1471.5h0M2182.5 1492.5h0M2111.5 1496.5h0M2132.5 1562.5h0M2189.5 1505.5h0M2199 1497h0M2009.5 1649h0M1983.5 1729h0M2223.5 1475.5h0M2123 1478.5h0M2099.5 1609h0M2013.5 1720.5h0M2170.5 1513h0M2148.5 1536h0M2050 1653h0M2129.5 1560h0M2213.5 1480h0M2208 1457h0M2043 1671h0M1983.5 1711h0M2160 1532.5h0M2158.5 1540.5h0M2183 1481.5h0M2217 1461h0M2194.5 1490h0M2071.5 1586.5h0M2119 1561.5h0M2205 1458.5h0M2175 1515.5h0M2145.5 1516h0M2019.5 1711.5h0M2119.5 1493h0M1980 1733.5h0M2127 1560h0M2143.5 1543.5h0M2213 1473h0M2184 1514h0M1990 1651h0M2099.5 1607.5h0M2194.5 1463h0M2177 1509h0M2200.5 1492.5h0M2060.5 1644h0M2025 1700h0M2195 1469.5h0M2062.5 1571.5h0M2230 1456.5h0M2051 1645.5h0M2190 1498.5h0M2130 1572h0M2168 1507h0M2222 1474h0M2149 1548h0M1995.5 1708h0M1995 1738h0M2190 1493h0M2007.5 1701.5h0M2180.5 1471h0M2212 1466h0M2021 1736.5h0M2226.5 1457.5h0M2026 1726h0M2174.5 1500h0M2040.5 1664h0M2016 1622h0M2080 1541h0M2050 1648.5h0M2084 1590.5h0M2206 1425h0M2138 1536.5h0M2053.5 1537.5h0M2108 1606.5h0M2111.5 1536.5h0M2031.5 1618h0M1987 1735.5h0M2041.5 1647h0M2010 1698.5h0M2130 1580.5h0M2058 1639h0M2209.5 1482h0M2160 1494.5h0M2118.5 1574h0M2104 1590h0M2083.5 1596h0M2076.5 1619h0M2134 1551.5h0M1997.5 1634.5h0M2215.5 1459h0M2075.5 1528.5h0M2169 1494.5h0M2001 1683h0M2200 1487.5h0M2223.5 1461h0M2052 1647h0M2176 1506h0M2173 1440.5h0M2146 1560h0M2081 1620.5h0M1997.5 1716.5h0M2166.5 1525h0M2029 1689.5h0M2131 1552h0M2033.5 1668.5h0M2153 1532h0M2003 1630.5h0M2176.5 1517.5h0M2139.5 1487h0M2209 1470.5h0M2174 1526.5h0M2199.5 1458h0M2112.5 1569h0M2169.5 1481h0M2156 1528h0M1991 1740.5h0M2163.5 1518.5h0M2181 1491h0M2163 1538.5h0M2035.5 1663h0M2110 1594.5h0M2016.5 1684.5h0M2127 1558h0M2142 1552.5h0M2140.5 1566.5h0M2116 1601.5h0M2060 1628.5h0M1984.5 1741.5h0M2192.5 1481.5h0M2089 1613.5h0M2049.5 1640h0M2018.5 1651h0M2176.5 1505h0M2001 1695.5h0M2163 1440h0M2235.5 1455.5h0M2135.5 1574h0M2037.5 1659.5h0M2053 1641h0M2116.5 1596h0M2016.5 1684h0M2149.5 1563h0M2201.5 1461h0M2025.5 1681h0M2036.5 1677h0M2018 1738.5h0M2187.5 1466.5h0M2131 1572.5h0M2212 1457.5h0M2186.5 1468.5h0M2030 1707h0M2085.5 1606.5h0M2166 1499.5h0M2173.5 1510.5h0M2199.5 1477.5h0M2096.5 1591.5h0M2113 1604.5h0M1987 1726.5h0M1996 1696.5h0M2036 1585.5h0M2023.5 1605h0M2191 1491.5h0M2195.5 1462h0M2204.5 1465.5h0M2039 1612h0M1992.5 1656.5h0M2128 1566.5h0M2065.5 1635h0M2017 1698.5h0M2054 1646.5h0M2044.5 1643h0M2218 1482.5h0M2214.5 1469.5h0M2241 1467h0M2182.5 1481h0M2055 1651.5h0M2166.5 1501h0M2026 1726h0M2091.5 1617.5h0M2172.5 1485.5h0M2173 1456h0M2137 1577h0M2138.5 1551h0M2033.5 1670.5h0M2149 1535.5h0M2141 1577.5h0M2041 1649h0M2086.5 1618.5h0M2244 1455h0M2230.5 1472h0M2059 1645.5h0M2013 1709.5h0M2240.5 1455h0M2154.5 1527.5h0M2117 1505h0M2027.5 1723h0M2012.5 1739.5h0M2136 1546h0M2203 1461.5h0M2198 1458h0M2002 1709h0M2029.5 1696h0M1996 1708.5h0M2006.5 1740.5h0M2223.5 1459.5h0M2135.5 1544.5h0M2068 1632h0M2096 1611h0M2028.5 1688.5h0M2206.5 1483h0M2121 1552h0M2114.5 1605h0M1985.5 1727h0M2081.5 1606h0M2201 1477h0M2153.5 1519.5h0M2177 1519.5h0M2028 1703h0M1983 1714.5h0M2127.5 1589h0M2197 1489.5h0M2159.5 1529.5h0M2172 1481h0M1996.5 1742.5h0M2050.5 1651h0M2134.5 1581.5h0M2224.5 1455h0M2079 1612.5h0M2137 1566h0M2114.5 1599h0M2002.5 1716.5h0M2135 1575h0M2174.5 1492.5h0M2224.5 1462h0M2144 1569.5h0M2115 1566h0M2177 1522.5h0M2005 1743.5h0M2056 1592h0M2003 1741.5h0M2194.5 1460.5h0M2054.5 1634.5h0M2149.5 1545h0M2093 1600.5h0M2017 1715.5h0M2062.5 1609.5h0M2060 1638.5h0M2169.5 1529.5h0M2200 1463h0M2043 1647.5h0M2178 1502h0M1994.5 1746.5h0M2158 1479h0M2065 1531h0M2089 1617.5h0M2133.5 1553h0M1983 1709.5h0M2023.5 1677h0M2021 1730.5h0M2086.5 1609h0M2048.5 1618.5h0M1984 1732h0M2027.5 1685h0M2152 1530.5h0M2101.5 1573h0M2181 1483h0M2139 1572h0M2114.5 1584h0M2180.5 1490.5h0M2015.5 1664.5h0M2199.5 1460.5h0M2094.5 1584h0M1979.5 1753.5h0M2011.5 1689h0M2147 1528.5h0M2193 1486h0M2026 1686.5h0M2142 1568.5h0M2173.5 1525.5h0M2011 1703h0M2105 1570h0M2034 1680.5h0M2166.5 1512h0M2188.5 1455h0M2082.5 1597h0M1977 1753h0M2002.5 1695h0M2210.5 1473.5h0M2030.5 1688h0M2148.5 1562.5h0M2193 1484h0M2026.5 1653.5h0M2017.5 1723.5h0M2129 1497.5h0M2144 1546h0M2228.5 1443.5h0M2106.5 1570.5h0M2004.5 1746.5h0M2190.5 1462.5h0M2038 1602h0M2166.5 1502.5h0M2003 1615.5h0M2257 1423h0M2149 1531.5h0M2231.5 1472.5h0M2105.5 1510h0M2021.5 1709.5h0M2124.5 1574h0M2014 1731.5h0M2134.5 1563h0M2244 1445.5h0M2108.5 1594.5h0M2118 1571h0M2057.5 1583h0M2005 1737.5h0M1995.5 1724.5h0M2146.5 1477.5h0M2194.5 1492h0M2115 1482h0M2168 1490.5h0M2209.5 1484h0M2020.5 1698h0M2022.5 1684h0M2203.5 1472.5h0M2224.5 1462h0M2033 1686.5h0M1997.5 1734.5h0M2076 1624h0M2027 1646h0M2205 1467.5h0M2047.5 1563.5h0M2001 1693h0M2237.5 1459h0M2195.5 1462h0M1983 1748h0M1982.5 1745.5h0M2196 1476.5h0M2239.5 1459.5h0M2076 1621h0M2173 1528h0M1977 1744.5h0M2031 1690.5h0M2162.5 1520.5h0M2144 1559.5h0M2209 1475.5h0M2012 1722.5h0M2146.5 1468h0M2131.5 1574h0M2079.5 1604.5h0M2110 1568.5h0M2145.5 1535.5h0M2177 1510.5h0M2239.5 1467h0M2072.5 1521.5h0M2123 1570h0M2026 1720h0M2162.5 1536.5h0M2240.5 1466.5h0M2083.5 1605h0M2207.5 1481.5h0M2084 1624h0M2231 1471h0M2021 1699.5h0M2125 1570.5h0M2044.5 1626h0M2014.5 1689.5h0M2004.5 1715.5h0M2063.5 1578.5h0M2076.5 1628h0M2112.5 1574h0M2044 1664.5h0M2156.5 1536h0M2186.5 1503h0M2154 1527.5h0M2070 1599.5h0M2074.5 1625h0M2204 1492h0M2023.5 1689h0M2140 1567h0M2129.5 1551.5h0M2159 1534.5h0M2149 1528.5h0M2076.5 1579h0M1986 1732.5h0M2004.5 1717.5h0M2012.5 1726.5h0M2024.5 1707.5h0M2111 1522.5h0M2150 1544h0M2156 1524.5h0M2087 1589.5h0M2215.5 1467h0M2138.5 1561h0M2097.5 1558.5h0M2120.5 1562h0M2137.5 1551h0M2011.5 1733h0M1988 1745.5h0M2199.5 1427h0M1993 1714.5h0M2208.5 1465h0M2232.5 1452.5h0M2119 1560.5h0M2115.5 1594.5h0M1988.5 1729h0M2098.5 1536.5h0M2123.5 1597h0M2139.5 1577h0M2252 1446.5h0M2098 1603h0M2190 1503.5h0M1983.5 1739.5h0M2180.5 1481h0M2038 1678.5h0M2222 1476.5h0M2022.5 1691.5h0M2176.5 1520.5h0M2075 1536.5h0M2122 1564h0M2162 1524.5h0M2196.5 1473h0M2212.5 1458h0M2127.5 1584h0M2178.5 1481.5h0M2010.5 1607h0M2016 1739h0M2013 1684h0M2207.5 1466h0M1997.5 1618h0M2138 1524.5h0M2178 1516h0M2163 1535.5h0M2170 1518.5h0M2144.5 1541.5h0M2026 1679.5h0M2149 1545h0M2066 1552.5h0M1993.5 1711.5h0M2239.5 1423h0M2053 1632.5h0M2149.5 1528h0M2128.5 1571.5h0M2010.5 1727h0M2042.5 1668.5h0M2223.5 1479h0M2052 1640h0M2216.5 1418.5h0M2123.5 1510h0M2121.5 1562.5h0M2155.5 1523h0M2170 1507.5h0M2141 1536.5h0M2176.5 1490.5h0M2073.5 1569.5h0M2048.5 1574h0M2052.5 1655h0M1992.5 1697h0M2124.5 1568h0M2091.5 1606.5h0M2193 1462h0M2019 1684h0M2180 1466.5h0M2048 1664.5h0M2163.5 1473.5h0M2038.5 1677h0M2182 1474.5h0M2004 1717h0M2131.5 1574h0M2223.5 1471h0M2201.5 1453h0M2137.5 1569h0M2079.5 1618h0M2137 1549.5h0M2052.5 1636h0M2145.5 1550.5h0M2043 1651h0M2194.5 1479h0M2061.5 1623h0M2199 1496h0M2082 1563.5h0M2094.5 1610.5h0M2192.5 1473h0M1982 1744h0M2193 1474h0M2215 1478.5h0M2104 1499h0M2170.5 1523h0M2220.5 1456h0M2049.5 1611h0M2189.5 1479h0M2189 1498.5h0M2226 1454h0M2010 1693.5h0M2039 1671h0M2013.5 1601.5h0M2038.5 1660.5h0M2019.5 1721.5h0M1996.5 1737h0M2056.5 1650h0M2125 1586h0M2231 1463h0M2210.5 1480h0M2163.5 1523h0M2246.5 1423.5h0M2006 1671h0M2070 1631h0M2047.5 1581.5h0M1996 1704.5h0M2025.5 1693h0M2133 1574.5h0M2022 1683h0M2225 1455h0M2045.5 1644h0M2126.5 1579h0M2024 1722h0M2046 1667.5h0M2129 1582h0M2038.5 1658.5h0M2158 1518h0M2129 1491.5h0M2110 1575h0M2123 1591h0M2171.5 1423.5h0M2049 1648.5h0M2182.5 1506.5h0M2202 1459.5h0M2068.5 1591.5h0M2081 1599h0M2131 1530h0M1991 1700.5h0M2136 1482h0M2124.5 1570h0M2001 1684h0M2063.5 1634h0M2079 1620.5h0M1993 1669h0M2148.5 1520.5h0M2180 1433h0M2062 1644.5h0M2173 1442h0M2038 1657.5h0M1994 1732h0M2064.5 1570h0M1974 1752h0M2092.5 1528.5h0M2052.5 1549h0M2103 1576.5h0M2099 1585.5h0M1994.5 1712.5h0M2096 1581h0M2091 1502.5h0M2038.5 1655h0M2171 1504h0M2214.5 1481h0M2169 1484h0M2116.5 1579h0M2130 1543.5h0M2001 1736.5h0M2171 1504h0M2031.5 1558h0M2001 1736h0M2039.5 1672h0M2027.5 1714h0M1991 1746.5h0M2153.5 1517.5h0M2139 1542h0M2092.5 1576.5h0M2185 1501.5h0M2149.5 1564h0M2161 1541.5h0M2064 1620h0M2089 1514.5h0M2098.5 1574h0M2076 1611.5h0M2158.5 1517h0M2098.5 1519.5h0M2114 1602h0M1976.5 1741h0M2022 1705h0M1991.5 1743.5h0M2015.5 1670.5h0M2019.5 1730h0M1999.5 1677h0M2236.5 1457.5h0M2090 1602h0M2067.5 1631h0M2104.5 1580.5h0M2045 1654h0M2202 1466.5h0M2041.5 1672.5h0M2003 1721h0M2028.5 1567h0M2091 1609h0M2021.5 1708h0M2099.5 1600.5h0M2194 1489h0M2034 1640.5h0M2191.5 1491h0M2065.5 1618.5h0M2164 1494h0M2207 1432h0M2016 1588h0M2023 1706h0M2149.5 1556h0M2195 1497h0M2176 1521h0M2110.5 1593h0M2154.5 1542h0M2091 1602.5h0M2157 1538.5h0M2215.5 1456.5h0M2174 1499h0M2205.5 1484h0M2084.5 1599h0M2112.5 1512h0M2123 1587.5h0M2201 1492.5h0M2071.5 1622.5h0M2122 1584.5h0M2149.5 1537h0M2194 1501h0M2012 1739.5h0M2120 1593h0M2132.5 1587h0M2162.5 1425.5h0M2206 1462.5h0M2112 1542h0M2019.5 1729.5h0M2200 1485.5h0M2029 1684.5h0M2203 1473.5h0M2037 1596.5h0M2213.5 1474h0M2141 1568h0M2079 1547h0M2135 1543h0M2051.5 1653.5h0M2113 1489h0M2004.5 1737h0M2037.5 1681h0M1985.5 1711h0M2244 1449h0M2082 1529.5h0M2149.5 1504.5h0M2040 1663h0M2167 1440.5h0M2039.5 1669.5h0M2230.5 1426h0M2008.5 1596h0M2178.5 1454.5h0M2049.5 1660.5h0M2017 1687.5h0M1984 1729.5h0M2081 1608.5h0M2162 1506.5h0M2015.5 1684.5h0M2155 1523h0M2023.5 1614.5h0M2166.5 1488.5h0M2238.5 1467h0M1998 1741h0M1995 1682.5h0M1988.5 1698.5h0M2234 1443h0M2119 1574h0M2118.5 1504h0M2070 1619.5h0M2190.5 1499h0M2029.5 1711h0M2223.5 1477h0M2018.5 1694h0M2213 1478h0M1985.5 1704h0M2000 1749.5h0M2096.5 1495h0M2207.5 1453.5h0M2069.5 1636.5h0M2036.5 1664.5h0M2094 1614h0M2015.5 1727h0M2039.5 1653.5h0M2136 1517.5h0M2210.5 1474.5h0M2017 1729.5h0M2010 1733h0M1994.5 1710.5h0M2127 1589h0M1996.5 1724h0M2138 1563h0M2125.5 1585h0M2004 1721h0M2075 1625.5h0M2059.5 1627.5h0M2174 1495.5h0M2194 1497h0M2079 1620h0M2003.5 1720h0M2220 1466.5h0M2115 1573.5h0M2019.5 1678h0M2045.5 1659h0M2037 1671h0M2081.5 1618.5h0M2138 1475.5h0M2173.5 1517h0M2040 1581.5h0M2067 1545h0M2048 1641h0M2089.5 1602h0M2031 1675h0M2108.5 1595.5h0M2239.5 1441h0M2169.5 1428.5h0M2009.5 1637h0M2142.5 1542h0M2015.5 1727.5h0M1995.5 1748.5h0M2146 1551h0M1983.5 1716.5h0M1990 1725h0M2192 1478h0M2042 1652h0M2163 1501.5h0M2056.5 1613.5h0M2004 1724.5h0M2155.5 1467h0M2143.5 1559.5h0M2144 1547.5h0M2002 1744.5h0M2022.5 1684.5h0M2210 1478.5h0M2029 1579h0M2018.5 1685h0M2023.5 1606.5h0M2022 1709.5h0M2242 1461h0M2100 1604.5h0M2050.5 1659.5h0M2052 1643.5h0M2104 1598h0M2140 1544.5h0M2174 1518.5h0M1993 1718h0M2026 1683h0M2076.5 1628.5h0M2108 1493.5h0M2014 1692.5h0M2074.5 1629.5h0M2204 1456h0M2084.5 1583.5h0M2083.5 1520h0M2181 1511h0M2025 1678.5h0M2031 1712.5h0M2025 1734h0M2116 1592h0M2182 1494h0M2020 1710h0M2210.5 1479h0M2193 1476.5h0M2246 1455h0M2114 1571h0M1982.5 1732h0M2087.5 1601h0M2179 1508h0M2192.5 1468h0M1998.5 1694.5h0M2004.5 1643.5h0M2211.5 1480.5h0M1978.5 1737.5h0M2188.5 1486h0M2158.5 1539.5h0M2189.5 1508h0M2209.5 1458.5h0M2031.5 1665h0M2180.5 1448h0M2184 1483.5h0M2027.5 1682h0M2127.5 1576h0M2187 1494.5h0M2193 1467h0M2228 1471h0M2146 1533.5h0M2018.5 1630.5h0M2068.5 1617h0M2022 1702h0M2104.5 1599h0M1974.5 1759h0M2026 1724.5h0M2172.5 1492.5h0M2036.5 1624h0M2115 1598h0M2151 1525h0M2011 1689.5h0M2047 1665h0M2189 1481.5h0M2102.5 1595h0M1978.5 1735h0M2100 1573.5h0M2191.5 1477h0M2203 1463h0M2103 1588h0M2232.5 1461.5h0M2157.5 1540.5h0M2172 1484h0M1994.5 1742.5h0M2006 1745h0M2106.5 1586.5h0M2026 1679.5h0M2062 1638h0M1987 1704.5h0M1996.5 1712.5h0M2042.5 1652.5h0M2161 1506.5h0M2226 1452h0M2097 1607.5h0M2221 1482h0M2081.5 1617.5h0M2088.5 1546.5h0M1994.5 1634h0M1992.5 1712h0M2187 1480h0M2118.5 1588.5h0M2034 1564h0M2061 1645.5h0M2049.5 1590.5h0M2147 1546h0M2087 1536h0M2225.5 1471h0M1993.5 1702h0M2005.5 1733.5h0M2185 1478.5h0M2136 1546h0M2223 1425.5h0M2074.5 1579.5h0M2068 1600.5h0M2041.5 1553h0M2000 1635.5h0M2048 1561.5h0M1989.5 1739h0M2140 1540.5h0M2097.5 1601.5h0M2047.5 1644h0M2157.5 1508.5h0M2131 1563h0M2145.5 1570.5h0M2123.5 1586.5h0M2086 1621.5h0M2154.5 1532.5h0M2053 1648.5h0M2229.5 1451.5h0M1997 1726h0M1999.5 1663.5h0M2195.5 1458.5h0M2020.5 1691.5h0M2090.5 1616h0M2088 1593.5h0M2084 1624.5h0M2014.5 1722.5h0M2103 1588.5h0M2232 1450.5h0M2063.5 1610h0M2148.5 1560h0M2206 1485h0M2044.5 1665.5h0M2162.5 1540h0M2147 1472.5h0M2111 1584.5h0M1987.5 1703h0M2073 1631h0M2052 1646h0M2035.5 1683h0M2223.5 1435h0M2098.5 1542.5h0M2098 1577h0M2186 1491.5h0M2185 1486h0M2161.5 1432.5h0M2016.5 1695h0M2056.5 1636h0M2196 1472.5h0M2148 1555.5h0M2049.5 1542h0M1989.5 1735.5h0M2045.5 1640h0M2146.5 1565.5h0M2254 1445.5h0M1995 1657.5h0M2140 1545h0M2167.5 1503h0M2034 1677h0M2011.5 1739.5h0M2041 1651.5h0M2004.5 1716.5h0M2123 1483.5h0M1987.5 1734h0M2229.5 1465h0M2241 1416h0M2119.5 1563.5h0M2121 1530.5h0M2046.5 1643h0M1997.5 1712.5h0M1993 1713.5h0M1996.5 1623h0M2026 1702h0M2053 1657h0M2138.5 1572h0M2015.5 1731h0M2043 1659h0M2053.5 1646.5h0M2126.5 1592h0M2103.5 1508h0M2031 1678h0M2059 1634.5h0M2054 1579.5h0M2169 1505.5h0M1988.5 1716.5h0M2172 1522.5h0M2075.5 1531h0M2189 1490.5h0M2040.5 1669.5h0M2071 1536.5h0M2239 1466.5h0M2104 1521.5h0M2046 1644.5h0M1989.5 1715.5h0M2076 1552.5h0M2173.5 1525h0M2040.5 1676.5h0M1998 1720.5h0M2017 1702h0M1985 1714h0M2086.5 1600.5h0M2035.5 1612h0M1987.5 1692h0M2055.5 1568h0M2140 1535h0M1986.5 1731.5h0M2185.5 1511.5h0M2197 1426h0M1999 1740h0M2194 1503h0M2041 1632h0M2147 1552h0M2026.5 1730.5h0M2209 1463.5h0M2080 1618.5h0M2028 1725.5h0M2013 1717h0M2165.5 1498h0M2194 1480.5h0M2230 1462h0M2207.5 1455.5h0M2114 1580.5h0M1996.5 1748h0M2131.5 1496h0M2145 1566.5h0M2143.5 1568.5h0M2040 1651h0M1983.5 1737.5h0M2023.5 1576.5h0M2151.5 1520.5h0M2028.5 1671.5h0M2029.5 1700.5h0M2045 1652.5h0M2002.5 1709h0M2142.5 1554h0M2114.5 1576.5h0M2112 1585.5h0M2182.5 1466.5h0M2203.5 1460.5h0M2013.5 1703.5h0M1998.5 1701.5h0M2204.5 1479.5h0M2139 1571h0M2168.5 1520h0M2025.5 1589.5h0M2001.5 1715h0M2217.5 1462h0M2177 1521h0M2155.5 1536h0M2061.5 1630.5h0M2091 1589h0M2151.5 1534.5h0M2159.5 1460h0M2124.5 1582.5h0M2177 1500.5h0M2143 1486.5h0M2087 1617h0M2122.5 1559.5h0M2007 1697.5h0M2090 1614.5h0M2132 1565h0M2006 1727.5h0M2193.5 1492.5h0M2226.5 1473h0M2233.5 1466h0M2006 1741h0M2028 1719.5h0M2197 1477.5h0M2011 1699.5h0M2150 1523.5h0M2097.5 1610h0M2136.5 1538.5h0M2203.5 1471h0M1997 1719.5h0M2084.5 1616.5h0M2056.5 1648.5h0M2196.5 1461h0M2119 1512h0M2080.5 1623.5h0M2106.5 1583h0M2172 1476.5h0M2082 1557h0M2097 1600h0M1991.5 1705.5h0M2124 1560.5h0M2171.5 1482.5h0M2005 1611h0M2153.5 1516h0M2172.5 1515h0M2194.5 1468h0M2200.5 1434.5h0M2006.5 1747h0M2138.5 1566h0M2126.5 1588.5h0M2201 1486.5h0M2157 1440h0M2038 1570h0M2097.5 1612h0M1991 1707h0M2168.5 1491h0M1988 1709.5h0M2002.5 1696.5h0M2017.5 1730h0M2100.5 1564h0M2096 1601h0M2164.5 1532.5h0M2076.5 1520h0M1988 1701h0M2013.5 1708.5h0M2197 1476h0M2032 1678.5h0M2187.5 1509.5h0M2091 1616.5h0M2005 1655.5h0M2016.5 1702.5h0M2169.5 1495h0M2124 1582.5h0M2011.5 1742h0M2076.5 1608.5h0M2162 1518h0M2153.5 1549.5h0M2179 1512.5h0M2085.5 1591h0M2193 1463.5h0M2192.5 1482h0M2224.5 1467.5h0M2154.5 1537.5h0M2049.5 1646.5h0M2121 1582h0M2211.5 1459.5h0M2227 1473h0M2169 1498h0M2181.5 1495.5h0M1993.5 1735.5h0M2142 1544.5h0M2145.5 1527.5h0M2154 1549h0M2153 1539.5h0M2064.5 1638h0M2122 1542.5h0M2133.5 1511h0M2176.5 1475.5h0M2231 1470h0M2148 1566h0M2221.5 1466.5h0M2156 1538.5h0M1993.5 1723.5h0M1980 1740h0M2214 1485.5h0M2120.5 1600.5h0M2055 1640h0M2077 1609.5h0M2025 1683.5h0M2116.5 1556h0M2166 1503.5h0M1982 1745.5h0M2205 1471.5h0M2030.5 1677.5h0M2161.5 1526.5h0M2039 1656.5h0M2129 1550h0M2003.5 1740.5h0M2132 1571h0M2045.5 1595.5h0M2009 1713h0M2091.5 1588h0M2181.5 1485.5h0M2154 1514h0M2132.5 1570.5h0M2094.5 1604.5h0M1988 1724.5h0M2116 1560.5h0M2064 1631.5h0M2083.5 1615h0M2058.5 1644.5h0M2152 1532.5h0M2044 1648h0M2147.5 1548.5h0M2018 1692h0M2023 1730h0M2231 1464h0M1998 1739h0M2067 1574.5h0M2009 1721h0M2106 1600.5h0M2027.5 1697h0M2137 1504.5h0M2008 1738.5h0M2052.5 1648.5h0M2027 1672.5h0M2044 1668h0M2029 1621.5h0M2030 1720h0M2161 1531h0M2026.5 1689h0M2008.5 1724.5h0M2046.5 1582h0M2141.5 1541h0M2007 1743h0M1995.5 1739h0M2212.5 1439h0M2108.5 1567.5h0M2107 1571h0M2205.5 1483.5h0M2190 1491.5h0M2137.5 1562.5h0M2232 1466h0M2066.5 1530.5h0M2097.5 1517.5h0M2072.5 1624h0M2005.5 1706h0M2051.5 1634.5h0M2145.5 1559.5h0M2009.5 1735h0M2099 1602h0M2097 1610h0M2170.5 1515.5h0M2042.5 1666h0M1987 1726h0M2043 1615.5h0M2012 1698.5h0M2157.5 1513.5h0M2114.5 1574.5h0M2199.5 1470.5h0M2055.5 1645h0M1991 1682.5h0M2019 1709h0M2214 1482h0M2008 1748h0M2128.5 1474.5h0M2111 1578.5h0M2181 1470h0M1996.5 1681h0M2005.5 1716.5h0M2136.5 1543h0M2144.5 1544h0M2140 1537.5h0M1995 1727h0M2153 1530.5h0M2192.5 1466.5h0M2010.5 1698h0M2159 1525.5h0M1995 1738.5h0M1974.5 1748.5h0M2021 1697h0M2031 1667h0M2125 1588h0M2027 1704h0M2021.5 1671h0M2217 1420.5h0M2176 1515h0M2096.5 1504.5h0M2176 1491h0M2022 1707.5h0M2030 1673.5h0M2094 1578h0M2107.5 1600h0M1987 1704.5h0M2045 1657.5h0M2119 1549h0M2171.5 1507h0M2110.5 1574h0M2155 1480.5h0M2012.5 1733.5h0M2227 1473.5h0M1983.5 1720h0M1995.5 1676h0M2205.5 1484h0M2211.5 1474h0M2037 1664h0M2102.5 1586.5h0M2141.5 1535h0M2167.5 1489h0M2196.5 1493h0M2190.5 1486.5h0M2026 1703h0M2009 1699.5h0M2147.5 1559.5h0M2196.5 1493.5h0M2003 1687h0M2027.5 1716h0M2165 1492.5h0M2188.5 1485h0M2192 1491.5h0M2169 1530.5h0M2117 1565.5h0M2076 1614h0M2241 1445.5h0M2195 1495.5h0M2164.5 1530h0M2012.5 1650h0M2025 1682.5h0M2117.5 1519h0M2038 1594h0M2033 1599h0M2096 1575.5h0M2097 1575h0M2179.5 1516.5h0M2142 1570h0M2000 1733.5h0M2027 1688.5h0M2142 1569.5h0M2139 1553h0M2196 1474.5h0M2137.5 1570h0M2204.5 1477h0M2006.5 1701h0M2020 1734.5h0M2129.5 1584.5h0M2242.5 1456h0M2166 1502h0M2154.5 1520.5h0M2134 1556.5h0M2237 1427h0M2153.5 1546.5h0M2162.5 1498.5h0M2173 1440h0M2063.5 1630h0M2106 1581.5h0M2170.5 1508h0M2213.5 1478.5h0M1994.5 1719h0M2071.5 1629h0M2106 1584.5h0M2125 1573h0M2129.5 1551.5h0M2087.5 1601h0M2015.5 1658.5h0M2021 1630.5h0M2004.5 1695h0M2185.5 1417.5h0M2168.5 1486.5h0M2170 1485.5h0M2109 1582h0M2202.5 1439.5h0M2230.5 1444h0M2205.5 1456.5h0M2077 1625.5h0M2076 1542h0M1992.5 1734.5h0M2021.5 1720.5h0M1980.5 1730.5h0M2171.5 1516h0M2169.5 1521.5h0M2144.5 1472.5h0M2160 1506h0M2163.5 1506h0M2018.5 1737.5h0M2197 1462h0M2154.5 1528.5h0M2144 1506h0M2226.5 1476h0M2004 1716h0M2144.5 1540h0M2025 1689.5h0M2227.5 1416.5h0M2176 1521h0M2148.5 1565.5h0M1978.5 1748h0M2039.5 1672.5h0M2124.5 1576h0M2156.5 1546h0M2036 1636h0M2040 1676h0M2031.5 1670h0M2019 1718h0M1988 1745h0M1983.5 1716h0M2005 1711h0M2009 1668.5h0M2076 1631.5h0M1993.5 1725.5h0M2182 1480.5h0M2210 1482.5h0M2216 1454.5h0M2238 1459h0M2124.5 1561h0M2027.5 1687h0M2200.5 1461.5h0M2028.5 1680h0M1989.5 1708h0M1981 1735.5h0M1993 1688h0M2189 1505.5h0M2056 1639.5h0M2145 1549h0M2234.5 1449.5h0M2055.5 1648.5h0M2234 1459.5h0M1997.5 1713.5h0M2169.5 1522h0M2092 1617.5h0M2022.5 1678.5h0M2219 1459h0M2153 1544h0M2131.5 1488h0M2035.5 1558h0M2121.5 1570.5h0M2131.5 1481.5h0M1978.5 1735h0M1976.5 1755h0M2092.5 1608.5h0M1974 1759h0M2012.5 1702.5h0M2028.5 1698.5h0M2090 1591.5h0M2032 1712h0M2250.5 1423h0M2151.5 1529.5h0M2236 1451h0M2012.5 1730h0M1995.5 1661.5h0M2223.5 1461h0M2183.5 1510.5h0M2194 1442h0M2000 1691.5h0M2133.5 1557h0M2140 1559.5h0M2121 1481h0M2028.5 1702.5h0M2057.5 1531.5h0M2050 1555h0M2159 1508.5h0M2212.5 1456h0M2072.5 1631.5h0M1992.5 1726.5h0M2101.5 1574.5h0M2059 1632h0M2100 1493h0M2028 1704h0M2085.5 1572h0M1984.5 1721.5h0M2025 1693.5h0M2111.5 1520.5h0M2165 1475h0M1986 1734.5h0M2066.5 1620.5h0M2239.5 1455.5h0M2091 1576.5h0M2015.5 1733h0M2131 1537h0M2071 1632h0M2050.5 1612h0M2137.5 1580.5h0M2053.5 1639.5h0M2152.5 1499h0M2031 1679h0M2040 1673.5h0M1999.5 1743.5h0M2229.5 1473h0M2102 1583h0M1999 1628h0M2092.5 1531h0M2165 1430h0M2186.5 1503.5h0M2187 1428h0M2204.5 1479h0M2226 1428h0M2193 1478h0M1990 1676.5h0M2014.5 1726.5h0M2009.5 1719.5h0M1995.5 1731.5h0M2061 1641.5h0M2076.5 1616.5h0M2091.5 1618.5h0M1994.5 1711h0M2176.5 1517h0M2079.5 1599.5h0M1997 1705h0M2008 1707h0M2022.5 1698h0M2226.5 1458h0M2183.5 1479.5h0M2115 1597.5h0M2033.5 1680h0M2096.5 1613.5h0M2028 1719h0M2047 1643.5h0M2207 1432h0M2127.5 1577.5h0M2052 1659h0M2011 1704.5h0M1995.5 1655h0M2219.5 1466.5h0M1992 1734h0M2240 1450h0M2039 1603h0M2180 1488.5h0M2062 1621.5h0M2007.5 1699.5h0M2117 1559.5h0M2010.5 1710.5h0M2076 1564h0M2088 1604h0M2127 1515h0M2137.5 1551.5h0M2171 1511.5h0M2140 1559h0M2103.5 1583h0M2189 1468.5h0M2173.5 1492.5h0M2068.5 1629.5h0M1986.5 1722h0M2015.5 1718.5h0M2172.5 1502h0M2227.5 1452.5h0M1984.5 1743h0M2087 1513.5h0M1985.5 1747.5h0M2086 1598h0M2009 1625.5h0M1992.5 1705.5h0M2082 1616h0M2204.5 1489h0M1976.5 1742h0M2038.5 1552.5h0M1979.5 1749h0M2129 1560.5h0M2131 1568h0M2127 1568h0M2189 1468.5h0M2067.5 1632.5h0M2133 1544.5h0M2109.5 1515h0M2160.5 1460.5h0M2029.5 1718.5h0M2070 1622.5h0M2116 1597.5h0M2042.5 1649.5h0M2157.5 1541h0M2235.5 1468.5h0M2220 1476.5h0M2095 1589h0M2020.5 1711h0M2034.5 1687.5h0M2000.5 1692h0M2116.5 1511h0M2021 1691.5h0M2085.5 1618h0M2014 1715.5h0M1986.5 1729.5h0M2041 1570h0M1978.5 1754h0M2164.5 1500h0M2094.5 1573.5h0M2081 1531.5h0M2081 1614.5h0M2045.5 1642h0M2064.5 1605h0M2021 1733.5h0M2241.5 1453h0M2096 1589h0M2109 1603.5h0M2212.5 1464.5h0M2056 1644h0M2097 1607.5h0M1985.5 1740.5h0M2176.5 1486h0M2079 1616.5h0M2028 1712h0M2148 1557.5h0M2079 1572h0M2005 1703h0M2138.5 1565h0M2239.5 1465h0M2165.5 1436h0M2167.5 1487h0M2148 1527h0M2207 1456h0M2107 1601h0M2127.5 1581h0M2180.5 1464h0M2057.5 1540.5h0" stroke="#000" stroke-width="6" stroke-linecap="round" fill="none"/></g>
<rect x="1936.6" y="1076" width="516.2" height="756" fill="none" stroke="#000" stroke-width="2"/>
<path d="M2039.8 1076v15M2039.8 1832v-15M2143.1 1076v15M2143.1 1832v-15M2246.3 1076v15M2246.3 1832v-15M2349.6 1076v15M2349.6 1832v-15M1946.9 1076v8M1946.9 1832v-8M1957.2 1076v8M1957.2 1832v-8M1967.6 1076v8M1967.6 1832v-8M1977.9 1076v8M1977.9 1832v-8M1988.2 1076v8M1988.2 1832v-8M1998.5 1076v8M1998.5 1832v-8M2008.9 1076v8M2008.9 1832v-8M2019.2 1076v8M2019.2 1832v-8M2029.5 1076v8M2029.5 1832v-8M2050.2 1076v8M2050.2 1832v-8M2060.5 1076v8M2060.5 1832v-8M2070.8 1076v8M2070.8 1832v-8M2081.1 1076v8M2081.1 1832v-8M2091.5 1076v8M2091.5 1832v-8M2101.8 1076v8M2101.8 1832v-8M2112.1 1076v8M2112.1 1832v-8M2122.4 1076v8M2122.4 1832v-8M2132.8 1076v8M2132.8 1832v-8M2153.4 1076v8M2153.4 1832v-8M2163.7 1076v8M2163.7 1832v-8M2174.1 1076v8M2174.1 1832v-8M2184.4 1076v8M2184.4 1832v-8M2194.7 1076v8M2194.7 1832v-8M2205 1076v8M2205 1832v-8M2215.3 1076v8M2215.3 1832v-8M2225.7 1076v8M2225.7 1832v-8M2236 1076v8M2236 1832v-8M2256.6 1076v8M2256.6 1832v-8M2267 1076v8M2267 1832v-8M2277.3 1076v8M2277.3 1832v-8M2287.6 1076v8M2287.6 1832v-8M2297.9 1076v8M2297.9 1832v-8M2308.3 1076v8M2308.3 1832v-8M2318.6 1076v8M2318.6 1832v-8M2328.9 1076v8M2328.9 1832v-8M2339.2 1076v8M2339.2 1832v-8M2359.9 1076v8M2359.9 1832v-8M2370.2 1076v8M2370.2 1832v-8M2380.5 1076v8M2380.5 1832v-8M2390.9 1076v8M2390.9 1832v-8M2401.2 1076v8M2401.2 1832v-8M2411.5 1076v8M2411.5 1832v-8M2421.8 1076v8M2421.8 1832v-8M2432.2 1076v8M2432.2 1832v-8M2442.5 1076v8M2442.5 1832v-8M1936.6 1680.8h15M2452.8 1680.8h-15M1936.6 1529.6h15M2452.8 1529.6h-15M1936.6 1378.4h15M2452.8 1378.4h-15M1936.6 1227.2h15M2452.8 1227.2h-15M1936.6 1816.9h8M2452.8 1816.9h-8M1936.6 1801.8h8M2452.8 1801.8h-8M1936.6 1786.6h8M2452.8 1786.6h-8M1936.6 1771.5h8M2452.8 1771.5h-8M1936.6 1756.4h8M2452.8 1756.4h-8M1936.6 1741.3h8M2452.8 1741.3h-8M1936.6 1726.2h8M2452.8 1726.2h-8M1936.6 1711h8M2452.8 1711h-8M1936.6 1695.9h8M2452.8 1695.9h-8M1936.6 1665.7h8M2452.8 1665.7h-8M1936.6 1650.6h8M2452.8 1650.6h-8M1936.6 1635.4h8M2452.8 1635.4h-8M1936.6 1620.3h8M2452.8 1620.3h-8M1936.6 1605.2h8M2452.8 1605.2h-8M1936.6 1590.1h8M2452.8 1590.1h-8M1936.6 1575h8M2452.8 1575h-8M1936.6 1559.8h8M2452.8 1559.8h-8M1936.6 1544.7h8M2452.8 1544.7h-8M1936.6 1514.5h8M2452.8 1514.5h-8M1936.6 1499.4h8M2452.8 1499.4h-8M1936.6 1484.2h8M2452.8 1484.2h-8M1936.6 1469.1h8M2452.8 1469.1h-8M1936.6 1454h8M2452.8 1454h-8M1936.6 1438.9h8M2452.8 1438.9h-8M1936.6 1423.8h8M2452.8 1423.8h-8M1936.6 1408.6h8M2452.8 1408.6h-8M1936.6 1393.5h8M2452.8 1393.5h-8M1936.6 1363.3h8M2452.8 1363.3h-8M1936.6 1348.2h8M2452.8 1348.2h-8M1936.6 1333h8M2452.8 1333h-8M1936.6 1317.9h8M2452.8 1317.9h-8M1936.6 1302.8h8M2452.8 1302.8h-8M1936.6 1287.7h8M2452.8 1287.7h-8M1936.6 1272.6h8M2452.8 1272.6h-8M1936.6 1257.4h8M2452.8 1257.4h-8M1936.6 1242.3h8M2452.8 1242.3h-8M1936.6 1212.1h8M2452.8 1212.1h-8M1936.6 1197h8M2452.8 1197h-8M1936.6 1181.8h8M2452.8 1181.8h-8M1936.6 1166.7h8M2452.8 1166.7h-8M1936.6 1151.6h8M2452.8 1151.6h-8M1936.6 1136.5h8M2452.8 1136.5h-8M1936.6 1121.4h8M2452.8 1121.4h-8M1936.6 1106.2h8M2452.8 1106.2h-8M1936.6 1091.1h8M2452.8 1091.1h-8" stroke="#000" stroke-width="1.8" fill="none"/>
<path d="M1936.6 1832L2452.8 1076" stroke="#222" stroke-width="1.6" fill="none"/>
<text x="1935.6" y="1892" style="font-family:'DejaVu Sans','Liberation Sans',sans-serif;font-weight:200;font-size:39px" text-anchor="middle" fill="#444444" stroke="#444444" stroke-width="0.6">0</text>
<text x="2038.8" y="1892" style="font-family:'DejaVu Sans','Liberation Sans',sans-serif;font-weight:200;font-size:39px" text-anchor="middle" fill="#444444" stroke="#444444" stroke-width="0.6">1</text>
<text x="2142.1" y="1892" style="font-family:'DejaVu Sans','Liberation Sans',sans-serif;font-weight:200;font-size:39px" text-anchor="middle" fill="#444444" stroke="#444444" stroke-width="0.6">2</text>
<text x="2245.3" y="1892" style="font-family:'DejaVu Sans','Liberation Sans',sans-serif;font-weight:200;font-size:39px" text-anchor="middle" fill="#444444" stroke="#444444" stroke-width="0.6">3</text>
<text x="2348.6" y="1892" style="font-family:'DejaVu Sans','Liberation Sans',sans-serif;font-weight:200;font-size:39px" text-anchor="middle" fill="#444444" stroke="#444444" stroke-width="0.6">4</text>
<text x="2451.8" y="1892" style="font-family:'DejaVu Sans','Liberation Sans',sans-serif;font-weight:200;font-size:39px" text-anchor="middle" fill="#444444" stroke="#444444" stroke-width="0.6">5</text>
<text x="1921" y="1833.5" style="font-family:'DejaVu Sans','Liberation Sans',sans-serif;font-weight:200;font-size:39px" text-anchor="end" fill="#444444" stroke="#444444" stroke-width="0.6">0</text>
<text x="1921" y="1698.8" style="font-family:'DejaVu Sans','Liberation Sans',sans-serif;font-weight:200;font-size:39px" text-anchor="end" fill="#444444" stroke="#444444" stroke-width="0.6">1</text>
<text x="1921" y="1547.6" style="font-family:'DejaVu Sans','Liberation Sans',sans-serif;font-weight:200;font-size:39px" text-anchor="end" fill="#444444" stroke="#444444" stroke-width="0.6">2</text>
<text x="1921" y="1396.4" style="font-family:'DejaVu Sans','Liberation Sans',sans-serif;font-weight:200;font-size:39px" text-anchor="end" fill="#444444" stroke="#444444" stroke-width="0.6">3</text>
<text x="1921" y="1245.2" style="font-family:'DejaVu Sans','Liberation Sans',sans-serif;font-weight:200;font-size:39px" text-anchor="end" fill="#444444" stroke="#444444" stroke-width="0.6">4</text>
<text x="1921" y="1104.5" style="font-family:'DejaVu Sans','Liberation Sans',sans-serif;font-weight:200;font-size:39px" text-anchor="end" fill="#444444" stroke="#444444" stroke-width="0.6">5</text>
<text x="2193.6" y="1942.5" style="font-family:'DejaVu Sans','Liberation Sans',sans-serif;font-weight:200;font-size:39px" text-anchor="middle" fill="#444444" stroke="#444444" stroke-width="0.6" textLength="371" lengthAdjust="spacing">Model f0F2 (MHz)</text>
<text transform="translate(1860 1455) rotate(-90)" style="font-family:'DejaVu Sans','Liberation Sans',sans-serif;font-weight:200;font-size:39px" text-anchor="middle" fill="#444444" stroke="#444444" stroke-width="0.6" textLength="436" lengthAdjust="spacing">Retrieved f0F2 (MHz)</text>
<text x="1984" y="1151.5" style="font-family:'DejaVu Sans','Liberation Sans',sans-serif;font-weight:200;font-size:38px" text-anchor="start" fill="#444444" stroke="#444444" stroke-width="0.6" textLength="278" lengthAdjust="spacing">Mean= 0.072</text>
<text x="1985" y="1227.5" style="font-family:'DejaVu Sans','Liberation Sans',sans-serif;font-weight:200;font-size:38px" text-anchor="start" fill="#444444" stroke="#444444" stroke-width="0.6" textLength="240" lengthAdjust="spacing">Std= 0.235</text>
</g>
</svg>
</body></html>
